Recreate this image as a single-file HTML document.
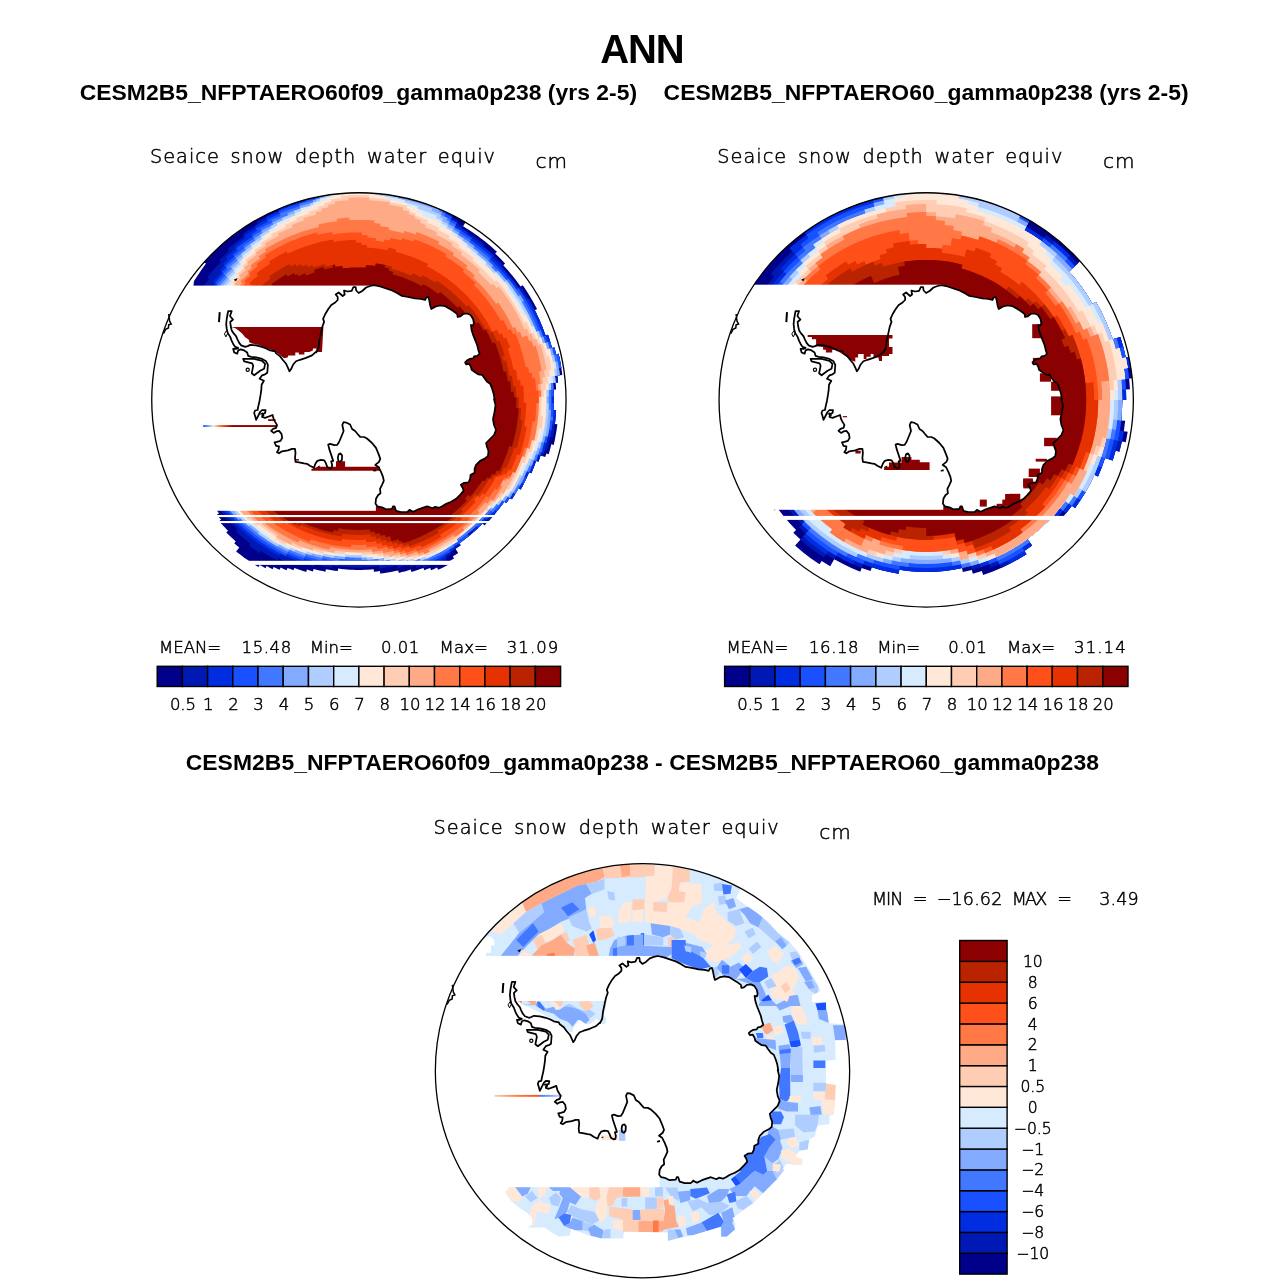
<!DOCTYPE html><html><head><meta charset="utf-8"><title>ANN</title><style>html,body{margin:0;padding:0;background:#fff}svg{display:block}</style></head><body><svg width="1285" height="1284" viewBox="0 0 1285 1284">
<rect width="1285" height="1284" fill="#fff"/>
<defs>
<clipPath id="cc1"><circle cx="358.9" cy="399.9" r="207.15"/></clipPath>
<clipPath id="cc2"><circle cx="926.2" cy="399.9" r="207.15"/></clipPath>
<clipPath id="cc3"><circle cx="642.5" cy="1070.8" r="207.15"/></clipPath>
</defs>
<text x="600.2" y="63" font-size="40" style="font-family:'Liberation Sans',Arial,Helvetica,sans-serif;font-weight:bold" text-anchor="start" textLength="84.5" lengthAdjust="spacing" >ANN</text>
<text x="79.7" y="99.9" font-size="22.9" style="font-family:'Liberation Sans',Arial,Helvetica,sans-serif;font-weight:bold" text-anchor="start" textLength="557.3" lengthAdjust="spacing" >CESM2B5_NFPTAERO60f09_gamma0p238 (yrs 2-5)</text>
<text x="663.6" y="99.9" font-size="22.9" style="font-family:'Liberation Sans',Arial,Helvetica,sans-serif;font-weight:bold" text-anchor="start" textLength="525" lengthAdjust="spacing" >CESM2B5_NFPTAERO60_gamma0p238 (yrs 2-5)</text>
<text x="185.7" y="770.4" font-size="22.9" style="font-family:'Liberation Sans',Arial,Helvetica,sans-serif;font-weight:bold" text-anchor="start" textLength="913.2" lengthAdjust="spacing" >CESM2B5_NFPTAERO60f09_gamma0p238 - CESM2B5_NFPTAERO60_gamma0p238</text>
<text x="149.9" y="163.4" font-size="19.3" style="font-family:'DejaVu Sans Light','DejaVu Sans','Liberation Sans',sans-serif;font-weight:200;stroke:#000;stroke-width:0.5;word-spacing:3.5px" text-anchor="start" textLength="345.1" lengthAdjust="spacing" >Seaice snow depth water equiv</text>
<text x="535.6" y="167.6" font-size="20" style="font-family:'DejaVu Sans Light','DejaVu Sans','Liberation Sans',sans-serif;font-weight:200;stroke:#000;stroke-width:0.5" text-anchor="start" textLength="31.5" lengthAdjust="spacing" >cm</text>
<text x="717.3" y="163.4" font-size="19.3" style="font-family:'DejaVu Sans Light','DejaVu Sans','Liberation Sans',sans-serif;font-weight:200;stroke:#000;stroke-width:0.5;word-spacing:3.5px" text-anchor="start" textLength="345.1" lengthAdjust="spacing" >Seaice snow depth water equiv</text>
<text x="1103" y="167.6" font-size="20" style="font-family:'DejaVu Sans Light','DejaVu Sans','Liberation Sans',sans-serif;font-weight:200;stroke:#000;stroke-width:0.5" text-anchor="start" textLength="31.5" lengthAdjust="spacing" >cm</text>
<text x="433.6" y="834.3" font-size="19.3" style="font-family:'DejaVu Sans Light','DejaVu Sans','Liberation Sans',sans-serif;font-weight:200;stroke:#000;stroke-width:0.5;word-spacing:3.5px" text-anchor="start" textLength="345.1" lengthAdjust="spacing" >Seaice snow depth water equiv</text>
<text x="819.3" y="838.5" font-size="20" style="font-family:'DejaVu Sans Light','DejaVu Sans','Liberation Sans',sans-serif;font-weight:200;stroke:#000;stroke-width:0.5" text-anchor="start" textLength="31.5" lengthAdjust="spacing" >cm</text>
<rect x="157.2" y="666.3" width="25.2" height="20.2" fill="#00008b" stroke="#000" stroke-width="1.4"/>
<rect x="182.4" y="666.3" width="25.2" height="20.2" fill="#0019b4" stroke="#000" stroke-width="1.4"/>
<rect x="207.6" y="666.3" width="25.2" height="20.2" fill="#002de1" stroke="#000" stroke-width="1.4"/>
<rect x="232.8" y="666.3" width="25.2" height="20.2" fill="#1950ff" stroke="#000" stroke-width="1.4"/>
<rect x="258" y="666.3" width="25.2" height="20.2" fill="#4178ff" stroke="#000" stroke-width="1.4"/>
<rect x="283.2" y="666.3" width="25.2" height="20.2" fill="#82aaff" stroke="#000" stroke-width="1.4"/>
<rect x="308.5" y="666.3" width="25.2" height="20.2" fill="#afcdff" stroke="#000" stroke-width="1.4"/>
<rect x="333.7" y="666.3" width="25.2" height="20.2" fill="#d7ebff" stroke="#000" stroke-width="1.4"/>
<rect x="358.9" y="666.3" width="25.2" height="20.2" fill="#ffe8d7" stroke="#000" stroke-width="1.4"/>
<rect x="384.1" y="666.3" width="25.2" height="20.2" fill="#ffcdb4" stroke="#000" stroke-width="1.4"/>
<rect x="409.3" y="666.3" width="25.2" height="20.2" fill="#ffaa87" stroke="#000" stroke-width="1.4"/>
<rect x="434.5" y="666.3" width="25.2" height="20.2" fill="#ff7846" stroke="#000" stroke-width="1.4"/>
<rect x="459.7" y="666.3" width="25.2" height="20.2" fill="#ff5019" stroke="#000" stroke-width="1.4"/>
<rect x="484.9" y="666.3" width="25.2" height="20.2" fill="#e63200" stroke="#000" stroke-width="1.4"/>
<rect x="510.1" y="666.3" width="25.2" height="20.2" fill="#b92300" stroke="#000" stroke-width="1.4"/>
<rect x="535.4" y="666.3" width="25.2" height="20.2" fill="#8b0000" stroke="#000" stroke-width="1.4"/>
<text x="183" y="709.6" font-size="16.5" style="font-family:'DejaVu Sans Light','DejaVu Sans','Liberation Sans',sans-serif;font-weight:200;stroke:#000;stroke-width:0.5" text-anchor="middle" >0.5</text>
<text x="208.2" y="709.6" font-size="16.5" style="font-family:'DejaVu Sans Light','DejaVu Sans','Liberation Sans',sans-serif;font-weight:200;stroke:#000;stroke-width:0.5" text-anchor="middle" >1</text>
<text x="233.4" y="709.6" font-size="16.5" style="font-family:'DejaVu Sans Light','DejaVu Sans','Liberation Sans',sans-serif;font-weight:200;stroke:#000;stroke-width:0.5" text-anchor="middle" >2</text>
<text x="258.6" y="709.6" font-size="16.5" style="font-family:'DejaVu Sans Light','DejaVu Sans','Liberation Sans',sans-serif;font-weight:200;stroke:#000;stroke-width:0.5" text-anchor="middle" >3</text>
<text x="283.9" y="709.6" font-size="16.5" style="font-family:'DejaVu Sans Light','DejaVu Sans','Liberation Sans',sans-serif;font-weight:200;stroke:#000;stroke-width:0.5" text-anchor="middle" >4</text>
<text x="309.1" y="709.6" font-size="16.5" style="font-family:'DejaVu Sans Light','DejaVu Sans','Liberation Sans',sans-serif;font-weight:200;stroke:#000;stroke-width:0.5" text-anchor="middle" >5</text>
<text x="334.3" y="709.6" font-size="16.5" style="font-family:'DejaVu Sans Light','DejaVu Sans','Liberation Sans',sans-serif;font-weight:200;stroke:#000;stroke-width:0.5" text-anchor="middle" >6</text>
<text x="359.5" y="709.6" font-size="16.5" style="font-family:'DejaVu Sans Light','DejaVu Sans','Liberation Sans',sans-serif;font-weight:200;stroke:#000;stroke-width:0.5" text-anchor="middle" >7</text>
<text x="384.7" y="709.6" font-size="16.5" style="font-family:'DejaVu Sans Light','DejaVu Sans','Liberation Sans',sans-serif;font-weight:200;stroke:#000;stroke-width:0.5" text-anchor="middle" >8</text>
<text x="409.9" y="709.6" font-size="16.5" style="font-family:'DejaVu Sans Light','DejaVu Sans','Liberation Sans',sans-serif;font-weight:200;stroke:#000;stroke-width:0.5" text-anchor="middle" >10</text>
<text x="435.1" y="709.6" font-size="16.5" style="font-family:'DejaVu Sans Light','DejaVu Sans','Liberation Sans',sans-serif;font-weight:200;stroke:#000;stroke-width:0.5" text-anchor="middle" >12</text>
<text x="460.3" y="709.6" font-size="16.5" style="font-family:'DejaVu Sans Light','DejaVu Sans','Liberation Sans',sans-serif;font-weight:200;stroke:#000;stroke-width:0.5" text-anchor="middle" >14</text>
<text x="485.5" y="709.6" font-size="16.5" style="font-family:'DejaVu Sans Light','DejaVu Sans','Liberation Sans',sans-serif;font-weight:200;stroke:#000;stroke-width:0.5" text-anchor="middle" >16</text>
<text x="510.7" y="709.6" font-size="16.5" style="font-family:'DejaVu Sans Light','DejaVu Sans','Liberation Sans',sans-serif;font-weight:200;stroke:#000;stroke-width:0.5" text-anchor="middle" >18</text>
<text x="536" y="709.6" font-size="16.5" style="font-family:'DejaVu Sans Light','DejaVu Sans','Liberation Sans',sans-serif;font-weight:200;stroke:#000;stroke-width:0.5" text-anchor="middle" >20</text>
<text x="159.1" y="652.6" font-size="16.5" style="font-family:'DejaVu Sans Light','DejaVu Sans','Liberation Sans',sans-serif;font-weight:200;stroke:#000;stroke-width:0.5" text-anchor="start" textLength="61.9" lengthAdjust="spacing" >MEAN=</text>
<text x="241.6" y="652.6" font-size="16.5" style="font-family:'DejaVu Sans Light','DejaVu Sans','Liberation Sans',sans-serif;font-weight:200;stroke:#000;stroke-width:0.5" text-anchor="start" textLength="49.6" lengthAdjust="spacing" >15.48</text>
<text x="309.8" y="652.6" font-size="16.5" style="font-family:'DejaVu Sans Light','DejaVu Sans','Liberation Sans',sans-serif;font-weight:200;stroke:#000;stroke-width:0.5" text-anchor="start" textLength="43" lengthAdjust="spacing" >Min=</text>
<text x="380.9" y="652.6" font-size="16.5" style="font-family:'DejaVu Sans Light','DejaVu Sans','Liberation Sans',sans-serif;font-weight:200;stroke:#000;stroke-width:0.5" text-anchor="start" textLength="38.4" lengthAdjust="spacing" >0.01</text>
<text x="439.6" y="652.6" font-size="16.5" style="font-family:'DejaVu Sans Light','DejaVu Sans','Liberation Sans',sans-serif;font-weight:200;stroke:#000;stroke-width:0.5" text-anchor="start" textLength="48.2" lengthAdjust="spacing" >Max=</text>
<text x="506.7" y="652.6" font-size="16.5" style="font-family:'DejaVu Sans Light','DejaVu Sans','Liberation Sans',sans-serif;font-weight:200;stroke:#000;stroke-width:0.5" text-anchor="start" textLength="51.6" lengthAdjust="spacing" >31.09</text>
<rect x="724.6" y="666.3" width="25.2" height="20.2" fill="#00008b" stroke="#000" stroke-width="1.4"/>
<rect x="749.8" y="666.3" width="25.2" height="20.2" fill="#0019b4" stroke="#000" stroke-width="1.4"/>
<rect x="775" y="666.3" width="25.2" height="20.2" fill="#002de1" stroke="#000" stroke-width="1.4"/>
<rect x="800.2" y="666.3" width="25.2" height="20.2" fill="#1950ff" stroke="#000" stroke-width="1.4"/>
<rect x="825.4" y="666.3" width="25.2" height="20.2" fill="#4178ff" stroke="#000" stroke-width="1.4"/>
<rect x="850.6" y="666.3" width="25.2" height="20.2" fill="#82aaff" stroke="#000" stroke-width="1.4"/>
<rect x="875.9" y="666.3" width="25.2" height="20.2" fill="#afcdff" stroke="#000" stroke-width="1.4"/>
<rect x="901.1" y="666.3" width="25.2" height="20.2" fill="#d7ebff" stroke="#000" stroke-width="1.4"/>
<rect x="926.3" y="666.3" width="25.2" height="20.2" fill="#ffe8d7" stroke="#000" stroke-width="1.4"/>
<rect x="951.5" y="666.3" width="25.2" height="20.2" fill="#ffcdb4" stroke="#000" stroke-width="1.4"/>
<rect x="976.7" y="666.3" width="25.2" height="20.2" fill="#ffaa87" stroke="#000" stroke-width="1.4"/>
<rect x="1001.9" y="666.3" width="25.2" height="20.2" fill="#ff7846" stroke="#000" stroke-width="1.4"/>
<rect x="1027.1" y="666.3" width="25.2" height="20.2" fill="#ff5019" stroke="#000" stroke-width="1.4"/>
<rect x="1052.3" y="666.3" width="25.2" height="20.2" fill="#e63200" stroke="#000" stroke-width="1.4"/>
<rect x="1077.5" y="666.3" width="25.2" height="20.2" fill="#b92300" stroke="#000" stroke-width="1.4"/>
<rect x="1102.8" y="666.3" width="25.2" height="20.2" fill="#8b0000" stroke="#000" stroke-width="1.4"/>
<text x="750.4" y="709.6" font-size="16.5" style="font-family:'DejaVu Sans Light','DejaVu Sans','Liberation Sans',sans-serif;font-weight:200;stroke:#000;stroke-width:0.5" text-anchor="middle" >0.5</text>
<text x="775.6" y="709.6" font-size="16.5" style="font-family:'DejaVu Sans Light','DejaVu Sans','Liberation Sans',sans-serif;font-weight:200;stroke:#000;stroke-width:0.5" text-anchor="middle" >1</text>
<text x="800.8" y="709.6" font-size="16.5" style="font-family:'DejaVu Sans Light','DejaVu Sans','Liberation Sans',sans-serif;font-weight:200;stroke:#000;stroke-width:0.5" text-anchor="middle" >2</text>
<text x="826" y="709.6" font-size="16.5" style="font-family:'DejaVu Sans Light','DejaVu Sans','Liberation Sans',sans-serif;font-weight:200;stroke:#000;stroke-width:0.5" text-anchor="middle" >3</text>
<text x="851.2" y="709.6" font-size="16.5" style="font-family:'DejaVu Sans Light','DejaVu Sans','Liberation Sans',sans-serif;font-weight:200;stroke:#000;stroke-width:0.5" text-anchor="middle" >4</text>
<text x="876.5" y="709.6" font-size="16.5" style="font-family:'DejaVu Sans Light','DejaVu Sans','Liberation Sans',sans-serif;font-weight:200;stroke:#000;stroke-width:0.5" text-anchor="middle" >5</text>
<text x="901.7" y="709.6" font-size="16.5" style="font-family:'DejaVu Sans Light','DejaVu Sans','Liberation Sans',sans-serif;font-weight:200;stroke:#000;stroke-width:0.5" text-anchor="middle" >6</text>
<text x="926.9" y="709.6" font-size="16.5" style="font-family:'DejaVu Sans Light','DejaVu Sans','Liberation Sans',sans-serif;font-weight:200;stroke:#000;stroke-width:0.5" text-anchor="middle" >7</text>
<text x="952.1" y="709.6" font-size="16.5" style="font-family:'DejaVu Sans Light','DejaVu Sans','Liberation Sans',sans-serif;font-weight:200;stroke:#000;stroke-width:0.5" text-anchor="middle" >8</text>
<text x="977.3" y="709.6" font-size="16.5" style="font-family:'DejaVu Sans Light','DejaVu Sans','Liberation Sans',sans-serif;font-weight:200;stroke:#000;stroke-width:0.5" text-anchor="middle" >10</text>
<text x="1002.5" y="709.6" font-size="16.5" style="font-family:'DejaVu Sans Light','DejaVu Sans','Liberation Sans',sans-serif;font-weight:200;stroke:#000;stroke-width:0.5" text-anchor="middle" >12</text>
<text x="1027.7" y="709.6" font-size="16.5" style="font-family:'DejaVu Sans Light','DejaVu Sans','Liberation Sans',sans-serif;font-weight:200;stroke:#000;stroke-width:0.5" text-anchor="middle" >14</text>
<text x="1052.9" y="709.6" font-size="16.5" style="font-family:'DejaVu Sans Light','DejaVu Sans','Liberation Sans',sans-serif;font-weight:200;stroke:#000;stroke-width:0.5" text-anchor="middle" >16</text>
<text x="1078.1" y="709.6" font-size="16.5" style="font-family:'DejaVu Sans Light','DejaVu Sans','Liberation Sans',sans-serif;font-weight:200;stroke:#000;stroke-width:0.5" text-anchor="middle" >18</text>
<text x="1103.3" y="709.6" font-size="16.5" style="font-family:'DejaVu Sans Light','DejaVu Sans','Liberation Sans',sans-serif;font-weight:200;stroke:#000;stroke-width:0.5" text-anchor="middle" >20</text>
<text x="726.5" y="652.6" font-size="16.5" style="font-family:'DejaVu Sans Light','DejaVu Sans','Liberation Sans',sans-serif;font-weight:200;stroke:#000;stroke-width:0.5" text-anchor="start" textLength="61.9" lengthAdjust="spacing" >MEAN=</text>
<text x="809" y="652.6" font-size="16.5" style="font-family:'DejaVu Sans Light','DejaVu Sans','Liberation Sans',sans-serif;font-weight:200;stroke:#000;stroke-width:0.5" text-anchor="start" textLength="49.6" lengthAdjust="spacing" >16.18</text>
<text x="877.2" y="652.6" font-size="16.5" style="font-family:'DejaVu Sans Light','DejaVu Sans','Liberation Sans',sans-serif;font-weight:200;stroke:#000;stroke-width:0.5" text-anchor="start" textLength="43" lengthAdjust="spacing" >Min=</text>
<text x="948.3" y="652.6" font-size="16.5" style="font-family:'DejaVu Sans Light','DejaVu Sans','Liberation Sans',sans-serif;font-weight:200;stroke:#000;stroke-width:0.5" text-anchor="start" textLength="38.4" lengthAdjust="spacing" >0.01</text>
<text x="1007" y="652.6" font-size="16.5" style="font-family:'DejaVu Sans Light','DejaVu Sans','Liberation Sans',sans-serif;font-weight:200;stroke:#000;stroke-width:0.5" text-anchor="start" textLength="48.2" lengthAdjust="spacing" >Max=</text>
<text x="1074.1" y="652.6" font-size="16.5" style="font-family:'DejaVu Sans Light','DejaVu Sans','Liberation Sans',sans-serif;font-weight:200;stroke:#000;stroke-width:0.5" text-anchor="start" textLength="51.6" lengthAdjust="spacing" >31.14</text>
<rect x="959.7" y="1253.2" width="47.4" height="20.9" fill="#00008b" stroke="#000" stroke-width="1.4"/>
<rect x="959.7" y="1232.4" width="47.4" height="20.9" fill="#0019b4" stroke="#000" stroke-width="1.4"/>
<rect x="959.7" y="1211.5" width="47.4" height="20.9" fill="#002de1" stroke="#000" stroke-width="1.4"/>
<rect x="959.7" y="1190.7" width="47.4" height="20.9" fill="#1950ff" stroke="#000" stroke-width="1.4"/>
<rect x="959.7" y="1169.8" width="47.4" height="20.9" fill="#4178ff" stroke="#000" stroke-width="1.4"/>
<rect x="959.7" y="1149" width="47.4" height="20.9" fill="#82aaff" stroke="#000" stroke-width="1.4"/>
<rect x="959.7" y="1128.1" width="47.4" height="20.9" fill="#afcdff" stroke="#000" stroke-width="1.4"/>
<rect x="959.7" y="1107.3" width="47.4" height="20.9" fill="#d7ebff" stroke="#000" stroke-width="1.4"/>
<rect x="959.7" y="1086.4" width="47.4" height="20.9" fill="#ffe8d7" stroke="#000" stroke-width="1.4"/>
<rect x="959.7" y="1065.6" width="47.4" height="20.9" fill="#ffcdb4" stroke="#000" stroke-width="1.4"/>
<rect x="959.7" y="1044.8" width="47.4" height="20.9" fill="#ffaa87" stroke="#000" stroke-width="1.4"/>
<rect x="959.7" y="1023.9" width="47.4" height="20.9" fill="#ff7846" stroke="#000" stroke-width="1.4"/>
<rect x="959.7" y="1003" width="47.4" height="20.9" fill="#ff5019" stroke="#000" stroke-width="1.4"/>
<rect x="959.7" y="982.2" width="47.4" height="20.9" fill="#e63200" stroke="#000" stroke-width="1.4"/>
<rect x="959.7" y="961.3" width="47.4" height="20.9" fill="#b92300" stroke="#000" stroke-width="1.4"/>
<rect x="959.7" y="940.5" width="47.4" height="20.9" fill="#8b0000" stroke="#000" stroke-width="1.4"/>
<text x="1032.8" y="1258.8" font-size="15.6" style="font-family:'DejaVu Sans Light','DejaVu Sans','Liberation Sans',sans-serif;font-weight:200;stroke:#000;stroke-width:0.5" text-anchor="middle" >−10</text>
<text x="1032.8" y="1238" font-size="15.6" style="font-family:'DejaVu Sans Light','DejaVu Sans','Liberation Sans',sans-serif;font-weight:200;stroke:#000;stroke-width:0.5" text-anchor="middle" >−8</text>
<text x="1032.8" y="1217.1" font-size="15.6" style="font-family:'DejaVu Sans Light','DejaVu Sans','Liberation Sans',sans-serif;font-weight:200;stroke:#000;stroke-width:0.5" text-anchor="middle" >−6</text>
<text x="1032.8" y="1196.3" font-size="15.6" style="font-family:'DejaVu Sans Light','DejaVu Sans','Liberation Sans',sans-serif;font-weight:200;stroke:#000;stroke-width:0.5" text-anchor="middle" >−4</text>
<text x="1032.8" y="1175.4" font-size="15.6" style="font-family:'DejaVu Sans Light','DejaVu Sans','Liberation Sans',sans-serif;font-weight:200;stroke:#000;stroke-width:0.5" text-anchor="middle" >−2</text>
<text x="1032.8" y="1154.6" font-size="15.6" style="font-family:'DejaVu Sans Light','DejaVu Sans','Liberation Sans',sans-serif;font-weight:200;stroke:#000;stroke-width:0.5" text-anchor="middle" >−1</text>
<text x="1032.8" y="1133.7" font-size="15.6" style="font-family:'DejaVu Sans Light','DejaVu Sans','Liberation Sans',sans-serif;font-weight:200;stroke:#000;stroke-width:0.5" text-anchor="middle" >−0.5</text>
<text x="1032.8" y="1112.9" font-size="15.6" style="font-family:'DejaVu Sans Light','DejaVu Sans','Liberation Sans',sans-serif;font-weight:200;stroke:#000;stroke-width:0.5" text-anchor="middle" >0</text>
<text x="1032.8" y="1092" font-size="15.6" style="font-family:'DejaVu Sans Light','DejaVu Sans','Liberation Sans',sans-serif;font-weight:200;stroke:#000;stroke-width:0.5" text-anchor="middle" >0.5</text>
<text x="1032.8" y="1071.2" font-size="15.6" style="font-family:'DejaVu Sans Light','DejaVu Sans','Liberation Sans',sans-serif;font-weight:200;stroke:#000;stroke-width:0.5" text-anchor="middle" >1</text>
<text x="1032.8" y="1050.3" font-size="15.6" style="font-family:'DejaVu Sans Light','DejaVu Sans','Liberation Sans',sans-serif;font-weight:200;stroke:#000;stroke-width:0.5" text-anchor="middle" >2</text>
<text x="1032.8" y="1029.5" font-size="15.6" style="font-family:'DejaVu Sans Light','DejaVu Sans','Liberation Sans',sans-serif;font-weight:200;stroke:#000;stroke-width:0.5" text-anchor="middle" >4</text>
<text x="1032.8" y="1008.6" font-size="15.6" style="font-family:'DejaVu Sans Light','DejaVu Sans','Liberation Sans',sans-serif;font-weight:200;stroke:#000;stroke-width:0.5" text-anchor="middle" >6</text>
<text x="1032.8" y="987.8" font-size="15.6" style="font-family:'DejaVu Sans Light','DejaVu Sans','Liberation Sans',sans-serif;font-weight:200;stroke:#000;stroke-width:0.5" text-anchor="middle" >8</text>
<text x="1032.8" y="966.9" font-size="15.6" style="font-family:'DejaVu Sans Light','DejaVu Sans','Liberation Sans',sans-serif;font-weight:200;stroke:#000;stroke-width:0.5" text-anchor="middle" >10</text>
<text x="872" y="905" font-size="17.5" style="font-family:'DejaVu Sans Light','DejaVu Sans','Liberation Sans',sans-serif;font-weight:200;stroke:#000;stroke-width:0.5" text-anchor="start" textLength="31.3" lengthAdjust="spacing" >MIN</text>
<text x="912.7" y="905" font-size="17.5" style="font-family:'DejaVu Sans Light','DejaVu Sans','Liberation Sans',sans-serif;font-weight:200;stroke:#000;stroke-width:0.5" text-anchor="start" textLength="14.1" lengthAdjust="spacing" >=</text>
<text x="936.7" y="905" font-size="17.5" style="font-family:'DejaVu Sans Light','DejaVu Sans','Liberation Sans',sans-serif;font-weight:200;stroke:#000;stroke-width:0.5" text-anchor="start" textLength="65.6" lengthAdjust="spacing" >−16.62</text>
<text x="1011.7" y="905" font-size="17.5" style="font-family:'DejaVu Sans Light','DejaVu Sans','Liberation Sans',sans-serif;font-weight:200;stroke:#000;stroke-width:0.5" text-anchor="start" textLength="35.6" lengthAdjust="spacing" >MAX</text>
<text x="1057.2" y="905" font-size="17.5" style="font-family:'DejaVu Sans Light','DejaVu Sans','Liberation Sans',sans-serif;font-weight:200;stroke:#000;stroke-width:0.5" text-anchor="start" textLength="14.1" lengthAdjust="spacing" >=</text>
<text x="1099.2" y="905" font-size="17.5" style="font-family:'DejaVu Sans Light','DejaVu Sans','Liberation Sans',sans-serif;font-weight:200;stroke:#000;stroke-width:0.5" text-anchor="start" textLength="39.4" lengthAdjust="spacing" >3.49</text>
<g clip-path="url(#cc1)">
<path d="M150.7 399.9 L150.7 396.3 L150.7 396.3 L150.8 392.6 L150.8 392.6 L151 389 L151 389 L151.2 385.4 L151.2 385.4 L151.5 381.8 L151.5 381.8 L151.8 378.1 L151.8 378.1 L152.3 374.5 L152.3 374.5 L152.7 370.9 L152.7 370.9 L153.3 367.3 L153.3 367.3 L153.9 363.8 L153.9 363.8 L154.5 360.2 L154.5 360.2 L155.2 356.6 L155.2 356.6 L156 353.1 L156 353.1 L156.9 349.5 L156.9 349.5 L157.8 346 L157.8 346 L158.8 342.5 L158.8 342.5 L159.8 339 L159.8 339 L160.9 335.6 L160.9 335.6 L162 332.1 L162 332.1 L163.3 328.7 L163.3 328.7 L164.5 325.3 L164.5 325.3 L165.9 321.9 L165.9 321.9 L167.2 318.6 L167.2 318.6 L168.7 315.2 L168.7 315.2 L170.2 311.9 L170.2 311.9 L171.8 308.7 L171.8 308.7 L173.4 305.4 L173.4 305.4 L175.1 302.2 L175.1 302.2 L176.8 299 L176.8 299 L178.6 295.8 L178.6 295.8 L180.4 292.7 L180.4 292.7 L182.3 289.6 L182.3 289.6 L184.3 286.5 L184.3 286.5 L186.3 283.5 L186.3 283.5 L188.3 280.5 L188.3 280.5 L190.5 277.6 L190.5 277.6 L192.6 274.6 L192.6 274.6 L194.8 271.8 L194.8 271.8 L197.1 268.9 L197.1 268.9 L199.4 266.1 L199.4 266.1 L201.8 263.3 L201.8 263.3 L204.2 260.6 L204.2 260.6 L206.6 257.9 L206.6 257.9 L209.1 255.3 L209.1 255.3 L211.7 252.7 L211.7 252.7 L214.3 250.2 L214.3 250.2 L216.9 247.7 L216.9 247.7 L219.6 245.2 L219.6 245.2 L222.3 242.8 L222.3 242.8 L225.1 240.4 L225.1 240.4 L227.9 238.1 L227.9 238.1 L230.7 235.9 L230.7 235.9 L233.6 233.7 L233.6 233.7 L236.5 231.5 L236.5 231.5 L239.5 229.4 L239.5 229.4 L242.5 227.3 L242.5 227.3 L245.5 225.3 L245.5 225.3 L248.5 223.4 L248.5 223.4 L251.6 221.5 L251.6 221.5 L254.8 219.6 L254.8 219.6 L257.9 217.8 L257.9 217.8 L261.1 216.1 L261.1 216.1 L264.4 214.4 L264.4 214.4 L267.6 212.8 L267.6 212.8 L270.9 211.3 L270.9 211.3 L274.2 209.7 L274.2 209.7 L277.5 208.3 L277.5 208.3 L280.9 206.9 L280.9 206.9 L284.3 205.6 L284.3 205.6 L287.7 204.3 L287.7 204.3 L291.1 203.1 L291.1 203.1 L294.5 201.9 L294.5 201.9 L298 200.8 L298 200.8 L301.5 199.8 L301.5 199.8 L305 198.8 L305 198.8 L308.5 197.9 L308.5 197.9 L312 197.1 L312 197.1 L315.6 196.3 L315.6 196.3 L319.1 195.6 L319.1 195.6 L322.7 194.9 L322.7 194.9 L326.3 194.3 L326.3 194.3 L329.9 193.8 L329.9 193.8 L333.5 193.3 L333.5 193.3 L337.1 192.9 L337.1 192.9 L340.7 192.5 L340.7 192.5 L344.3 192.3 L344.3 192.3 L348 192 L348 192 L351.6 191.9 L351.6 191.9 L355.2 191.8 L355.2 191.8 L358.9 191.7 L358.9 191.7 L362.5 191.8 L362.5 191.8 L366.1 191.9 L366.1 191.9 L369.7 192 L369.7 192 L373.4 192.3 L373.4 192.3 L377 192.5 L377 192.5 L380.6 192.9 L380.6 192.9 L384.2 193.3 L384.2 193.3 L387.8 193.8 L387.8 193.8 L391.4 194.3 L391.4 194.3 L395 194.9 L395 194.9 L398.6 195.6 L398.6 195.6 L402.1 196.3 L402.1 196.3 L405.7 197.1 L405.7 197.1 L409.2 197.9 L409.2 197.9 L412.7 198.8 L412.7 198.8 L416.2 199.8 L416.2 199.8 L419.7 200.8 L419.7 200.8 L423.2 201.9 L423.2 201.9 L426.6 203.1 L426.6 203.1 L430 204.3 L430 204.3 L433.4 205.6 L433.4 205.6 L436.8 206.9 L436.8 206.9 L440.2 208.3 L440.2 208.3 L443.5 209.7 L443.5 209.7 L446.8 211.3 L446.8 211.3 L450.1 212.8 L450.1 212.8 L453.3 214.4 L453.3 214.4 L456.6 216.1 L456.6 216.1 L459.8 217.8 L459.4 218.4 L462.6 220.2 L462.6 220.2 L465.7 222 L463.1 226.3 L466.2 228.2 L466.2 228.2 L469.1 230.1 L469.1 230.1 L472.1 232 L472.1 232 L475 234 L475 234 L477.9 236.1 L477.9 236.1 L480.7 238.2 L480.7 238.2 L483.5 240.3 L483.5 240.3 L486.3 242.5 L486.3 242.5 L489 244.8 L489 244.8 L491.7 247.1 L491.7 247.1 L494.3 249.4 L494.3 249.4 L497 251.8 L495.2 253.6 L497.8 256 L497.8 256 L500.3 258.5 L500.3 258.5 L502.7 261 L502.7 261 L505.1 263.5 L503.3 265.2 L505.6 267.7 L505.6 267.7 L507.9 270.3 L507.9 270.3 L510.1 272.9 L510.1 272.9 L512.3 275.6 L512.3 275.6 L514.5 278.3 L514.5 278.3 L516.6 281 L516.6 281 L518.6 283.8 L518.6 283.8 L520.6 286.6 L522.7 285.2 L524.7 288.1 L524.7 288.1 L526.6 291 L526.6 291 L528.5 293.9 L528.5 293.9 L530.3 296.9 L530.3 296.9 L532.1 299.9 L532.1 299.9 L533.8 302.9 L533.8 302.9 L535.4 306 L535.4 306 L537.1 309.1 L534.8 310.2 L536.4 313.3 L536.4 313.3 L537.8 316.4 L537.8 316.4 L539.3 319.6 L539.3 319.6 L540.6 322.7 L540.6 322.7 L542 325.9 L542 325.9 L543.2 329.1 L543.2 329.1 L544.4 332.4 L544.4 332.4 L545.6 335.6 L548 334.8 L549.1 338.1 L549.1 338.1 L550.1 341.4 L550.1 341.4 L551.1 344.8 L551.1 344.8 L552 348.1 L554.4 347.5 L555.3 350.9 L555.3 350.9 L556.2 354.3 L558.6 353.8 L559.4 357.3 L559.4 357.3 L560.1 360.8 L560.1 360.8 L560.7 364.3 L560.7 364.3 L561.3 367.8 L561.3 367.8 L561.9 371.4 L561.9 371.4 L562.3 374.9 L557.4 375.5 L557.8 379 L557.8 379 L558.1 382.5 L555.6 382.7 L555.9 386.1 L555.9 386.1 L556.1 389.6 L553.6 389.7 L553.7 393.1 L553.7 393.1 L553.8 396.5 L553.8 396.5 L553.9 399.9 L553.9 399.9 L553.8 403.3 L553.8 403.3 L553.7 406.7 L553.7 406.7 L553.6 410.1 L556.1 410.2 L555.9 413.7 L555.9 413.7 L555.6 417.1 L555.6 417.1 L555.3 420.5 L555.3 420.5 L554.9 424 L557.4 424.3 L556.9 427.7 L556.9 427.7 L556.4 431.2 L556.4 431.2 L555.8 434.6 L555.8 434.6 L555.2 438.1 L555.2 438.1 L554.5 441.5 L554.5 441.5 L553.7 444.9 L551.3 444.3 L550.5 447.7 L550.5 447.7 L549.6 451 L549.6 451 L548.7 454.3 L546.3 453.6 L545.3 456.9 L540.5 455.5 L539.6 458.6 L539.6 458.6 L538.5 461.8 L536.1 460.9 L535 464 L535 464 L533.9 467.1 L533.9 467.1 L532.7 470.1 L532.7 470.1 L531.4 473.2 L529.1 472.2 L527.9 475.1 L527.9 475.1 L526.5 478.1 L526.5 478.1 L525.1 481 L525.1 481 L523.7 483.9 L523.7 483.9 L522.2 486.8 L522.2 486.8 L520.7 489.6 L518.5 488.4 L516.9 491.1 L516.9 491.1 L515.3 493.9 L515.3 493.9 L513.6 496.6 L513.6 496.6 L511.9 499.3 L509.8 497.9 L508.1 500.6 L508.1 500.6 L506.3 503.1 L504.2 501.7 L502.5 504.2 L502.5 504.2 L500.6 506.7 L500.6 506.7 L498.7 509.2 L498.7 509.2 L496.8 511.6 L496.8 511.6 L494.8 514 L494.8 514 L492.8 516.4 L492.8 516.4 L490.8 518.7 L490.8 518.7 L488.7 521 L488.7 521 L486.5 523.2 L486.5 523.2 L484.4 525.4 L482.6 523.6 L480.4 525.8 L480.4 525.8 L478.2 527.9 L478.2 527.9 L475.9 530 L475.9 530 L473.7 532 L473.7 532 L471.3 534 L471.3 534 L469 535.9 L469 535.9 L466.6 537.8 L466.6 537.8 L464.2 539.7 L464.2 539.7 L461.7 541.5 L461.7 541.5 L459.2 543.3 L460.7 545.3 L458.1 547.1 L458.1 547.1 L455.5 548.8 L458.2 553 L455.6 554.7 L455.6 554.7 L452.8 556.3 L454.1 558.5 L451.4 560.1 L451.4 560.1 L448.5 561.7 L449.8 563.9 L446.9 565.5 L446.9 565.5 L444 567 L444 567 L441 568.4 L441 568.4 L438.1 569.8 L437 567.6 L434.1 568.9 L434.1 568.9 L431.1 570.2 L430.2 567.9 L427.2 569.1 L427.2 569.1 L424.3 570.3 L423.4 567.9 L420.4 569 L420.4 569 L417.5 570.1 L417.5 570.1 L414.5 571.1 L414.5 571.1 L411.5 572 L410.7 569.6 L407.8 570.5 L407.8 570.5 L404.8 571.4 L404.8 571.4 L401.8 572.1 L401.8 572.1 L398.8 572.9 L398.2 570.4 L395.2 571.1 L395.2 571.1 L392.2 571.7 L392.2 571.7 L389.2 572.2 L389.2 572.2 L386.2 572.7 L386.2 572.7 L383.2 573.2 L383.2 573.2 L380.2 573.6 L379.9 571.1 L376.9 571.5 L376.9 571.5 L373.9 571.7 L373.7 569.3 L370.7 569.5 L370.7 569.5 L367.7 569.7 L367.7 569.7 L364.8 569.8 L364.8 569.8 L361.8 569.9 L361.8 569.9 L358.9 569.9 L358.9 569.9 L355.9 569.9 L355.9 569.9 L352.9 569.8 L352.9 569.8 L350 569.7 L350 569.7 L347 569.5 L347 569.5 L344 569.3 L344 569.3 L341.1 569 L341.1 569 L338.1 568.6 L337.8 571.1 L334.8 570.7 L334.8 570.7 L331.9 570.3 L331.9 570.3 L328.9 569.8 L328.9 569.8 L325.9 569.2 L325.5 571.7 L322.5 571.1 L322.5 571.1 L319.5 570.4 L319.5 570.4 L316.5 569.7 L316.5 569.7 L313.6 568.9 L312.9 571.4 L309.9 570.5 L309.9 570.5 L307 569.6 L306.2 572 L303.2 571.1 L303.2 571.1 L300.2 570.1 L300.2 570.1 L297.3 569 L297.3 569 L294.3 567.9 L293.4 570.3 L290.5 569.1 L290.5 569.1 L287.5 567.9 L286.6 570.2 L283.6 568.9 L283.6 568.9 L280.7 567.6 L279.6 569.8 L276.7 568.4 L276.7 568.4 L273.7 567 L272.6 569.2 L269.7 567.7 L269.7 567.7 L266.7 566.1 L265.5 568.3 L262.6 566.6 L262.6 566.6 L259.7 564.9 L258.4 567 L255.5 565.3 L255.5 565.3 L252.6 563.4 L252.6 563.4 L249.8 561.6 L249.8 561.6 L247 559.6 L247 559.6 L244.2 557.7 L244.2 557.7 L241.5 555.6 L241.5 555.6 L238.8 553.6 L238.8 553.6 L236.1 551.4 L239.3 547.6 L236.7 545.4 L236.7 545.4 L234.2 543.3 L235.8 541.4 L233.4 539.2 L233.4 539.2 L231 537 L231 537 L228.6 534.8 L228.6 534.8 L226.3 532.5 L228 530.7 L225.8 528.4 L225.8 528.4 L223.5 526.1 L223.5 526.1 L221.4 523.7 L221.4 523.7 L219.2 521.3 L221.1 519.6 L219 517.2 L219 517.2 L217 514.8 L219 513.2 L217 510.7 L217 510.7 L215.1 508.2 L213.1 509.7 L211.2 507.2 L211.2 507.2 L209.4 504.6 L209.4 504.6 L207.6 502 L207.6 502 L205.8 499.3 L203.7 500.7 L202 497.9 L202 497.9 L200.3 495.2 L198.1 496.5 L196.5 493.6 L196.5 493.6 L194.9 490.8 L192.7 492 L191.1 489.1 L191.1 489.1 L189.6 486.2 L189.6 486.2 L188.1 483.2 L188.1 483.2 L186.7 480.2 L184.4 481.3 L183 478.2 L183 478.2 L181.7 475.1 L179.4 476.1 L178 472.9 L178 472.9 L176.8 469.8 L176.8 469.8 L175.6 466.6 L175.6 466.6 L174.5 463.4 L172.1 464.2 L171 460.9 L171 460.9 L170 457.6 L167.6 458.4 L166.6 455 L166.6 455 L165.7 451.7 L163.3 452.3 L162.4 448.9 L162.4 448.9 L161.5 445.5 L161.5 445.5 L160.8 442 L160.8 442 L160.1 438.5 L157.6 439 L157 435.5 L157 435.5 L156.4 432 L153.9 432.4 L153.4 428.8 L153.4 428.8 L152.9 425.2 L152.3 425.3 L151.8 421.7 L151.8 421.7 L151.5 418 L151.5 418 L151.2 414.4 L151.2 414.4 L151 410.8 L151 410.8 L150.8 407.2 L150.8 407.2 L150.7 403.5 L150.7 403.5 L150.7 399.9Z" fill="#00008b"/>
<path d="M168.9 399.9 L168.9 396.6 L168.9 396.6 L169 393.3 L169 393.3 L169.1 390 L169.1 390 L169.3 386.6 L169.3 386.6 L169.6 383.3 L169.6 383.3 L169.9 380 L169.9 380 L170.3 376.7 L170.3 376.7 L170.7 373.5 L170.7 373.5 L171.2 370.2 L171.2 370.2 L171.7 366.9 L171.7 366.9 L172.3 363.6 L172.3 363.6 L173 360.4 L173 360.4 L173.7 357.2 L173.7 357.2 L174.5 353.9 L174.5 353.9 L175.3 350.7 L175.3 350.7 L176.2 347.5 L176.2 347.5 L177.2 344.3 L177.2 344.3 L178.1 341.2 L178.1 341.2 L179.2 338 L179.2 338 L180.3 334.9 L180.3 334.9 L181.5 331.8 L181.5 331.8 L182.7 328.7 L182.7 328.7 L184 325.7 L184 325.7 L185.3 322.6 L185.3 322.6 L186.7 319.6 L184.4 318.5 L185.8 315.5 L185.8 315.5 L187.3 312.5 L187.3 312.5 L188.9 309.5 L188.9 309.5 L190.5 306.6 L190.5 306.6 L192.1 303.6 L192.1 303.6 L193.8 300.8 L193.8 300.8 L195.6 297.9 L195.6 297.9 L197.4 295.1 L197.4 295.1 L199.3 292.3 L199.3 292.3 L201.2 289.5 L201.2 289.5 L203.1 286.8 L203.1 286.8 L205.1 284.1 L205.1 284.1 L207.2 281.4 L207.2 281.4 L209.2 278.8 L207.3 277.2 L209.5 274.6 L209.5 274.6 L211.7 272 L211.7 272 L213.9 269.4 L213.9 269.4 L216.2 266.9 L216.2 266.9 L218.6 264.4 L218.6 264.4 L221 262 L219.2 260.2 L221.7 257.8 L221.7 257.8 L224.2 255.5 L224.2 255.5 L226.7 253.1 L226.7 253.1 L229.3 250.8 L227.6 249 L230.3 246.7 L230.3 246.7 L233 244.5 L233 244.5 L235.7 242.3 L235.7 242.3 L238.5 240.2 L238.5 240.2 L241.3 238.1 L241.3 238.1 L244.1 236.1 L242.7 234 L245.6 232 L245.6 232 L248.6 230.1 L248.6 230.1 L251.5 228.2 L251.5 228.2 L254.6 226.3 L254.6 226.3 L257.6 224.5 L256.4 222.4 L259.5 220.6 L259.5 220.6 L262.6 218.9 L262.6 218.9 L265.8 217.2 L265.8 217.2 L269 215.6 L269 215.6 L272.2 214.1 L272.2 214.1 L275.5 212.6 L275.5 212.6 L278.8 211.2 L277.5 208.3 L280.9 206.9 L280.9 206.9 L284.3 205.6 L284.3 205.6 L287.7 204.3 L287.7 204.3 L291.1 203.1 L291.1 203.1 L294.5 201.9 L294.5 201.9 L298 200.8 L298 200.8 L301.5 199.8 L301.5 199.8 L305 198.8 L305 198.8 L308.5 197.9 L308.5 197.9 L312 197.1 L312 197.1 L315.6 196.3 L315.6 196.3 L319.1 195.6 L319.1 195.6 L322.7 194.9 L322.7 194.9 L326.3 194.3 L326.3 194.3 L329.9 193.8 L329.9 193.8 L333.5 193.3 L333.5 193.3 L337.1 192.9 L337.1 192.9 L340.7 192.5 L340.7 192.5 L344.3 192.3 L344.3 192.3 L348 192 L348 192 L351.6 191.9 L351.6 191.9 L355.2 191.8 L355.2 191.8 L358.9 191.7 L358.9 191.7 L362.5 191.8 L362.5 191.8 L366.1 191.9 L366.1 191.9 L369.7 192 L369.7 192 L373.4 192.3 L373.4 192.3 L377 192.5 L377 192.5 L380.6 192.9 L380.6 192.9 L384.2 193.3 L384.2 193.3 L387.8 193.8 L387.8 193.8 L391.4 194.3 L391.4 194.3 L395 194.9 L395 194.9 L398.6 195.6 L398.6 195.6 L402.1 196.3 L402.1 196.3 L405.7 197.1 L405.7 197.1 L409.2 197.9 L409.2 197.9 L412.7 198.8 L412.7 198.8 L416.2 199.8 L416.2 199.8 L419.7 200.8 L419.7 200.8 L423.2 201.9 L423.2 201.9 L426.6 203.1 L426.6 203.1 L430 204.3 L430 204.3 L433.4 205.6 L433.4 205.6 L436.8 206.9 L436.8 206.9 L440.2 208.3 L440.2 208.3 L443.5 209.7 L443.5 209.7 L446.8 211.3 L446.8 211.3 L450.1 212.8 L450.1 212.8 L453.3 214.4 L451.9 217.2 L455.1 218.9 L455.1 218.9 L458.2 220.6 L457 222.8 L460.1 224.5 L460.1 224.5 L463.1 226.3 L461.9 228.5 L464.8 230.3 L464.8 230.3 L467.8 232.2 L467.8 232.2 L470.7 234.1 L470.7 234.1 L473.6 236.1 L473.6 236.1 L476.4 238.1 L476.4 238.1 L479.2 240.2 L479.2 240.2 L482 242.3 L482 242.3 L484.7 244.5 L483.1 246.4 L485.8 248.6 L485.8 248.6 L488.4 250.8 L488.4 250.8 L491 253.1 L491 253.1 L493.5 255.5 L493.5 255.5 L496 257.8 L496 257.8 L498.5 260.2 L498.5 260.2 L500.9 262.7 L500.9 262.7 L503.3 265.2 L501.5 266.9 L503.8 269.4 L503.8 269.4 L506 272 L506 272 L508.2 274.6 L508.2 274.6 L510.4 277.2 L510.4 277.2 L512.5 279.8 L512.5 279.8 L514.6 282.5 L514.6 282.5 L516.6 285.3 L516.6 285.3 L518.6 288.1 L520.6 286.6 L522.6 289.5 L522.6 289.5 L524.5 292.3 L524.5 292.3 L526.3 295.2 L526.3 295.2 L528.1 298.2 L528.1 298.2 L529.9 301.1 L529.9 301.1 L531.6 304.2 L531.6 304.2 L533.2 307.2 L533.2 307.2 L534.8 310.2 L534.8 310.2 L536.4 313.3 L536.4 313.3 L537.8 316.4 L537.8 316.4 L539.3 319.6 L539.3 319.6 L540.6 322.7 L540.6 322.7 L542 325.9 L542 325.9 L543.2 329.1 L543.2 329.1 L544.4 332.4 L544.4 332.4 L545.6 335.6 L548 334.8 L549.1 338.1 L549.1 338.1 L550.1 341.4 L550.1 341.4 L551.1 344.8 L551.1 344.8 L552 348.1 L554.4 347.5 L555.3 350.9 L555.3 350.9 L556.2 354.3 L558.6 353.8 L559.4 357.3 L559.4 357.3 L560.1 360.8 L560.1 360.8 L560.7 364.3 L560.7 364.3 L561.3 367.8 L558.9 368.2 L559.4 371.7 L559.4 371.7 L559.8 375.2 L557.4 375.5 L557.8 379 L557.8 379 L558.1 382.5 L553.1 382.9 L553.4 386.3 L553.4 386.3 L553.6 389.7 L553.6 389.7 L553.7 393.1 L553.7 393.1 L553.8 396.5 L553.8 396.5 L553.9 399.9 L553.9 399.9 L553.8 403.3 L553.8 403.3 L553.7 406.7 L553.7 406.7 L553.6 410.1 L556.1 410.2 L555.9 413.7 L555.9 413.7 L555.6 417.1 L555.6 417.1 L555.3 420.5 L555.3 420.5 L554.9 424 L554.9 424 L554.4 427.4 L554.4 427.4 L553.9 430.8 L553.9 430.8 L553.3 434.2 L553.3 434.2 L552.7 437.6 L550.3 437.1 L549.6 440.4 L549.6 440.4 L548.9 443.8 L548.9 443.8 L548.1 447.1 L548.1 447.1 L547.2 450.4 L544.8 449.7 L543.9 453 L543.9 453 L542.9 456.2 L540.5 455.5 L539.6 458.6 L539.6 458.6 L538.5 461.8 L536.1 460.9 L535 464 L535 464 L533.9 467.1 L533.9 467.1 L532.7 470.1 L532.7 470.1 L531.4 473.2 L529.1 472.2 L527.9 475.1 L527.9 475.1 L526.5 478.1 L526.5 478.1 L525.1 481 L525.1 481 L523.7 483.9 L523.7 483.9 L522.2 486.8 L522.2 486.8 L520.7 489.6 L518.5 488.4 L516.9 491.1 L516.9 491.1 L515.3 493.9 L515.3 493.9 L513.6 496.6 L513.6 496.6 L511.9 499.3 L509.8 497.9 L508.1 500.6 L508.1 500.6 L506.3 503.1 L504.2 501.7 L502.5 504.2 L502.5 504.2 L500.6 506.7 L500.6 506.7 L498.7 509.2 L498.7 509.2 L496.8 511.6 L496.8 511.6 L494.8 514 L494.8 514 L492.8 516.4 L492.8 516.4 L490.8 518.7 L490.8 518.7 L488.7 521 L486.8 519.2 L484.7 521.5 L484.7 521.5 L482.6 523.6 L482.6 523.6 L480.4 525.8 L480.4 525.8 L478.2 527.9 L478.2 527.9 L475.9 530 L475.9 530 L473.7 532 L473.7 532 L471.3 534 L471.3 534 L469 535.9 L469 535.9 L466.6 537.8 L466.6 537.8 L464.2 539.7 L464.2 539.7 L461.7 541.5 L461.7 541.5 L459.2 543.3 L460.7 545.3 L458.1 547.1 L458.1 547.1 L455.5 548.8 L455.5 548.8 L452.9 550.4 L452.9 550.4 L450.3 552 L451.6 554.2 L448.9 555.8 L448.9 555.8 L446.1 557.3 L447.3 559.5 L444.5 561 L444.5 561 L441.7 562.5 L441.7 562.5 L438.9 563.9 L438.9 563.9 L436 565.3 L434.9 563 L432.1 564.3 L432.1 564.3 L429.2 565.6 L429.2 565.6 L426.3 566.8 L426.3 566.8 L423.4 567.9 L422.5 565.6 L419.6 566.7 L419.6 566.7 L416.6 567.7 L415.8 565.4 L412.9 566.3 L412.9 566.3 L410 567.3 L409.3 564.9 L406.4 565.7 L406.4 565.7 L403.5 566.5 L403.5 566.5 L400.6 567.3 L400.6 567.3 L397.7 568 L397.1 565.5 L394.2 566.2 L394.2 566.2 L391.3 566.8 L391.3 566.8 L388.4 567.3 L388.4 567.3 L385.4 567.8 L385.4 567.8 L382.5 568.2 L382.5 568.2 L379.6 568.6 L379.3 566.2 L376.4 566.5 L376.4 566.5 L373.4 566.8 L373.4 566.8 L370.5 567 L370.5 567 L367.6 567.2 L367.6 567.2 L364.7 567.3 L364.7 567.3 L361.8 567.4 L361.8 567.4 L358.9 567.4 L358.9 567.4 L355.9 567.4 L355.9 567.4 L353 567.3 L353 567.3 L350.1 567.2 L350.1 567.2 L347.2 567 L347.2 567 L344.3 566.8 L344.3 566.8 L341.3 566.5 L341.3 566.5 L338.4 566.2 L338.4 566.2 L335.5 565.8 L335.5 565.8 L332.6 565.3 L332.3 567.8 L329.3 567.3 L329.3 567.3 L326.4 566.8 L326.4 566.8 L323.5 566.2 L323.5 566.2 L320.6 565.5 L320.6 565.5 L317.7 564.9 L317.7 564.9 L314.9 564.1 L314.2 566.5 L311.3 565.7 L311.3 565.7 L308.4 564.9 L308.4 564.9 L305.5 564 L305.5 564 L302.7 563 L301.9 565.4 L299 564.3 L299 564.3 L296.1 563.3 L296.1 563.3 L293.3 562.2 L293.3 562.2 L290.5 561 L289.5 563.3 L286.7 562.1 L286.7 562.1 L283.8 560.8 L283.8 560.8 L281 559.4 L281 559.4 L278.3 558.1 L277.1 560.3 L274.3 558.8 L274.3 558.8 L271.6 557.3 L271.6 557.3 L268.9 555.8 L268.9 555.8 L266.1 554.2 L266.1 554.2 L263.5 552.5 L263.5 552.5 L260.8 550.9 L259.5 553 L256.8 551.2 L256.8 551.2 L254.2 549.4 L254.2 549.4 L251.6 547.5 L251.6 547.5 L249 545.7 L250.5 543.7 L248 541.7 L248 541.7 L245.6 539.8 L245.6 539.8 L243.1 537.8 L243.1 537.8 L240.8 535.7 L240.8 535.7 L238.4 533.7 L238.4 533.7 L236.1 531.5 L237.8 529.7 L235.5 527.6 L235.5 527.6 L233.3 525.4 L233.3 525.4 L231.2 523.2 L231.2 523.2 L229 521 L229 521 L226.9 518.7 L226.9 518.7 L224.9 516.4 L224.9 516.4 L222.9 514 L222.9 514 L220.9 511.6 L220.9 511.6 L219 509.2 L219 509.2 L217.1 506.7 L217.1 506.7 L215.2 504.2 L215.2 504.2 L213.5 501.7 L213.5 501.7 L211.7 499.2 L211.7 499.2 L210 496.6 L210 496.6 L208.3 494 L208.3 494 L206.7 491.3 L204.6 492.6 L203 489.9 L203 489.9 L201.4 487.2 L201.4 487.2 L199.9 484.4 L199.9 484.4 L198.5 481.6 L198.5 481.6 L197.1 478.8 L197.1 478.8 L195.7 476 L193.4 477 L192.1 474.1 L192.1 474.1 L190.9 471.2 L190.9 471.2 L189.6 468.3 L189.6 468.3 L188.5 465.3 L188.5 465.3 L187.4 462.3 L187.4 462.3 L186.3 459.3 L183.9 460.1 L182.9 457.1 L182.9 457.1 L181.9 454 L181.9 454 L181 450.9 L181 450.9 L180.2 447.8 L180.2 447.8 L179.3 444.7 L179.3 444.7 L178.6 441.5 L176.2 442.1 L175.4 438.9 L175.4 438.9 L174.8 435.7 L174.8 435.7 L174.2 432.5 L174.2 432.5 L173.7 429.2 L173.7 429.2 L173.2 426 L173.2 426 L172.7 422.8 L172.7 422.8 L172.4 419.5 L172.4 419.5 L172.1 416.2 L172.1 416.2 L171.8 413 L171.8 413 L171.6 409.7 L169.1 409.8 L169 406.5 L169 406.5 L168.9 403.2 L168.9 403.2 L168.9 399.9Z" fill="#0019b4"/>
<path d="M178.9 399.9 L178.9 396.8 L178.9 396.8 L179 393.6 L179 393.6 L179.1 390.5 L179.1 390.5 L179.3 387.3 L179.3 387.3 L179.5 384.2 L179.5 384.2 L179.8 381.1 L179.8 381.1 L180.2 378 L180.2 378 L180.6 374.8 L180.6 374.8 L181.1 371.7 L178.6 371.4 L179.1 368.2 L179.1 368.2 L179.7 365.1 L179.7 365.1 L180.3 362 L180.3 362 L181 358.8 L181 358.8 L181.8 355.7 L181.8 355.7 L182.6 352.7 L182.6 352.7 L183.4 349.6 L183.4 349.6 L184.3 346.5 L184.3 346.5 L185.3 343.5 L185.3 343.5 L186.3 340.5 L186.3 340.5 L187.4 337.5 L187.4 337.5 L188.5 334.5 L188.5 334.5 L189.6 331.5 L189.6 331.5 L190.9 328.6 L190.9 328.6 L192.1 325.7 L192.1 325.7 L193.4 322.8 L193.4 322.8 L194.8 319.9 L194.8 319.9 L196.2 317 L194 315.9 L195.5 313 L195.5 313 L197 310.2 L197 310.2 L198.6 307.4 L198.6 307.4 L200.3 304.6 L200.3 304.6 L202 301.9 L202 301.9 L203.7 299.1 L203.7 299.1 L205.5 296.4 L205.5 296.4 L207.3 293.8 L207.3 293.8 L209.2 291.2 L209.2 291.2 L211.1 288.6 L211.1 288.6 L213.1 286 L213.1 286 L215.1 283.5 L213.1 281.9 L215.2 279.4 L215.2 279.4 L217.3 276.9 L217.3 276.9 L219.5 274.4 L219.5 274.4 L221.7 272 L219.9 270.3 L222.2 267.9 L222.2 267.9 L224.5 265.5 L222.7 263.8 L225.1 261.4 L225.1 261.4 L227.6 259.1 L225.9 257.3 L228.4 255 L228.4 255 L230.9 252.7 L230.9 252.7 L233.5 250.5 L233.5 250.5 L236.1 248.4 L234.6 246.4 L237.3 244.3 L237.3 244.3 L240 242.2 L240 242.2 L242.8 240.1 L242.8 240.1 L245.6 238.1 L244.1 236.1 L247 234.1 L247 234.1 L249.9 232.2 L249.9 232.2 L252.9 230.3 L252.9 230.3 L255.8 228.5 L254.6 226.3 L257.6 224.5 L257.6 224.5 L260.7 222.8 L260.7 222.8 L263.8 221.1 L263.8 221.1 L266.9 219.5 L265.8 217.2 L269 215.6 L269 215.6 L272.2 214.1 L272.2 214.1 L275.5 212.6 L275.5 212.6 L278.8 211.2 L277.5 208.3 L280.9 206.9 L280.9 206.9 L284.3 205.6 L284.3 205.6 L287.7 204.3 L287.7 204.3 L291.1 203.1 L291.1 203.1 L294.5 201.9 L294.5 201.9 L298 200.8 L298 200.8 L301.5 199.8 L301.5 199.8 L305 198.8 L305 198.8 L308.5 197.9 L308.5 197.9 L312 197.1 L312 197.1 L315.6 196.3 L315.6 196.3 L319.1 195.6 L319.1 195.6 L322.7 194.9 L322.7 194.9 L326.3 194.3 L326.3 194.3 L329.9 193.8 L329.9 193.8 L333.5 193.3 L333.5 193.3 L337.1 192.9 L337.1 192.9 L340.7 192.5 L340.7 192.5 L344.3 192.3 L344.3 192.3 L348 192 L348 192 L351.6 191.9 L351.6 191.9 L355.2 191.8 L355.2 191.8 L358.9 191.7 L358.9 191.7 L362.5 191.8 L362.5 191.8 L366.1 191.9 L366.1 191.9 L369.7 192 L369.7 192 L373.4 192.3 L373.4 192.3 L377 192.5 L377 192.5 L380.6 192.9 L380.6 192.9 L384.2 193.3 L384.2 193.3 L387.8 193.8 L387.8 193.8 L391.4 194.3 L391.4 194.3 L395 194.9 L395 194.9 L398.6 195.6 L398.6 195.6 L402.1 196.3 L402.1 196.3 L405.7 197.1 L405.7 197.1 L409.2 197.9 L409.2 197.9 L412.7 198.8 L412.7 198.8 L416.2 199.8 L416.2 199.8 L419.7 200.8 L419.7 200.8 L423.2 201.9 L423.2 201.9 L426.6 203.1 L426.6 203.1 L430 204.3 L430 204.3 L433.4 205.6 L433.4 205.6 L436.8 206.9 L436.8 206.9 L440.2 208.3 L440.2 208.3 L443.5 209.7 L443.5 209.7 L446.8 211.3 L446.8 211.3 L450.1 212.8 L450.1 212.8 L453.3 214.4 L450.8 219.5 L453.9 221.1 L453.9 221.1 L457 222.8 L455.8 225 L458.9 226.7 L458.9 226.7 L461.9 228.5 L461.9 228.5 L464.8 230.3 L464.8 230.3 L467.8 232.2 L466.4 234.3 L469.3 236.2 L469.3 236.2 L472.1 238.1 L472.1 238.1 L474.9 240.1 L474.9 240.1 L477.7 242.2 L477.7 242.2 L480.4 244.3 L480.4 244.3 L483.1 246.4 L483.1 246.4 L485.8 248.6 L485.8 248.6 L488.4 250.8 L488.4 250.8 L491 253.1 L491 253.1 L493.5 255.5 L491.8 257.3 L494.3 259.6 L494.3 259.6 L496.7 262 L496.7 262 L499.1 264.4 L499.1 264.4 L501.5 266.9 L501.5 266.9 L503.8 269.4 L503.8 269.4 L506 272 L506 272 L508.2 274.6 L508.2 274.6 L510.4 277.2 L510.4 277.2 L512.5 279.8 L512.5 279.8 L514.6 282.5 L514.6 282.5 L516.6 285.3 L516.6 285.3 L518.6 288.1 L518.6 288.1 L520.5 290.9 L520.5 290.9 L522.4 293.7 L522.4 293.7 L524.2 296.6 L524.2 296.6 L526 299.5 L528.1 298.2 L529.9 301.1 L529.9 301.1 L531.6 304.2 L531.6 304.2 L533.2 307.2 L533.2 307.2 L534.8 310.2 L534.8 310.2 L536.4 313.3 L536.4 313.3 L537.8 316.4 L537.8 316.4 L539.3 319.6 L539.3 319.6 L540.6 322.7 L540.6 322.7 L542 325.9 L542 325.9 L543.2 329.1 L543.2 329.1 L544.4 332.4 L544.4 332.4 L545.6 335.6 L548 334.8 L549.1 338.1 L549.1 338.1 L550.1 341.4 L550.1 341.4 L551.1 344.8 L551.1 344.8 L552 348.1 L554.4 347.5 L555.3 350.9 L555.3 350.9 L556.2 354.3 L558.6 353.8 L559.4 357.3 L559.4 357.3 L560.1 360.8 L560.1 360.8 L560.7 364.3 L560.7 364.3 L561.3 367.8 L558.9 368.2 L559.4 371.7 L559.4 371.7 L559.8 375.2 L554.9 375.8 L555.3 379.3 L555.3 379.3 L555.6 382.7 L553.1 382.9 L553.4 386.3 L553.4 386.3 L553.6 389.7 L553.6 389.7 L553.7 393.1 L553.7 393.1 L553.8 396.5 L553.8 396.5 L553.9 399.9 L553.9 399.9 L553.8 403.3 L553.8 403.3 L553.7 406.7 L553.7 406.7 L553.6 410.1 L556.1 410.2 L555.9 413.7 L555.9 413.7 L555.6 417.1 L555.6 417.1 L555.3 420.5 L555.3 420.5 L554.9 424 L552.4 423.7 L552 427 L552 427 L551.4 430.4 L551.4 430.4 L550.9 433.8 L550.9 433.8 L550.3 437.1 L547.8 436.6 L547.1 439.9 L547.1 439.9 L546.4 443.2 L546.4 443.2 L545.6 446.5 L545.6 446.5 L544.8 449.7 L544.8 449.7 L543.9 453 L541.5 452.3 L540.5 455.5 L538.2 454.7 L537.2 457.8 L537.2 457.8 L536.1 460.9 L536.1 460.9 L535 464 L535 464 L533.9 467.1 L533.9 467.1 L532.7 470.1 L532.7 470.1 L531.4 473.2 L529.1 472.2 L527.9 475.1 L527.9 475.1 L526.5 478.1 L526.5 478.1 L525.1 481 L525.1 481 L523.7 483.9 L523.7 483.9 L522.2 486.8 L522.2 486.8 L520.7 489.6 L518.5 488.4 L516.9 491.1 L516.9 491.1 L515.3 493.9 L515.3 493.9 L513.6 496.6 L513.6 496.6 L511.9 499.3 L509.8 497.9 L508.1 500.6 L508.1 500.6 L506.3 503.1 L504.2 501.7 L502.5 504.2 L502.5 504.2 L500.6 506.7 L500.6 506.7 L498.7 509.2 L498.7 509.2 L496.8 511.6 L496.8 511.6 L494.8 514 L494.8 514 L492.8 516.4 L490.9 514.7 L488.9 517 L488.9 517 L486.8 519.2 L486.8 519.2 L484.7 521.5 L484.7 521.5 L482.6 523.6 L482.6 523.6 L480.4 525.8 L480.4 525.8 L478.2 527.9 L478.2 527.9 L475.9 530 L475.9 530 L473.7 532 L472 530.1 L469.7 532 L469.7 532 L467.4 534 L469 535.9 L466.6 537.8 L466.6 537.8 L464.2 539.7 L464.2 539.7 L461.7 541.5 L461.7 541.5 L459.2 543.3 L459.2 543.3 L456.7 545 L456.7 545 L454.2 546.7 L455.5 548.8 L452.9 550.4 L452.9 550.4 L450.3 552 L450.3 552 L447.6 553.6 L447.6 553.6 L444.9 555.1 L446.1 557.3 L443.4 558.8 L443.4 558.8 L440.6 560.3 L440.6 560.3 L437.8 561.7 L437.8 561.7 L434.9 563 L433.9 560.8 L431 562.1 L431 562.1 L428.2 563.3 L428.2 563.3 L425.3 564.5 L425.3 564.5 L422.5 565.6 L421.6 563.3 L418.7 564.3 L418.7 564.3 L415.8 565.4 L415 563 L412.2 564 L412.2 564 L409.3 564.9 L409.3 564.9 L406.4 565.7 L405.7 563.3 L402.8 564.1 L402.8 564.1 L400 564.9 L400 564.9 L397.1 565.5 L396.5 563.1 L393.7 563.7 L393.7 563.7 L390.8 564.3 L390.8 564.3 L387.9 564.9 L387.9 564.9 L385.1 565.3 L385.1 565.3 L382.2 565.8 L382.2 565.8 L379.3 566.2 L379 563.7 L376.1 564 L376.1 564 L373.2 564.3 L373.2 564.3 L370.4 564.5 L370.4 564.5 L367.5 564.7 L367.5 564.7 L364.6 564.8 L364.6 564.8 L361.7 564.9 L361.7 564.9 L358.9 564.9 L358.9 564.9 L356 564.9 L356 564.9 L353.1 564.8 L353.1 564.8 L350.2 564.7 L350.2 564.7 L347.3 564.5 L347.3 564.5 L344.5 564.3 L344.5 564.3 L341.6 564 L341.6 564 L338.7 563.7 L338.4 566.2 L335.5 565.8 L335.5 565.8 L332.6 565.3 L332.6 565.3 L329.8 564.9 L329.8 564.9 L326.9 564.3 L326.9 564.3 L324 563.7 L324 563.7 L321.2 563.1 L321.2 563.1 L318.3 562.4 L318.3 562.4 L315.5 561.7 L314.9 564.1 L312 563.3 L312 563.3 L309.1 562.5 L309.1 562.5 L306.3 561.6 L306.3 561.6 L303.5 560.6 L302.7 563 L299.9 562 L299.9 562 L297 560.9 L297 560.9 L294.2 559.8 L294.2 559.8 L291.4 558.7 L291.4 558.7 L288.7 557.5 L288.7 557.5 L285.9 556.2 L285.9 556.2 L283.2 554.9 L283.2 554.9 L280.5 553.6 L279.4 555.8 L276.7 554.4 L276.7 554.4 L274 553 L274 553 L271.4 551.5 L271.4 551.5 L268.7 549.9 L268.7 549.9 L266.1 548.3 L266.1 548.3 L263.5 546.7 L263.5 546.7 L261 545 L261 545 L258.5 543.3 L258.5 543.3 L256 541.5 L256 541.5 L253.5 539.7 L253.5 539.7 L251.1 537.8 L251.1 537.8 L248.7 535.9 L248.7 535.9 L246.4 534 L246.4 534 L244 532 L244 532 L241.8 530 L241.8 530 L239.5 527.9 L239.5 527.9 L237.3 525.8 L237.3 525.8 L235.1 523.6 L235.1 523.6 L233 521.5 L233 521.5 L230.9 519.2 L230.9 519.2 L228.8 517 L228.8 517 L226.8 514.7 L226.8 514.7 L224.8 512.4 L224.8 512.4 L222.8 510 L222.8 510 L220.9 507.6 L220.9 507.6 L219.1 505.2 L219.1 505.2 L217.3 502.8 L217.3 502.8 L215.5 500.3 L215.5 500.3 L213.8 497.8 L213.8 497.8 L212.1 495.2 L212.1 495.2 L210.4 492.6 L210.4 492.6 L208.8 490 L208.8 490 L207.3 487.4 L207.3 487.4 L205.8 484.7 L205.8 484.7 L204.3 482.1 L204.3 482.1 L202.9 479.3 L200.7 480.5 L199.3 477.7 L199.3 477.7 L198 474.9 L198 474.9 L196.7 472.1 L196.7 472.1 L195.5 469.3 L195.5 469.3 L194.3 466.4 L194.3 466.4 L193.1 463.5 L193.1 463.5 L192.1 460.6 L192.1 460.6 L191 457.7 L191 457.7 L190 454.8 L190 454.8 L189.1 451.8 L189.1 451.8 L188.2 448.8 L188.2 448.8 L187.4 445.8 L187.4 445.8 L186.6 442.8 L186.6 442.8 L185.9 439.8 L185.9 439.8 L185.2 436.8 L185.2 436.8 L184.6 433.8 L184.6 433.8 L184 430.7 L184 430.7 L183.5 427.7 L181.1 428.1 L180.6 425 L180.6 425 L180.2 421.8 L180.2 421.8 L179.8 418.7 L179.8 418.7 L179.5 415.6 L179.5 415.6 L179.3 412.5 L179.3 412.5 L179.1 409.3 L179.1 409.3 L179 406.2 L179 406.2 L178.9 403 L178.9 403 L178.9 399.9Z" fill="#002de1"/>
<path d="M181.4 399.9 L181.4 396.8 L181.4 396.8 L181.5 393.7 L181.5 393.7 L181.6 390.6 L181.6 390.6 L181.8 387.5 L181.8 387.5 L182 384.4 L182 384.4 L182.3 381.3 L182.3 381.3 L182.7 378.3 L180.2 378 L180.6 374.8 L180.6 374.8 L181.1 371.7 L181.1 371.7 L181.6 368.6 L181.6 368.6 L182.2 365.6 L182.2 365.6 L182.8 362.5 L182.8 362.5 L183.5 359.4 L183.5 359.4 L184.2 356.4 L184.2 356.4 L185 353.3 L185 353.3 L185.8 350.3 L185.8 350.3 L186.7 347.3 L186.7 347.3 L187.7 344.3 L187.7 344.3 L188.7 341.3 L188.7 341.3 L189.7 338.3 L189.7 338.3 L190.8 335.4 L190.8 335.4 L192 332.5 L192 332.5 L193.2 329.6 L193.2 329.6 L194.4 326.7 L194.4 326.7 L195.7 323.8 L195.7 323.8 L197.1 321 L197.1 321 L198.5 318.2 L196.2 317 L197.7 314.2 L197.7 314.2 L199.2 311.4 L199.2 311.4 L200.8 308.6 L200.8 308.6 L202.4 305.9 L202.4 305.9 L204.1 303.2 L204.1 303.2 L205.8 300.5 L205.8 300.5 L207.6 297.8 L207.6 297.8 L209.4 295.2 L209.4 295.2 L211.2 292.6 L211.2 292.6 L213.1 290.1 L213.1 290.1 L215 287.5 L215 287.5 L217 285 L215.1 283.5 L217.1 281 L217.1 281 L219.2 278.5 L219.2 278.5 L221.4 276.1 L221.4 276.1 L223.5 273.7 L221.7 272 L224 269.7 L224 269.7 L226.3 267.3 L224.5 265.5 L226.9 263.2 L226.9 263.2 L229.3 260.9 L229.3 260.9 L231.7 258.7 L231.7 258.7 L234.2 256.5 L232.6 254.6 L235.1 252.4 L235.1 252.4 L237.7 250.3 L236.1 248.4 L238.8 246.2 L238.8 246.2 L241.5 244.2 L241.5 244.2 L244.2 242.1 L244.2 242.1 L247 240.2 L247 240.2 L249.8 238.2 L249.8 238.2 L252.6 236.4 L251.3 234.3 L254.2 232.4 L254.2 232.4 L257.1 230.6 L255.8 228.5 L258.9 226.7 L258.9 226.7 L261.9 225 L261.9 225 L265 223.3 L265 223.3 L268.1 221.7 L266.9 219.5 L270.1 217.9 L270.1 217.9 L273.3 216.4 L273.3 216.4 L276.5 214.9 L276.5 214.9 L279.7 213.5 L278.8 211.2 L282.1 209.8 L282.1 209.8 L285.4 208.5 L285.4 208.5 L288.7 207.3 L288.7 207.3 L292.1 206.1 L292.1 206.1 L295.5 204.9 L295.5 204.9 L298.9 203.9 L298.9 203.9 L302.3 202.8 L302.3 202.8 L305.8 201.9 L305.1 199.5 L308.7 198.6 L308.7 198.6 L312.2 197.7 L312.2 197.7 L315.7 196.9 L315.7 196.9 L319.3 196.2 L319.1 195.6 L322.7 194.9 L322.7 194.9 L326.3 194.3 L326.3 194.3 L329.9 193.8 L329.9 193.8 L333.5 193.3 L333.5 193.3 L337.1 192.9 L337.1 192.9 L340.7 192.5 L340.7 192.5 L344.3 192.3 L344.3 192.3 L348 192 L348 192 L351.6 191.9 L351.6 191.9 L355.2 191.8 L355.2 191.8 L358.9 191.7 L358.9 191.7 L362.5 191.8 L362.5 191.8 L366.1 191.9 L366.1 191.9 L369.7 192 L369.7 192 L373.4 192.3 L373.4 192.3 L377 192.5 L377 192.5 L380.6 192.9 L380.6 192.9 L384.2 193.3 L384.2 193.3 L387.8 193.8 L387.8 193.8 L391.4 194.3 L391.4 194.3 L395 194.9 L395 194.9 L398.6 195.6 L398.6 195.6 L402.1 196.3 L402.1 196.3 L405.7 197.1 L405.7 197.1 L409.2 197.9 L409.2 197.9 L412.7 198.8 L412.7 198.8 L416.2 199.8 L416.2 199.8 L419.7 200.8 L419.7 200.8 L423.2 201.9 L423.2 201.9 L426.6 203.1 L426.6 203.1 L430 204.3 L430 204.3 L433.4 205.6 L433.4 205.6 L436.8 206.9 L436.8 206.9 L440.2 208.3 L439.9 208.9 L443.2 210.3 L443.2 210.3 L446.5 211.8 L445.5 214.1 L448.7 215.6 L448.7 215.6 L451.9 217.2 L450.8 219.5 L453.9 221.1 L453.9 221.1 L457 222.8 L454.6 227.2 L457.6 228.9 L457.6 228.9 L460.6 230.6 L460.6 230.6 L463.5 232.4 L463.5 232.4 L466.4 234.3 L466.4 234.3 L469.3 236.2 L469.3 236.2 L472.1 238.1 L470.7 240.2 L473.5 242.1 L473.5 242.1 L476.2 244.2 L476.2 244.2 L478.9 246.2 L478.9 246.2 L481.6 248.4 L481.6 248.4 L484.2 250.5 L484.2 250.5 L486.8 252.7 L486.8 252.7 L489.3 255 L489.3 255 L491.8 257.3 L490.1 259.1 L492.6 261.4 L492.6 261.4 L495 263.8 L495 263.8 L497.3 266.2 L497.3 266.2 L499.6 268.6 L499.6 268.6 L501.9 271.1 L501.9 271.1 L504.1 273.6 L504.1 273.6 L506.3 276.2 L506.3 276.2 L508.5 278.8 L508.5 278.8 L510.5 281.4 L510.5 281.4 L512.6 284.1 L512.6 284.1 L514.6 286.8 L514.6 286.8 L516.5 289.5 L518.6 288.1 L520.5 290.9 L520.5 290.9 L522.4 293.7 L522.4 293.7 L524.2 296.6 L524.2 296.6 L526 299.5 L526 299.5 L527.7 302.4 L527.7 302.4 L529.4 305.4 L529.4 305.4 L531 308.4 L531 308.4 L532.6 311.4 L532.6 311.4 L534.1 314.4 L534.1 314.4 L535.6 317.5 L535.6 317.5 L537 320.6 L537 320.6 L538.3 323.7 L538.3 323.7 L539.7 326.9 L539.7 326.9 L540.9 330 L540.9 330 L542.1 333.2 L542.1 333.2 L543.2 336.4 L545.6 335.6 L546.7 338.9 L546.7 338.9 L547.7 342.2 L550.1 341.4 L551.1 344.8 L551.1 344.8 L552 348.1 L554.4 347.5 L555.3 350.9 L555.3 350.9 L556.2 354.3 L558.6 353.8 L559.4 357.3 L559.4 357.3 L560.1 360.8 L560.1 360.8 L560.7 364.3 L560.7 364.3 L561.3 367.8 L558.9 368.2 L559.4 371.7 L559.4 371.7 L559.8 375.2 L554.9 375.8 L555.3 379.3 L555.3 379.3 L555.6 382.7 L553.1 382.9 L553.4 386.3 L553.4 386.3 L553.6 389.7 L553.6 389.7 L553.7 393.1 L553.7 393.1 L553.8 396.5 L551.3 396.5 L551.4 399.9 L551.4 399.9 L551.3 403.3 L553.8 403.3 L553.7 406.7 L553.7 406.7 L553.6 410.1 L553.6 410.1 L553.4 413.5 L553.4 413.5 L553.1 416.9 L553.1 416.9 L552.8 420.3 L552.8 420.3 L552.4 423.7 L552.4 423.7 L552 427 L552 427 L551.4 430.4 L549 430 L548.4 433.3 L548.4 433.3 L547.8 436.6 L547.8 436.6 L547.1 439.9 L547.1 439.9 L546.4 443.2 L544 442.6 L543.2 445.9 L543.2 445.9 L542.4 449.1 L542.4 449.1 L541.5 452.3 L541.5 452.3 L540.5 455.5 L538.2 454.7 L537.2 457.8 L537.2 457.8 L536.1 460.9 L533.8 460.1 L532.7 463.2 L532.7 463.2 L531.6 466.2 L531.6 466.2 L530.4 469.2 L530.4 469.2 L529.1 472.2 L526.8 471.2 L525.6 474.1 L525.6 474.1 L524.3 477 L526.5 478.1 L525.1 481 L525.1 481 L523.7 483.9 L521.5 482.8 L520 485.6 L520 485.6 L518.5 488.4 L518.5 488.4 L516.9 491.1 L516.9 491.1 L515.3 493.9 L513.1 492.6 L511.5 495.3 L511.5 495.3 L509.8 497.9 L509.8 497.9 L508.1 500.6 L508.1 500.6 L506.3 503.1 L504.2 501.7 L502.5 504.2 L502.5 504.2 L500.6 506.7 L500.6 506.7 L498.7 509.2 L498.7 509.2 L496.8 511.6 L494.9 510 L492.9 512.4 L492.9 512.4 L490.9 514.7 L490.9 514.7 L488.9 517 L488.9 517 L486.8 519.2 L485 517.5 L482.9 519.7 L482.9 519.7 L480.8 521.9 L482.6 523.6 L480.4 525.8 L480.4 525.8 L478.2 527.9 L476.5 526.1 L474.3 528.1 L474.3 528.1 L472 530.1 L472 530.1 L469.7 532 L469.7 532 L467.4 534 L469 535.9 L466.6 537.8 L466.6 537.8 L464.2 539.7 L464.2 539.7 L461.7 541.5 L461.7 541.5 L459.2 543.3 L459.2 543.3 L456.7 545 L456.7 545 L454.2 546.7 L454.2 546.7 L451.6 548.3 L451.6 548.3 L449 549.9 L450.3 552 L447.6 553.6 L447.6 553.6 L444.9 555.1 L444.9 555.1 L442.2 556.6 L442.2 556.6 L439.4 558.1 L439.4 558.1 L436.7 559.4 L436.7 559.4 L433.9 560.8 L433.9 560.8 L431 562.1 L431 562.1 L428.2 563.3 L427.2 561 L424.4 562.2 L424.4 562.2 L421.6 563.3 L420.7 560.9 L417.8 562 L417.8 562 L415 563 L415 563 L412.2 564 L412.2 564 L409.3 564.9 L408.6 562.5 L405.7 563.3 L405.7 563.3 L402.8 564.1 L402.2 561.7 L399.4 562.4 L399.4 562.4 L396.5 563.1 L396.5 563.1 L393.7 563.7 L393.7 563.7 L390.8 564.3 L390.3 561.9 L387.5 562.4 L387.5 562.4 L384.7 562.9 L384.7 562.9 L381.8 563.3 L381.8 563.3 L379 563.7 L379 563.7 L376.1 564 L376.1 564 L373.2 564.3 L373 561.8 L370.2 562 L370.2 562 L367.4 562.2 L367.4 562.2 L364.5 562.3 L364.5 562.3 L361.7 562.4 L361.7 562.4 L358.9 562.4 L358.9 562.4 L356 562.4 L356 562.4 L353.2 562.3 L353.2 562.3 L350.3 562.2 L350.3 562.2 L347.5 562 L347.5 562 L344.7 561.8 L344.7 561.8 L341.9 561.5 L341.9 561.5 L339 561.2 L338.7 563.7 L335.9 563.3 L335.9 563.3 L333 562.9 L333 562.9 L330.2 562.4 L330.2 562.4 L327.4 561.9 L327.4 561.9 L324.5 561.3 L324.5 561.3 L321.7 560.7 L321.2 563.1 L318.3 562.4 L318.3 562.4 L315.5 561.7 L315.5 561.7 L312.7 560.9 L312.7 560.9 L309.9 560.1 L309.9 560.1 L307.1 559.2 L307.1 559.2 L304.3 558.3 L303.5 560.6 L300.7 559.6 L300.7 559.6 L297.9 558.6 L297.9 558.6 L295.2 557.5 L295.2 557.5 L292.4 556.4 L292.4 556.4 L289.7 555.2 L289.7 555.2 L287 554 L285.9 556.2 L283.2 554.9 L283.2 554.9 L280.5 553.6 L280.5 553.6 L277.9 552.2 L277.9 552.2 L275.2 550.8 L275.2 550.8 L272.6 549.3 L272.6 549.3 L270 547.8 L270 547.8 L267.4 546.2 L267.4 546.2 L264.9 544.6 L264.9 544.6 L262.4 542.9 L262.4 542.9 L259.9 541.2 L259.9 541.2 L257.5 539.5 L257.5 539.5 L255 537.7 L255 537.7 L252.6 535.8 L252.6 535.8 L250.3 534 L250.3 534 L248 532 L248 532 L245.7 530.1 L245.7 530.1 L243.4 528.1 L243.4 528.1 L241.2 526.1 L241.2 526.1 L239 524 L239 524 L236.9 521.9 L236.9 521.9 L234.8 519.7 L234.8 519.7 L232.7 517.5 L232.7 517.5 L230.7 515.3 L230.7 515.3 L228.7 513.1 L228.7 513.1 L226.7 510.8 L226.7 510.8 L224.8 508.5 L224.8 508.5 L222.9 506.1 L222.9 506.1 L221.1 503.7 L221.1 503.7 L219.3 501.3 L219.3 501.3 L217.5 498.8 L217.5 498.8 L215.8 496.4 L215.8 496.4 L214.2 493.9 L214.2 493.9 L212.6 491.3 L212.6 491.3 L211 488.7 L208.8 490 L207.3 487.4 L207.3 487.4 L205.8 484.7 L205.8 484.7 L204.3 482.1 L204.3 482.1 L202.9 479.3 L202.9 479.3 L201.6 476.6 L201.6 476.6 L200.2 473.9 L200.2 473.9 L199 471.1 L199 471.1 L197.8 468.3 L197.8 468.3 L196.6 465.5 L196.6 465.5 L195.5 462.6 L195.5 462.6 L194.4 459.8 L194.4 459.8 L193.4 456.9 L193.4 456.9 L192.4 454 L192.4 454 L191.5 451.1 L191.5 451.1 L190.6 448.1 L190.6 448.1 L189.8 445.2 L189.8 445.2 L189 442.2 L189 442.2 L188.3 439.3 L185.9 439.8 L185.2 436.8 L185.2 436.8 L184.6 433.8 L184.6 433.8 L184 430.7 L184 430.7 L183.5 427.7 L183.5 427.7 L183.1 424.6 L183.1 424.6 L182.7 421.5 L182.7 421.5 L182.3 418.5 L182.3 418.5 L182 415.4 L182 415.4 L181.8 412.3 L181.8 412.3 L181.6 409.2 L181.6 409.2 L181.5 406.1 L181.5 406.1 L181.4 403 L181.4 403 L181.4 399.9Z" fill="#1950ff"/>
<path d="M183.9 399.9 L183.9 396.8 L183.9 396.8 L184 393.8 L184 393.8 L184.1 390.7 L181.6 390.6 L181.8 387.5 L181.8 387.5 L182 384.4 L182 384.4 L182.3 381.3 L182.3 381.3 L182.7 378.3 L182.7 378.3 L183.1 375.2 L183.1 375.2 L183.5 372.1 L183.5 372.1 L184 369.1 L184 369.1 L184.6 366 L184.6 366 L185.2 363 L185.2 363 L185.9 360 L185.9 360 L186.6 357 L186.6 357 L187.4 354 L187.4 354 L188.2 351 L188.2 351 L189.1 348 L189.1 348 L190 345 L190 345 L191 342.1 L191 342.1 L192.1 339.2 L192.1 339.2 L193.1 336.3 L193.1 336.3 L194.3 333.4 L194.3 333.4 L195.5 330.5 L195.5 330.5 L196.7 327.7 L196.7 327.7 L198 324.9 L195.7 323.8 L197.1 321 L197.1 321 L198.5 318.2 L198.5 318.2 L199.9 315.4 L199.9 315.4 L201.4 312.6 L201.4 312.6 L203 309.9 L203 309.9 L204.6 307.2 L204.6 307.2 L206.2 304.5 L206.2 304.5 L207.9 301.9 L207.9 301.9 L209.6 299.2 L209.6 299.2 L211.4 296.7 L211.4 296.7 L213.2 294.1 L213.2 294.1 L215.1 291.6 L215.1 291.6 L217 289.1 L217 289.1 L219 286.6 L217 285 L219 282.6 L219 282.6 L221.1 280.2 L221.1 280.2 L223.2 277.8 L223.2 277.8 L225.4 275.4 L223.5 273.7 L225.8 271.4 L225.8 271.4 L228 269.1 L226.3 267.3 L228.6 265 L228.6 265 L231 262.8 L231 262.8 L233.4 260.6 L233.4 260.6 L235.8 258.4 L234.2 256.5 L236.7 254.4 L236.7 254.4 L239.3 252.2 L239.3 252.2 L241.9 250.2 L241.9 250.2 L244.5 248.2 L243 246.2 L245.7 244.2 L245.7 244.2 L248.4 242.2 L248.4 242.2 L251.2 240.3 L251.2 240.3 L254 238.5 L252.6 236.4 L255.5 234.5 L255.5 234.5 L258.4 232.8 L258.4 232.8 L261.4 231 L260.1 228.9 L263.1 227.2 L263.1 227.2 L266.1 225.5 L266.1 225.5 L269.2 223.9 L269.2 223.9 L272.3 222.4 L271.2 220.1 L274.3 218.6 L274.3 218.6 L277.5 217.2 L277.5 217.2 L280.7 215.8 L279.7 213.5 L283 212.1 L283 212.1 L286.3 210.8 L286.3 210.8 L289.6 209.6 L289.6 209.6 L292.9 208.4 L292.9 208.4 L296.3 207.3 L296.3 207.3 L299.6 206.2 L298.9 203.9 L302.3 202.8 L302.3 202.8 L305.8 201.9 L305.8 201.9 L309.3 201 L309.3 201 L312.7 200.2 L312.7 200.2 L316.2 199.4 L315.7 196.9 L319.3 196.2 L319.1 195.6 L322.7 194.9 L322.7 194.9 L326.3 194.3 L326.3 194.3 L329.9 193.8 L329.9 193.8 L333.5 193.3 L333.5 193.3 L337.1 192.9 L337.1 192.9 L340.7 192.5 L340.7 192.5 L344.3 192.3 L344.3 192.3 L348 192 L348 192 L351.6 191.9 L351.6 191.9 L355.2 191.8 L355.2 191.8 L358.9 191.7 L358.9 191.7 L362.5 191.8 L362.5 191.8 L366.1 191.9 L366.1 191.9 L369.7 192 L369.7 192 L373.4 192.3 L373.4 192.3 L377 192.5 L377 192.5 L380.6 192.9 L380.6 192.9 L384.2 193.3 L384.2 193.3 L387.8 193.8 L387.8 193.8 L391.4 194.3 L391.4 194.3 L395 194.9 L395 194.9 L398.6 195.6 L398.6 195.6 L402.1 196.3 L402.1 196.3 L405.7 197.1 L405.7 197.1 L409.2 197.9 L409.2 197.9 L412.7 198.8 L412.7 198.8 L416.2 199.8 L416.2 199.8 L419.7 200.8 L419.7 200.8 L423.2 201.9 L423.2 201.9 L426.6 203.1 L426.6 203.1 L430 204.3 L430 204.3 L433.4 205.6 L433.4 205.6 L436.8 206.9 L436.8 206.9 L440.2 208.3 L439.9 208.9 L443.2 210.3 L442.2 212.6 L445.5 214.1 L444.4 216.4 L447.6 217.9 L447.6 217.9 L450.8 219.5 L449.6 221.7 L452.7 223.3 L452.7 223.3 L455.8 225 L454.6 227.2 L457.6 228.9 L457.6 228.9 L460.6 230.6 L459.3 232.8 L462.2 234.5 L462.2 234.5 L465.1 236.4 L465.1 236.4 L467.9 238.2 L467.9 238.2 L470.7 240.2 L469.3 242.2 L472 244.2 L472 244.2 L474.7 246.2 L474.7 246.2 L477.4 248.2 L477.4 248.2 L480 250.3 L480 250.3 L482.6 252.4 L482.6 252.4 L485.1 254.6 L485.1 254.6 L487.7 256.8 L487.7 256.8 L490.1 259.1 L488.4 260.9 L490.8 263.2 L490.8 263.2 L493.2 265.5 L493.2 265.5 L495.5 267.9 L495.5 267.9 L497.8 270.3 L497.8 270.3 L500 272.8 L500 272.8 L502.2 275.2 L502.2 275.2 L504.4 277.8 L504.4 277.8 L506.5 280.3 L508.5 278.8 L510.5 281.4 L510.5 281.4 L512.6 284.1 L512.6 284.1 L514.6 286.8 L514.6 286.8 L516.5 289.5 L516.5 289.5 L518.4 292.3 L518.4 292.3 L520.3 295.1 L520.3 295.1 L522.1 297.9 L522.1 297.9 L523.9 300.8 L523.9 300.8 L525.6 303.6 L525.6 303.6 L527.2 306.6 L527.2 306.6 L528.8 309.5 L528.8 309.5 L530.4 312.5 L530.4 312.5 L531.9 315.5 L531.9 315.5 L533.3 318.5 L533.3 318.5 L534.7 321.6 L534.7 321.6 L536 324.7 L536 324.7 L537.3 327.8 L537.3 327.8 L538.6 330.9 L540.9 330 L542.1 333.2 L542.1 333.2 L543.2 336.4 L543.2 336.4 L544.3 339.6 L544.3 339.6 L545.3 342.9 L547.7 342.2 L548.7 345.5 L548.7 345.5 L549.6 348.8 L552 348.1 L552.9 351.5 L552.9 351.5 L553.7 354.9 L556.2 354.3 L556.9 357.8 L556.9 357.8 L557.6 361.3 L557.6 361.3 L558.3 364.7 L558.3 364.7 L558.9 368.2 L558.9 368.2 L559.4 371.7 L559.4 371.7 L559.8 375.2 L554.9 375.8 L555.3 379.3 L555.3 379.3 L555.6 382.7 L553.1 382.9 L553.4 386.3 L553.4 386.3 L553.6 389.7 L551.1 389.8 L551.2 393.2 L551.2 393.2 L551.3 396.5 L551.3 396.5 L551.4 399.9 L551.4 399.9 L551.3 403.3 L551.3 403.3 L551.2 406.6 L551.2 406.6 L551.1 410 L551.1 410 L550.9 413.3 L550.9 413.3 L550.6 416.7 L553.1 416.9 L552.8 420.3 L550.3 420 L549.9 423.4 L549.9 423.4 L549.5 426.7 L549.5 426.7 L549 430 L549 430 L548.4 433.3 L548.4 433.3 L547.8 436.6 L545.4 436.2 L544.7 439.4 L544.7 439.4 L544 442.6 L544 442.6 L543.2 445.9 L543.2 445.9 L542.4 449.1 L542.4 449.1 L541.5 452.3 L539.1 451.6 L538.2 454.7 L538.2 454.7 L537.2 457.8 L537.2 457.8 L536.1 460.9 L533.8 460.1 L532.7 463.2 L532.7 463.2 L531.6 466.2 L531.6 466.2 L530.4 469.2 L530.4 469.2 L529.1 472.2 L526.8 471.2 L525.6 474.1 L525.6 474.1 L524.3 477 L524.3 477 L522.9 479.9 L522.9 479.9 L521.5 482.8 L521.5 482.8 L520 485.6 L520 485.6 L518.5 488.4 L518.5 488.4 L516.9 491.1 L516.9 491.1 L515.3 493.9 L513.1 492.6 L511.5 495.3 L511.5 495.3 L509.8 497.9 L507.7 496.6 L506 499.2 L506 499.2 L504.2 501.7 L502.2 500.3 L500.4 502.8 L500.4 502.8 L498.6 505.2 L498.6 505.2 L496.8 507.6 L496.8 507.6 L494.9 510 L494.9 510 L492.9 512.4 L491 510.8 L489 513.1 L489 513.1 L487 515.3 L487 515.3 L485 517.5 L485 517.5 L482.9 519.7 L482.9 519.7 L480.8 521.9 L480.8 521.9 L478.7 524 L478.7 524 L476.5 526.1 L476.5 526.1 L474.3 528.1 L474.3 528.1 L472 530.1 L472 530.1 L469.7 532 L469.7 532 L467.4 534 L467.4 534 L465.1 535.8 L465.1 535.8 L462.7 537.7 L462.7 537.7 L460.2 539.5 L460.2 539.5 L457.8 541.2 L457.8 541.2 L455.3 542.9 L455.3 542.9 L452.8 544.6 L454.2 546.7 L451.6 548.3 L451.6 548.3 L449 549.9 L449 549.9 L446.4 551.5 L446.4 551.5 L443.7 553 L443.7 553 L441 554.4 L441 554.4 L438.3 555.8 L438.3 555.8 L435.6 557.2 L435.6 557.2 L432.8 558.5 L432.8 558.5 L430 559.8 L430 559.8 L427.2 561 L427.2 561 L424.4 562.2 L424.4 562.2 L421.6 563.3 L420.7 560.9 L417.8 562 L417.8 562 L415 563 L414.2 560.6 L411.4 561.6 L411.4 561.6 L408.6 562.5 L408.6 562.5 L405.7 563.3 L405 560.9 L402.2 561.7 L402.2 561.7 L399.4 562.4 L399.4 562.4 L396.5 563.1 L396 560.7 L393.2 561.3 L393.2 561.3 L390.3 561.9 L390.3 561.9 L387.5 562.4 L387.5 562.4 L384.7 562.9 L384.3 560.4 L381.5 560.8 L381.5 560.8 L378.7 561.2 L378.7 561.2 L375.8 561.5 L375.8 561.5 L373 561.8 L373 561.8 L370.2 562 L370.2 562 L367.4 562.2 L367.2 559.7 L364.4 559.8 L364.4 559.8 L361.6 559.9 L361.6 559.9 L358.9 559.9 L358.9 559.9 L356.1 559.9 L356.1 559.9 L353.3 559.8 L353.3 559.8 L350.5 559.7 L350.5 559.7 L347.7 559.5 L347.7 559.5 L344.9 559.3 L344.9 559.3 L342.1 559 L342.1 559 L339.4 558.7 L339 561.2 L336.2 560.8 L336.2 560.8 L333.4 560.4 L333.4 560.4 L330.6 559.9 L330.6 559.9 L327.8 559.4 L327.8 559.4 L325.1 558.8 L325.1 558.8 L322.3 558.2 L321.7 560.7 L318.9 560 L318.9 560 L316.1 559.3 L316.1 559.3 L313.4 558.5 L313.4 558.5 L310.6 557.7 L310.6 557.7 L307.9 556.8 L307.9 556.8 L305.1 555.9 L304.3 558.3 L301.6 557.3 L301.6 557.3 L298.8 556.3 L298.8 556.3 L296.1 555.2 L296.1 555.2 L293.4 554.1 L293.4 554.1 L290.7 552.9 L290.7 552.9 L288.1 551.7 L287 554 L284.3 552.7 L284.3 552.7 L281.7 551.4 L281.7 551.4 L279 550 L279 550 L276.4 548.6 L276.4 548.6 L273.9 547.1 L273.9 547.1 L271.3 545.6 L271.3 545.6 L268.8 544.1 L268.8 544.1 L266.3 542.5 L266.3 542.5 L263.8 540.8 L263.8 540.8 L261.3 539.2 L261.3 539.2 L258.9 537.4 L258.9 537.4 L256.5 535.7 L256.5 535.7 L254.2 533.9 L254.2 533.9 L251.9 532 L251.9 532 L249.6 530.1 L249.6 530.1 L247.3 528.2 L247.3 528.2 L245.1 526.2 L245.1 526.2 L242.9 524.2 L242.9 524.2 L240.8 522.2 L240.8 522.2 L238.6 520.1 L238.6 520.1 L236.6 518 L236.6 518 L234.5 515.8 L234.5 515.8 L232.5 513.7 L232.5 513.7 L230.5 511.4 L230.5 511.4 L228.6 509.2 L228.6 509.2 L226.7 506.9 L224.8 508.5 L222.9 506.1 L222.9 506.1 L221.1 503.7 L221.1 503.7 L219.3 501.3 L219.3 501.3 L217.5 498.8 L217.5 498.8 L215.8 496.4 L215.8 496.4 L214.2 493.9 L214.2 493.9 L212.6 491.3 L212.6 491.3 L211 488.7 L211 488.7 L209.5 486.1 L209.5 486.1 L208 483.5 L208 483.5 L206.5 480.9 L206.5 480.9 L205.2 478.2 L205.2 478.2 L203.8 475.5 L203.8 475.5 L202.5 472.8 L202.5 472.8 L201.3 470.1 L201.3 470.1 L200.1 467.3 L200.1 467.3 L198.9 464.5 L198.9 464.5 L197.8 461.7 L197.8 461.7 L196.8 458.9 L196.8 458.9 L195.7 456.1 L195.7 456.1 L194.8 453.2 L194.8 453.2 L193.9 450.3 L191.5 451.1 L190.6 448.1 L190.6 448.1 L189.8 445.2 L189.8 445.2 L189 442.2 L189 442.2 L188.3 439.3 L188.3 439.3 L187.7 436.3 L187.7 436.3 L187.1 433.3 L187.1 433.3 L186.5 430.3 L186.5 430.3 L186 427.3 L186 427.3 L185.6 424.3 L185.6 424.3 L185.2 421.2 L185.2 421.2 L184.8 418.2 L184.8 418.2 L184.5 415.2 L184.5 415.2 L184.3 412.1 L184.3 412.1 L184.1 409.1 L184.1 409.1 L184 406 L184 406 L183.9 403 L183.9 403 L183.9 399.9Z" fill="#4178ff"/>
<path d="M183.9 399.9 L183.9 396.8 L183.9 396.8 L184 393.8 L184 393.8 L184.1 390.7 L184.1 390.7 L184.3 387.7 L184.3 387.7 L184.5 384.6 L184.5 384.6 L184.8 381.6 L184.8 381.6 L185.2 378.6 L185.2 378.6 L185.6 375.5 L185.6 375.5 L186 372.5 L186 372.5 L186.5 369.5 L186.5 369.5 L187.1 366.5 L187.1 366.5 L187.7 363.5 L187.7 363.5 L188.3 360.5 L188.3 360.5 L189 357.6 L189 357.6 L189.8 354.6 L189.8 354.6 L190.6 351.7 L190.6 351.7 L191.5 348.7 L191.5 348.7 L192.4 345.8 L192.4 345.8 L193.4 342.9 L193.4 342.9 L194.4 340 L194.4 340 L195.5 337.2 L195.5 337.2 L196.6 334.3 L196.6 334.3 L197.8 331.5 L195.5 330.5 L196.7 327.7 L196.7 327.7 L198 324.9 L198 324.9 L199.3 322.1 L199.3 322.1 L200.7 319.3 L200.7 319.3 L202.1 316.6 L202.1 316.6 L203.6 313.8 L203.6 313.8 L205.1 311.1 L205.1 311.1 L206.7 308.5 L206.7 308.5 L208.3 305.8 L208.3 305.8 L210 303.2 L210 303.2 L211.7 300.6 L211.7 300.6 L213.5 298.1 L213.5 298.1 L215.2 295.6 L215.2 295.6 L217.1 293.1 L217.1 293.1 L219 290.6 L219 290.6 L220.9 288.2 L219 286.6 L221 284.2 L221 284.2 L223 281.8 L223 281.8 L225.1 279.5 L225.1 279.5 L227.2 277.1 L225.4 275.4 L227.6 273.1 L227.6 273.1 L229.8 270.9 L229.8 270.9 L232.1 268.6 L230.3 266.8 L232.7 264.6 L232.7 264.6 L235.1 262.4 L235.1 262.4 L237.5 260.3 L235.8 258.4 L238.3 256.3 L238.3 256.3 L240.9 254.2 L240.9 254.2 L243.4 252.1 L243.4 252.1 L246 250.2 L244.5 248.2 L247.2 246.2 L247.2 246.2 L249.9 244.3 L249.9 244.3 L252.6 242.4 L252.6 242.4 L255.4 240.6 L254 238.5 L256.8 236.7 L256.8 236.7 L259.7 234.9 L259.7 234.9 L262.6 233.2 L261.4 231 L264.3 229.3 L264.3 229.3 L267.3 227.7 L267.3 227.7 L270.3 226.2 L270.3 226.2 L273.4 224.6 L272.3 222.4 L275.4 220.9 L275.4 220.9 L278.5 219.5 L278.5 219.5 L281.7 218.1 L281.7 218.1 L284.9 216.8 L284.9 216.8 L288.1 215.5 L287.2 213.2 L290.4 212 L290.4 212 L293.7 210.8 L293.7 210.8 L297 209.7 L297 209.7 L300.4 208.6 L299.6 206.2 L303 205.2 L303 205.2 L306.4 204.3 L306.4 204.3 L309.9 203.4 L309.9 203.4 L313.3 202.6 L312.7 200.2 L316.2 199.4 L316.2 199.4 L319.7 198.7 L319.1 195.6 L322.7 194.9 L322.7 194.9 L326.3 194.3 L326.3 194.3 L329.9 193.8 L329.9 193.8 L333.5 193.3 L333.5 193.3 L337.1 192.9 L337.1 192.9 L340.7 192.5 L340.7 192.5 L344.3 192.3 L344.3 192.3 L348 192 L348 192 L351.6 191.9 L351.6 191.9 L355.2 191.8 L355.2 191.8 L358.9 191.7 L358.9 191.7 L362.5 191.8 L362.5 191.8 L366.1 191.9 L366.1 191.9 L369.7 192 L369.7 192 L373.4 192.3 L373.4 192.3 L377 192.5 L377 192.5 L380.6 192.9 L380.6 192.9 L384.2 193.3 L384.2 193.3 L387.8 193.8 L387.8 193.8 L391.4 194.3 L391.4 194.3 L395 194.9 L395 194.9 L398.6 195.6 L398.6 195.6 L402.1 196.3 L402.1 196.3 L405.7 197.1 L405.7 197.1 L409.2 197.9 L409.2 197.9 L412.7 198.8 L412.7 198.8 L416.2 199.8 L416.2 199.8 L419.7 200.8 L419.7 200.8 L423.2 201.9 L423.2 201.9 L426.6 203.1 L426.6 203.1 L430 204.3 L430 204.3 L433.4 205.6 L433.4 205.6 L436.8 206.9 L436.8 206.9 L440.2 208.3 L438.9 211.2 L442.2 212.6 L441.2 214.9 L444.4 216.4 L444.4 216.4 L447.6 217.9 L446.5 220.1 L449.6 221.7 L448.5 223.9 L451.6 225.5 L451.6 225.5 L454.6 227.2 L453.4 229.3 L456.4 231 L456.4 231 L459.3 232.8 L458 234.9 L460.9 236.7 L460.9 236.7 L463.7 238.5 L463.7 238.5 L466.5 240.3 L466.5 240.3 L469.3 242.2 L469.3 242.2 L472 244.2 L472 244.2 L474.7 246.2 L473.2 248.2 L475.8 250.2 L475.8 250.2 L478.4 252.2 L478.4 252.2 L481 254.4 L481 254.4 L483.5 256.5 L483.5 256.5 L486 258.7 L486 258.7 L488.4 260.9 L488.4 260.9 L490.8 263.2 L490.8 263.2 L493.2 265.5 L491.4 267.3 L493.7 269.7 L493.7 269.7 L496 272 L497.8 270.3 L500 272.8 L500 272.8 L502.2 275.2 L502.2 275.2 L504.4 277.8 L504.4 277.8 L506.5 280.3 L506.5 280.3 L508.6 282.9 L508.6 282.9 L510.6 285.6 L510.6 285.6 L512.6 288.2 L512.6 288.2 L514.5 290.9 L514.5 290.9 L516.4 293.7 L516.4 293.7 L518.2 296.4 L520.3 295.1 L522.1 297.9 L522.1 297.9 L523.9 300.8 L521.7 302 L523.4 304.9 L523.4 304.9 L525 307.8 L525 307.8 L526.6 310.7 L526.6 310.7 L528.1 313.6 L528.1 313.6 L529.6 316.6 L529.6 316.6 L531 319.6 L531 319.6 L532.4 322.6 L532.4 322.6 L533.7 325.7 L533.7 325.7 L535 328.7 L535 328.7 L536.2 331.8 L538.6 330.9 L539.7 334.1 L539.7 334.1 L540.9 337.2 L543.2 336.4 L544.3 339.6 L544.3 339.6 L545.3 342.9 L547.7 342.2 L548.7 345.5 L548.7 345.5 L549.6 348.8 L552 348.1 L552.9 351.5 L552.9 351.5 L553.7 354.9 L553.7 354.9 L554.5 358.3 L554.5 358.3 L555.2 361.7 L557.6 361.3 L558.3 364.7 L558.3 364.7 L558.9 368.2 L558.9 368.2 L559.4 371.7 L559.4 371.7 L559.8 375.2 L554.9 375.8 L555.3 379.3 L555.3 379.3 L555.6 382.7 L550.6 383.1 L550.9 386.5 L550.9 386.5 L551.1 389.8 L548.6 390 L548.7 393.3 L548.7 393.3 L548.8 396.6 L548.8 396.6 L548.9 399.9 L548.9 399.9 L548.8 403.2 L548.8 403.2 L548.7 406.5 L548.7 406.5 L548.6 409.8 L551.1 410 L550.9 413.3 L550.9 413.3 L550.6 416.7 L550.6 416.7 L550.3 420 L550.3 420 L549.9 423.4 L549.9 423.4 L549.5 426.7 L549.5 426.7 L549 430 L549 430 L548.4 433.3 L548.4 433.3 L547.8 436.6 L545.4 436.2 L544.7 439.4 L544.7 439.4 L544 442.6 L541.5 442.1 L540.8 445.3 L540.8 445.3 L540 448.4 L540 448.4 L539.1 451.6 L539.1 451.6 L538.2 454.7 L535.8 454 L534.8 457.1 L534.8 457.1 L533.8 460.1 L533.8 460.1 L532.7 463.2 L532.7 463.2 L531.6 466.2 L529.2 465.3 L528.1 468.3 L528.1 468.3 L526.8 471.2 L526.8 471.2 L525.6 474.1 L525.6 474.1 L524.3 477 L524.3 477 L522.9 479.9 L522.9 479.9 L521.5 482.8 L521.5 482.8 L520 485.6 L517.8 484.4 L516.3 487.2 L516.3 487.2 L514.7 489.9 L514.7 489.9 L513.1 492.6 L513.1 492.6 L511.5 495.3 L511.5 495.3 L509.8 497.9 L507.7 496.6 L506 499.2 L506 499.2 L504.2 501.7 L502.2 500.3 L500.4 502.8 L500.4 502.8 L498.6 505.2 L496.6 503.7 L494.8 506.1 L494.8 506.1 L492.9 508.5 L492.9 508.5 L491 510.8 L489.1 509.2 L487.2 511.4 L487.2 511.4 L485.2 513.7 L485.2 513.7 L483.2 515.8 L483.2 515.8 L481.1 518 L481.1 518 L479.1 520.1 L479.1 520.1 L476.9 522.2 L476.9 522.2 L474.8 524.2 L474.8 524.2 L472.6 526.2 L472.6 526.2 L470.4 528.2 L470.4 528.2 L468.1 530.1 L468.1 530.1 L465.8 532 L465.8 532 L463.5 533.9 L463.5 533.9 L461.2 535.7 L461.2 535.7 L458.8 537.4 L458.8 537.4 L456.4 539.2 L457.8 541.2 L455.3 542.9 L455.3 542.9 L452.8 544.6 L452.8 544.6 L450.3 546.2 L450.3 546.2 L447.7 547.8 L447.7 547.8 L445.1 549.3 L445.1 549.3 L442.5 550.8 L442.5 550.8 L439.8 552.2 L439.8 552.2 L437.2 553.6 L437.2 553.6 L434.5 554.9 L434.5 554.9 L431.8 556.2 L431.8 556.2 L429 557.5 L429 557.5 L426.3 558.7 L426.3 558.7 L423.5 559.8 L423.5 559.8 L420.7 560.9 L419.8 558.6 L417 559.6 L417 559.6 L414.2 560.6 L414.2 560.6 L411.4 561.6 L411.4 561.6 L408.6 562.5 L407.8 560.1 L405 560.9 L405 560.9 L402.2 561.7 L402.2 561.7 L399.4 562.4 L399.4 562.4 L396.5 563.1 L396 560.7 L393.2 561.3 L393.2 561.3 L390.3 561.9 L389.9 559.4 L387.1 559.9 L387.1 559.9 L384.3 560.4 L384.3 560.4 L381.5 560.8 L381.5 560.8 L378.7 561.2 L378.3 558.7 L375.6 559 L375.6 559 L372.8 559.3 L372.8 559.3 L370 559.5 L370 559.5 L367.2 559.7 L367.2 559.7 L364.4 559.8 L364.4 559.8 L361.6 559.9 L361.6 557.4 L358.9 557.4 L358.9 557.4 L356.1 557.4 L356.1 557.4 L353.4 557.3 L353.4 557.3 L350.6 557.2 L350.6 557.2 L347.9 557 L347.9 557 L345.1 556.8 L344.9 559.3 L342.1 559 L342.1 559 L339.4 558.7 L339.4 558.7 L336.6 558.3 L336.6 558.3 L333.8 557.9 L333.8 557.9 L331.1 557.5 L331.1 557.5 L328.3 557 L328.3 557 L325.6 556.4 L325.6 556.4 L322.9 555.8 L322.3 558.2 L319.5 557.6 L319.5 557.6 L316.8 556.9 L316.8 556.9 L314.1 556.1 L314.1 556.1 L311.3 555.3 L311.3 555.3 L308.6 554.4 L308.6 554.4 L305.9 553.5 L305.1 555.9 L302.4 554.9 L302.4 554.9 L299.7 553.9 L299.7 553.9 L297 552.9 L297 552.9 L294.4 551.8 L294.4 551.8 L291.7 550.6 L291.7 550.6 L289.1 549.4 L288.1 551.7 L285.4 550.4 L285.4 550.4 L282.8 549.1 L282.8 549.1 L280.2 547.8 L280.2 547.8 L277.6 546.4 L277.6 546.4 L275.1 545 L275.1 545 L272.6 543.5 L272.6 543.5 L270.1 541.9 L270.1 541.9 L267.6 540.4 L267.6 540.4 L265.2 538.8 L265.2 538.8 L262.8 537.1 L262.8 537.1 L260.4 535.4 L260.4 535.4 L258 533.7 L258 533.7 L255.7 531.9 L255.7 531.9 L253.4 530.1 L253.4 530.1 L251.2 528.2 L251.2 528.2 L249 526.3 L249 526.3 L246.8 524.4 L246.8 524.4 L244.6 522.4 L244.6 522.4 L242.5 520.4 L242.5 520.4 L240.4 518.3 L238.6 520.1 L236.6 518 L236.6 518 L234.5 515.8 L234.5 515.8 L232.5 513.7 L232.5 513.7 L230.5 511.4 L230.5 511.4 L228.6 509.2 L228.6 509.2 L226.7 506.9 L226.7 506.9 L224.9 504.6 L224.9 504.6 L223.1 502.2 L223.1 502.2 L221.3 499.8 L221.3 499.8 L219.6 497.4 L219.6 497.4 L217.9 495 L217.9 495 L216.3 492.5 L216.3 492.5 L214.7 490 L214.7 490 L213.1 487.5 L213.1 487.5 L211.6 484.9 L211.6 484.9 L210.2 482.3 L210.2 482.3 L208.7 479.7 L208.7 479.7 L207.4 477.1 L207.4 477.1 L206.1 474.4 L206.1 474.4 L204.8 471.7 L204.8 471.7 L203.5 469 L203.5 469 L202.4 466.3 L200.1 467.3 L198.9 464.5 L198.9 464.5 L197.8 461.7 L197.8 461.7 L196.8 458.9 L196.8 458.9 L195.7 456.1 L195.7 456.1 L194.8 453.2 L194.8 453.2 L193.9 450.3 L193.9 450.3 L193 447.4 L193 447.4 L192.2 444.5 L192.2 444.5 L191.5 441.6 L191.5 441.6 L190.8 438.7 L190.8 438.7 L190.1 435.8 L190.1 435.8 L189.5 432.8 L189.5 432.8 L189 429.9 L189 429.9 L188.5 426.9 L188.5 426.9 L188 423.9 L188 423.9 L187.6 420.9 L187.6 420.9 L187.3 417.9 L187.3 417.9 L187 414.9 L187 414.9 L186.8 411.9 L186.8 411.9 L186.6 408.9 L186.6 408.9 L186.5 405.9 L186.5 405.9 L186.4 402.9 L183.9 403 L183.9 399.9Z" fill="#82aaff"/>
<path d="M186.4 399.9 L186.4 396.9 L186.4 396.9 L186.5 393.9 L186.5 393.9 L186.6 390.9 L186.6 390.9 L186.8 387.9 L186.8 387.9 L187 384.9 L187 384.9 L187.3 381.9 L187.3 381.9 L187.6 378.9 L187.6 378.9 L188 375.9 L188 375.9 L188.5 372.9 L188.5 372.9 L189 369.9 L189 369.9 L189.5 367 L189.5 367 L190.1 364 L190.1 364 L190.8 361.1 L190.8 361.1 L191.5 358.2 L191.5 358.2 L192.2 355.3 L192.2 355.3 L193 352.4 L193 352.4 L193.9 349.5 L193.9 349.5 L194.8 346.6 L194.8 346.6 L195.7 343.7 L193.4 342.9 L194.4 340 L194.4 340 L195.5 337.2 L195.5 337.2 L196.6 334.3 L196.6 334.3 L197.8 331.5 L197.8 331.5 L199 328.7 L199 328.7 L200.2 325.9 L200.2 325.9 L201.6 323.2 L201.6 323.2 L202.9 320.5 L202.9 320.5 L204.3 317.7 L204.3 317.7 L205.8 315.1 L205.8 315.1 L207.3 312.4 L207.3 312.4 L208.8 309.8 L208.8 309.8 L210.4 307.2 L210.4 307.2 L212.1 304.6 L212.1 304.6 L213.8 302 L213.8 302 L215.5 299.5 L215.5 299.5 L217.3 297 L217.3 297 L219.1 294.6 L219.1 294.6 L220.9 292.2 L220.9 292.2 L222.8 289.8 L220.9 288.2 L222.9 285.8 L222.9 285.8 L224.9 283.4 L224.9 283.4 L226.9 281.1 L226.9 281.1 L229 278.8 L227.2 277.1 L229.4 274.9 L229.4 274.9 L231.6 272.6 L231.6 272.6 L233.8 270.4 L232.1 268.6 L234.4 266.4 L234.4 266.4 L236.7 264.3 L236.7 264.3 L239.1 262.2 L237.5 260.3 L239.9 258.2 L239.9 258.2 L242.4 256.1 L240.9 254.2 L243.4 252.1 L243.4 252.1 L246 250.2 L246 250.2 L248.6 248.2 L248.6 248.2 L251.3 246.3 L249.9 244.3 L252.6 242.4 L252.6 242.4 L255.4 240.6 L255.4 240.6 L258.2 238.8 L258.2 238.8 L261 237 L259.7 234.9 L262.6 233.2 L262.6 233.2 L265.5 231.5 L265.5 231.5 L268.5 229.9 L268.5 229.9 L271.5 228.4 L270.3 226.2 L273.4 224.6 L273.4 224.6 L276.4 223.2 L276.4 223.2 L279.5 221.8 L279.5 221.8 L282.7 220.4 L281.7 218.1 L284.9 216.8 L284.9 216.8 L288.1 215.5 L288.1 215.5 L291.3 214.3 L291.3 214.3 L294.6 213.2 L293.7 210.8 L297 209.7 L297 209.7 L300.4 208.6 L300.4 208.6 L303.7 207.6 L303.7 207.6 L307.1 206.7 L307.1 206.7 L310.5 205.8 L309.9 203.4 L313.3 202.6 L313.3 202.6 L316.7 201.8 L316.2 199.4 L319.7 198.7 L319.7 198.7 L323.3 198 L322.8 195.6 L326.4 195 L326.4 195 L330 194.4 L330 194.4 L333.6 193.9 L333.5 193.3 L337.1 192.9 L337.1 192.9 L340.7 192.5 L340.7 192.5 L344.3 192.3 L344.3 192.3 L348 192 L348 192 L351.6 191.9 L351.6 191.9 L355.2 191.8 L355.2 191.8 L358.9 191.7 L358.9 191.7 L362.5 191.8 L362.5 191.8 L366.1 191.9 L366.1 191.9 L369.7 192 L369.7 192.7 L373.3 192.9 L373.3 192.9 L376.9 193.2 L376.9 193.2 L380.5 193.5 L380.5 193.5 L384.1 193.9 L384.1 193.9 L387.7 194.4 L387.7 194.4 L391.3 195 L391.3 195 L394.9 195.6 L394.9 195.6 L398.4 196.2 L398 198.7 L401.5 199.4 L401.5 199.4 L405 200.2 L405 200.2 L408.4 201 L408.4 201 L411.9 201.9 L411.9 201.9 L415.4 202.8 L415.4 202.8 L418.8 203.9 L418.8 203.9 L422.2 204.9 L422.2 204.9 L425.6 206.1 L425.6 206.1 L429 207.3 L429 207.3 L432.3 208.5 L431.4 210.8 L434.7 212.1 L434.7 212.1 L438 213.5 L438 213.5 L441.2 214.9 L440.2 217.2 L443.4 218.6 L442.3 220.9 L445.4 222.4 L445.4 222.4 L448.5 223.9 L447.4 226.2 L450.4 227.7 L450.4 227.7 L453.4 229.3 L452.2 231.5 L455.1 233.2 L455.1 233.2 L458 234.9 L458 234.9 L460.9 236.7 L460.9 236.7 L463.7 238.5 L462.3 240.6 L465.1 242.4 L465.1 242.4 L467.8 244.3 L467.8 244.3 L470.5 246.2 L470.5 246.2 L473.2 248.2 L473.2 248.2 L475.8 250.2 L475.8 250.2 L478.4 252.2 L476.8 254.2 L479.4 256.3 L479.4 256.3 L481.9 258.4 L481.9 258.4 L484.3 260.6 L484.3 260.6 L486.7 262.8 L486.7 262.8 L489.1 265 L489.1 265 L491.4 267.3 L491.4 267.3 L493.7 269.7 L493.7 269.7 L496 272 L496 272 L498.2 274.4 L498.2 274.4 L500.4 276.9 L500.4 276.9 L502.5 279.4 L502.5 279.4 L504.6 281.9 L506.5 280.3 L508.6 282.9 L508.6 282.9 L510.6 285.6 L510.6 285.6 L512.6 288.2 L512.6 288.2 L514.5 290.9 L514.5 290.9 L516.4 293.7 L516.4 293.7 L518.2 296.4 L518.2 296.4 L520 299.2 L520 299.2 L521.7 302 L521.7 302 L523.4 304.9 L523.4 304.9 L525 307.8 L525 307.8 L526.6 310.7 L526.6 310.7 L528.1 313.6 L528.1 313.6 L529.6 316.6 L529.6 316.6 L531 319.6 L531 319.6 L532.4 322.6 L532.4 322.6 L533.7 325.7 L533.7 325.7 L535 328.7 L535 328.7 L536.2 331.8 L538.6 330.9 L539.7 334.1 L539.7 334.1 L540.9 337.2 L540.9 337.2 L541.9 340.4 L541.9 340.4 L542.9 343.6 L545.3 342.9 L546.3 346.2 L546.3 346.2 L547.2 349.4 L549.6 348.8 L550.5 352.1 L550.5 352.1 L551.3 355.5 L553.7 354.9 L554.5 358.3 L554.5 358.3 L555.2 361.7 L555.2 361.7 L555.8 365.2 L555.8 365.2 L556.4 368.6 L556.4 368.6 L556.9 372.1 L556.9 372.1 L557.4 375.5 L554.9 375.8 L555.3 379.3 L555.3 379.3 L555.6 382.7 L550.6 383.1 L550.9 386.5 L550.9 386.5 L551.1 389.8 L548.6 390 L548.7 393.3 L548.7 393.3 L548.8 396.6 L546.3 396.6 L546.4 399.9 L546.4 399.9 L546.3 403.2 L548.8 403.2 L548.7 406.5 L548.7 406.5 L548.6 409.8 L548.6 409.8 L548.4 413.2 L548.4 413.2 L548.1 416.5 L548.1 416.5 L547.8 419.8 L547.8 419.8 L547.4 423.1 L547.4 423.1 L547 426.3 L547 426.3 L546.5 429.6 L546.5 429.6 L546 432.9 L546 432.9 L545.4 436.2 L542.9 435.7 L542.3 438.9 L542.3 438.9 L541.5 442.1 L541.5 442.1 L540.8 445.3 L540.8 445.3 L540 448.4 L537.5 447.8 L536.7 450.9 L536.7 450.9 L535.8 454 L535.8 454 L534.8 457.1 L534.8 457.1 L533.8 460.1 L531.4 459.3 L530.3 462.3 L530.3 462.3 L529.2 465.3 L529.2 465.3 L528.1 468.3 L528.1 468.3 L526.8 471.2 L524.5 470.2 L523.3 473.1 L523.3 473.1 L522 476 L522 476 L520.6 478.8 L520.6 478.8 L519.2 481.6 L519.2 481.6 L517.8 484.4 L517.8 484.4 L516.3 487.2 L516.3 487.2 L514.7 489.9 L514.7 489.9 L513.1 492.6 L511 491.3 L509.4 494 L509.4 494 L507.7 496.6 L505.6 495.2 L503.9 497.8 L503.9 497.8 L502.2 500.3 L502.2 500.3 L500.4 502.8 L500.4 502.8 L498.6 505.2 L496.6 503.7 L494.8 506.1 L494.8 506.1 L492.9 508.5 L491 506.9 L489.1 509.2 L489.1 509.2 L487.2 511.4 L487.2 511.4 L485.2 513.7 L485.2 513.7 L483.2 515.8 L483.2 515.8 L481.1 518 L481.1 518 L479.1 520.1 L479.1 520.1 L476.9 522.2 L476.9 522.2 L474.8 524.2 L474.8 524.2 L472.6 526.2 L472.6 526.2 L470.4 528.2 L470.4 528.2 L468.1 530.1 L468.1 530.1 L465.8 532 L465.8 532 L463.5 533.9 L463.5 533.9 L461.2 535.7 L461.2 535.7 L458.8 537.4 L458.8 537.4 L456.4 539.2 L457.8 541.2 L455.3 542.9 L455.3 542.9 L452.8 544.6 L452.8 544.6 L450.3 546.2 L450.3 546.2 L447.7 547.8 L447.7 547.8 L445.1 549.3 L445.1 549.3 L442.5 550.8 L442.5 550.8 L439.8 552.2 L439.8 552.2 L437.2 553.6 L437.2 553.6 L434.5 554.9 L434.5 554.9 L431.8 556.2 L431.8 556.2 L429 557.5 L429 557.5 L426.3 558.7 L426.3 558.7 L423.5 559.8 L423.5 559.8 L420.7 560.9 L419.8 558.6 L417 559.6 L417 559.6 L414.2 560.6 L414.2 560.6 L411.4 561.6 L411.4 561.6 L408.6 562.5 L407.8 560.1 L405 560.9 L405 560.9 L402.2 561.7 L401.6 559.3 L398.8 560 L398.8 560 L396 560.7 L396 560.7 L393.2 561.3 L393.2 561.3 L390.3 561.9 L389.9 559.4 L387.1 559.9 L387.1 559.9 L384.3 560.4 L383.9 557.9 L381.1 558.3 L381.1 558.3 L378.3 558.7 L378.3 558.7 L375.6 559 L375.6 559 L372.8 559.3 L372.8 559.3 L370 559.5 L370 559.5 L367.2 559.7 L367.1 557.2 L364.3 557.3 L364.3 557.3 L361.6 557.4 L361.6 557.4 L358.9 557.4 L358.9 557.4 L356.1 557.4 L356.1 557.4 L353.4 557.3 L353.4 557.3 L350.6 557.2 L350.6 557.2 L347.9 557 L347.9 557 L345.1 556.8 L345.1 556.8 L342.4 556.5 L342.4 556.5 L339.7 556.2 L339.7 556.2 L336.9 555.9 L336.9 555.9 L334.2 555.5 L333.8 557.9 L331.1 557.5 L331.1 557.5 L328.3 557 L328.3 557 L325.6 556.4 L325.6 556.4 L322.9 555.8 L322.9 555.8 L320.1 555.1 L320.1 555.1 L317.4 554.4 L317.4 554.4 L314.7 553.7 L314.7 553.7 L312.1 552.9 L311.3 555.3 L308.6 554.4 L308.6 554.4 L305.9 553.5 L305.9 553.5 L303.3 552.6 L303.3 552.6 L300.6 551.6 L300.6 551.6 L298 550.6 L298 550.6 L295.4 549.5 L294.4 551.8 L291.7 550.6 L291.7 550.6 L289.1 549.4 L289.1 549.4 L286.5 548.2 L286.5 548.2 L283.9 546.9 L283.9 546.9 L281.4 545.6 L281.4 545.6 L278.9 544.2 L277.6 546.4 L275.1 545 L275.1 545 L272.6 543.5 L272.6 543.5 L270.1 541.9 L270.1 541.9 L267.6 540.4 L267.6 540.4 L265.2 538.8 L265.2 538.8 L262.8 537.1 L262.8 537.1 L260.4 535.4 L260.4 535.4 L258 533.7 L259.6 531.7 L257.3 529.9 L257.3 529.9 L255 528.1 L255 528.1 L252.8 526.3 L252.8 526.3 L250.6 524.4 L249 526.3 L246.8 524.4 L246.8 524.4 L244.6 522.4 L244.6 522.4 L242.5 520.4 L242.5 520.4 L240.4 518.3 L240.4 518.3 L238.4 516.3 L238.4 516.3 L236.3 514.1 L236.3 514.1 L234.4 512 L234.4 512 L232.4 509.8 L232.4 509.8 L230.5 507.6 L230.5 507.6 L228.7 505.3 L228.7 505.3 L226.9 503 L226.9 503 L225.1 500.7 L225.1 500.7 L223.3 498.4 L223.3 498.4 L221.6 496 L221.6 496 L220 493.6 L220 493.6 L218.4 491.1 L218.4 491.1 L216.8 488.7 L216.8 488.7 L215.3 486.2 L215.3 486.2 L213.8 483.6 L213.8 483.6 L212.4 481.1 L210.2 482.3 L208.7 479.7 L208.7 479.7 L207.4 477.1 L207.4 477.1 L206.1 474.4 L206.1 474.4 L204.8 471.7 L204.8 471.7 L203.5 469 L203.5 469 L202.4 466.3 L202.4 466.3 L201.2 463.6 L201.2 463.6 L200.1 460.8 L200.1 460.8 L199.1 458 L199.1 458 L198.1 455.2 L198.1 455.2 L197.2 452.4 L197.2 452.4 L196.3 449.6 L196.3 449.6 L195.4 446.8 L195.4 446.8 L194.6 443.9 L194.6 443.9 L193.9 441 L193.9 441 L193.2 438.1 L193.2 438.1 L192.6 435.2 L192.6 435.2 L192 432.3 L192 432.3 L191.4 429.4 L191.4 429.4 L190.9 426.5 L190.9 426.5 L190.5 423.6 L190.5 423.6 L190.1 420.6 L190.1 420.6 L189.8 417.7 L189.8 417.7 L189.5 414.7 L187 414.9 L186.8 411.9 L186.8 411.9 L186.6 408.9 L186.6 408.9 L186.5 405.9 L186.5 405.9 L186.4 402.9 L186.4 402.9 L186.4 399.9Z" fill="#afcdff"/>
<path d="M188.9 399.9 L188.9 396.9 L188.9 396.9 L189 394 L189 394 L189.1 391 L189.1 391 L189.3 388 L189.3 388 L189.5 385.1 L189.5 385.1 L189.8 382.1 L189.8 382.1 L190.1 379.2 L190.1 379.2 L190.5 376.2 L190.5 376.2 L190.9 373.3 L190.9 373.3 L191.4 370.4 L191.4 370.4 L192 367.5 L192 367.5 L192.6 364.6 L192.6 364.6 L193.2 361.7 L190.8 361.1 L191.5 358.2 L191.5 358.2 L192.2 355.3 L192.2 355.3 L193 352.4 L193 352.4 L193.9 349.5 L193.9 349.5 L194.8 346.6 L194.8 346.6 L195.7 343.7 L195.7 343.7 L196.8 340.9 L196.8 340.9 L197.8 338.1 L197.8 338.1 L198.9 335.3 L198.9 335.3 L200.1 332.5 L200.1 332.5 L201.3 329.7 L201.3 329.7 L202.5 327 L202.5 327 L203.8 324.3 L203.8 324.3 L205.2 321.6 L205.2 321.6 L206.5 318.9 L206.5 318.9 L208 316.3 L208 316.3 L209.5 313.6 L209.5 313.6 L211 311.1 L211 311.1 L212.6 308.5 L212.6 308.5 L214.2 305.9 L214.2 305.9 L215.8 303.4 L215.8 303.4 L217.5 301 L217.5 301 L219.3 298.5 L219.3 298.5 L221.1 296.1 L221.1 296.1 L222.9 293.7 L222.9 293.7 L224.8 291.3 L222.8 289.8 L224.8 287.4 L224.8 287.4 L226.8 285.1 L226.8 285.1 L228.8 282.8 L228.8 282.8 L230.9 280.6 L229 278.8 L231.2 276.6 L231.2 276.6 L233.3 274.4 L233.3 274.4 L235.5 272.2 L233.8 270.4 L236.1 268.3 L236.1 268.3 L238.4 266.1 L238.4 266.1 L240.8 264.1 L239.1 262.2 L241.5 260.1 L241.5 260.1 L244 258.1 L242.4 256.1 L245 254.1 L245 254.1 L247.5 252.2 L247.5 252.2 L250.1 250.2 L250.1 250.2 L252.7 248.4 L251.3 246.3 L254 244.5 L254 244.5 L256.7 242.6 L256.7 242.6 L259.5 240.9 L259.5 240.9 L262.3 239.2 L261 237 L263.9 235.4 L263.9 235.4 L266.7 233.7 L266.7 233.7 L269.7 232.1 L268.5 229.9 L271.5 228.4 L271.5 228.4 L274.5 226.9 L274.5 226.9 L277.5 225.4 L276.4 223.2 L279.5 221.8 L279.5 221.8 L282.7 220.4 L282.7 220.4 L285.8 219.1 L285.8 219.1 L289 217.9 L289 217.9 L292.2 216.7 L292.2 216.7 L295.4 215.5 L294.6 213.2 L297.8 212.1 L297.8 212.1 L301.1 211 L300.4 208.6 L303.7 207.6 L303.7 207.6 L307.1 206.7 L307.1 206.7 L310.5 205.8 L310.5 205.8 L313.9 205 L313.3 202.6 L316.7 201.8 L316.7 201.8 L320.2 201.1 L319.7 198.7 L323.3 198 L323.3 198 L326.8 197.4 L326.8 197.4 L330.3 196.9 L330 194.4 L333.6 193.9 L333.5 193.3 L337.1 192.9 L337.1 192.9 L340.7 192.5 L340.7 192.5 L344.3 192.3 L344.3 192.3 L348 192 L348 192 L351.6 191.9 L351.6 191.9 L355.2 191.8 L355.2 191.8 L358.9 191.7 L358.9 191.7 L362.5 191.8 L362.5 191.8 L366.1 191.9 L366.1 191.9 L369.7 192 L369.7 192.7 L373.3 192.9 L373.3 192.9 L376.9 193.2 L376.9 193.2 L380.5 193.5 L380.3 196 L383.8 196.4 L383.8 196.4 L387.4 196.9 L387.4 196.9 L390.9 197.4 L390.9 197.4 L394.4 198 L394.4 198 L398 198.7 L398 198.7 L401.5 199.4 L401.5 199.4 L405 200.2 L404.4 202.6 L407.8 203.4 L407.8 203.4 L411.3 204.3 L411.3 204.3 L414.7 205.2 L414.7 205.2 L418.1 206.2 L417.3 208.6 L420.7 209.7 L420.7 209.7 L424 210.8 L424 210.8 L427.3 212 L427.3 212 L430.5 213.2 L430.5 213.2 L433.8 214.5 L433.8 214.5 L437 215.8 L436 218.1 L439.2 219.5 L439.2 219.5 L442.3 220.9 L441.3 223.2 L444.3 224.6 L444.3 224.6 L447.4 226.2 L446.2 228.4 L449.2 229.9 L449.2 229.9 L452.2 231.5 L452.2 231.5 L455.1 233.2 L455.1 233.2 L458 234.9 L456.7 237 L459.5 238.8 L459.5 238.8 L462.3 240.6 L462.3 240.6 L465.1 242.4 L465.1 242.4 L467.8 244.3 L466.4 246.3 L469.1 248.2 L469.1 248.2 L471.7 250.2 L471.7 250.2 L474.3 252.1 L474.3 252.1 L476.8 254.2 L476.8 254.2 L479.4 256.3 L479.4 256.3 L481.9 258.4 L481.9 258.4 L484.3 260.6 L484.3 260.6 L486.7 262.8 L485 264.6 L487.4 266.8 L487.4 266.8 L489.7 269.1 L489.7 269.1 L491.9 271.4 L491.9 271.4 L494.2 273.7 L496 272 L498.2 274.4 L498.2 274.4 L500.4 276.9 L500.4 276.9 L502.5 279.4 L502.5 279.4 L504.6 281.9 L504.6 281.9 L506.6 284.5 L506.6 284.5 L508.6 287.1 L508.6 287.1 L510.5 289.7 L510.5 289.7 L512.4 292.4 L512.4 292.4 L514.3 295.1 L514.3 295.1 L516.1 297.8 L516.1 297.8 L517.9 300.5 L517.9 300.5 L519.6 303.3 L519.6 303.3 L521.2 306.1 L521.2 306.1 L522.8 309 L522.8 309 L524.4 311.9 L524.4 311.9 L525.9 314.8 L525.9 314.8 L527.4 317.7 L527.4 317.7 L528.8 320.7 L528.8 320.7 L530.1 323.6 L530.1 323.6 L531.4 326.6 L533.7 325.7 L535 328.7 L535 328.7 L536.2 331.8 L536.2 331.8 L537.4 334.9 L537.4 334.9 L538.5 338 L540.9 337.2 L541.9 340.4 L541.9 340.4 L542.9 343.6 L545.3 342.9 L546.3 346.2 L546.3 346.2 L547.2 349.4 L549.6 348.8 L550.5 352.1 L550.5 352.1 L551.3 355.5 L551.3 355.5 L552 358.8 L552 358.8 L552.7 362.2 L555.2 361.7 L555.8 365.2 L555.8 365.2 L556.4 368.6 L553.9 369 L554.4 372.4 L554.4 372.4 L554.9 375.8 L552.4 376.1 L552.8 379.5 L552.8 379.5 L553.1 382.9 L548.1 383.3 L548.4 386.6 L548.4 386.6 L548.6 390 L546.1 390.1 L546.2 393.4 L546.2 393.4 L546.3 396.6 L546.3 396.6 L546.4 399.9 L546.4 399.9 L546.3 403.2 L546.3 403.2 L546.2 406.4 L546.2 406.4 L546.1 409.7 L546.1 409.7 L545.9 413 L545.9 413 L545.6 416.2 L545.6 416.2 L545.3 419.5 L545.3 419.5 L545 422.8 L545 422.8 L544.5 426 L544.5 426 L544 429.2 L544 429.2 L543.5 432.5 L543.5 432.5 L542.9 435.7 L542.9 435.7 L542.3 438.9 L542.3 438.9 L541.5 442.1 L539.1 441.5 L538.4 444.7 L538.4 444.7 L537.5 447.8 L537.5 447.8 L536.7 450.9 L534.3 450.2 L533.4 453.3 L533.4 453.3 L532.4 456.3 L532.4 456.3 L531.4 459.3 L529 458.5 L528 461.5 L528 461.5 L526.9 464.4 L526.9 464.4 L525.7 467.3 L525.7 467.3 L524.5 470.2 L524.5 470.2 L523.3 473.1 L523.3 473.1 L522 476 L519.7 474.9 L518.4 477.7 L518.4 477.7 L517 480.5 L517 480.5 L515.6 483.2 L515.6 483.2 L514.1 486 L514.1 486 L512.6 488.6 L512.6 488.6 L511 491.3 L511 491.3 L509.4 494 L509.4 494 L507.7 496.6 L505.6 495.2 L503.9 497.8 L503.9 497.8 L502.2 500.3 L500.2 498.8 L498.4 501.3 L498.4 501.3 L496.6 503.7 L496.6 503.7 L494.8 506.1 L494.8 506.1 L492.9 508.5 L491 506.9 L489.1 509.2 L489.1 509.2 L487.2 511.4 L487.2 511.4 L485.2 513.7 L485.2 513.7 L483.2 515.8 L483.2 515.8 L481.1 518 L481.1 518 L479.1 520.1 L479.1 520.1 L476.9 522.2 L476.9 522.2 L474.8 524.2 L474.8 524.2 L472.6 526.2 L472.6 526.2 L470.4 528.2 L470.4 528.2 L468.1 530.1 L468.1 530.1 L465.8 532 L465.8 532 L463.5 533.9 L463.5 533.9 L461.2 535.7 L461.2 535.7 L458.8 537.4 L458.8 537.4 L456.4 539.2 L457.8 541.2 L455.3 542.9 L455.3 542.9 L452.8 544.6 L452.8 544.6 L450.3 546.2 L450.3 546.2 L447.7 547.8 L447.7 547.8 L445.1 549.3 L445.1 549.3 L442.5 550.8 L442.5 550.8 L439.8 552.2 L439.8 552.2 L437.2 553.6 L437.2 553.6 L434.5 554.9 L434.5 554.9 L431.8 556.2 L431.8 556.2 L429 557.5 L429 557.5 L426.3 558.7 L425.3 556.4 L422.5 557.5 L422.5 557.5 L419.8 558.6 L419.8 558.6 L417 559.6 L417 559.6 L414.2 560.6 L413.4 558.3 L410.6 559.2 L410.6 559.2 L407.8 560.1 L407.8 560.1 L405 560.9 L404.3 558.5 L401.6 559.3 L401.6 559.3 L398.8 560 L398.8 560 L396 560.7 L395.4 558.2 L392.6 558.8 L392.6 558.8 L389.9 559.4 L389.9 559.4 L387.1 559.9 L387.1 559.9 L384.3 560.4 L383.9 557.9 L381.1 558.3 L381.1 558.3 L378.3 558.7 L378.3 558.7 L375.6 559 L375.6 559 L372.8 559.3 L372.6 556.8 L369.8 557 L369.8 557 L367.1 557.2 L367.1 557.2 L364.3 557.3 L364.3 557.3 L361.6 557.4 L361.6 554.9 L358.9 554.9 L358.9 554.9 L356.1 554.9 L356.1 554.9 L353.4 554.8 L353.4 554.8 L350.7 554.7 L350.7 554.7 L348 554.5 L348 554.5 L345.3 554.3 L345.1 556.8 L342.4 556.5 L342.4 556.5 L339.7 556.2 L339.7 556.2 L336.9 555.9 L336.9 555.9 L334.2 555.5 L334.2 555.5 L331.5 555 L331.5 555 L328.8 554.5 L328.8 554.5 L326.1 554 L326.1 554 L323.4 553.4 L322.9 555.8 L320.1 555.1 L320.1 555.1 L317.4 554.4 L317.4 554.4 L314.7 553.7 L314.7 553.7 L312.1 552.9 L312.1 552.9 L309.4 552.1 L309.4 552.1 L306.8 551.2 L305.9 553.5 L303.3 552.6 L303.3 552.6 L300.6 551.6 L300.6 551.6 L298 550.6 L298 550.6 L295.4 549.5 L295.4 549.5 L292.8 548.4 L292.8 548.4 L290.2 547.2 L289.1 549.4 L286.5 548.2 L286.5 548.2 L283.9 546.9 L283.9 546.9 L281.4 545.6 L281.4 545.6 L278.9 544.2 L278.9 544.2 L276.4 542.8 L276.4 542.8 L273.9 541.3 L273.9 541.3 L271.4 539.8 L271.4 539.8 L269 538.3 L269 538.3 L266.6 536.7 L266.6 536.7 L264.2 535.1 L264.2 535.1 L261.9 533.4 L261.9 533.4 L259.6 531.7 L259.6 531.7 L257.3 529.9 L257.3 529.9 L255 528.1 L255 528.1 L252.8 526.3 L252.8 526.3 L250.6 524.4 L250.6 524.4 L248.4 522.5 L248.4 522.5 L246.3 520.6 L246.3 520.6 L244.2 518.6 L244.2 518.6 L242.2 516.6 L242.2 516.6 L240.2 514.5 L240.2 514.5 L238.2 512.4 L238.2 512.4 L236.2 510.3 L236.2 510.3 L234.3 508.1 L234.3 508.1 L232.5 506 L232.5 506 L230.6 503.7 L228.7 505.3 L226.9 503 L226.9 503 L225.1 500.7 L225.1 500.7 L223.3 498.4 L223.3 498.4 L221.6 496 L221.6 496 L220 493.6 L220 493.6 L218.4 491.1 L218.4 491.1 L216.8 488.7 L216.8 488.7 L215.3 486.2 L215.3 486.2 L213.8 483.6 L213.8 483.6 L212.4 481.1 L212.4 481.1 L211 478.5 L211 478.5 L209.6 475.9 L209.6 475.9 L208.3 473.3 L208.3 473.3 L207 470.7 L207 470.7 L205.8 468 L205.8 468 L204.7 465.3 L204.7 465.3 L203.5 462.6 L203.5 462.6 L202.5 459.9 L202.5 459.9 L201.5 457.2 L201.5 457.2 L200.5 454.4 L200.5 454.4 L199.5 451.7 L199.5 451.7 L198.7 448.9 L198.7 448.9 L197.8 446.1 L197.8 446.1 L197.1 443.3 L197.1 443.3 L196.3 440.4 L196.3 440.4 L195.6 437.6 L193.2 438.1 L192.6 435.2 L192.6 435.2 L192 432.3 L192 432.3 L191.4 429.4 L191.4 429.4 L190.9 426.5 L190.9 426.5 L190.5 423.6 L190.5 423.6 L190.1 420.6 L190.1 420.6 L189.8 417.7 L189.8 417.7 L189.5 414.7 L189.5 414.7 L189.3 411.8 L189.3 411.8 L189.1 408.8 L189.1 408.8 L189 405.8 L189 405.8 L188.9 402.9 L188.9 402.9 L188.9 399.9Z" fill="#d7ebff"/>
<path d="M191.4 399.9 L191.4 397 L191.4 397 L191.5 394.1 L191.5 394.1 L191.6 391.1 L191.6 391.1 L191.8 388.2 L191.8 388.2 L192 385.3 L192 385.3 L192.3 382.4 L192.3 382.4 L192.6 379.5 L192.6 379.5 L193 376.6 L193 376.6 L193.4 373.7 L190.9 373.3 L191.4 370.4 L191.4 370.4 L192 367.5 L192 367.5 L192.6 364.6 L192.6 364.6 L193.2 361.7 L193.2 361.7 L193.9 358.8 L193.9 358.8 L194.6 355.9 L194.6 355.9 L195.4 353 L195.4 353 L196.3 350.2 L196.3 350.2 L197.2 347.4 L197.2 347.4 L198.1 344.6 L198.1 344.6 L199.1 341.8 L199.1 341.8 L200.1 339 L200.1 339 L201.2 336.2 L201.2 336.2 L202.4 333.5 L202.4 333.5 L203.5 330.8 L203.5 330.8 L204.8 328.1 L204.8 328.1 L206.1 325.4 L206.1 325.4 L207.4 322.7 L207.4 322.7 L208.7 320.1 L208.7 320.1 L210.2 317.5 L210.2 317.5 L211.6 314.9 L211.6 314.9 L213.1 312.3 L213.1 312.3 L214.7 309.8 L214.7 309.8 L216.3 307.3 L216.3 307.3 L217.9 304.8 L217.9 304.8 L219.6 302.4 L219.6 302.4 L221.3 300 L221.3 300 L223.1 297.6 L221.1 296.1 L222.9 293.7 L222.9 293.7 L224.8 291.3 L224.8 291.3 L226.7 289 L226.7 289 L228.7 286.7 L228.7 286.7 L230.7 284.5 L230.7 284.5 L232.7 282.3 L230.9 280.6 L233 278.3 L233 278.3 L235.1 276.2 L235.1 276.2 L237.3 274 L235.5 272.2 L237.8 270.1 L237.8 270.1 L240.1 268 L240.1 268 L242.4 265.9 L240.8 264.1 L243.1 262 L241.5 260.1 L244 258.1 L244 258.1 L246.5 256.1 L246.5 256.1 L249 254.1 L249 254.1 L251.6 252.3 L250.1 250.2 L252.7 248.4 L252.7 248.4 L255.4 246.5 L255.4 246.5 L258.1 244.7 L258.1 244.7 L260.8 243 L259.5 240.9 L262.3 239.2 L262.3 239.2 L265.1 237.5 L263.9 235.4 L266.7 233.7 L266.7 233.7 L269.7 232.1 L269.7 232.1 L272.6 230.6 L272.6 230.6 L275.6 229.1 L274.5 226.9 L277.5 225.4 L277.5 225.4 L280.6 224 L280.6 224 L283.6 222.7 L283.6 222.7 L286.7 221.4 L286.7 221.4 L289.9 220.2 L289 217.9 L292.2 216.7 L292.2 216.7 L295.4 215.5 L295.4 215.5 L298.6 214.4 L298.6 214.4 L301.8 213.4 L301.1 211 L304.4 210.1 L304.4 210.1 L307.7 209.1 L307.7 209.1 L311.1 208.3 L310.5 205.8 L313.9 205 L313.9 205 L317.3 204.3 L317.3 204.3 L320.7 203.6 L320.2 201.1 L323.7 200.5 L323.7 200.5 L327.2 199.9 L326.8 197.4 L330.3 196.9 L330.3 196.9 L333.9 196.4 L333.5 193.3 L337.1 192.9 L337.1 192.9 L340.7 192.5 L340.7 192.5 L344.3 192.3 L344.3 192.3 L348 192 L348 192 L351.6 191.9 L351.6 191.9 L355.2 191.8 L355.2 191.8 L358.9 191.7 L358.9 191.7 L362.5 191.8 L362.5 191.8 L366.1 191.9 L366.1 191.9 L369.7 192 L369.7 192.7 L373.3 192.9 L373.3 192.9 L376.9 193.2 L376.7 195.7 L380.3 196 L380.3 196 L383.8 196.4 L383.8 196.4 L387.4 196.9 L387 199.4 L390.5 199.9 L390.5 199.9 L394 200.5 L394 200.5 L397.5 201.1 L397.5 201.1 L401 201.8 L401 201.8 L404.4 202.6 L404.4 202.6 L407.8 203.4 L407.2 205.8 L410.6 206.7 L410.6 206.7 L414 207.6 L414 207.6 L417.3 208.6 L416.6 211 L419.9 212.1 L419.9 212.1 L423.1 213.2 L422.3 215.5 L425.5 216.7 L425.5 216.7 L428.7 217.9 L428.7 217.9 L431.9 219.1 L431.9 219.1 L435 220.4 L435 220.4 L438.2 221.8 L438.2 221.8 L441.3 223.2 L440.2 225.4 L443.2 226.9 L443.2 226.9 L446.2 228.4 L446.2 228.4 L449.2 229.9 L449.2 229.9 L452.2 231.5 L451 233.7 L453.9 235.4 L453.9 235.4 L456.7 237 L456.7 237 L459.5 238.8 L459.5 238.8 L462.3 240.6 L461 242.6 L463.7 244.5 L463.7 244.5 L466.4 246.3 L466.4 246.3 L469.1 248.2 L469.1 248.2 L471.7 250.2 L470.2 252.2 L472.7 254.1 L472.7 254.1 L475.3 256.1 L475.3 256.1 L477.8 258.2 L477.8 258.2 L480.2 260.3 L480.2 260.3 L482.6 262.4 L482.6 262.4 L485 264.6 L485 264.6 L487.4 266.8 L487.4 266.8 L489.7 269.1 L489.7 269.1 L491.9 271.4 L491.9 271.4 L494.2 273.7 L494.2 273.7 L496.3 276.1 L496.3 276.1 L498.5 278.5 L498.5 278.5 L500.6 281 L500.6 281 L502.6 283.5 L504.6 281.9 L506.6 284.5 L506.6 284.5 L508.6 287.1 L506.6 288.6 L508.5 291.2 L508.5 291.2 L510.4 293.8 L510.4 293.8 L512.2 296.4 L512.2 296.4 L514 299.1 L514 299.1 L515.7 301.9 L515.7 301.9 L517.4 304.6 L517.4 304.6 L519.1 307.4 L519.1 307.4 L520.7 310.2 L520.7 310.2 L522.2 313 L522.2 313 L523.7 315.9 L525.9 314.8 L527.4 317.7 L527.4 317.7 L528.8 320.7 L528.8 320.7 L530.1 323.6 L530.1 323.6 L531.4 326.6 L531.4 326.6 L532.7 329.7 L532.7 329.7 L533.9 332.7 L536.2 331.8 L537.4 334.9 L537.4 334.9 L538.5 338 L540.9 337.2 L541.9 340.4 L541.9 340.4 L542.9 343.6 L545.3 342.9 L546.3 346.2 L546.3 346.2 L547.2 349.4 L549.6 348.8 L550.5 352.1 L550.5 352.1 L551.3 355.5 L551.3 355.5 L552 358.8 L552 358.8 L552.7 362.2 L552.7 362.2 L553.3 365.6 L553.3 365.6 L553.9 369 L553.9 369 L554.4 372.4 L554.4 372.4 L554.9 375.8 L549.9 376.4 L550.3 379.8 L550.3 379.8 L550.6 383.1 L548.1 383.3 L548.4 386.6 L548.4 386.6 L548.6 390 L546.1 390.1 L546.2 393.4 L546.2 393.4 L546.3 396.6 L546.3 396.6 L546.4 399.9 L546.4 399.9 L546.3 403.2 L546.3 403.2 L546.2 406.4 L546.2 406.4 L546.1 409.7 L546.1 409.7 L545.9 413 L545.9 413 L545.6 416.2 L545.6 416.2 L545.3 419.5 L545.3 419.5 L545 422.8 L545 422.8 L544.5 426 L544.5 426 L544 429.2 L541.6 428.8 L541 432 L541 432 L540.5 435.2 L540.5 435.2 L539.8 438.4 L539.8 438.4 L539.1 441.5 L536.7 441 L535.9 444.1 L535.9 444.1 L535.1 447.1 L535.1 447.1 L534.3 450.2 L534.3 450.2 L533.4 453.3 L531 452.5 L530 455.5 L530 455.5 L529 458.5 L529 458.5 L528 461.5 L528 461.5 L526.9 464.4 L524.6 463.5 L523.4 466.4 L523.4 466.4 L522.2 469.3 L522.2 469.3 L521 472.1 L521 472.1 L519.7 474.9 L519.7 474.9 L518.4 477.7 L518.4 477.7 L517 480.5 L517 480.5 L515.6 483.2 L515.6 483.2 L514.1 486 L514.1 486 L512.6 488.6 L512.6 488.6 L511 491.3 L508.9 490 L507.3 492.6 L507.3 492.6 L505.6 495.2 L505.6 495.2 L503.9 497.8 L503.9 497.8 L502.2 500.3 L500.2 498.8 L498.4 501.3 L498.4 501.3 L496.6 503.7 L494.6 502.2 L492.8 504.6 L492.8 504.6 L491 506.9 L491 506.9 L489.1 509.2 L489.1 509.2 L487.2 511.4 L487.2 511.4 L485.2 513.7 L485.2 513.7 L483.2 515.8 L483.2 515.8 L481.1 518 L481.1 518 L479.1 520.1 L479.1 520.1 L476.9 522.2 L476.9 522.2 L474.8 524.2 L474.8 524.2 L472.6 526.2 L472.6 526.2 L470.4 528.2 L470.4 528.2 L468.1 530.1 L468.1 530.1 L465.8 532 L465.8 532 L463.5 533.9 L463.5 533.9 L461.2 535.7 L461.2 535.7 L458.8 537.4 L458.8 537.4 L456.4 539.2 L457.8 541.2 L455.3 542.9 L455.3 542.9 L452.8 544.6 L451.4 542.5 L448.9 544.1 L448.9 544.1 L446.4 545.6 L447.7 547.8 L445.1 549.3 L445.1 549.3 L442.5 550.8 L442.5 550.8 L439.8 552.2 L439.8 552.2 L437.2 553.6 L436 551.4 L433.4 552.7 L433.4 552.7 L430.7 554 L430.7 554 L428 555.2 L428 555.2 L425.3 556.4 L425.3 556.4 L422.5 557.5 L422.5 557.5 L419.8 558.6 L419.8 558.6 L417 559.6 L417 559.6 L414.2 560.6 L413.4 558.3 L410.6 559.2 L410.6 559.2 L407.8 560.1 L407.1 557.7 L404.3 558.5 L404.3 558.5 L401.6 559.3 L401.6 559.3 L398.8 560 L398.8 560 L396 560.7 L395.4 558.2 L392.6 558.8 L392.6 558.8 L389.9 559.4 L389.4 557 L386.6 557.5 L386.6 557.5 L383.9 557.9 L383.9 557.9 L381.1 558.3 L381.1 558.3 L378.3 558.7 L378 556.2 L375.3 556.5 L375.3 556.5 L372.6 556.8 L372.6 556.8 L369.8 557 L369.8 557 L367.1 557.2 L367 554.7 L364.3 554.8 L364.3 554.8 L361.6 554.9 L361.6 554.9 L358.9 554.9 L358.9 554.9 L356.1 554.9 L356.1 554.9 L353.4 554.8 L353.4 554.8 L350.7 554.7 L350.7 554.7 L348 554.5 L348 554.5 L345.3 554.3 L345.3 554.3 L342.6 554.1 L342.6 554.1 L340 553.7 L340 553.7 L337.3 553.4 L337.3 553.4 L334.6 553 L334.2 555.5 L331.5 555 L331.5 555 L328.8 554.5 L328.8 554.5 L326.1 554 L326.1 554 L323.4 553.4 L323.4 553.4 L320.7 552.7 L320.7 552.7 L318.1 552 L317.4 554.4 L314.7 553.7 L314.7 553.7 L312.1 552.9 L312.1 552.9 L309.4 552.1 L309.4 552.1 L306.8 551.2 L306.8 551.2 L304.1 550.3 L304.1 550.3 L301.5 549.3 L300.6 551.6 L298 550.6 L298 550.6 L295.4 549.5 L295.4 549.5 L292.8 548.4 L292.8 548.4 L290.2 547.2 L290.2 547.2 L287.6 546 L287.6 546 L285.1 544.7 L285.1 544.7 L282.6 543.4 L282.6 543.4 L280.1 542 L278.9 544.2 L276.4 542.8 L276.4 542.8 L273.9 541.3 L273.9 541.3 L271.4 539.8 L271.4 539.8 L269 538.3 L270.3 536.2 L268 534.6 L268 534.6 L265.6 533 L265.6 533 L263.3 531.4 L263.3 531.4 L261.1 529.7 L261.1 529.7 L258.8 528 L258.8 528 L256.6 526.2 L256.6 526.2 L254.4 524.4 L254.4 524.4 L252.2 522.5 L252.2 522.5 L250.1 520.7 L250.1 520.7 L248 518.7 L246.3 520.6 L244.2 518.6 L244.2 518.6 L242.2 516.6 L242.2 516.6 L240.2 514.5 L240.2 514.5 L238.2 512.4 L238.2 512.4 L236.2 510.3 L236.2 510.3 L234.3 508.1 L234.3 508.1 L232.5 506 L232.5 506 L230.6 503.7 L230.6 503.7 L228.8 501.5 L228.8 501.5 L227.1 499.2 L227.1 499.2 L225.4 496.9 L225.4 496.9 L223.7 494.5 L223.7 494.5 L222.1 492.2 L222.1 492.2 L220.5 489.8 L220.5 489.8 L218.9 487.3 L218.9 487.3 L217.4 484.9 L217.4 484.9 L216 482.4 L216 482.4 L214.5 479.9 L214.5 479.9 L213.2 477.4 L213.2 477.4 L211.8 474.8 L211.8 474.8 L210.5 472.2 L210.5 472.2 L209.3 469.6 L209.3 469.6 L208.1 467 L208.1 467 L207 464.4 L207 464.4 L205.9 461.7 L205.9 461.7 L204.8 459 L204.8 459 L203.8 456.3 L203.8 456.3 L202.8 453.6 L200.5 454.4 L199.5 451.7 L199.5 451.7 L198.7 448.9 L198.7 448.9 L197.8 446.1 L197.8 446.1 L197.1 443.3 L197.1 443.3 L196.3 440.4 L196.3 440.4 L195.6 437.6 L195.6 437.6 L195 434.7 L195 434.7 L194.4 431.9 L194.4 431.9 L193.9 429 L193.9 429 L193.4 426.1 L193.4 426.1 L193 423.2 L193 423.2 L192.6 420.3 L192.6 420.3 L192.3 417.4 L192.3 417.4 L192 414.5 L192 414.5 L191.8 411.6 L191.8 411.6 L191.6 408.7 L191.6 408.7 L191.5 405.7 L191.5 405.7 L191.4 402.8 L191.4 402.8 L191.4 399.9Z" fill="#ffe8d7"/>
<path d="M191.4 399.9 L191.4 397 L191.4 397 L191.5 394.1 L191.5 394.1 L191.6 391.1 L191.6 391.1 L191.8 388.2 L191.8 388.2 L192 385.3 L192 385.3 L192.3 382.4 L192.3 382.4 L192.6 379.5 L192.6 379.5 L193 376.6 L193 376.6 L193.4 373.7 L193.4 373.7 L193.9 370.8 L193.9 370.8 L194.4 367.9 L194.4 367.9 L195 365.1 L195 365.1 L195.6 362.2 L195.6 362.2 L196.3 359.4 L196.3 359.4 L197.1 356.5 L197.1 356.5 L197.8 353.7 L197.8 353.7 L198.7 350.9 L198.7 350.9 L199.5 348.1 L199.5 348.1 L200.5 345.4 L200.5 345.4 L201.5 342.6 L201.5 342.6 L202.5 339.9 L202.5 339.9 L203.5 337.2 L203.5 337.2 L204.7 334.5 L204.7 334.5 L205.8 331.8 L205.8 331.8 L207 329.1 L207 329.1 L208.3 326.5 L208.3 326.5 L209.6 323.9 L209.6 323.9 L211 321.3 L211 321.3 L212.4 318.7 L212.4 318.7 L213.8 316.1 L213.8 316.1 L215.3 313.6 L213.1 312.3 L214.7 309.8 L214.7 309.8 L216.3 307.3 L216.3 307.3 L217.9 304.8 L217.9 304.8 L219.6 302.4 L219.6 302.4 L221.3 300 L221.3 300 L223.1 297.6 L223.1 297.6 L224.9 295.2 L224.9 295.2 L226.7 292.9 L226.7 292.9 L228.6 290.6 L228.6 290.6 L230.5 288.4 L230.5 288.4 L232.5 286.1 L232.5 286.1 L234.5 284 L232.7 282.3 L234.8 280.1 L234.8 280.1 L236.9 277.9 L236.9 277.9 L239 275.8 L237.3 274 L239.5 271.9 L239.5 271.9 L241.8 269.8 L241.8 269.8 L244 267.8 L242.4 265.9 L244.8 263.9 L244.8 263.9 L247.1 262 L245.6 260 L248 258.1 L248 258.1 L250.5 256.1 L250.5 256.1 L253 254.3 L253 254.3 L255.6 252.5 L254.2 250.4 L256.8 248.6 L256.8 248.6 L259.5 246.8 L259.5 246.8 L262.1 245.1 L260.8 243 L263.6 241.3 L263.6 241.3 L266.4 239.7 L266.4 239.7 L269.2 238.1 L269.2 238.1 L272 236.6 L270.8 234.3 L273.7 232.8 L273.7 232.8 L276.7 231.4 L276.7 231.4 L279.6 230 L279.6 230 L282.6 228.6 L282.6 228.6 L285.6 227.3 L284.6 225 L287.7 223.7 L287.7 223.7 L290.8 222.5 L290.8 222.5 L293.9 221.4 L293.9 221.4 L297 220.3 L296.2 217.9 L299.4 216.8 L299.4 216.8 L302.6 215.8 L302.6 215.8 L305.8 214.9 L305.8 214.9 L309 214 L308.4 211.5 L311.7 210.7 L311.7 210.7 L315 209.9 L315 209.9 L318.3 209.2 L317.8 206.7 L321.2 206 L321.2 206 L324.6 205.4 L324.1 202.9 L327.6 202.4 L327.6 202.4 L331 201.8 L330.7 199.4 L334.2 198.9 L334.2 198.9 L337.7 198.5 L337.7 198.5 L341.2 198.2 L341 195.7 L344.5 195.4 L344.5 195.4 L348.1 195.2 L348.1 195.2 L351.7 195 L351.7 195 L355.3 194.9 L355.3 194.9 L358.9 194.9 L358.9 194.9 L362.4 194.9 L362.4 194.9 L366 195 L366 195 L369.6 195.2 L369.4 197.7 L373 197.9 L373 197.9 L376.5 198.2 L376.5 198.2 L380 198.5 L380 198.5 L383.5 198.9 L383.5 198.9 L387 199.4 L387 199.4 L390.5 199.9 L390.1 202.4 L393.6 202.9 L393.6 202.9 L397 203.6 L397 203.6 L400.4 204.3 L400.4 204.3 L403.8 205 L403.8 205 L407.2 205.8 L406.6 208.3 L410 209.1 L409.3 211.5 L412.6 212.5 L412.6 212.5 L415.9 213.4 L415.1 215.8 L418.3 216.8 L418.3 216.8 L421.5 217.9 L421.5 217.9 L424.7 219 L424.7 219 L427.8 220.2 L426.9 222.5 L430 223.7 L430 223.7 L433.1 225 L433.1 225 L436.1 226.3 L436.1 226.3 L439.1 227.7 L438.1 230 L441 231.4 L441 231.4 L444 232.8 L444 232.8 L446.9 234.3 L446.9 234.3 L449.8 235.9 L448.5 238.1 L451.4 239.7 L451.4 239.7 L454.1 241.3 L454.1 241.3 L456.9 243 L456.9 243 L459.6 244.7 L458.2 246.8 L460.9 248.6 L460.9 248.6 L463.5 250.4 L463.5 250.4 L466.1 252.3 L466.1 252.3 L468.7 254.1 L468.7 254.1 L471.2 256.1 L471.2 256.1 L473.7 258.1 L472.1 260 L474.6 262 L474.6 262 L476.9 264.1 L476.9 264.1 L479.3 266.1 L479.3 266.1 L481.6 268.3 L481.6 268.3 L483.9 270.4 L483.9 270.4 L486.1 272.6 L486.1 272.6 L488.3 274.9 L488.3 274.9 L490.5 277.1 L490.5 277.1 L492.6 279.5 L492.6 279.5 L494.7 281.8 L496.6 280.2 L498.7 282.6 L498.7 282.6 L500.7 285 L500.7 285 L502.7 287.5 L502.7 287.5 L504.6 290.1 L504.6 290.1 L506.5 292.6 L506.5 292.6 L508.3 295.2 L508.3 295.2 L510.1 297.8 L510.1 297.8 L511.9 300.5 L511.9 300.5 L513.6 303.2 L513.6 303.2 L515.3 305.9 L515.3 305.9 L516.9 308.6 L516.9 308.6 L518.5 311.4 L518.5 311.4 L520 314.2 L520 314.2 L521.5 317 L521.5 317 L522.9 319.9 L522.9 319.9 L524.3 322.8 L526.5 321.7 L527.9 324.7 L527.9 324.7 L529.1 327.6 L529.1 327.6 L530.4 330.6 L530.4 330.6 L531.6 333.6 L533.9 332.7 L535 335.8 L535 335.8 L536.1 338.9 L538.5 338 L539.6 341.2 L539.6 341.2 L540.5 344.3 L542.9 343.6 L543.9 346.8 L543.9 346.8 L544.8 350.1 L544.8 350.1 L545.6 353.3 L545.6 353.3 L546.4 356.6 L548.9 356 L549.6 359.4 L549.6 359.4 L550.3 362.7 L550.3 362.7 L550.9 366 L550.9 366 L551.4 369.4 L549 369.8 L549.5 373.1 L549.5 373.1 L549.9 376.4 L547.4 376.7 L547.8 380 L547.8 380 L548.1 383.3 L545.6 383.6 L545.9 386.8 L545.9 386.8 L546.1 390.1 L543.6 390.2 L543.7 393.4 L543.7 393.4 L543.8 396.7 L541.3 396.7 L541.4 399.9 L541.4 399.9 L541.3 403.1 L541.3 403.1 L541.2 406.3 L541.2 406.3 L541.1 409.5 L541.1 409.5 L540.9 412.6 L540.9 412.6 L540.7 415.8 L543.1 416 L542.8 419.2 L542.8 419.2 L542.5 422.4 L542.5 422.4 L542 425.6 L542 425.6 L541.6 428.8 L539.1 428.4 L538.6 431.6 L538.6 431.6 L538 434.7 L538 434.7 L537.4 437.8 L537.4 437.8 L536.7 441 L534.2 440.4 L533.5 443.4 L533.5 443.4 L532.7 446.5 L532.7 446.5 L531.9 449.5 L531.9 449.5 L531 452.5 L528.6 451.8 L527.7 454.8 L527.7 454.8 L526.7 457.7 L526.7 457.7 L525.6 460.6 L525.6 460.6 L524.6 463.5 L522.2 462.6 L521.1 465.5 L521.1 465.5 L519.9 468.3 L519.9 468.3 L518.7 471.1 L518.7 471.1 L517.5 473.9 L517.5 473.9 L516.1 476.6 L516.1 476.6 L514.8 479.3 L514.8 479.3 L513.4 482.1 L513.4 482.1 L511.9 484.7 L511.9 484.7 L510.4 487.4 L510.4 487.4 L508.9 490 L506.7 488.7 L505.1 491.3 L505.1 491.3 L503.5 493.9 L503.5 493.9 L501.9 496.4 L501.9 496.4 L500.2 498.8 L498.1 497.4 L496.4 499.8 L496.4 499.8 L494.6 502.2 L494.6 502.2 L492.8 504.6 L492.8 504.6 L491 506.9 L489 505.3 L487.2 507.6 L489.1 509.2 L487.2 511.4 L485.3 509.8 L483.3 512 L483.3 512 L481.4 514.1 L481.4 514.1 L479.3 516.3 L479.3 516.3 L477.3 518.3 L477.3 518.3 L475.2 520.4 L475.2 520.4 L473.1 522.4 L473.1 522.4 L470.9 524.4 L470.9 524.4 L468.7 526.3 L468.7 526.3 L466.5 528.2 L466.5 528.2 L464.3 530.1 L464.3 530.1 L462 531.9 L462 531.9 L459.7 533.7 L461.2 535.7 L458.8 537.4 L458.8 537.4 L456.4 539.2 L456.4 539.2 L453.9 540.8 L453.9 540.8 L451.4 542.5 L451.4 542.5 L448.9 544.1 L448.9 544.1 L446.4 545.6 L446.4 545.6 L443.9 547.1 L443.9 547.1 L441.3 548.6 L441.3 548.6 L438.7 550 L438.7 550 L436 551.4 L436 551.4 L433.4 552.7 L433.4 552.7 L430.7 554 L430.7 554 L428 555.2 L428 555.2 L425.3 556.4 L424.3 554.1 L421.6 555.2 L421.6 555.2 L418.9 556.3 L418.9 556.3 L416.1 557.3 L416.1 557.3 L413.4 558.3 L412.6 555.9 L409.8 556.8 L409.8 556.8 L407.1 557.7 L407.1 557.7 L404.3 558.5 L403.6 556.1 L400.9 556.9 L400.9 556.9 L398.2 557.6 L398.2 557.6 L395.4 558.2 L394.8 555.8 L392.1 556.4 L392.1 556.4 L389.4 557 L389.4 557 L386.6 557.5 L386.6 557.5 L383.9 557.9 L383.5 555.5 L380.8 555.9 L380.8 555.9 L378 556.2 L377.7 553.7 L375.1 554.1 L375.1 554.1 L372.4 554.3 L372.4 554.3 L369.7 554.5 L369.7 554.5 L367 554.7 L367 554.7 L364.3 554.8 L364.3 554.8 L361.6 554.9 L361.5 552.4 L358.9 552.4 L358.9 552.4 L356.2 552.4 L356.2 552.4 L353.5 552.3 L353.5 552.3 L350.9 552.2 L350.9 552.2 L348.2 552 L348.2 552 L345.6 551.8 L345.3 554.3 L342.6 554.1 L342.6 554.1 L340 553.7 L340 553.7 L337.3 553.4 L337.3 553.4 L334.6 553 L334.6 553 L331.9 552.5 L331.9 552.5 L329.3 552.1 L329.3 552.1 L326.6 551.5 L326.6 551.5 L324 550.9 L323.4 553.4 L320.7 552.7 L320.7 552.7 L318.1 552 L318.1 552 L315.4 551.3 L315.4 551.3 L312.8 550.5 L312.8 550.5 L310.2 549.7 L310.2 549.7 L307.6 548.8 L307.6 548.8 L305 547.9 L305 547.9 L302.4 546.9 L301.5 549.3 L298.9 548.2 L298.9 548.2 L296.3 547.2 L296.3 547.2 L293.8 546.1 L293.8 546.1 L291.2 544.9 L291.2 544.9 L288.7 543.7 L288.7 543.7 L286.2 542.5 L285.1 544.7 L282.6 543.4 L282.6 543.4 L280.1 542 L280.1 542 L277.6 540.6 L277.6 540.6 L275.2 539.2 L276.4 537 L274.1 535.6 L274.1 535.6 L271.7 534.1 L271.7 534.1 L269.4 532.5 L269.4 532.5 L267.1 531 L267.1 531 L264.8 529.3 L264.8 529.3 L262.6 527.7 L262.6 527.7 L260.3 526 L260.3 526 L258.2 524.2 L256.6 526.2 L254.4 524.4 L254.4 524.4 L252.2 522.5 L252.2 522.5 L250.1 520.7 L250.1 520.7 L248 518.7 L248 518.7 L246 516.8 L246 516.8 L243.9 514.8 L243.9 514.8 L242 512.8 L242 512.8 L240 510.7 L240 510.7 L238.1 508.6 L238.1 508.6 L236.2 506.5 L236.2 506.5 L234.4 504.4 L234.4 504.4 L232.6 502.2 L232.6 502.2 L230.8 499.9 L230.8 499.9 L229.1 497.7 L229.1 497.7 L227.4 495.4 L227.4 495.4 L225.7 493.1 L223.7 494.5 L222.1 492.2 L222.1 492.2 L220.5 489.8 L220.5 489.8 L218.9 487.3 L218.9 487.3 L217.4 484.9 L217.4 484.9 L216 482.4 L216 482.4 L214.5 479.9 L214.5 479.9 L213.2 477.4 L213.2 477.4 L211.8 474.8 L211.8 474.8 L210.5 472.2 L210.5 472.2 L209.3 469.6 L209.3 469.6 L208.1 467 L208.1 467 L207 464.4 L207 464.4 L205.9 461.7 L205.9 461.7 L204.8 459 L204.8 459 L203.8 456.3 L203.8 456.3 L202.8 453.6 L202.8 453.6 L201.9 450.9 L201.9 450.9 L201.1 448.1 L201.1 448.1 L200.2 445.4 L200.2 445.4 L199.5 442.6 L199.5 442.6 L198.8 439.8 L198.8 439.8 L198.1 437 L198.1 437 L197.5 434.2 L197.5 434.2 L196.9 431.4 L196.9 431.4 L196.4 428.6 L196.4 428.6 L195.9 425.7 L195.9 425.7 L195.5 422.9 L195.5 422.9 L195.1 420 L195.1 420 L194.8 417.1 L194.8 417.1 L194.5 414.3 L194.5 414.3 L194.3 411.4 L194.3 411.4 L194.1 408.5 L194.1 408.5 L194 405.7 L194 405.7 L193.9 402.8 L191.4 402.8 L191.4 399.9Z" fill="#ffcdb4"/>
<path d="M193.9 399.9 L193.9 397 L193.9 397 L194 394.1 L194 394.1 L194.1 391.3 L194.1 391.3 L194.3 388.4 L194.3 388.4 L194.5 385.5 L194.5 385.5 L194.8 382.7 L194.8 382.7 L195.1 379.8 L195.1 379.8 L195.5 376.9 L195.5 376.9 L195.9 374.1 L195.9 374.1 L196.4 371.2 L196.4 371.2 L196.9 368.4 L196.9 368.4 L197.5 365.6 L197.5 365.6 L198.1 362.8 L198.1 362.8 L198.8 360 L198.8 360 L199.5 357.2 L199.5 357.2 L200.2 354.4 L200.2 354.4 L201.1 351.7 L201.1 351.7 L201.9 348.9 L201.9 348.9 L202.8 346.2 L202.8 346.2 L203.8 343.5 L203.8 343.5 L204.8 340.8 L204.8 340.8 L205.9 338.1 L205.9 338.1 L207 335.4 L204.7 334.5 L205.8 331.8 L205.8 331.8 L207 329.1 L207 329.1 L208.3 326.5 L208.3 326.5 L209.6 323.9 L209.6 323.9 L211 321.3 L211 321.3 L212.4 318.7 L212.4 318.7 L213.8 316.1 L213.8 316.1 L215.3 313.6 L215.3 313.6 L216.8 311.1 L216.8 311.1 L218.4 308.7 L218.4 308.7 L220 306.2 L220 306.2 L221.6 303.8 L221.6 303.8 L223.3 301.4 L223.3 301.4 L225.1 299.1 L225.1 299.1 L226.9 296.8 L226.9 296.8 L228.7 294.5 L228.7 294.5 L230.5 292.2 L230.5 292.2 L232.4 290 L232.4 290 L234.4 287.8 L234.4 287.8 L236.3 285.7 L234.5 284 L236.6 281.8 L236.6 281.8 L238.6 279.7 L238.6 279.7 L240.8 277.6 L239 275.8 L241.2 273.7 L241.2 273.7 L243.4 271.7 L243.4 271.7 L245.7 269.7 L244 267.8 L246.4 265.8 L246.4 265.8 L248.7 263.9 L247.1 262 L249.6 260 L249.6 260 L252 258.1 L252 258.1 L254.5 256.3 L254.5 256.3 L257 254.5 L255.6 252.5 L258.2 250.7 L258.2 250.7 L260.8 248.9 L260.8 248.9 L263.5 247.3 L263.5 247.3 L266.1 245.6 L264.9 243.5 L267.6 241.9 L267.6 241.9 L270.4 240.3 L270.4 240.3 L273.2 238.8 L273.2 238.8 L276 237.3 L276 237.3 L278.8 235.9 L277.8 233.6 L280.7 232.2 L280.7 232.2 L283.6 230.9 L283.6 230.9 L286.6 229.6 L286.6 229.6 L289.5 228.4 L289.5 228.4 L292.6 227.2 L291.7 224.9 L294.7 223.7 L294.7 223.7 L297.8 222.6 L297.8 222.6 L300.9 221.6 L300.9 221.6 L304 220.6 L303.3 218.2 L306.5 217.3 L306.5 217.3 L309.7 216.4 L309.7 216.4 L312.9 215.5 L312.9 215.5 L316.1 214.8 L315.5 212.3 L318.8 211.6 L318.8 211.6 L322.1 210.9 L321.6 208.5 L325 207.9 L325 207.9 L328.3 207.3 L328 204.8 L331.4 204.3 L331.4 204.3 L334.8 203.9 L334.5 201.4 L337.9 201 L337.9 201 L341.4 200.7 L341.4 200.7 L344.9 200.4 L344.9 200.4 L348.4 200.2 L348.3 197.7 L351.8 197.5 L351.8 197.5 L355.3 197.4 L355.3 197.4 L358.9 197.4 L358.9 197.4 L362.4 197.4 L362.4 197.4 L365.9 197.5 L365.9 197.5 L369.4 197.7 L369.3 200.2 L372.8 200.4 L372.8 200.4 L376.3 200.7 L376.3 200.7 L379.8 201 L379.8 201 L383.2 201.4 L383.2 201.4 L386.7 201.8 L386.7 201.8 L390.1 202.4 L389.7 204.8 L393.1 205.4 L393.1 205.4 L396.5 206 L396.5 206 L399.9 206.7 L399.9 206.7 L403.3 207.5 L402.7 209.9 L406 210.7 L406 210.7 L409.3 211.5 L408.7 214 L411.9 214.9 L411.9 214.9 L415.1 215.8 L414.4 218.2 L417.6 219.2 L417.6 219.2 L420.7 220.3 L419.9 222.6 L423 223.7 L423 223.7 L426 224.9 L425.1 227.2 L428.2 228.4 L428.2 228.4 L431.1 229.6 L431.1 229.6 L434.1 230.9 L434.1 230.9 L437 232.2 L436 234.5 L438.9 235.9 L438.9 235.9 L441.7 237.3 L441.7 237.3 L444.5 238.8 L444.5 238.8 L447.3 240.3 L447.3 240.3 L450.1 241.9 L450.1 241.9 L452.8 243.5 L451.6 245.6 L454.2 247.3 L454.2 247.3 L456.9 248.9 L456.9 248.9 L459.5 250.7 L459.5 250.7 L462.1 252.5 L460.7 254.5 L463.2 256.3 L463.2 256.3 L465.7 258.1 L465.7 258.1 L468.1 260 L468.1 260 L470.6 262 L470.6 262 L472.9 263.9 L472.9 263.9 L475.3 265.9 L475.3 265.9 L477.6 268 L477.6 268 L479.9 270.1 L478.2 271.9 L480.4 274 L480.4 274 L482.6 276.2 L482.6 276.2 L484.7 278.3 L484.7 278.3 L486.8 280.6 L486.8 280.6 L488.9 282.8 L488.9 282.8 L490.9 285.1 L492.8 283.4 L494.8 285.8 L494.8 285.8 L496.8 288.2 L498.7 286.6 L500.7 289.1 L500.7 289.1 L502.6 291.6 L502.6 291.6 L504.5 294.1 L504.5 294.1 L506.3 296.7 L506.3 296.7 L508.1 299.2 L508.1 299.2 L509.8 301.9 L509.8 301.9 L511.5 304.5 L511.5 304.5 L513.1 307.2 L513.1 307.2 L514.7 309.9 L514.7 309.9 L516.3 312.6 L516.3 312.6 L517.8 315.4 L517.8 315.4 L519.2 318.2 L519.2 318.2 L520.6 321 L520.6 321 L522 323.8 L522 323.8 L523.3 326.7 L523.3 326.7 L524.5 329.6 L526.8 328.6 L528.1 331.5 L528.1 331.5 L529.2 334.5 L531.6 333.6 L532.7 336.6 L532.7 336.6 L533.8 339.7 L536.1 338.9 L537.2 342 L537.2 342 L538.2 345.1 L540.5 344.3 L541.5 347.5 L541.5 347.5 L542.4 350.7 L542.4 350.7 L543.2 353.9 L543.2 353.9 L544 357.2 L544 357.2 L544.7 360.4 L544.7 360.4 L545.4 363.6 L545.4 363.6 L546 366.9 L546 366.9 L546.5 370.2 L544 370.6 L544.5 373.8 L544.5 373.8 L545 377 L542.5 377.4 L542.8 380.6 L542.8 380.6 L543.1 383.8 L540.7 384 L540.9 387.2 L540.9 387.2 L541.1 390.3 L541.1 390.3 L541.2 393.5 L541.2 393.5 L541.3 396.7 L538.8 396.8 L538.9 399.9 L538.9 399.9 L538.8 403 L538.8 403 L538.7 406.2 L538.7 406.2 L538.6 409.3 L538.6 409.3 L538.4 412.5 L538.4 412.5 L538.2 415.6 L538.2 415.6 L537.9 418.7 L537.9 418.7 L537.5 421.8 L537.5 421.8 L537.1 425 L537.1 425 L536.6 428.1 L536.6 428.1 L536.1 431.2 L536.1 431.2 L535.5 434.2 L535.5 434.2 L534.9 437.3 L534.9 437.3 L534.2 440.4 L531.8 439.8 L531.1 442.8 L531.1 442.8 L530.3 445.8 L530.3 445.8 L529.5 448.8 L527.1 448.1 L526.2 451.1 L526.2 451.1 L525.3 454 L525.3 454 L524.3 456.9 L522 456.1 L520.9 458.9 L520.9 458.9 L519.9 461.7 L519.9 461.7 L518.8 464.5 L518.8 464.5 L517.6 467.3 L517.6 467.3 L516.4 470.1 L516.4 470.1 L515.2 472.8 L515.2 472.8 L513.9 475.5 L513.9 475.5 L512.5 478.2 L512.5 478.2 L511.2 480.9 L511.2 480.9 L509.7 483.5 L509.7 483.5 L508.2 486.1 L508.2 486.1 L506.7 488.7 L506.7 488.7 L505.1 491.3 L505.1 491.3 L503.5 493.9 L501.4 492.5 L499.8 495 L499.8 495 L498.1 497.4 L498.1 497.4 L496.4 499.8 L496.4 499.8 L494.6 502.2 L492.6 500.7 L490.8 503 L490.8 503 L489 505.3 L489 505.3 L487.2 507.6 L487.2 507.6 L485.3 509.8 L485.3 509.8 L483.3 512 L483.3 512 L481.4 514.1 L481.4 514.1 L479.3 516.3 L479.3 516.3 L477.3 518.3 L477.3 518.3 L475.2 520.4 L475.2 520.4 L473.1 522.4 L473.1 522.4 L470.9 524.4 L470.9 524.4 L468.7 526.3 L468.7 526.3 L466.5 528.2 L466.5 528.2 L464.3 530.1 L464.3 530.1 L462 531.9 L462 531.9 L459.7 533.7 L459.7 533.7 L457.3 535.4 L457.3 535.4 L454.9 537.1 L454.9 537.1 L452.5 538.8 L452.5 538.8 L450.1 540.4 L450.1 540.4 L447.6 541.9 L447.6 541.9 L445.1 543.5 L445.1 543.5 L442.6 545 L442.6 545 L440.1 546.4 L440.1 546.4 L437.5 547.8 L437.5 547.8 L434.9 549.1 L434.9 549.1 L432.3 550.4 L432.3 550.4 L429.6 551.7 L429.6 551.7 L427 552.9 L427 552.9 L424.3 554.1 L424.3 554.1 L421.6 555.2 L421.6 555.2 L418.9 556.3 L418 553.9 L415.3 554.9 L415.3 554.9 L412.6 555.9 L412.6 555.9 L409.8 556.8 L409.8 556.8 L407.1 557.7 L406.4 555.3 L403.6 556.1 L403.6 556.1 L400.9 556.9 L400.3 554.4 L397.6 555.1 L397.6 555.1 L394.8 555.8 L394.8 555.8 L392.1 556.4 L392.1 556.4 L389.4 557 L388.9 554.5 L386.2 555 L386.2 555 L383.5 555.5 L383.1 553 L380.4 553.4 L380.4 553.4 L377.7 553.7 L377.7 553.7 L375.1 554.1 L375.1 554.1 L372.4 554.3 L372.1 551.8 L369.5 552 L369.5 552 L366.8 552.2 L366.8 552.2 L364.2 552.3 L364.2 552.3 L361.5 552.4 L361.5 552.4 L358.9 552.4 L358.9 552.4 L356.2 552.4 L356.2 552.4 L353.5 552.3 L353.5 552.3 L350.9 552.2 L350.9 552.2 L348.2 552 L348.2 552 L345.6 551.8 L345.6 551.8 L342.9 551.6 L342.9 551.6 L340.3 551.3 L340.3 551.3 L337.6 550.9 L337.6 550.9 L335 550.5 L334.6 553 L331.9 552.5 L331.9 552.5 L329.3 552.1 L329.3 552.1 L326.6 551.5 L326.6 551.5 L324 550.9 L324 550.9 L321.4 550.3 L321.4 550.3 L318.7 549.6 L318.7 549.6 L316.1 548.9 L316.1 548.9 L313.5 548.1 L312.8 550.5 L310.2 549.7 L310.2 549.7 L307.6 548.8 L307.6 548.8 L305 547.9 L305 547.9 L302.4 546.9 L302.4 546.9 L299.8 545.9 L299.8 545.9 L297.3 544.9 L297.3 544.9 L294.8 543.8 L294.8 543.8 L292.3 542.6 L291.2 544.9 L288.7 543.7 L288.7 543.7 L286.2 542.5 L286.2 542.5 L283.7 541.2 L283.7 541.2 L281.3 539.8 L281.3 539.8 L278.9 538.5 L278.9 538.5 L276.4 537 L277.7 534.9 L275.4 533.5 L275.4 533.5 L273.1 532 L273.1 532 L270.8 530.5 L270.8 530.5 L268.5 528.9 L268.5 528.9 L266.3 527.3 L266.3 527.3 L264.1 525.7 L264.1 525.7 L261.9 524 L261.9 524 L259.7 522.3 L258.2 524.2 L256 522.5 L256 522.5 L253.9 520.7 L253.9 520.7 L251.8 518.8 L251.8 518.8 L249.7 516.9 L248 518.7 L246 516.8 L246 516.8 L243.9 514.8 L243.9 514.8 L242 512.8 L242 512.8 L240 510.7 L240 510.7 L238.1 508.6 L238.1 508.6 L236.2 506.5 L236.2 506.5 L234.4 504.4 L234.4 504.4 L232.6 502.2 L232.6 502.2 L230.8 499.9 L230.8 499.9 L229.1 497.7 L229.1 497.7 L227.4 495.4 L227.4 495.4 L225.7 493.1 L225.7 493.1 L224.1 490.8 L224.1 490.8 L222.6 488.4 L222.6 488.4 L221 486 L221 486 L219.6 483.6 L219.6 483.6 L218.1 481.1 L218.1 481.1 L216.7 478.7 L216.7 478.7 L215.4 476.2 L215.4 476.2 L214.1 473.7 L214.1 473.7 L212.8 471.1 L212.8 471.1 L211.6 468.6 L211.6 468.6 L210.4 466 L210.4 466 L209.3 463.4 L209.3 463.4 L208.2 460.8 L208.2 460.8 L207.1 458.1 L207.1 458.1 L206.1 455.5 L206.1 455.5 L205.2 452.8 L205.2 452.8 L204.3 450.1 L204.3 450.1 L203.5 447.4 L203.5 447.4 L202.6 444.7 L202.6 444.7 L201.9 442 L199.5 442.6 L198.8 439.8 L198.8 439.8 L198.1 437 L198.1 437 L197.5 434.2 L197.5 434.2 L196.9 431.4 L196.9 431.4 L196.4 428.6 L196.4 428.6 L195.9 425.7 L195.9 425.7 L195.5 422.9 L195.5 422.9 L195.1 420 L195.1 420 L194.8 417.1 L194.8 417.1 L194.5 414.3 L194.5 414.3 L194.3 411.4 L194.3 411.4 L194.1 408.5 L194.1 408.5 L194 405.7 L194 405.7 L193.9 402.8 L193.9 402.8 L193.9 399.9Z" fill="#ffaa87"/>
<path d="M196.4 399.9 L196.4 397.1 L196.4 397.1 L196.4 394.2 L196.4 394.2 L196.6 391.4 L196.6 391.4 L196.7 388.6 L196.7 388.6 L197 385.7 L197 385.7 L197.2 382.9 L197.2 382.9 L197.6 380.1 L197.6 380.1 L197.9 377.3 L197.9 377.3 L198.4 374.5 L198.4 374.5 L198.8 371.7 L198.8 371.7 L199.3 368.9 L199.3 368.9 L199.9 366.1 L199.9 366.1 L200.5 363.3 L200.5 363.3 L201.2 360.6 L201.2 360.6 L201.9 357.8 L201.9 357.8 L202.6 355.1 L202.6 355.1 L203.5 352.4 L203.5 352.4 L204.3 349.7 L204.3 349.7 L205.2 347 L205.2 347 L206.1 344.3 L206.1 344.3 L207.1 341.7 L207.1 341.7 L208.2 339 L208.2 339 L209.3 336.4 L209.3 336.4 L210.4 333.8 L210.4 333.8 L211.6 331.2 L211.6 331.2 L212.8 328.7 L212.8 328.7 L214.1 326.1 L214.1 326.1 L215.4 323.6 L215.4 323.6 L216.7 321.1 L216.7 321.1 L218.1 318.6 L218.1 318.6 L219.6 316.2 L219.6 316.2 L221 313.8 L221 313.8 L222.6 311.4 L220.5 310 L222.1 307.6 L222.1 307.6 L223.7 305.3 L223.7 305.3 L225.4 302.9 L225.4 302.9 L227.1 300.6 L227.1 300.6 L228.8 298.3 L228.8 298.3 L230.6 296.1 L230.6 296.1 L232.5 293.8 L232.5 293.8 L234.3 291.7 L234.3 291.7 L236.2 289.5 L236.2 289.5 L238.2 287.4 L238.2 287.4 L240.2 285.3 L240.2 285.3 L242.2 283.2 L240.4 281.5 L242.5 279.4 L242.5 279.4 L244.6 277.4 L244.6 277.4 L246.8 275.4 L246.8 275.4 L249 273.5 L247.3 271.6 L249.6 269.7 L249.6 269.7 L251.9 267.8 L250.3 265.8 L252.6 264 L252.6 264 L255 262.1 L255 262.1 L257.5 260.3 L257.5 260.3 L259.9 258.6 L258.5 256.5 L261 254.8 L261 254.8 L263.5 253.1 L263.5 253.1 L266.1 251.5 L264.8 249.4 L267.4 247.8 L267.4 247.8 L270.1 246.2 L270.1 246.2 L272.8 244.7 L272.8 244.7 L275.5 243.2 L275.5 243.2 L278.3 241.7 L278.3 241.7 L281 240.4 L281 240.4 L283.8 239 L283.8 239 L286.7 237.7 L286.7 237.7 L289.5 236.5 L289.5 236.5 L292.4 235.3 L292.4 235.3 L295.2 234.2 L295.2 234.2 L298.1 233.1 L298.1 233.1 L301.1 232.1 L301.1 232.1 L304 231.1 L304 231.1 L307 230.2 L307 230.2 L309.9 229.3 L309.9 229.3 L312.9 228.4 L312.9 228.4 L315.9 227.7 L315.9 227.7 L318.9 226.9 L318.4 224.5 L321.4 223.8 L321.4 223.8 L324.5 223.2 L324.5 223.2 L327.6 222.6 L327.6 222.6 L330.7 222.1 L330.7 222.1 L333.8 221.7 L333.8 221.7 L336.9 221.2 L336.6 218.8 L339.8 218.4 L339.8 218.4 L342.9 218.1 L342.9 218.1 L346.1 217.8 L346.1 217.8 L349.3 217.7 L349.4 220.1 L352.6 220 L352.6 220 L355.7 219.9 L355.7 219.9 L358.9 219.9 L358.9 219.9 L362 219.9 L362 219.9 L365.1 220 L365.1 220 L368.3 220.1 L368.3 220.1 L371.4 220.3 L371.4 220.3 L374.5 220.6 L374.3 223.1 L377.4 223.4 L377.4 223.4 L380.5 223.7 L380.2 226.2 L383.2 226.6 L383.2 226.6 L386.2 227.1 L386.2 227.1 L389.2 227.6 L388.8 230 L391.8 230.6 L391.8 230.6 L394.7 231.2 L394.7 231.2 L397.7 231.8 L397.7 231.8 L400.6 232.5 L400.6 232.5 L403.5 233.3 L404.1 230.9 L407.1 231.7 L407.1 231.7 L410 232.5 L410 232.5 L412.9 233.5 L412.9 233.5 L415.8 234.4 L416.6 232.1 L419.6 233.1 L419.6 233.1 L422.5 234.2 L422.5 234.2 L425.3 235.3 L425.3 235.3 L428.2 236.5 L428.2 236.5 L431 237.7 L431 237.7 L433.9 239 L433.9 239 L436.7 240.4 L436.7 240.4 L439.4 241.7 L438.3 244 L441 245.4 L441 245.4 L443.7 246.8 L443.7 246.8 L446.4 248.3 L446.4 248.3 L449 249.9 L449 249.9 L451.6 251.5 L451.6 251.5 L454.2 253.1 L452.8 255.2 L455.3 256.9 L455.3 256.9 L457.8 258.6 L457.8 258.6 L460.2 260.3 L460.2 260.3 L462.7 262.1 L462.7 262.1 L465.1 264 L465.1 264 L467.4 265.8 L465.8 267.8 L468.1 269.7 L468.1 269.7 L470.4 271.6 L470.4 271.6 L472.6 273.6 L472.6 273.6 L474.8 275.6 L473.1 277.4 L475.2 279.4 L475.2 279.4 L477.3 281.5 L477.3 281.5 L479.3 283.5 L479.3 283.5 L481.4 285.7 L481.4 285.7 L483.3 287.8 L483.3 287.8 L485.3 290 L485.3 290 L487.2 292.2 L487.2 292.2 L489 294.5 L489 294.5 L490.8 296.8 L490.8 296.8 L492.6 299.1 L492.6 299.1 L494.4 301.4 L494.4 301.4 L496.1 303.8 L498.1 302.4 L499.8 304.8 L499.8 304.8 L501.4 307.3 L501.4 307.3 L503 309.8 L503 309.8 L504.6 312.3 L504.6 312.3 L506.1 314.9 L506.1 314.9 L507.5 317.5 L507.5 317.5 L509 320.1 L509 320.1 L510.3 322.7 L510.3 322.7 L511.6 325.4 L511.6 325.4 L512.9 328.1 L515.2 327 L516.4 329.7 L516.4 329.7 L517.6 332.5 L519.9 331.5 L521.1 334.3 L521.1 334.3 L522.2 337.2 L526.9 335.4 L528 338.3 L528 338.3 L529 341.3 L531.4 340.5 L532.4 343.5 L532.4 343.5 L533.4 346.5 L535.8 345.8 L536.7 348.9 L536.7 348.9 L537.5 352 L537.5 352 L538.4 355.1 L538.4 355.1 L539.1 358.3 L539.1 358.3 L539.8 361.4 L539.8 361.4 L540.5 364.6 L540.5 364.6 L541 367.8 L541 367.8 L541.6 371 L539.1 371.4 L539.6 374.5 L539.6 374.5 L540 377.7 L540 377.7 L540.4 380.8 L540.4 380.8 L540.7 384 L538.2 384.2 L538.4 387.3 L538.4 387.3 L538.6 390.5 L541.1 390.3 L541.2 393.5 L541.2 393.5 L541.3 396.7 L538.8 396.8 L538.9 399.9 L538.9 399.9 L538.8 403 L538.8 403 L538.7 406.2 L538.7 406.2 L538.6 409.3 L538.6 409.3 L538.4 412.5 L538.4 412.5 L538.2 415.6 L538.2 415.6 L537.9 418.7 L537.9 418.7 L537.5 421.8 L537.5 421.8 L537.1 425 L537.1 425 L536.6 428.1 L536.6 428.1 L536.1 431.2 L536.1 431.2 L535.5 434.2 L535.5 434.2 L534.9 437.3 L534.9 437.3 L534.2 440.4 L531.8 439.8 L531.1 442.8 L531.1 442.8 L530.3 445.8 L530.3 445.8 L529.5 448.8 L527.1 448.1 L526.2 451.1 L526.2 451.1 L525.3 454 L525.3 454 L524.3 456.9 L522 456.1 L520.9 458.9 L520.9 458.9 L519.9 461.7 L519.9 461.7 L518.8 464.5 L518.8 464.5 L517.6 467.3 L517.6 467.3 L516.4 470.1 L516.4 470.1 L515.2 472.8 L512.9 471.7 L511.6 474.4 L511.6 474.4 L510.3 477.1 L510.3 477.1 L509 479.7 L506.7 478.5 L505.3 481.1 L503.2 479.9 L501.7 482.4 L501.7 482.4 L500.3 484.9 L502.4 486.2 L500.9 488.7 L500.9 488.7 L499.3 491.1 L499.3 491.1 L497.7 493.6 L497.7 493.6 L496.1 496 L496.1 496 L494.4 498.4 L494.4 498.4 L492.6 500.7 L490.6 499.2 L488.9 501.5 L488.9 501.5 L487.1 503.7 L485.1 502.2 L483.3 504.4 L483.3 504.4 L481.5 506.5 L481.5 506.5 L479.6 508.6 L479.6 508.6 L477.7 510.7 L479.5 512.4 L477.5 514.5 L477.5 514.5 L475.5 516.6 L475.5 516.6 L473.5 518.6 L473.5 518.6 L471.4 520.6 L471.4 520.6 L469.3 522.5 L469.3 522.5 L467.1 524.4 L467.1 524.4 L464.9 526.3 L464.9 526.3 L462.7 528.1 L464.3 530.1 L462 531.9 L462 531.9 L459.7 533.7 L459.7 533.7 L457.3 535.4 L457.3 535.4 L454.9 537.1 L453.5 535.1 L451.1 536.7 L451.1 536.7 L448.7 538.3 L448.7 538.3 L446.3 539.8 L446.3 539.8 L443.8 541.3 L443.8 541.3 L441.4 542.8 L441.4 542.8 L438.8 544.2 L438.8 544.2 L436.3 545.6 L436.3 545.6 L433.8 546.9 L433.8 546.9 L431.2 548.2 L431.2 548.2 L428.6 549.4 L429.6 551.7 L427 552.9 L427 552.9 L424.3 554.1 L423.3 551.8 L420.7 552.9 L420.7 552.9 L418 553.9 L417.1 551.6 L414.4 552.6 L414.4 552.6 L411.8 553.5 L411.8 553.5 L409.1 554.4 L409.1 554.4 L406.4 555.3 L405.6 552.9 L403 553.7 L403 553.7 L400.3 554.4 L399.6 552 L397 552.7 L397 552.7 L394.3 553.4 L393.7 550.9 L391.1 551.5 L391.1 551.5 L388.4 552.1 L388.4 552.1 L385.8 552.5 L385.8 552.5 L383.1 553 L382.7 550.5 L380.1 550.9 L380.1 550.9 L377.4 551.3 L377.4 551.3 L374.8 551.6 L374.8 551.6 L372.1 551.8 L371.9 549.3 L369.3 549.5 L369.3 549.5 L366.7 549.7 L366.7 549.7 L364.1 549.8 L364.1 549.8 L361.5 549.9 L361.5 549.9 L358.9 549.9 L358.9 549.9 L356.2 549.9 L356.2 549.9 L353.6 549.8 L353.6 549.8 L351 549.7 L351 549.7 L348.4 549.5 L348.4 549.5 L345.8 549.3 L345.8 549.3 L343.2 549.1 L343.2 549.1 L340.6 548.8 L340.6 548.8 L338 548.4 L338 548.4 L335.4 548.1 L335.4 548.1 L332.8 547.6 L332.8 547.6 L330.2 547.1 L329.8 549.6 L327.1 549.1 L327.1 549.1 L324.5 548.5 L324.5 548.5 L322 547.9 L322 547.9 L319.4 547.2 L319.4 547.2 L316.8 546.5 L316.8 546.5 L314.3 545.7 L314.3 545.7 L311.7 544.9 L311.7 544.9 L309.2 544.1 L309.2 544.1 L306.7 543.2 L306.7 543.2 L304.2 542.3 L304.2 542.3 L301.7 541.3 L301.7 541.3 L299.3 540.3 L298.3 542.6 L295.8 541.5 L295.8 541.5 L293.3 540.4 L293.3 540.4 L290.9 539.2 L290.9 539.2 L288.5 538 L288.5 538 L286.1 536.8 L286.1 536.8 L283.7 535.5 L283.7 535.5 L281.4 534.1 L281.4 534.1 L279 532.8 L279 532.8 L276.7 531.3 L276.7 531.3 L274.4 529.9 L274.4 529.9 L272.2 528.4 L272.2 528.4 L269.9 526.9 L269.9 526.9 L267.7 525.3 L267.7 525.3 L265.6 523.7 L265.6 523.7 L263.4 522 L263.4 522 L261.3 520.4 L259.7 522.3 L257.6 520.6 L257.6 520.6 L255.5 518.8 L255.5 518.8 L253.5 516.9 L253.5 516.9 L251.4 515.1 L251.4 515.1 L249.4 513.2 L249.4 513.2 L247.5 511.3 L247.5 511.3 L245.6 509.3 L245.6 509.3 L243.7 507.3 L243.7 507.3 L241.8 505.3 L241.8 505.3 L240 503.2 L240 503.2 L238.2 501.1 L238.2 501.1 L236.4 499 L236.4 499 L234.7 496.9 L234.7 496.9 L233.1 494.7 L233.1 494.7 L231.4 492.5 L231.4 492.5 L229.8 490.2 L227.8 491.7 L226.2 489.4 L226.2 489.4 L224.7 487 L224.7 487 L223.2 484.7 L223.2 484.7 L221.7 482.3 L221.7 482.3 L220.3 479.9 L220.3 479.9 L218.9 477.5 L218.9 477.5 L217.6 475 L217.6 475 L216.3 472.5 L216.3 472.5 L215 470 L215 470 L213.8 467.5 L213.8 467.5 L212.7 465 L212.7 465 L211.6 462.4 L211.6 462.4 L210.5 459.8 L210.5 459.8 L209.5 457.2 L209.5 457.2 L208.5 454.6 L208.5 454.6 L207.6 452 L207.6 452 L206.7 449.3 L206.7 449.3 L205.8 446.7 L205.8 446.7 L205 444 L205 444 L204.3 441.3 L204.3 441.3 L203.6 438.6 L203.6 438.6 L203 435.9 L203 435.9 L202.3 433.2 L202.3 433.2 L201.8 430.4 L201.8 430.4 L201.3 427.7 L201.3 427.7 L200.8 424.9 L200.8 424.9 L200.4 422.2 L200.4 422.2 L200 419.4 L200 419.4 L199.7 416.6 L199.7 416.6 L199.5 413.8 L199.5 413.8 L199.2 411.1 L199.2 411.1 L199.1 408.3 L199.1 408.3 L198.9 405.5 L198.9 405.5 L198.9 402.7 L196.4 402.7 L196.4 399.9Z" fill="#ff7846"/>
<path d="M201.4 399.9 L201.4 397.2 L201.4 397.2 L201.4 394.4 L201.4 394.4 L201.6 391.7 L201.6 391.7 L201.7 388.9 L201.7 388.9 L201.9 386.2 L201.9 386.2 L202.2 383.4 L202.2 383.4 L202.5 380.7 L202.5 380.7 L202.9 378 L202.9 378 L203.3 375.3 L200.8 374.9 L201.3 372.1 L201.3 372.1 L201.8 369.4 L201.8 369.4 L202.3 366.6 L202.3 366.6 L203 363.9 L203 363.9 L203.6 361.2 L203.6 361.2 L204.3 358.5 L204.3 358.5 L205 355.8 L205 355.8 L205.8 353.1 L205.8 353.1 L206.7 350.5 L206.7 350.5 L207.6 347.8 L207.6 347.8 L208.5 345.2 L208.5 345.2 L209.5 342.6 L209.5 342.6 L210.5 340 L210.5 340 L211.6 337.4 L211.6 337.4 L212.7 334.8 L212.7 334.8 L213.8 332.3 L213.8 332.3 L215 329.8 L215 329.8 L216.3 327.3 L216.3 327.3 L217.6 324.8 L217.6 324.8 L218.9 322.3 L218.9 322.3 L220.3 319.9 L220.3 319.9 L221.7 317.5 L221.7 317.5 L223.2 315.1 L223.2 315.1 L224.7 312.8 L224.7 312.8 L226.2 310.4 L226.2 310.4 L227.8 308.1 L227.8 308.1 L229.4 305.9 L229.4 305.9 L231.1 303.6 L229.1 302.1 L230.8 299.9 L230.8 299.9 L232.6 297.6 L232.6 297.6 L234.4 295.4 L234.4 295.4 L236.2 293.3 L236.2 293.3 L238.1 291.2 L238.1 291.2 L240 289.1 L240 289.1 L242 287 L242 287 L243.9 285 L243.9 285 L246 283 L244.2 281.2 L246.3 279.2 L246.3 279.2 L248.4 277.3 L248.4 277.3 L250.6 275.4 L249 273.5 L251.2 271.6 L251.2 271.6 L253.4 269.7 L253.4 269.7 L255.7 267.9 L255.7 267.9 L258 266.1 L256.5 264.1 L258.9 262.4 L258.9 262.4 L261.3 260.6 L261.3 260.6 L263.8 259 L263.8 259 L266.3 257.3 L264.9 255.2 L267.4 253.6 L267.4 253.6 L270 252 L270 252 L272.6 250.5 L272.6 250.5 L275.2 249 L275.2 249 L277.9 247.6 L277.9 247.6 L280.5 246.2 L280.5 246.2 L283.2 244.9 L283.2 244.9 L285.9 243.6 L285.9 243.6 L288.7 242.3 L288.7 242.3 L291.4 241.1 L291.4 241.1 L294.2 240 L294.2 240 L297 238.9 L297 238.9 L299.9 237.8 L299.9 237.8 L302.7 236.8 L302.7 236.8 L305.5 235.8 L305.5 235.8 L308.4 234.9 L308.4 234.9 L311.3 234.1 L311.3 234.1 L314.2 233.3 L314.2 233.3 L317.1 232.5 L317.7 234.9 L320.6 234.3 L320.6 234.3 L323.5 233.6 L323.5 233.6 L326.4 233 L326.4 233 L329.3 232.5 L329.3 232.5 L332.3 232 L332.6 234.5 L335.5 234 L335.5 234 L338.4 233.6 L338.4 233.6 L341.3 233.3 L341.3 233.3 L344.3 233 L344.3 233 L347.2 232.8 L347.2 232.8 L350.1 232.6 L350.1 232.6 L353 232.5 L353 232.5 L355.9 232.4 L355.9 232.4 L358.9 232.4 L358.9 232.4 L361.8 232.4 L361.7 234.9 L364.6 235 L364.6 235 L367.5 235.1 L367.4 237.6 L370.2 237.8 L370.2 237.8 L373 238 L373 238 L375.8 238.3 L375.6 240.8 L378.3 241.1 L378.3 241.1 L381.1 241.5 L381.1 241.5 L383.9 241.9 L384.3 239.4 L387.1 239.9 L387.1 239.9 L389.9 240.4 L390.3 237.9 L393.2 238.5 L393.2 238.5 L396 239.1 L396 239.1 L398.8 239.8 L398.8 239.8 L401.6 240.5 L402.2 238.1 L405 238.9 L405 238.9 L407.8 239.7 L407.8 239.7 L410.6 240.6 L410.6 240.6 L413.4 241.5 L414.2 239.2 L417 240.2 L417 240.2 L419.8 241.2 L419.8 241.2 L422.5 242.3 L422.5 242.3 L425.3 243.4 L425.3 243.4 L428 244.6 L428 244.6 L430.7 245.8 L430.7 245.8 L433.4 247.1 L433.4 247.1 L436 248.4 L436 248.4 L438.7 249.8 L438.7 249.8 L441.3 251.2 L441.3 251.2 L443.9 252.7 L443.9 252.7 L446.4 254.2 L445.1 256.3 L447.6 257.9 L447.6 257.9 L450.1 259.4 L450.1 259.4 L452.5 261 L452.5 261 L454.9 262.7 L454.9 262.7 L457.3 264.4 L457.3 264.4 L459.7 266.1 L459.7 266.1 L462 267.9 L462 267.9 L464.3 269.7 L462.7 271.7 L464.9 273.5 L464.9 273.5 L467.1 275.4 L467.1 275.4 L469.3 277.3 L469.3 277.3 L471.4 279.2 L471.4 279.2 L473.5 281.2 L473.5 281.2 L475.5 283.2 L473.8 285 L475.7 287 L475.7 287 L477.7 289.1 L477.7 289.1 L479.6 291.2 L479.6 291.2 L481.5 293.3 L481.5 293.3 L483.3 295.4 L483.3 295.4 L485.1 297.6 L485.1 297.6 L486.9 299.9 L486.9 299.9 L488.6 302.1 L488.6 302.1 L490.3 304.4 L490.3 304.4 L492 306.7 L492 306.7 L493.6 309 L493.6 309 L495.1 311.4 L495.1 311.4 L496.7 313.8 L496.7 313.8 L498.1 316.2 L498.1 316.2 L499.6 318.6 L499.6 318.6 L501 321.1 L503.2 319.9 L504.5 322.4 L504.5 322.4 L505.9 325 L505.9 325 L507.2 327.6 L507.2 327.6 L508.4 330.2 L510.7 329.1 L511.9 331.8 L511.9 331.8 L513 334.5 L515.3 333.5 L516.5 336.2 L516.5 336.2 L517.6 339 L517.6 339 L518.6 341.8 L518.6 341.8 L519.6 344.6 L519.6 344.6 L520.5 347.4 L520.5 347.4 L521.4 350.2 L521.4 350.2 L522.3 353 L522.3 353 L523.1 355.9 L523.1 355.9 L523.8 358.8 L523.8 358.8 L524.5 361.7 L524.5 361.7 L525.1 364.6 L525.1 364.6 L525.7 367.5 L528.2 367 L528.7 369.9 L528.7 369.9 L529.2 372.9 L531.7 372.5 L532.1 375.5 L532.1 375.5 L532.5 378.6 L535 378.3 L535.4 381.3 L535.4 381.3 L535.7 384.4 L535.7 384.4 L535.9 387.5 L535.9 387.5 L536.1 390.6 L538.6 390.5 L538.7 393.6 L538.7 393.6 L538.8 396.8 L538.8 396.8 L538.9 399.9 L538.9 399.9 L538.8 403 L536.3 403 L536.2 406.1 L536.2 406.1 L536.1 409.2 L536.1 409.2 L535.9 412.3 L535.9 412.3 L535.7 415.4 L535.7 415.4 L535.4 418.5 L535.4 418.5 L535 421.5 L532.5 421.2 L532.1 424.3 L532.1 424.3 L531.7 427.3 L531.7 427.3 L531.2 430.3 L531.2 430.3 L530.6 433.3 L530.6 433.3 L530 436.3 L530 436.3 L529.4 439.3 L529.4 439.3 L528.7 442.2 L528.7 442.2 L527.9 445.2 L527.9 445.2 L527.1 448.1 L524.7 447.4 L523.8 450.3 L523.8 450.3 L522.9 453.2 L522.9 453.2 L522 456.1 L522 456.1 L520.9 458.9 L520.9 458.9 L519.9 461.7 L519.9 461.7 L518.8 464.5 L518.8 464.5 L517.6 467.3 L517.6 467.3 L516.4 470.1 L516.4 470.1 L515.2 472.8 L512.9 471.7 L511.6 474.4 L511.6 474.4 L510.3 477.1 L508.1 475.9 L506.7 478.5 L504.5 477.4 L503.2 479.9 L503.2 479.9 L501.7 482.4 L501.7 482.4 L500.3 484.9 L500.3 484.9 L498.8 487.3 L498.8 487.3 L497.2 489.8 L495.1 488.4 L493.6 490.8 L493.6 490.8 L492 493.1 L492 493.1 L490.3 495.4 L490.3 495.4 L488.6 497.7 L486.6 496.2 L484.9 498.4 L484.9 498.4 L483.2 500.6 L483.2 500.6 L481.4 502.7 L481.4 502.7 L479.6 504.9 L479.6 504.9 L477.8 507 L477.8 507 L475.9 509 L475.9 509 L473.9 511 L473.9 511 L472 513 L472 513 L470 515 L470 515 L468 516.9 L469.7 518.7 L467.6 520.7 L467.6 520.7 L465.5 522.5 L465.5 522.5 L463.3 524.4 L463.3 524.4 L461.1 526.2 L461.1 526.2 L458.9 528 L458.9 528 L456.6 529.7 L456.6 529.7 L454.4 531.4 L454.4 531.4 L452.1 533 L452.1 533 L449.7 534.6 L449.7 534.6 L447.4 536.2 L447.4 536.2 L445 537.7 L445 537.7 L442.5 539.2 L442.5 539.2 L440.1 540.6 L440.1 540.6 L437.6 542 L437.6 542 L435.1 543.4 L435.1 543.4 L432.6 544.7 L432.6 544.7 L430.1 546 L430.1 546 L427.5 547.2 L427.5 547.2 L424.9 548.4 L424.9 548.4 L422.3 549.5 L422.3 549.5 L419.7 550.6 L419.7 550.6 L417.1 551.6 L416.2 549.3 L413.6 550.3 L413.6 550.3 L410.9 551.2 L410.9 551.2 L408.3 552.1 L408.3 552.1 L405.6 552.9 L404.9 550.5 L402.3 551.3 L402.3 551.3 L399.6 552 L399 549.6 L396.3 550.3 L396.3 550.3 L393.7 550.9 L393.2 548.5 L390.6 549.1 L390.6 549.1 L387.9 549.6 L387.5 547.1 L384.9 547.6 L384.9 547.6 L382.3 548.1 L382.3 548.1 L379.7 548.4 L379.7 548.4 L377.1 548.8 L376.8 546.3 L374.3 546.6 L374.3 546.6 L371.7 546.8 L371.7 546.8 L369.1 547 L369.1 547 L366.6 547.2 L366.4 544.7 L363.9 544.8 L363.9 544.8 L361.4 544.9 L361.4 544.9 L358.9 544.9 L358.9 544.9 L356.3 544.9 L356.3 544.9 L353.8 544.8 L353.8 544.8 L351.3 544.7 L351.1 547.2 L348.6 547 L348.6 547 L346 546.8 L346 546.8 L343.4 546.6 L343.4 546.6 L340.9 546.3 L340.9 546.3 L338.3 546 L338.3 546 L335.8 545.6 L335.8 545.6 L333.2 545.2 L333.2 545.2 L330.7 544.7 L330.7 544.7 L328.2 544.2 L328.2 544.2 L325.7 543.6 L325.7 543.6 L323.2 543 L323.2 543 L320.7 542.4 L320.7 542.4 L318.2 541.7 L318.2 541.7 L315.7 541 L315.7 541 L313.3 540.2 L313.3 540.2 L310.8 539.4 L310 541.7 L307.5 540.9 L307.5 540.9 L305.1 539.9 L305.1 539.9 L302.7 539 L302.7 539 L300.2 538 L300.2 538 L297.8 536.9 L297.8 536.9 L295.5 535.8 L295.5 535.8 L293.1 534.7 L293.1 534.7 L290.8 533.6 L290.8 533.6 L288.4 532.3 L288.4 532.3 L286.1 531.1 L286.1 531.1 L283.9 529.8 L283.9 529.8 L281.6 528.5 L281.6 528.5 L279.4 527.1 L279.4 527.1 L277.2 525.7 L277.2 525.7 L275 524.3 L275 524.3 L272.8 522.8 L272.8 522.8 L270.7 521.3 L270.7 521.3 L268.6 519.7 L267.1 521.7 L265 520.1 L265 520.1 L262.9 518.4 L262.9 518.4 L260.8 516.7 L260.8 516.7 L258.8 515 L257.2 516.9 L255.1 515.1 L255.1 515.1 L253.1 513.3 L253.1 513.3 L251.2 511.4 L251.2 511.4 L249.2 509.5 L249.2 509.5 L247.4 507.6 L247.4 507.6 L245.5 505.6 L245.5 505.6 L243.7 503.6 L243.7 503.6 L241.9 501.6 L241.9 501.6 L240.1 499.5 L240.1 499.5 L238.4 497.4 L238.4 497.4 L236.7 495.3 L236.7 495.3 L235.1 493.2 L235.1 493.2 L233.5 491 L233.5 491 L231.9 488.8 L231.9 488.8 L230.3 486.6 L230.3 486.6 L228.9 484.3 L228.9 484.3 L227.4 482 L227.4 482 L226 479.7 L226 479.7 L224.6 477.4 L224.6 477.4 L223.3 475 L223.3 475 L222 472.7 L222 472.7 L220.7 470.3 L220.7 470.3 L219.5 467.8 L219.5 467.8 L218.4 465.4 L218.4 465.4 L217.3 462.9 L217.3 462.9 L216.2 460.5 L216.2 460.5 L215.1 458 L215.1 458 L214.1 455.4 L214.1 455.4 L213.2 452.9 L213.2 452.9 L212.3 450.4 L209.9 451.2 L209.1 448.6 L209.1 448.6 L208.2 445.9 L208.2 445.9 L207.5 443.3 L207.5 443.3 L206.7 440.7 L206.7 440.7 L206 438 L206 438 L205.4 435.3 L205.4 435.3 L204.8 432.6 L204.8 432.6 L204.2 430 L204.2 430 L203.7 427.2 L203.7 427.2 L203.3 424.5 L203.3 424.5 L202.9 421.8 L202.9 421.8 L202.5 419.1 L202.5 419.1 L202.2 416.4 L202.2 416.4 L201.9 413.6 L201.9 413.6 L201.7 410.9 L201.7 410.9 L201.6 408.1 L201.6 408.1 L201.4 405.4 L201.4 405.4 L201.4 402.6 L201.4 402.6 L201.4 399.9Z" fill="#ff5019"/>
<path d="M206.4 399.9 L206.4 397.2 L206.4 397.2 L206.4 394.6 L206.4 394.6 L206.6 391.9 L206.6 391.9 L206.7 389.3 L206.7 389.3 L206.9 386.6 L204.4 386.4 L204.7 383.7 L204.7 383.7 L205 381 L205 381 L205.4 378.3 L205.4 378.3 L205.8 375.7 L205.8 375.7 L206.2 373 L206.2 373 L206.7 370.3 L206.7 370.3 L207.2 367.7 L207.2 367.7 L207.8 365 L207.8 365 L208.5 362.4 L208.5 362.4 L209.1 359.8 L209.1 359.8 L209.9 357.2 L209.9 357.2 L210.6 354.6 L210.6 354.6 L211.4 352 L211.4 352 L212.3 349.4 L212.3 349.4 L213.2 346.9 L213.2 346.9 L214.1 344.4 L214.1 344.4 L215.1 341.8 L215.1 341.8 L216.2 339.3 L216.2 339.3 L217.3 336.9 L217.3 336.9 L218.4 334.4 L218.4 334.4 L219.5 332 L219.5 332 L220.7 329.5 L220.7 329.5 L222 327.1 L222 327.1 L223.3 324.8 L223.3 324.8 L224.6 322.4 L224.6 322.4 L226 320.1 L226 320.1 L227.4 317.8 L225.3 316.4 L226.8 314.1 L226.8 314.1 L228.3 311.8 L228.3 311.8 L229.8 309.6 L229.8 309.6 L231.4 307.3 L231.4 307.3 L233.1 305.1 L233.1 305.1 L234.7 302.9 L234.7 302.9 L236.4 300.8 L236.4 300.8 L238.2 298.7 L238.2 298.7 L240 296.6 L240 296.6 L241.8 294.5 L241.8 294.5 L243.7 292.5 L243.7 292.5 L245.6 290.5 L245.6 290.5 L247.5 288.5 L247.5 288.5 L249.4 286.6 L249.4 286.6 L251.4 284.7 L249.7 282.9 L251.8 281 L251.8 281 L253.9 279.1 L253.9 279.1 L256 277.3 L256 277.3 L258.2 275.6 L256.6 273.6 L258.8 271.8 L258.8 271.8 L261.1 270.1 L261.1 270.1 L263.3 268.4 L263.3 268.4 L265.6 266.8 L265.6 266.8 L268 265.2 L268 265.2 L270.3 263.6 L269 261.5 L271.4 260 L271.4 260 L273.9 258.5 L273.9 258.5 L276.4 257 L276.4 257 L278.9 255.6 L278.9 255.6 L281.4 254.2 L281.4 254.2 L283.9 252.9 L283.9 252.9 L286.5 251.6 L287.6 253.8 L290.2 252.6 L290.2 252.6 L292.8 251.4 L292.8 251.4 L295.4 250.3 L295.4 250.3 L298 249.2 L298 249.2 L300.6 248.2 L300.6 248.2 L303.3 247.2 L303.3 247.2 L305.9 246.3 L305.9 246.3 L308.6 245.4 L308.6 245.4 L311.3 244.5 L311.3 244.5 L314.1 243.7 L314.1 243.7 L316.8 242.9 L316.8 242.9 L319.5 242.2 L319.5 242.2 L322.3 241.6 L322.3 241.6 L325.1 241 L325.1 241 L327.8 240.4 L327.8 240.4 L330.6 239.9 L330.6 239.9 L333.4 239.4 L333.8 241.9 L336.6 241.5 L336.6 241.5 L339.4 241.1 L339.4 241.1 L342.1 240.8 L342.1 240.8 L344.9 240.5 L344.9 240.5 L347.7 240.3 L347.7 240.3 L350.5 240.1 L350.5 240.1 L353.3 240 L353.3 240 L356.1 239.9 L356.1 242.4 L358.9 242.4 L358.9 242.4 L361.6 242.4 L361.6 244.9 L364.3 245 L364.3 245 L367 245.1 L366.8 247.6 L369.5 247.8 L369.5 247.8 L372.1 248 L372.1 248 L374.8 248.2 L374.8 248.2 L377.4 248.5 L377.4 248.5 L380.1 248.9 L380.1 248.9 L382.7 249.3 L382.7 249.3 L385.3 249.7 L385.3 249.7 L387.9 250.2 L388.4 247.7 L391.1 248.3 L391.1 248.3 L393.7 248.9 L393.7 248.9 L396.3 249.5 L395.7 251.9 L398.3 252.6 L398.3 252.6 L400.9 253.3 L400.9 253.3 L403.4 254.1 L403.4 254.1 L406 254.9 L406 254.9 L408.5 255.7 L408.5 255.7 L411 256.6 L411 256.6 L413.5 257.5 L413.5 257.5 L416 258.5 L416 258.5 L418.4 259.5 L418.4 259.5 L420.9 260.6 L420.9 260.6 L423.3 261.7 L423.3 261.7 L425.7 262.8 L425.7 262.8 L428.1 264 L426.9 266.2 L429.3 267.5 L429.3 267.5 L431.6 268.7 L431.6 268.7 L433.9 270 L433.9 270 L436.1 271.3 L436.1 271.3 L438.3 272.7 L438.3 272.7 L440.5 274.1 L440.5 274.1 L442.7 275.5 L442.7 275.5 L444.9 277 L444.9 277 L447 278.5 L447 278.5 L449.1 280.1 L449.1 280.1 L451.2 281.7 L451.2 281.7 L453.2 283.3 L453.2 283.3 L455.3 285 L455.3 285 L457.3 286.7 L457.3 286.7 L459.2 288.4 L459.2 288.4 L461.1 290.2 L461.1 290.2 L463 292 L463 292 L464.9 293.8 L464.9 293.8 L466.8 295.7 L466.8 295.7 L468.6 297.6 L468.6 297.6 L470.3 299.5 L470.3 299.5 L472.1 301.5 L472.1 301.5 L473.8 303.5 L473.8 303.5 L475.4 305.5 L475.4 305.5 L477.1 307.6 L477.1 307.6 L478.6 309.6 L478.6 309.6 L480.2 311.7 L480.2 311.7 L481.7 313.9 L481.7 313.9 L483.2 316 L483.2 316 L484.7 318.2 L484.7 318.2 L486.1 320.4 L486.1 320.4 L487.4 322.6 L487.4 322.6 L488.8 324.9 L488.8 324.9 L490 327.2 L490 327.2 L491.3 329.5 L491.3 329.5 L492.5 331.8 L497 329.5 L498.2 332 L498.2 332 L499.3 334.4 L501.6 333.3 L502.7 335.8 L502.7 335.8 L503.8 338.4 L506.1 337.4 L507.2 340 L507.2 340 L508.2 342.6 L508.2 342.6 L509.2 345.2 L509.2 345.2 L510.1 347.8 L507.8 348.6 L508.6 351.2 L508.6 351.2 L509.5 353.9 L509.5 353.9 L510.2 356.5 L510.2 356.5 L511 359.1 L511 359.1 L511.7 361.8 L511.7 361.8 L512.3 364.5 L512.3 364.5 L512.9 367.2 L512.9 367.2 L513.5 369.8 L515.9 369.4 L516.4 372.1 L516.4 372.1 L516.9 374.9 L516.9 374.9 L517.3 377.6 L517.3 377.6 L517.7 380.4 L520.1 380.1 L520.5 382.9 L520.5 382.9 L520.7 385.7 L523.2 385.5 L523.4 388.4 L523.4 388.4 L523.6 391.3 L523.6 391.3 L523.7 394.1 L523.7 394.1 L523.8 397 L523.8 397 L523.9 399.9 L523.9 399.9 L523.8 402.8 L526.3 402.8 L526.2 405.7 L526.2 405.7 L526.1 408.7 L526.1 408.7 L525.9 411.6 L525.9 411.6 L525.7 414.5 L525.7 414.5 L525.4 417.4 L525.4 417.4 L525.1 420.3 L525.1 420.3 L524.7 423.2 L524.7 423.2 L524.3 426.1 L526.8 426.5 L526.3 429.4 L526.3 429.4 L525.7 432.3 L525.7 432.3 L525.1 435.2 L525.1 435.2 L524.5 438.1 L524.5 438.1 L523.8 441 L523.8 441 L523.1 443.9 L523.1 443.9 L522.3 446.8 L522.3 446.8 L521.4 449.6 L521.4 449.6 L520.5 452.4 L520.5 452.4 L519.6 455.2 L517.2 454.4 L516.2 457.2 L516.2 457.2 L515.2 459.9 L515.2 459.9 L514.2 462.6 L514.2 462.6 L513 465.3 L513 465.3 L511.9 468 L511.9 468 L510.7 470.7 L508.4 469.6 L507.2 472.2 L507.2 472.2 L505.9 474.8 L503.6 473.7 L502.3 476.2 L500.1 475 L498.8 477.5 L496.6 476.3 L495.2 478.6 L495.2 478.6 L493.9 481 L493.9 481 L492.4 483.4 L492.4 483.4 L490.9 485.7 L490.9 485.7 L489.4 488 L489.4 488 L487.9 490.2 L487.9 490.2 L486.3 492.5 L486.3 492.5 L484.6 494.7 L482.6 493.2 L481 495.3 L481 495.3 L479.3 497.4 L477.4 495.9 L475.7 497.9 L475.7 497.9 L473.9 499.9 L475.8 501.6 L474 503.6 L474 503.6 L472.2 505.6 L472.2 505.6 L470.3 507.6 L470.3 507.6 L468.5 509.5 L468.5 509.5 L466.5 511.4 L466.5 511.4 L464.6 513.3 L464.6 513.3 L462.6 515.1 L462.6 515.1 L460.5 516.9 L462.2 518.8 L460.1 520.6 L460.1 520.6 L458 522.3 L458 522.3 L455.8 524 L455.8 524 L453.6 525.7 L453.6 525.7 L451.4 527.3 L451.4 527.3 L449.2 528.9 L449.2 528.9 L446.9 530.5 L446.9 530.5 L444.6 532 L444.6 532 L442.3 533.5 L442.3 533.5 L440 534.9 L441.3 537 L438.9 538.5 L438.9 538.5 L436.4 539.8 L436.4 539.8 L434 541.2 L434 541.2 L431.5 542.5 L431.5 542.5 L429 543.7 L429 543.7 L426.5 544.9 L426.5 544.9 L423.9 546.1 L423.9 546.1 L421.4 547.2 L420.4 544.9 L417.9 545.9 L417.9 545.9 L415.3 546.9 L415.3 546.9 L412.7 547.9 L412.7 547.9 L410.1 548.8 L409.3 546.5 L406.7 547.3 L406.7 547.3 L404.2 548.1 L404.2 548.1 L401.6 548.9 L400.9 546.5 L398.3 547.2 L398.3 547.2 L395.7 547.9 L395.7 547.9 L393.2 548.5 L392.6 546.1 L390 546.6 L390 546.6 L387.5 547.1 L387 544.7 L384.5 545.2 L384.5 545.2 L381.9 545.6 L381.5 543.1 L379 543.5 L379 543.5 L376.5 543.8 L376.2 541.3 L373.7 541.6 L373.7 541.6 L371.3 541.9 L371.3 541.9 L368.8 542.1 L368.8 542.1 L366.3 542.2 L366.2 539.7 L363.7 539.8 L363.7 539.8 L361.3 539.9 L361.3 539.9 L358.9 539.9 L358.9 539.9 L356.4 539.9 L356.4 539.9 L354 539.8 L354 539.8 L351.5 539.7 L351.5 539.7 L349.1 539.6 L349.1 539.6 L346.6 539.4 L346.6 539.4 L344.2 539.1 L344.2 539.1 L341.8 538.9 L341.5 541.3 L339 541 L339 541 L336.6 540.6 L336.6 540.6 L334.1 540.2 L334.1 540.2 L331.7 539.8 L331.7 539.8 L329.2 539.3 L329.2 539.3 L326.8 538.7 L326.8 538.7 L324.4 538.2 L324.4 538.2 L322 537.5 L322 537.5 L319.6 536.9 L319.6 536.9 L317.2 536.2 L317.2 536.2 L314.8 535.4 L314.8 535.4 L312.5 534.6 L312.5 534.6 L310.1 533.8 L310.1 533.8 L307.8 532.9 L307.8 532.9 L305.5 532 L305.5 532 L303.2 531.1 L303.2 531.1 L300.9 530.1 L300.9 530.1 L298.6 529 L298.6 529 L296.4 528 L296.4 528 L294.2 526.9 L294.2 526.9 L292 525.7 L292 525.7 L289.8 524.5 L289.8 524.5 L287.6 523.3 L287.6 523.3 L285.5 522 L284.2 524.2 L282 522.9 L282 522.9 L279.9 521.5 L278.5 523.6 L276.4 522.2 L276.4 522.2 L274.2 520.7 L274.2 520.7 L272.2 519.2 L272.2 519.2 L270.1 517.7 L270.1 517.7 L268 516.1 L268 516.1 L266 514.5 L264.5 516.5 L262.4 514.8 L262.4 514.8 L260.4 513.1 L260.4 513.1 L258.5 511.4 L258.5 511.4 L256.6 509.6 L256.6 509.6 L254.7 507.8 L254.7 507.8 L252.8 506 L252.8 506 L250.9 504.1 L250.9 504.1 L249.1 502.2 L249.1 502.2 L247.4 500.3 L247.4 500.3 L245.6 498.3 L245.6 498.3 L243.9 496.3 L243.9 496.3 L242.3 494.3 L242.3 494.3 L240.6 492.2 L240.6 492.2 L239.1 490.2 L239.1 490.2 L237.5 488.1 L237.5 488.1 L236 485.9 L236 485.9 L234.5 483.8 L234.5 483.8 L233 481.6 L233 481.6 L231.6 479.4 L231.6 479.4 L230.3 477.2 L230.3 477.2 L228.9 474.9 L228.9 474.9 L227.7 472.6 L227.7 472.6 L226.4 470.3 L226.4 470.3 L225.2 468 L225.2 468 L224 465.7 L224 465.7 L222.9 463.3 L222.9 463.3 L221.8 460.9 L221.8 460.9 L220.8 458.5 L220.8 458.5 L219.8 456.1 L219.8 456.1 L218.8 453.7 L216.5 454.6 L215.5 452.1 L215.5 452.1 L214.7 449.5 L214.7 449.5 L213.8 447 L213.8 447 L213 444.5 L213 444.5 L212.3 441.9 L212.3 441.9 L211.5 439.4 L211.5 439.4 L210.9 436.8 L210.9 436.8 L210.3 434.2 L210.3 434.2 L209.7 431.6 L209.7 431.6 L209.2 429 L209.2 429 L208.7 426.4 L208.7 426.4 L208.2 423.8 L208.2 423.8 L207.8 421.1 L207.8 421.1 L207.5 418.5 L207.5 418.5 L207.2 415.8 L207.2 415.8 L206.9 413.2 L206.9 413.2 L206.7 410.5 L206.7 410.5 L206.6 407.9 L206.6 407.9 L206.4 405.2 L206.4 405.2 L206.4 402.6 L206.4 402.6 L206.4 399.9Z" fill="#e63200"/>
<path d="M213.9 399.9 L213.9 397.4 L213.9 397.4 L213.9 394.8 L213.9 394.8 L214 392.3 L211.6 392.2 L211.7 389.6 L211.7 389.6 L211.9 387 L211.9 387 L212.2 384.5 L212.2 384.5 L212.4 381.9 L212.4 381.9 L212.8 379.4 L212.8 379.4 L213.2 376.8 L213.2 376.8 L213.6 374.3 L213.6 374.3 L214.1 371.8 L214.1 371.8 L214.6 369.2 L214.6 369.2 L215.1 366.7 L215.1 366.7 L215.7 364.2 L215.7 364.2 L216.4 361.7 L216.4 361.7 L217.1 359.2 L217.1 359.2 L217.8 356.8 L217.8 356.8 L218.6 354.3 L218.6 354.3 L219.4 351.9 L219.4 351.9 L220.2 349.5 L220.2 349.5 L221.1 347 L221.1 347 L222.1 344.6 L222.1 344.6 L223.1 342.3 L223.1 342.3 L224.1 339.9 L224.1 339.9 L225.2 337.6 L225.2 337.6 L226.3 335.2 L226.3 335.2 L227.4 332.9 L227.4 332.9 L228.6 330.7 L228.6 330.7 L229.8 328.4 L229.8 328.4 L231.1 326.1 L231.1 326.1 L232.4 323.9 L232.4 323.9 L233.8 321.7 L233.8 321.7 L235.1 319.6 L235.1 319.6 L236.6 317.4 L236.6 317.4 L238 315.3 L238 315.3 L239.5 313.2 L239.5 313.2 L241.1 311.1 L241.1 311.1 L242.6 309.1 L242.6 309.1 L244.2 307.1 L244.2 307.1 L245.9 305.1 L245.9 305.1 L247.5 303.1 L247.5 303.1 L249.2 301.2 L249.2 301.2 L251 299.3 L251 299.3 L252.7 297.4 L252.7 297.4 L254.6 295.6 L254.6 295.6 L256.4 293.8 L256.4 293.8 L258.3 292 L258.3 292 L260.2 290.3 L260.2 290.3 L262.1 288.6 L260.4 286.7 L262.4 285 L262.4 285 L264.5 283.3 L264.5 283.3 L266.5 281.7 L266.5 281.7 L268.6 280.1 L268.6 280.1 L270.7 278.5 L269.2 276.5 L271.4 275 L271.4 275 L273.6 273.5 L273.6 273.5 L275.8 272 L275.8 272 L278 270.6 L278 270.6 L280.3 269.2 L280.3 269.2 L282.6 267.8 L282.6 267.8 L284.9 266.5 L284.9 266.5 L287.3 265.3 L287.3 265.3 L289.6 264 L290.8 266.2 L293.1 265.1 L293.1 265.1 L295.5 264 L296.5 266.2 L298.9 265.2 L298.9 265.2 L301.2 264.1 L302.2 266.4 L304.5 265.5 L304.5 265.5 L306.9 264.5 L307.8 266.9 L310.1 266 L310.1 266 L312.5 265.2 L313.3 267.5 L315.6 266.8 L315.6 266.8 L317.9 266 L317.9 266 L320.3 265.3 L320.3 265.3 L322.6 264.7 L322.6 264.7 L325 264.1 L325.6 266.5 L327.9 265.9 L327.9 265.9 L330.3 265.4 L330.3 265.4 L332.6 264.9 L332.6 264.9 L335 264.5 L335.4 267 L337.7 266.6 L337.7 266.6 L340.1 266.2 L340.1 266.2 L342.4 265.9 L342.7 268.4 L345 268.1 L345 268.1 L347.3 267.9 L347.3 267.9 L349.6 267.7 L349.6 267.7 L351.9 267.6 L351.9 267.6 L354.2 267.5 L354.2 267.5 L356.5 267.4 L356.5 267.4 L358.9 267.4 L358.9 267.4 L361.2 267.4 L361.2 267.4 L363.5 267.5 L363.5 267.5 L365.8 267.6 L365.9 265.1 L368.3 265.2 L368.3 265.2 L370.6 265.4 L370.6 265.4 L373 265.6 L373 265.6 L375.3 265.9 L375.6 263.4 L378 263.7 L378 263.7 L380.4 264.1 L380.4 264.1 L382.7 264.5 L382.7 264.5 L385.1 264.9 L385.1 264.9 L387.4 265.4 L387.4 265.4 L389.8 265.9 L389.8 265.9 L392.1 266.5 L391.5 268.9 L393.8 269.5 L393.8 269.5 L396.1 270.1 L396.1 270.1 L398.3 270.8 L398.3 270.8 L400.6 271.5 L400.6 271.5 L402.8 272.3 L402.8 272.3 L405 273 L405 273 L407.2 273.9 L407.2 273.9 L409.4 274.7 L409.4 274.7 L411.6 275.6 L412.6 273.3 L414.8 274.3 L414.8 274.3 L417 275.3 L417 275.3 L419.1 276.3 L419.1 276.3 L421.3 277.4 L422.4 275.2 L424.6 276.3 L424.6 276.3 L426.7 277.5 L426.7 277.5 L428.9 278.7 L428.9 278.7 L431 279.9 L431 279.9 L433 281.2 L433 281.2 L435.1 282.5 L436.5 280.4 L438.5 281.8 L438.5 281.8 L440.6 283.2 L440.6 283.2 L442.6 284.6 L442.6 284.6 L444.6 286.1 L444.6 286.1 L446.6 287.6 L446.6 287.6 L448.5 289.2 L448.5 289.2 L450.4 290.7 L450.4 290.7 L452.3 292.4 L452.3 292.4 L454.2 294 L454.2 294 L456 295.7 L456 295.7 L457.8 297.4 L457.8 297.4 L459.6 299.1 L459.6 299.1 L461.4 300.9 L461.4 300.9 L463.1 302.7 L463.1 302.7 L464.7 304.5 L464.7 304.5 L466.4 306.4 L468.3 304.8 L469.9 306.7 L469.9 306.7 L471.5 308.6 L471.5 308.6 L473.1 310.6 L473.1 310.6 L474.7 312.6 L474.7 312.6 L476.2 314.7 L476.2 314.7 L477.6 316.7 L477.6 316.7 L479.1 318.8 L479.1 318.8 L480.5 320.9 L480.5 320.9 L481.8 323.1 L481.8 323.1 L483.1 325.2 L483.1 325.2 L484.4 327.4 L484.4 327.4 L485.7 329.6 L487.9 328.4 L489.1 330.7 L489.1 330.7 L490.3 332.9 L492.5 331.8 L493.7 334.1 L493.7 334.1 L494.8 336.5 L494.8 336.5 L495.9 338.9 L495.9 338.9 L496.9 341.3 L499.2 340.3 L500.2 342.8 L500.2 342.8 L501.2 345.2 L501.2 345.2 L502.2 347.7 L502.2 347.7 L503 350.3 L503 350.3 L503.9 352.8 L503.9 352.8 L504.7 355.3 L502.3 356 L503 358.6 L503 358.6 L503.7 361.1 L506.2 360.4 L506.8 363 L506.8 363 L507.4 365.6 L507.4 365.6 L508 368.2 L508 368.2 L508.5 370.8 L508.5 370.8 L509 373.4 L509 373.4 L509.5 376 L511.9 375.7 L512.3 378.3 L512.3 378.3 L512.7 381 L512.7 381 L513 383.7 L513 383.7 L513.3 386.4 L515.8 386.2 L516 388.9 L516 388.9 L516.1 391.7 L516.1 391.7 L516.3 394.4 L516.3 394.4 L516.3 397.2 L518.8 397.1 L518.9 399.9 L518.9 399.9 L518.8 402.7 L518.8 402.7 L518.8 405.5 L518.8 405.5 L518.6 408.3 L521.1 408.4 L521 411.2 L521 411.2 L520.7 414.1 L520.7 414.1 L520.5 416.9 L520.5 416.9 L520.1 419.7 L522.6 420 L522.2 422.9 L522.2 422.9 L521.8 425.7 L521.8 425.7 L521.3 428.6 L521.3 428.6 L520.8 431.4 L520.8 431.4 L520.2 434.2 L520.2 434.2 L519.6 437 L519.6 437 L518.9 439.8 L518.9 439.8 L518.2 442.6 L518.2 442.6 L517.5 445.4 L517.5 445.4 L516.6 448.1 L514.2 447.4 L513.4 450.1 L513.4 450.1 L512.5 452.8 L512.5 452.8 L511.6 455.5 L511.6 455.5 L510.6 458.1 L510.6 458.1 L509.5 460.8 L509.5 460.8 L508.4 463.4 L508.4 463.4 L507.3 466 L507.3 466 L506.1 468.6 L503.9 467.5 L502.7 470 L502.7 470 L501.4 472.5 L501.4 472.5 L500.1 475 L497.9 473.8 L496.6 476.3 L494.4 475 L493.1 477.4 L493.1 477.4 L491.7 479.7 L489.6 478.4 L488.2 480.7 L488.2 480.7 L486.7 483 L486.7 483 L485.3 485.2 L485.3 485.2 L483.8 487.4 L483.8 487.4 L482.2 489.5 L482.2 489.5 L480.6 491.7 L480.6 491.7 L479 493.8 L479 493.8 L477.4 495.9 L475.4 494.3 L473.8 496.3 L473.8 496.3 L472.1 498.3 L472.1 498.3 L470.3 500.3 L470.3 500.3 L468.6 502.2 L468.6 502.2 L466.8 504.1 L466.8 504.1 L464.9 506 L464.9 506 L463 507.8 L463 507.8 L461.1 509.6 L462.9 511.4 L460.9 513.2 L460.9 513.2 L458.9 515 L458.9 515 L456.9 516.7 L456.9 516.7 L454.8 518.4 L454.8 518.4 L452.7 520.1 L452.7 520.1 L450.6 521.7 L450.6 521.7 L448.5 523.3 L448.5 523.3 L446.3 524.8 L446.3 524.8 L444.1 526.3 L444.1 526.3 L441.9 527.8 L441.9 527.8 L439.7 529.2 L439.7 529.2 L437.4 530.6 L438.7 532.8 L436.4 534.1 L436.4 534.1 L434 535.5 L434 535.5 L431.6 536.8 L431.6 536.8 L429.2 538 L429.2 538 L426.8 539.2 L426.8 539.2 L424.4 540.4 L424.4 540.4 L421.9 541.5 L421.9 541.5 L419.4 542.6 L419.4 542.6 L416.9 543.6 L416.9 543.6 L414.4 544.6 L414.4 544.6 L411.9 545.6 L411.9 545.6 L409.3 546.5 L408.5 544.1 L406 544.9 L406 544.9 L403.4 545.7 L402.7 543.3 L400.2 544.1 L400.2 544.1 L397.7 544.8 L397 542.4 L394.5 543 L394.5 543 L392 543.6 L391.5 541.2 L389 541.7 L389 541.7 L386.5 542.2 L386 539.8 L383.6 540.2 L383.6 540.2 L381.1 540.6 L380.8 538.2 L378.3 538.5 L378.3 538.5 L375.9 538.9 L375.6 536.4 L373.2 536.6 L373.2 536.6 L370.8 536.9 L370.6 534.4 L368.3 534.6 L368.3 534.6 L365.9 534.7 L365.9 534.7 L363.6 534.8 L363.6 534.8 L361.2 534.9 L361.2 534.9 L358.9 534.9 L358.9 534.9 L356.5 534.9 L356.5 534.9 L354.1 534.8 L354.1 534.8 L351.8 534.7 L351.8 534.7 L349.4 534.6 L349.4 534.6 L347.1 534.4 L347.1 534.4 L344.7 534.2 L344.7 534.2 L342.4 533.9 L342.1 536.4 L339.7 536.1 L339.7 536.1 L337.3 535.7 L337.3 535.7 L335 535.3 L335 535.3 L332.6 534.9 L332.6 534.9 L330.3 534.4 L330.3 534.4 L327.9 533.9 L327.9 533.9 L325.6 533.3 L325.6 533.3 L323.3 532.7 L323.3 532.7 L320.9 532.1 L320.9 532.1 L318.6 531.4 L318.6 531.4 L316.4 530.7 L316.4 530.7 L314.1 529.9 L314.1 529.9 L311.8 529.1 L311.8 529.1 L309.6 528.3 L309.6 528.3 L307.3 527.4 L307.3 527.4 L305.1 526.5 L305.1 526.5 L302.9 525.5 L302.9 525.5 L300.7 524.5 L299.7 526.8 L297.5 525.7 L297.5 525.7 L295.3 524.6 L295.3 524.6 L293.1 523.5 L293.1 523.5 L291 522.3 L291 522.3 L288.9 521.1 L288.9 521.1 L286.7 519.9 L285.5 522 L283.3 520.7 L283.3 520.7 L281.2 519.4 L281.2 519.4 L279.2 518 L279.2 518 L277.1 516.6 L275.7 518.7 L273.6 517.2 L273.6 517.2 L271.6 515.7 L271.6 515.7 L269.6 514.2 L269.6 514.2 L267.6 512.6 L267.6 512.6 L265.6 511 L265.6 511 L263.7 509.3 L263.7 509.3 L261.8 507.7 L261.8 507.7 L260 505.9 L260 505.9 L258.1 504.2 L258.1 504.2 L256.3 502.4 L256.3 502.4 L254.5 500.6 L254.5 500.6 L252.8 498.8 L252.8 498.8 L251.1 496.9 L251.1 496.9 L249.4 495 L249.4 495 L247.8 493.1 L247.8 493.1 L246.2 491.2 L246.2 491.2 L244.6 489.2 L244.6 489.2 L243 487.2 L243 487.2 L241.5 485.1 L241.5 485.1 L240.1 483.1 L240.1 483.1 L238.6 481 L238.6 481 L237.2 478.9 L237.2 478.9 L235.9 476.7 L235.9 476.7 L234.6 474.6 L234.6 474.6 L233.3 472.4 L233.3 472.4 L232 470.2 L232 470.2 L230.8 468 L230.8 468 L229.7 465.7 L229.7 465.7 L228.5 463.5 L228.5 463.5 L227.4 461.2 L227.4 461.2 L226.4 458.9 L226.4 458.9 L225.4 456.6 L225.4 456.6 L224.4 454.2 L224.4 454.2 L223.5 451.9 L223.5 451.9 L222.6 449.5 L222.6 449.5 L221.7 447.1 L221.7 447.1 L220.9 444.7 L220.9 444.7 L220.2 442.3 L220.2 442.3 L219.5 439.9 L219.5 439.9 L218.8 437.4 L218.8 437.4 L218.2 435 L218.2 435 L217.6 432.5 L217.6 432.5 L217 430 L217 430 L216.5 427.6 L216.5 427.6 L216.1 425.1 L216.1 425.1 L215.6 422.6 L215.6 422.6 L215.3 420.1 L215.3 420.1 L214.9 417.6 L214.9 417.6 L214.6 415.1 L214.6 415.1 L214.4 412.5 L214.4 412.5 L214.2 410 L214.2 410 L214 407.5 L214 407.5 L213.9 405 L213.9 405 L213.9 402.4 L213.9 402.4 L213.9 399.9Z" fill="#b92300"/>
<path d="M216.4 399.9 L216.4 397.4 L216.4 397.4 L216.4 394.9 L216.4 394.9 L216.5 392.4 L216.5 392.4 L216.7 390 L216.7 390 L216.9 387.5 L216.9 387.5 L217.1 385 L217.1 385 L217.4 382.5 L217.4 382.5 L217.7 380.1 L217.7 380.1 L218.1 377.6 L218.1 377.6 L218.5 375.2 L218.5 375.2 L219 372.7 L219 372.7 L219.5 370.3 L219.5 370.3 L220 367.8 L220 367.8 L220.6 365.4 L220.6 365.4 L221.2 363 L221.2 363 L221.9 360.6 L221.9 360.6 L222.6 358.2 L222.6 358.2 L223.3 355.9 L223.3 355.9 L224.1 353.5 L224.1 353.5 L224.9 351.2 L224.9 351.2 L225.8 348.8 L225.8 348.8 L226.7 346.5 L226.7 346.5 L227.7 344.2 L227.7 344.2 L228.7 341.9 L228.7 341.9 L229.7 339.7 L229.7 339.7 L230.8 337.4 L230.8 337.4 L231.9 335.2 L231.9 335.2 L233 333 L233 333 L234.2 330.8 L234.2 330.8 L235.4 328.6 L235.4 328.6 L236.7 326.5 L236.7 326.5 L238 324.4 L238 324.4 L239.3 322.3 L239.3 322.3 L240.7 320.2 L240.7 320.2 L242.1 318.2 L242.1 318.2 L243.6 316.1 L243.6 316.1 L245 314.1 L245 314.1 L246.6 312.2 L246.6 312.2 L248.1 310.2 L248.1 310.2 L249.7 308.3 L249.7 308.3 L251.3 306.4 L251.3 306.4 L253 304.5 L253 304.5 L254.6 302.7 L254.6 302.7 L256.3 300.9 L256.3 300.9 L258.1 299.1 L258.1 299.1 L259.9 297.4 L259.9 297.4 L261.7 295.7 L261.7 295.7 L263.5 294 L263.5 294 L265.4 292.4 L265.4 292.4 L267.3 290.7 L267.3 290.7 L269.2 289.2 L269.2 289.2 L271.1 287.6 L271.1 287.6 L273.1 286.1 L271.6 284.1 L273.6 282.6 L273.6 282.6 L275.7 281.1 L275.7 281.1 L277.8 279.7 L277.8 279.7 L279.9 278.3 L279.9 278.3 L282 276.9 L282 276.9 L284.2 275.6 L284.2 275.6 L286.4 274.3 L287.6 276.5 L289.8 275.3 L289.8 275.3 L292 274.1 L292 274.1 L294.2 272.9 L295.3 275.2 L297.5 274.1 L298.6 276.3 L300.7 275.3 L300.7 275.3 L302.9 274.3 L302.9 274.3 L305.1 273.3 L306.1 275.6 L308.3 274.7 L308.3 274.7 L310.5 273.9 L310.5 273.9 L312.7 273 L312.7 273 L314.9 272.3 L314.1 269.9 L316.4 269.1 L316.4 269.1 L318.6 268.4 L318.6 268.4 L320.9 267.7 L320.9 267.7 L323.3 267.1 L323.9 269.5 L326.2 268.9 L326.2 268.9 L328.5 268.4 L328.5 268.4 L330.8 267.9 L330.8 267.9 L333.1 267.4 L332.6 264.9 L335 264.5 L335.4 267 L337.7 266.6 L337.7 266.6 L340.1 266.2 L340.1 266.2 L342.4 265.9 L342.7 268.4 L345 268.1 L345 268.1 L347.3 267.9 L347.3 267.9 L349.6 267.7 L349.6 267.7 L351.9 267.6 L351.9 267.6 L354.2 267.5 L354.2 267.5 L356.5 267.4 L356.5 267.4 L358.9 267.4 L358.9 267.4 L361.2 267.4 L361.2 267.4 L363.5 267.5 L363.5 267.5 L365.8 267.6 L365.9 265.1 L368.3 265.2 L368.3 265.2 L370.6 265.4 L370.6 265.4 L373 265.6 L373 265.6 L375.3 265.9 L375.6 263.4 L378 263.7 L378 263.7 L380.4 264.1 L380.4 264.1 L382.7 264.5 L382.7 264.5 L385.1 264.9 L384.6 267.4 L386.9 267.9 L386.9 267.9 L389.2 268.4 L388.7 270.8 L390.9 271.3 L390.9 271.3 L393.1 271.9 L392.5 274.3 L394.7 274.9 L394.7 274.9 L396.9 275.6 L396.9 275.6 L399 276.3 L399 276.3 L401.2 277 L401.2 277 L403.3 277.7 L403.3 277.7 L405.4 278.5 L405.4 278.5 L407.5 279.4 L407.5 279.4 L409.6 280.2 L409.6 280.2 L411.7 281.1 L411.7 281.1 L413.8 282.1 L413.8 282.1 L415.8 283.1 L415.8 283.1 L417.9 284.1 L417.9 284.1 L419.9 285.1 L419.9 285.1 L421.9 286.2 L423.1 284 L425.1 285.2 L425.1 285.2 L427.1 286.3 L427.1 286.3 L429.1 287.5 L429.1 287.5 L431 288.8 L431 288.8 L432.9 290.1 L432.9 290.1 L434.8 291.4 L434.8 291.4 L436.7 292.7 L436.7 292.7 L438.6 294.1 L440.1 292.1 L442 293.5 L442 293.5 L443.8 295 L443.8 295 L445.6 296.5 L445.6 296.5 L447.4 298 L447.4 298 L449.2 299.6 L449.2 299.6 L450.9 301.2 L450.9 301.2 L452.6 302.8 L452.6 302.8 L454.3 304.4 L454.3 304.4 L456 306.1 L456 306.1 L457.6 307.8 L459.4 306.1 L461 307.9 L461 307.9 L462.6 309.7 L462.6 309.7 L464.2 311.5 L464.2 311.5 L465.7 313.4 L465.7 313.4 L467.2 315.2 L467.2 315.2 L468.7 317.2 L470.7 315.6 L472.1 317.6 L472.1 317.6 L473.5 319.6 L473.5 319.6 L474.9 321.6 L474.9 321.6 L476.3 323.7 L478.4 322.3 L479.7 324.4 L479.7 324.4 L481 326.5 L481 326.5 L482.3 328.6 L482.3 328.6 L483.5 330.8 L485.7 329.6 L486.9 331.8 L486.9 331.8 L488 334.1 L488 334.1 L489.2 336.3 L489.2 336.3 L490.3 338.6 L490.3 338.6 L491.3 340.9 L491.3 340.9 L492.3 343.2 L494.6 342.3 L495.6 344.6 L495.6 344.6 L496.6 347 L496.6 347 L497.5 349.5 L497.5 349.5 L498.3 351.9 L498.3 351.9 L499.1 354.3 L499.1 354.3 L499.9 356.8 L499.9 356.8 L500.6 359.2 L500.6 359.2 L501.3 361.7 L501.3 361.7 L502 364.2 L502 364.2 L502.6 366.7 L502.6 366.7 L503.1 369.2 L503.1 369.2 L503.6 371.8 L506.1 371.3 L506.6 373.9 L506.6 373.9 L507 376.4 L507 376.4 L507.4 379 L507.4 379 L507.7 381.6 L510.2 381.3 L510.5 384 L510.5 384 L510.8 386.6 L510.8 386.6 L511 389.3 L511 389.3 L511.1 391.9 L513.6 391.8 L513.8 394.5 L513.8 394.5 L513.8 397.2 L516.3 397.2 L516.4 399.9 L516.4 399.9 L516.3 402.6 L516.3 402.6 L516.3 405.4 L516.3 405.4 L516.1 408.1 L518.6 408.3 L518.5 411.1 L518.5 411.1 L518.2 413.8 L518.2 413.8 L518 416.6 L518 416.6 L517.7 419.4 L517.7 419.4 L517.3 422.2 L517.3 422.2 L516.9 424.9 L516.9 424.9 L516.4 427.7 L516.4 427.7 L515.9 430.4 L515.9 430.4 L515.4 433.2 L515.4 433.2 L514.7 435.9 L514.7 435.9 L514.1 438.6 L514.1 438.6 L513.4 441.3 L513.4 441.3 L512.7 444 L512.7 444 L511.9 446.7 L509.5 445.9 L508.6 448.6 L508.6 448.6 L507.8 451.2 L507.8 451.2 L506.9 453.8 L506.9 453.8 L505.9 456.3 L505.9 456.3 L504.9 458.9 L504.9 458.9 L503.8 461.4 L503.8 461.4 L502.7 464 L502.7 464 L501.6 466.5 L501.6 466.5 L500.4 468.9 L500.4 468.9 L499.2 471.4 L497 470.3 L495.7 472.7 L495.7 472.7 L494.4 475 L492.2 473.8 L490.9 476.1 L490.9 476.1 L489.6 478.4 L487.4 477.2 L486.1 479.4 L486.1 479.4 L484.7 481.6 L482.6 480.2 L481.1 482.4 L481.1 482.4 L479.7 484.5 L479.7 484.5 L478.2 486.6 L478.2 486.6 L476.6 488.7 L476.6 488.7 L475.1 490.7 L475.1 490.7 L473.5 492.7 L473.5 492.7 L471.8 494.7 L471.8 494.7 L470.2 496.7 L468.3 495 L466.6 496.9 L466.6 496.9 L464.9 498.8 L466.7 500.5 L465 502.4 L465 502.4 L463.1 504.2 L463.1 504.2 L461.3 506 L461.3 506 L459.4 507.8 L459.4 507.8 L457.5 509.5 L457.5 509.5 L455.6 511.2 L455.6 511.2 L453.7 512.9 L453.7 512.9 L451.7 514.5 L453.2 516.5 L451.2 518.1 L451.2 518.1 L449.1 519.7 L449.1 519.7 L447 521.3 L447 521.3 L444.9 522.8 L444.9 522.8 L442.7 524.3 L442.7 524.3 L440.5 525.7 L440.5 525.7 L438.3 527.1 L438.3 527.1 L436.1 528.5 L436.1 528.5 L433.9 529.8 L433.9 529.8 L431.6 531.1 L431.6 531.1 L429.3 532.3 L429.3 532.3 L426.9 533.6 L426.9 533.6 L424.6 534.7 L424.6 534.7 L422.2 535.8 L422.2 535.8 L419.9 536.9 L419.9 536.9 L417.5 538 L417.5 538 L415 539 L415 539 L412.6 539.9 L412.6 539.9 L410.2 540.9 L410.2 540.9 L407.7 541.7 L407.7 541.7 L405.2 542.6 L405.2 542.6 L402.7 543.3 L402 541 L399.5 541.7 L398.8 539.3 L396.4 540 L396.4 540 L393.9 540.6 L393.9 540.6 L391.5 541.2 L390.3 536.3 L388 536.8 L388 536.8 L385.6 537.3 L385.1 534.9 L382.7 535.3 L382.7 535.3 L380.4 535.7 L380 533.2 L377.6 533.6 L377.6 533.6 L375.3 533.9 L375 531.4 L372.7 531.7 L372.7 531.7 L370.4 531.9 L370.2 529.4 L367.9 529.6 L367.9 529.6 L365.7 529.7 L365.7 529.7 L363.4 529.8 L363.4 529.8 L361.1 529.9 L361.1 529.9 L358.9 529.9 L358.9 529.9 L356.6 529.9 L356.6 529.9 L354.3 529.8 L354.3 529.8 L352 529.7 L352 529.7 L349.8 529.6 L349.8 529.6 L347.5 529.4 L347.5 529.4 L345.3 529.2 L345.3 529.2 L343 528.9 L343 528.9 L340.8 528.6 L340.8 528.6 L338.5 528.3 L338.1 530.8 L335.8 530.4 L335.8 530.4 L333.6 530 L333.1 532.4 L330.8 531.9 L330.8 531.9 L328.5 531.4 L328.5 531.4 L326.2 530.9 L326.2 530.9 L323.9 530.3 L323.9 530.3 L321.6 529.7 L321.6 529.7 L319.4 529 L319.4 529 L317.1 528.3 L317.1 528.3 L314.9 527.5 L314.9 527.5 L312.7 526.8 L312.7 526.8 L310.5 525.9 L310.5 525.9 L308.3 525.1 L308.3 525.1 L306.1 524.2 L306.1 524.2 L303.9 523.2 L303.9 523.2 L301.8 522.3 L300.7 524.5 L298.6 523.5 L298.6 523.5 L296.4 522.4 L295.3 524.6 L293.1 523.5 L293.1 523.5 L291 522.3 L291 522.3 L288.9 521.1 L288.9 521.1 L286.7 519.9 L286.7 519.9 L284.7 518.6 L284.7 518.6 L282.6 517.3 L282.6 517.3 L280.6 516 L280.6 516 L278.5 514.6 L278.5 514.6 L276.6 513.2 L276.6 513.2 L274.6 511.7 L274.6 511.7 L272.7 510.2 L272.7 510.2 L270.7 508.7 L270.7 508.7 L268.9 507.1 L268.9 507.1 L267 505.6 L267 505.6 L265.2 503.9 L265.2 503.9 L263.4 502.3 L263.4 502.3 L261.6 500.6 L261.6 500.6 L259.9 498.9 L259.9 498.9 L258.1 497.2 L258.1 497.2 L256.5 495.4 L256.5 495.4 L254.8 493.6 L254.8 493.6 L253.2 491.7 L253.2 491.7 L251.6 489.9 L251.6 489.9 L250 488 L248.1 489.6 L246.6 487.6 L246.6 487.6 L245 485.7 L245 485.7 L243.6 483.7 L243.6 483.7 L242.1 481.6 L242.1 481.6 L240.7 479.6 L240.7 479.6 L239.3 477.5 L239.3 477.5 L238 475.4 L238 475.4 L236.7 473.3 L236.7 473.3 L235.4 471.1 L235.4 471.1 L234.2 469 L234.2 469 L233 466.8 L233 466.8 L231.9 464.6 L231.9 464.6 L230.8 462.4 L230.8 462.4 L229.7 460.1 L229.7 460.1 L228.7 457.9 L228.7 457.9 L227.7 455.6 L227.7 455.6 L226.7 453.3 L226.7 453.3 L225.8 451 L225.8 451 L224.9 448.6 L224.9 448.6 L224.1 446.3 L224.1 446.3 L223.3 443.9 L223.3 443.9 L222.6 441.6 L222.6 441.6 L221.9 439.2 L221.9 439.2 L221.2 436.8 L221.2 436.8 L220.6 434.4 L220.6 434.4 L220 432 L220 432 L219.5 429.5 L219.5 429.5 L219 427.1 L219 427.1 L218.5 424.6 L218.5 424.6 L218.1 422.2 L218.1 422.2 L217.7 419.7 L217.7 419.7 L217.4 417.3 L217.4 417.3 L217.1 414.8 L217.1 414.8 L216.9 412.3 L216.9 412.3 L216.7 409.8 L216.7 409.8 L216.5 407.4 L216.5 407.4 L216.4 404.9 L216.4 404.9 L216.4 402.4 L216.4 402.4 L216.4 399.9Z" fill="#8b0000"/>
<rect x="149.7" y="285.6" width="226.2" height="225.2" fill="#fff"/>
<rect x="149.7" y="515" width="418.3" height="2.1" fill="#fff"/>
<rect x="149.7" y="521" width="418.3" height="2.1" fill="#fff"/>
<rect x="149.7" y="560.8" width="418.3" height="4.1" fill="#fff"/>
<path d="M316.3 352.3 L318.5 347.9 L319.3 340.9 L320.8 333.9 L322.3 326.9 L324.1 321.9 L323.1 318.9 L325.3 314 L328.3 309 L331.3 305 L335.2 302.5 L337.7 300 L337.7 297 L335.7 294.5 L338.7 292.5 L342.7 296 L344.7 294.5 L344 290.5 L347.7 291.5 L351.7 290.8 L353.4 287 L355.7 287 L356.2 290.5 L358.7 293 L362.2 291 L366.1 287.5 L370.1 286 L374.1 285.1 L380.1 286.5 L386.1 288.5 L392.1 290.5 L397 293 L402 296 L408 297 L415 298.5 L421 299 L425 300 L426.3 297.5 L428.3 297 L429.3 300.5 L430.3 306 L431.3 309 L435.7 306.5 L440.2 305.5 L445.2 306.2 L449.2 308.5 L453.2 311 L457.2 314 L457.7 317 L460.2 316.5 L463.2 314 L467.1 313.5 L470.6 315 L473.1 319 L473.9 323 L473.1 325.5 L470.9 325 L471.6 329.9 L473.1 334.9 L475.1 339.9 L477.1 344.9 L478.3 349.9 L479.6 353.9 L477.1 355.9 L474.1 356.4 L473.1 358.4 L469.6 358.9 L467.1 360.3 L465.1 362.3 L466.1 364.3 L469.1 363.8 L470.9 366.8 L471.6 369.8 L475.1 372.3 L478.1 374.3 L482.1 374.8 L484.1 377.8 L487.1 381.8 L490.1 383.8 L492.1 388.8 L493.6 393.7 L494.6 399.7 L494 399.1 L495.5 405.1 L494.5 412.1 L493 419 L494 425 L496 430 L494 435 L490 439 L486.1 443 L487 447 L488.5 450.9 L488 455.9 L485.1 458.4 L480.1 460.9 L476.1 464.9 L474.6 468.9 L474.6 472.9 L470.6 474.9 L470.1 478.9 L468.6 482.3 L464.1 482.8 L460.9 484.8 L462.6 487.8 L463.6 490.8 L460.1 494.8 L456.1 498.8 L451.2 501.8 L446.2 503.8 L442.2 506.3 L439.2 507.8 L435.2 506.8 L432.7 508.3 L427.2 506.3 L424.2 507.3 L418.3 509.3 L413.3 511.7 L409.3 509.8 L409.9 509.8 L406.9 512.2 L400.9 512.2 L396 510.8 L394.5 506.3 L393 506.3 L392 508.8 L386 509.3 L382 507.3 L377.5 506.3 L375.5 503.8 L376 498.8 L378 495.3 L380.5 493.3 L380 488.8 L382 484.8 L383.8 480.8 L383 476.9 L381 471.9 L378.5 466.9 L375.3 464.9 L379 461.9 L380.3 458.9 L378.5 453.9 L376 447.9 L372 443 L367 438.5 L364.1 437 L360.1 436.8 L357.6 434 L355.1 431 L352.1 429 L350.1 424.5 L346.1 422.5 L343.6 422.2 L342.3 425 L343.6 431 L341.6 436 L339.1 442 L337.1 445 L334.2 445.2 L330.2 443.8 L328.2 444.5 L329.2 448.9 L331.2 454.9 L333.2 460.9 L331.2 461.4 L332.2 464.9 L331.7 467.9 L329.7 468.4 L327.2 466.9 L325.7 462.9 L324.3 460.3 L320.9 459.8 L317.4 460.8 L315.4 463.8 L313.9 467.8 L309.9 465.8 L307 463.8 L304 463.3 L299 462.3 L295.5 461.8 L295 457.8 L295.5 452.8 L295 448.9 L292 448.9 L288 450.3 L282 451.3 L279 453.3 L277 452.3 L278.5 449.8 L279 446.4 L276.1 445.9 L274.6 442.4 L277 441.9 L280.5 440.9 L282.2 437.9 L281.5 433.9 L279 430.9 L276.1 431.4 L273.6 432.9 L271.1 430.9 L273.1 428.9 L276.1 427.9 L277 424.9 L275.1 421.9 L273.6 418.9 L272.6 415 L270.1 416 L265.1 417.9 L262.1 417 L262.6 414 L265.1 413 L265.6 410.2 L262.1 410 L260.1 412 L258.1 416 L256.1 419.9 L255.1 416 L254.1 413 L255.1 410.5 L257.6 410 L258.1 407.1 L259.6 400.7 L260.6 394.7 L261.3 389.8 L261.6 384.8 L263.9 380.8 L259.6 378.8 L262.1 375.3 L265.1 374.3 L267.3 372.8 L267.9 364.8 L266.1 361.3 L262.1 358.9 L256.1 357.4 L251.2 356.9 L248.2 355.9 L247.2 352.4 L244.2 350.4 L240.7 349.4 L238.2 350.4 L237.2 353.7 L234.2 352.4 L233.2 348.9 L236.2 348.9 L238.2 347.9 L235.2 346.9 L233.2 343.9 L231.7 340.9 L230.2 336.9 L227.7 332.9 L226.7 328.9 L226.2 324 L226.7 319 L227.4 315 L228.2 311 L231.7 311 L230 316 L231.2 317.5 L233 319.5 L230.2 322 L230.7 326 L231.7 330.4 L233.7 333.4 L236.2 336.4 L237.2 338.9 L239.2 342.9 L241.2 345.4 L245.2 346.9 L247.7 346.1 L250.2 344.9 L256.1 345.4 L262.1 346.9 L266.1 348.4 L270.1 350.4 L275.1 351.4 L276.1 353.4 L280.1 356.4 L283.1 360.3 L286.1 363.8 L288 367.8 L289.5 371.3 L291 369.3 L293 364.8 L296 361.3 L300 359.8 L306 357.9 L312 355.4 L317 350.9 L318.4 347.9Z" fill="#fff"/>
<path d="M326.2 444.5 L342.1 419 L366.1 429 L382 448.9 L386 480.8 L382 493.3 L375.5 503.8 L356.1 498.8 L331.7 467.9Z" fill="#fff"/>
<path d="M184 287L193.3 287L194 281L198 275L202 269L206 263.5L203.5 262.5L190 275Z" fill="#fff"/>
<path d="M230.8 326.9 L323.4 326.9 L322 351.9 L316.4 351.9 L316.4 348.4 L312.9 348.4 L312.9 350.5 L309.3 352.1 L304.4 352.1 L304.4 354.4 L298.8 354.4 L298.8 352.6 L295.3 352.6 L295.3 355.4 L291.1 355.4 L288.3 355.4 L287.6 357.5 L284.1 358.2 L278.5 354 L272.9 350.5 L265.9 347.7 L258.9 344.9 L251.9 343.5 L249.1 342.1 L249.1 340 L244.9 337.1 L242.1 333.6 L237.9 330.1 L235 328Z" fill="#8b0000"/>
<linearGradient id="gl1" x1="0" x2="1" y1="0" y2="0"><stop offset="0" stop-color="#1950ff"/><stop offset="0.08" stop-color="#82aaff"/><stop offset="0.14" stop-color="#ffe8d7"/><stop offset="0.22" stop-color="#ff7846"/><stop offset="0.3" stop-color="#e63200"/><stop offset="0.4" stop-color="#8b0000"/><stop offset="1" stop-color="#8b0000"/></linearGradient>
<rect x="203.2" y="425.1" width="74" height="1.9" fill="url(#gl1)"/>
<path d="M311.4 470.7 L311.4 468.9 L317.8 466.8 L336 466.8 L336 461.2 L345.1 461.2 L345.1 466.8 L380 466.8 L380 470.7Z" fill="#8b0000"/>
<rect x="268.1" y="419.2" width="7.5" height="1.8" fill="#8b0000"/>
<rect x="295.4" y="459.1" width="3.5" height="1.5" fill="#8b0000"/>
</g>
<path d="M316.3 352.3 L318.5 347.9 L319.3 340.9 L320.8 333.9 L322.3 326.9 L324.1 321.9 L323.1 318.9 L325.3 314 L328.3 309 L331.3 305 L335.2 302.5 L337.7 300 L337.7 297 L335.7 294.5 L338.7 292.5 L342.7 296 L344.7 294.5 L344 290.5 L347.7 291.5 L351.7 290.8 L353.4 287 L355.7 287 L356.2 290.5 L358.7 293 L362.2 291 L366.1 287.5 L370.1 286 L374.1 285.1 L380.1 286.5 L386.1 288.5 L392.1 290.5 L397 293 L402 296 L408 297 L415 298.5 L421 299 L425 300 L426.3 297.5 L428.3 297 L429.3 300.5 L430.3 306 L431.3 309 L435.7 306.5 L440.2 305.5 L445.2 306.2 L449.2 308.5 L453.2 311 L457.2 314 L457.7 317 L460.2 316.5 L463.2 314 L467.1 313.5 L470.6 315 L473.1 319 L473.9 323 L473.1 325.5 L470.9 325 L471.6 329.9 L473.1 334.9 L475.1 339.9 L477.1 344.9 L478.3 349.9 L479.6 353.9 L477.1 355.9 L474.1 356.4 L473.1 358.4 L469.6 358.9 L467.1 360.3 L465.1 362.3 L466.1 364.3 L469.1 363.8 L470.9 366.8 L471.6 369.8 L475.1 372.3 L478.1 374.3 L482.1 374.8 L484.1 377.8 L487.1 381.8 L490.1 383.8 L492.1 388.8 L493.6 393.7 L494.6 399.7 L494 399.1 L495.5 405.1 L494.5 412.1 L493 419 L494 425 L496 430 L494 435 L490 439 L486.1 443 L487 447 L488.5 450.9 L488 455.9 L485.1 458.4 L480.1 460.9 L476.1 464.9 L474.6 468.9 L474.6 472.9 L470.6 474.9 L470.1 478.9 L468.6 482.3 L464.1 482.8 L460.9 484.8 L462.6 487.8 L463.6 490.8 L460.1 494.8 L456.1 498.8 L451.2 501.8 L446.2 503.8 L442.2 506.3 L439.2 507.8 L435.2 506.8 L432.7 508.3 L427.2 506.3 L424.2 507.3 L418.3 509.3 L413.3 511.7 L409.3 509.8 L409.9 509.8 L406.9 512.2 L400.9 512.2 L396 510.8 L394.5 506.3 L393 506.3 L392 508.8 L386 509.3 L382 507.3 L377.5 506.3 L375.5 503.8 L376 498.8 L378 495.3 L380.5 493.3 L380 488.8 L382 484.8 L383.8 480.8 L383 476.9 L381 471.9 L378.5 466.9 L375.3 464.9 L379 461.9 L380.3 458.9 L378.5 453.9 L376 447.9 L372 443 L367 438.5 L364.1 437 L360.1 436.8 L357.6 434 L355.1 431 L352.1 429 L350.1 424.5 L346.1 422.5 L343.6 422.2 L342.3 425 L343.6 431 L341.6 436 L339.1 442 L337.1 445 L334.2 445.2 L330.2 443.8 L328.2 444.5 L329.2 448.9 L331.2 454.9 L333.2 460.9 L331.2 461.4 L332.2 464.9 L331.7 467.9 L329.7 468.4 L327.2 466.9 L325.7 462.9 L324.3 460.3 L320.9 459.8 L317.4 460.8 L315.4 463.8 L313.9 467.8 L309.9 465.8 L307 463.8 L304 463.3 L299 462.3 L295.5 461.8 L295 457.8 L295.5 452.8 L295 448.9 L292 448.9 L288 450.3 L282 451.3 L279 453.3 L277 452.3 L278.5 449.8 L279 446.4 L276.1 445.9 L274.6 442.4 L277 441.9 L280.5 440.9 L282.2 437.9 L281.5 433.9 L279 430.9 L276.1 431.4 L273.6 432.9 L271.1 430.9 L273.1 428.9 L276.1 427.9 L277 424.9 L275.1 421.9 L273.6 418.9 L272.6 415 L270.1 416 L265.1 417.9 L262.1 417 L262.6 414 L265.1 413 L265.6 410.2 L262.1 410 L260.1 412 L258.1 416 L256.1 419.9 L255.1 416 L254.1 413 L255.1 410.5 L257.6 410 L258.1 407.1 L259.6 400.7 L260.6 394.7 L261.3 389.8 L261.6 384.8 L263.9 380.8 L259.6 378.8 L262.1 375.3 L265.1 374.3 L267.3 372.8 L267.9 364.8 L266.1 361.3 L262.1 358.9 L256.1 357.4 L251.2 356.9 L248.2 355.9 L247.2 352.4 L244.2 350.4 L240.7 349.4 L238.2 350.4 L237.2 353.7 L234.2 352.4 L233.2 348.9 L236.2 348.9 L238.2 347.9 L235.2 346.9 L233.2 343.9 L231.7 340.9 L230.2 336.9 L227.7 332.9 L226.7 328.9 L226.2 324 L226.7 319 L227.4 315 L228.2 311 L231.7 311 L230 316 L231.2 317.5 L233 319.5 L230.2 322 L230.7 326 L231.7 330.4 L233.7 333.4 L236.2 336.4 L237.2 338.9 L239.2 342.9 L241.2 345.4 L245.2 346.9 L247.7 346.1 L250.2 344.9 L256.1 345.4 L262.1 346.9 L266.1 348.4 L270.1 350.4 L275.1 351.4 L276.1 353.4 L280.1 356.4 L283.1 360.3 L286.1 363.8 L288 367.8 L289.5 371.3 L291 369.3 L293 364.8 L296 361.3 L300 359.8 L306 357.9 L312 355.4 L317 350.9 L318.4 347.9Z" fill="none" stroke="#000" stroke-width="1.75" stroke-linejoin="round"/>
<path d="M243.2 358.9 L254.2 358.9 L262.1 360.8 L265.1 363.8 L264.1 368.8 L260.1 370.8 L254.2 375.3 L251.7 373.3 L253.2 365.8 L252.2 363.3 L244.2 361.3 L243.2 358.9Z" fill="none" stroke="#000" stroke-width="1.75" stroke-linejoin="round"/>
<path d="M337.9 457.4 L338.6 454.4 L340.6 453.4 L342.1 455.4 L341.9 459.9 L340.1 461.9 L338.3 460.9 L337.9 457.4Z" fill="none" stroke="#000" stroke-width="1.75" stroke-linejoin="round"/>
<circle cx="247.7" cy="369.8" r="1.6" fill="none" stroke="#000" stroke-width="1.2"/>
<path d="M219.7 312.1 l-0.7 10" stroke="#000" stroke-width="2" fill="none"/>
<path d="M224.4 333.9 l2 -3 l1.5 2 l-2 4z" stroke="#000" stroke-width="1" fill="none"/>
<path d="M168.7 314 L169.3 318.7 L169.6 321.2 L171.2 324 L168.7 324.9 L168.4 328 L165.6 329.3 L163.4 333.6" fill="none" stroke="#000" stroke-width="1.5"/>
<path d="M233.6 279.7 l4 -1.6 l-1.6 3.2z" fill="#000"/>
<path d="M373.1 470.2 l3 -1 l0.3 2 l-3 0.3z" fill="#000"/>
<path d="M317.4 466.4 l2.5 -0.8 l-0.5 1.8z" fill="#000"/>
<path d="M260.4 414.4 q1.5 -2 3 -0.5 q1 1.5 -0.5 2.5" fill="none" stroke="#000" stroke-width="1.3"/>
<circle cx="358.9" cy="399.9" r="207.15" fill="none" stroke="#000" stroke-width="1.3"/>
<g clip-path="url(#cc2)">
<path d="M718.1 399.9 L718.4 389 L718.4 389 L719.2 378.1 L719.2 378.1 L720.7 367.3 L720.7 367.3 L722.6 356.6 L722.6 356.6 L725.2 346 L725.2 346 L728.3 335.6 L728.3 335.6 L731.9 325.3 L731.9 325.3 L736.1 315.2 L736.1 315.2 L740.8 305.4 L740.8 305.4 L746 295.8 L746 295.8 L751.7 286.5 L751.7 286.5 L757.9 277.6 L757.9 277.6 L764.5 268.9 L764.5 268.9 L771.6 260.6 L771.6 260.6 L779.1 252.7 L779.1 252.7 L787 245.2 L787 245.2 L795.3 238.1 L795.3 238.1 L803.9 231.5 L803.9 231.5 L812.9 225.3 L812.9 225.3 L822.2 219.6 L822.2 219.6 L831.8 214.4 L831.8 214.4 L841.6 209.7 L841.6 209.7 L851.7 205.6 L851.7 205.6 L861.9 201.9 L861.9 201.9 L872.4 198.8 L872.4 198.8 L883 196.3 L883 196.3 L893.7 194.3 L893.7 194.3 L904.5 192.9 L904.5 192.9 L915.4 192 L915.4 192 L926.2 191.7 L926.2 191.7 L937.1 192 L937.1 192 L948 192.9 L948 192.9 L958.8 194.3 L958.8 194.3 L969.5 196.3 L969.5 196.3 L980.1 198.8 L980.1 198.8 L990.6 201.9 L990.6 201.9 L1000.8 205.6 L1000.8 205.6 L1010.9 209.7 L1010.9 209.7 L1020.7 214.4 L1020.7 214.4 L1030.3 219.6 L1030.3 219.6 L1039.6 225.3 L1039.6 225.3 L1048.6 231.5 L1048.6 231.5 L1057.2 238.1 L1057.2 238.1 L1065.5 245.2 L1065.5 245.2 L1073.4 252.7 L1073.4 252.7 L1080.9 260.6 L1068.9 271.4 L1075.5 279.1 L1075.5 279.1 L1081.6 287 L1081.6 287 L1087.3 295.3 L1087.3 295.3 L1092.5 303.9 L1096 301.9 L1100.9 310.9 L1100.9 310.9 L1105.3 320.2 L1105.3 320.2 L1109.2 329.7 L1109.2 329.7 L1112.7 339.3 L1120.3 336.9 L1123.3 347.1 L1123.3 347.1 L1125.8 357.5 L1129.7 356.7 L1131.7 367.4 L1131.7 367.4 L1133.1 378.2 L1129.1 378.6 L1130 389.2 L1126 389.4 L1126.2 399.9 L1122.2 399.9 L1122 410.2 L1122 410.2 L1121.2 420.4 L1125.2 420.8 L1123.8 431.2 L1127.7 431.8 L1125.8 442.3 L1121.9 441.5 L1119.4 451.7 L1115.6 450.6 L1112.7 460.5 L1105 458 L1101.8 467.3 L1101.8 467.3 L1098 476.4 L1094.3 474.7 L1090.2 483.4 L1090.2 483.4 L1085.6 491.9 L1085.6 491.9 L1080.6 500.1 L1080.6 500.1 L1075.1 508.1 L1071.9 505.7 L1066.1 513.2 L1066.1 513.2 L1060 520.3 L1054.1 515 L1047.9 521.5 L1047.9 521.5 L1041.3 527.7 L1041.3 527.7 L1034.5 533.6 L1034.5 533.6 L1027.3 539.1 L1032.1 545.5 L1024.3 550.9 L1026.5 554.2 L1018.2 559.2 L1018.2 559.2 L1009.8 563.8 L1009.8 563.8 L1001.1 568 L1001.1 568 L992.2 571.7 L992.2 571.7 L983.1 574.9 L981.9 571.1 L972.8 573.8 L971.8 569.9 L962.8 572.1 L962 568.1 L953.2 569.8 L953.2 569.8 L944.2 571 L944.2 571 L935.3 571.7 L935.3 571.7 L926.2 571.9 L926.2 571.9 L917.2 571.7 L917.2 571.7 L908.3 571 L908.3 571 L899.3 569.8 L898.7 573.7 L889.7 572.1 L889.7 572.1 L880.7 569.9 L880.7 569.9 L871.9 567.3 L870.6 571.1 L861.7 567.9 L860.3 571.7 L851.4 568 L851.4 568 L842.7 563.8 L842.7 563.8 L834.2 559.2 L830.2 566.2 L821.7 560.9 L819.5 564.3 L811 558.5 L811 558.5 L802.9 552.2 L802.9 552.2 L795.1 545.6 L800.5 539.6 L793.3 532.8 L796.1 530 L789.5 523 L789.5 523 L783.3 515.7 L783.3 515.7 L777.4 508.1 L774.2 510.4 L768.6 502.3 L768.6 502.3 L763.4 493.9 L760 495.9 L755.2 487.1 L755.2 487.1 L750.8 478 L747.2 479.6 L743.3 470.1 L739.5 471.6 L736 461.7 L732.2 462.9 L729.2 452.7 L729.2 452.7 L726.7 442.3 L722.8 443.1 L720.8 432.4 L720.7 432.5 L719.2 421.7 L719.2 421.7 L718.4 410.8 L718.4 410.8 L718.1 399.9Z" fill="#00008b"/>
<path d="M738.2 399.9 L738.5 390.1 L734.5 389.9 L735.3 379.8 L735.3 379.8 L736.6 369.9 L736.6 369.9 L738.4 360 L738.4 360 L740.8 350.2 L740.8 350.2 L743.6 340.6 L743.6 340.6 L747 331.1 L747 331.1 L750.8 321.8 L747.2 320.2 L751.6 310.9 L751.6 310.9 L756.5 301.9 L756.5 301.9 L761.9 293.2 L761.9 293.2 L767.7 284.7 L767.7 284.7 L773.9 276.6 L770.8 274 L777.6 266.1 L777.6 266.1 L784.8 258.5 L784.8 258.5 L792.4 251.3 L789.7 248.3 L797.9 241.4 L797.9 241.4 L806.3 234.9 L803.9 231.5 L812.9 225.3 L812.9 225.3 L822.2 219.6 L822.2 219.6 L831.8 214.4 L831.8 214.4 L841.6 209.7 L841.6 209.7 L851.7 205.6 L851.7 205.6 L861.9 201.9 L861.9 201.9 L872.4 198.8 L872.4 198.8 L883 196.3 L883 196.3 L893.7 194.3 L893.7 194.3 L904.5 192.9 L904.5 192.9 L915.4 192 L915.4 192 L926.2 191.7 L926.2 191.7 L937.1 192 L937.1 192 L948 192.9 L948 192.9 L958.8 194.3 L958.8 194.3 L969.5 196.3 L969.5 196.3 L980.1 198.8 L980.1 198.8 L990.6 201.9 L990.6 201.9 L1000.8 205.6 L1000.8 205.6 L1010.9 209.7 L1010.9 209.7 L1020.7 214.4 L1020.7 214.4 L1030.3 219.6 L1026.2 226.7 L1035.2 232.2 L1035.2 232.2 L1043.8 238.1 L1046.2 234.9 L1054.6 241.4 L1054.6 241.4 L1062.8 248.3 L1062.8 248.3 L1070.5 255.7 L1070.5 255.7 L1077.9 263.4 L1068.9 271.4 L1075.5 279.1 L1075.5 279.1 L1081.6 287 L1081.6 287 L1087.3 295.3 L1087.3 295.3 L1092.5 303.9 L1096 301.9 L1100.9 310.9 L1100.9 310.9 L1105.3 320.2 L1105.3 320.2 L1109.2 329.7 L1109.2 329.7 L1112.7 339.3 L1120.3 336.9 L1123.3 347.1 L1123.3 347.1 L1125.8 357.5 L1129.7 356.7 L1131.7 367.4 L1127.7 368 L1129.1 378.6 L1125.2 379 L1126 389.4 L1126 389.4 L1126.2 399.9 L1122.2 399.9 L1122 410.2 L1122 410.2 L1121.2 420.4 L1121.2 420.4 L1119.8 430.6 L1123.8 431.2 L1121.9 441.5 L1121.9 441.5 L1119.4 451.7 L1115.6 450.6 L1112.7 460.5 L1105 458 L1101.8 467.3 L1101.8 467.3 L1098 476.4 L1094.3 474.7 L1090.2 483.4 L1090.2 483.4 L1085.6 491.9 L1085.6 491.9 L1080.6 500.1 L1080.6 500.1 L1075.1 508.1 L1071.9 505.7 L1066.1 513.2 L1063 510.7 L1057 517.7 L1054.1 515 L1047.9 521.5 L1047.9 521.5 L1041.3 527.7 L1041.3 527.7 L1034.5 533.6 L1034.5 533.6 L1027.3 539.1 L1032.1 545.5 L1024.3 550.9 L1026.5 554.2 L1018.2 559.2 L1018.2 559.2 L1009.8 563.8 L1009.8 563.8 L1001.1 568 L999.5 564.3 L990.8 567.9 L989.3 564.2 L980.6 567.3 L980.6 567.3 L971.8 569.9 L970.8 566 L962 568.1 L962 568.1 L953.2 569.8 L953.2 569.8 L944.2 571 L944.2 571 L935.3 571.7 L935.3 571.7 L926.2 571.9 L926.2 571.9 L917.2 571.7 L917.2 571.7 L908.3 571 L908.3 571 L899.3 569.8 L898.7 573.7 L889.7 572.1 L889.7 572.1 L880.7 569.9 L880.7 569.9 L871.9 567.3 L871.9 567.3 L863.2 564.2 L861.7 567.9 L853 564.3 L853 564.3 L844.5 560.3 L844.5 560.3 L836.2 555.8 L834.2 559.2 L826 554.2 L823.9 557.6 L815.7 552 L815.7 552 L807.9 546 L807.9 546 L800.5 539.6 L805.8 533.7 L799 527.2 L801.8 524.4 L795.5 517.7 L795.5 517.7 L789.5 510.7 L789.5 510.7 L783.9 503.4 L783.9 503.4 L778.6 495.8 L778.6 495.8 L773.8 487.9 L770.4 489.9 L765.9 481.6 L765.9 481.6 L761.8 473.1 L761.8 473.1 L758.2 464.4 L754.5 465.8 L751.3 456.8 L751.3 456.8 L748.5 447.5 L748.5 447.5 L746.3 438.2 L742.4 439 L740.6 429.3 L740.6 429.3 L739.3 419.6 L739.3 419.6 L738.5 409.7 L738.5 409.7 L738.2 399.9Z" fill="#0019b4"/>
<path d="M746.2 399.9 L746.5 390.5 L746.5 390.5 L747.2 381.1 L743.3 380.7 L744.5 371.1 L744.5 371.1 L746.3 361.6 L746.3 361.6 L748.5 352.3 L748.5 352.3 L751.3 343 L747.5 341.8 L750.7 332.5 L750.7 332.5 L754.5 323.4 L754.5 323.4 L758.7 314.5 L758.7 314.5 L763.4 305.9 L763.4 305.9 L768.6 297.5 L768.6 297.5 L774.2 289.4 L770.9 287 L777 279.1 L777 279.1 L783.6 271.4 L780.6 268.8 L787.7 261.3 L787.7 261.3 L795.1 254.2 L789.7 248.3 L797.9 241.4 L797.9 241.4 L806.3 234.9 L803.9 231.5 L812.9 225.3 L812.9 225.3 L822.2 219.6 L822.2 219.6 L831.8 214.4 L831.8 214.4 L841.6 209.7 L841.6 209.7 L851.7 205.6 L851.7 205.6 L861.9 201.9 L861.9 201.9 L872.4 198.8 L872.4 198.8 L883 196.3 L883 196.3 L893.7 194.3 L893.7 194.3 L904.5 192.9 L904.5 192.9 L915.4 192 L915.4 192 L926.2 191.7 L926.2 191.7 L937.1 192 L937.1 192 L948 192.9 L948 192.9 L958.8 194.3 L958.8 194.3 L969.5 196.3 L969.5 196.3 L980.1 198.8 L980.1 198.8 L990.6 201.9 L990.6 201.9 L1000.8 205.6 L1000.8 205.6 L1010.9 209.7 L1010.9 209.7 L1020.7 214.4 L1020.7 214.4 L1030.3 219.6 L1026.2 226.7 L1035.2 232.2 L1035.2 232.2 L1043.8 238.1 L1043.8 238.1 L1052.1 244.5 L1054.6 241.4 L1062.8 248.3 L1062.8 248.3 L1070.5 255.7 L1067.7 258.5 L1074.9 266.1 L1068.9 271.4 L1075.5 279.1 L1075.5 279.1 L1081.6 287 L1081.6 287 L1087.3 295.3 L1087.3 295.3 L1092.5 303.9 L1096 301.9 L1100.9 310.9 L1100.9 310.9 L1105.3 320.2 L1105.3 320.2 L1109.2 329.7 L1109.2 329.7 L1112.7 339.3 L1120.3 336.9 L1123.3 347.1 L1123.3 347.1 L1125.8 357.5 L1129.7 356.7 L1131.7 367.4 L1127.7 368 L1129.1 378.6 L1125.2 379 L1126 389.4 L1126 389.4 L1126.2 399.9 L1122.2 399.9 L1122 410.2 L1122 410.2 L1121.2 420.4 L1121.2 420.4 L1119.8 430.6 L1123.8 431.2 L1121.9 441.5 L1118 440.7 L1115.6 450.6 L1115.6 450.6 L1112.7 460.5 L1105 458 L1101.8 467.3 L1101.8 467.3 L1098 476.4 L1094.3 474.7 L1090.2 483.4 L1090.2 483.4 L1085.6 491.9 L1085.6 491.9 L1080.6 500.1 L1080.6 500.1 L1075.1 508.1 L1071.9 505.7 L1066.1 513.2 L1063 510.7 L1057 517.7 L1054.1 515 L1047.9 521.5 L1047.9 521.5 L1041.3 527.7 L1041.3 527.7 L1034.5 533.6 L1034.5 533.6 L1027.3 539.1 L1032.1 545.5 L1024.3 550.9 L1026.5 554.2 L1018.2 559.2 L1018.2 559.2 L1009.8 563.8 L1008 560.3 L999.5 564.3 L997.8 560.7 L989.3 564.2 L989.3 564.2 L980.6 567.3 L979.4 563.5 L970.8 566 L970.8 566 L962 568.1 L962 568.1 L953.2 569.8 L953.2 569.8 L944.2 571 L944.2 571 L935.3 571.7 L935.3 571.7 L926.2 571.9 L926.2 571.9 L917.2 571.7 L917.2 571.7 L908.3 571 L908.3 571 L899.3 569.8 L898.7 573.7 L889.7 572.1 L889.7 572.1 L880.7 569.9 L880.7 569.9 L871.9 567.3 L871.9 567.3 L863.2 564.2 L863.2 564.2 L854.7 560.7 L853 564.3 L844.5 560.3 L844.5 560.3 L836.2 555.8 L836.2 555.8 L828.2 550.9 L826 554.2 L818.1 548.8 L818.1 548.8 L810.5 542.9 L810.5 542.9 L803.1 536.6 L808.5 530.7 L801.8 524.4 L804.6 521.5 L798.4 515 L798.4 515 L792.6 508.1 L792.6 508.1 L787.1 501 L787.1 501 L782 493.6 L782 493.6 L777.3 485.9 L777.3 485.9 L773 478 L773 478 L769.1 469.9 L765.5 471.5 L761.9 463 L761.9 463 L758.9 454.3 L758.9 454.3 L756.2 445.5 L756.2 445.5 L754.1 436.5 L754.1 436.5 L752.4 427.4 L748.5 428.1 L747.2 418.7 L747.2 418.7 L746.5 409.3 L746.5 409.3 L746.2 399.9Z" fill="#002de1"/>
<path d="M746.2 399.9 L746.5 390.5 L746.5 390.5 L747.2 381.1 L747.2 381.1 L748.5 371.7 L748.5 371.7 L750.2 362.5 L746.3 361.6 L748.5 352.3 L748.5 352.3 L751.3 343 L751.3 343 L754.5 334 L754.5 334 L758.2 325.1 L758.2 325.1 L762.3 316.4 L762.3 316.4 L766.9 307.9 L763.4 305.9 L768.6 297.5 L768.6 297.5 L774.2 289.4 L774.2 289.4 L780.1 281.6 L780.1 281.6 L786.5 274.1 L783.6 271.4 L790.5 264.1 L790.5 264.1 L797.8 257.2 L795.1 254.2 L802.9 247.6 L800.4 244.5 L808.7 238.1 L806.3 234.9 L815.1 228.8 L815.1 228.8 L824.2 223.2 L824.2 223.2 L833.6 218.1 L833.6 218.1 L843.3 213.5 L843.3 213.5 L853.1 209.4 L853.1 209.4 L863.2 205.9 L863.2 205.9 L873.5 202.9 L872.4 199 L883 196.4 L883 196.3 L893.7 194.3 L893.7 194.3 L904.5 192.9 L904.5 192.9 L915.4 192 L915.4 192 L926.2 191.7 L926.2 191.7 L937.1 192 L937.1 192 L948 192.9 L948 192.9 L958.8 194.3 L958.8 194.3 L969.5 196.3 L969.5 196.3 L980.1 198.8 L980.1 198.8 L990.6 201.9 L990.6 201.9 L1000.8 205.6 L1000.8 205.6 L1010.9 209.7 L1010.9 209.7 L1020.7 214.4 L1020.7 214.6 L1030.2 219.8 L1024.2 230.2 L1033 235.5 L1033 235.5 L1041.5 241.3 L1043.8 238.1 L1052.1 244.5 L1052.1 244.5 L1060.1 251.3 L1060.1 251.3 L1067.7 258.5 L1067.7 258.5 L1074.9 266.1 L1068.9 271.4 L1075.5 279.1 L1075.5 279.1 L1081.6 287 L1081.6 287 L1087.3 295.3 L1087.3 295.3 L1092.5 303.9 L1096 301.9 L1100.9 310.9 L1100.9 310.9 L1105.3 320.2 L1105.3 320.2 L1109.2 329.7 L1109.2 329.7 L1112.7 339.3 L1116.5 338.1 L1119.4 348.1 L1123.3 347.1 L1125.8 357.5 L1125.8 357.5 L1127.7 368 L1127.7 368 L1129.1 378.6 L1125.2 379 L1126 389.4 L1122 389.6 L1122.2 399.9 L1122.2 399.9 L1122 410.2 L1122 410.2 L1121.2 420.4 L1121.2 420.4 L1119.8 430.6 L1119.8 430.6 L1118 440.7 L1114.1 439.8 L1111.7 449.6 L1111.7 449.6 L1108.9 459.2 L1105 458 L1101.8 467.3 L1098 465.8 L1094.3 474.7 L1094.3 474.7 L1090.2 483.4 L1090.2 483.4 L1085.6 491.9 L1085.6 491.9 L1080.6 500.1 L1077.2 497.9 L1071.9 505.7 L1068.6 503.4 L1063 510.7 L1059.9 508.1 L1054.1 515 L1054.1 515 L1047.9 521.5 L1047.9 521.5 L1041.3 527.7 L1041.3 527.7 L1034.5 533.6 L1034.5 533.6 L1027.3 539.1 L1029.7 542.3 L1022.1 547.5 L1024.3 550.9 L1016.2 555.8 L1016.2 555.8 L1008 560.3 L1008 560.3 L999.5 564.3 L997.8 560.7 L989.3 564.2 L987.9 560.5 L979.4 563.5 L979.4 563.5 L970.8 566 L970.8 566 L962 568.1 L961.2 564.2 L952.5 565.8 L952.5 565.8 L943.8 567 L943.8 567 L935 567.7 L935 567.7 L926.2 567.9 L926.2 567.9 L917.5 567.7 L917.5 567.7 L908.7 567 L908.7 567 L900 565.8 L899.3 569.8 L890.5 568.1 L890.5 568.1 L881.7 566 L881.7 566 L873.1 563.5 L873.1 563.5 L864.6 560.5 L863.2 564.2 L854.7 560.7 L854.7 560.7 L846.3 556.7 L846.3 556.7 L838.2 552.3 L836.2 555.8 L828.2 550.9 L828.2 550.9 L820.4 545.5 L820.4 545.5 L813 539.8 L813 539.8 L805.8 533.7 L808.5 530.7 L801.8 524.4 L804.6 521.5 L798.4 515 L798.4 515 L792.6 508.1 L792.6 508.1 L787.1 501 L787.1 501 L782 493.6 L782 493.6 L777.3 485.9 L777.3 485.9 L773 478 L773 478 L769.1 469.9 L769.1 469.9 L765.7 461.5 L761.9 463 L758.9 454.3 L758.9 454.3 L756.2 445.5 L756.2 445.5 L754.1 436.5 L754.1 436.5 L752.4 427.4 L752.4 427.4 L751.2 418.3 L747.2 418.7 L746.5 409.3 L746.5 409.3 L746.2 399.9Z" fill="#1950ff"/>
<path d="M750.2 399.9 L750.5 390.7 L746.5 390.5 L747.2 381.1 L747.2 381.1 L748.5 371.7 L748.5 371.7 L750.2 362.5 L750.2 362.5 L752.4 353.3 L752.4 353.3 L755.1 344.3 L755.1 344.3 L758.2 335.4 L758.2 335.4 L761.8 326.7 L758.2 325.1 L762.3 316.4 L762.3 316.4 L766.9 307.9 L766.9 307.9 L771.9 299.7 L771.9 299.7 L777.4 291.7 L777.4 291.7 L783.3 284.1 L780.1 281.6 L786.5 274.1 L786.5 274.1 L793.3 267 L793.3 267 L800.5 260.2 L797.8 257.2 L805.4 250.7 L802.9 247.6 L811 241.3 L811 241.3 L819.5 235.5 L817.3 232.2 L826.2 226.7 L826.2 226.7 L835.5 221.7 L835.5 221.7 L844.9 217.2 L844.9 217.2 L854.6 213.2 L854.6 213.2 L864.4 209.7 L864.4 209.7 L874.5 206.7 L873.5 202.9 L883.8 200.4 L883 196.3 L893.7 194.3 L893.7 194.3 L904.5 192.9 L904.5 192.9 L915.4 192 L915.4 192 L926.2 191.7 L926.2 191.7 L937.1 192 L937.1 192 L948 192.9 L948 192.9 L958.8 194.3 L958.8 194.3 L969.5 196.3 L969.5 196.3 L980.1 198.8 L980.1 198.8 L990.6 201.9 L990.6 201.9 L1000.8 205.6 L1000.8 205.6 L1010.9 209.7 L1010.9 209.7 L1020.7 214.4 L1018.9 218.1 L1028.2 223.2 L1024.2 230.2 L1033 235.5 L1033 235.5 L1041.5 241.3 L1041.5 241.3 L1049.6 247.6 L1052.1 244.5 L1060.1 251.3 L1060.1 251.3 L1067.7 258.5 L1064.8 261.3 L1071.9 268.8 L1068.9 271.4 L1075.5 279.1 L1075.5 279.1 L1081.6 287 L1081.6 287 L1087.3 295.3 L1087.3 295.3 L1092.5 303.9 L1096 301.9 L1100.9 310.9 L1100.9 310.9 L1105.3 320.2 L1105.3 320.2 L1109.2 329.7 L1109.2 329.7 L1112.7 339.3 L1116.5 338.1 L1119.4 348.1 L1119.4 348.1 L1121.9 358.3 L1125.8 357.5 L1127.7 368 L1123.8 368.6 L1125.2 379 L1121.2 379.4 L1122 389.6 L1122 389.6 L1122.2 399.9 L1122.2 399.9 L1122 410.2 L1122 410.2 L1121.2 420.4 L1117.2 420 L1115.9 429.9 L1115.9 429.9 L1114.1 439.8 L1110.1 439 L1107.8 448.6 L1107.8 448.6 L1105 458 L1101.2 456.8 L1098 465.8 L1098 465.8 L1094.3 474.7 L1094.3 474.7 L1090.2 483.4 L1090.2 483.4 L1085.6 491.9 L1082.1 489.9 L1077.2 497.9 L1077.2 497.9 L1071.9 505.7 L1068.6 503.4 L1063 510.7 L1059.9 508.1 L1054.1 515 L1054.1 515 L1047.9 521.5 L1047.9 521.5 L1041.3 527.7 L1041.3 527.7 L1034.5 533.6 L1034.5 533.6 L1027.3 539.1 L1029.7 542.3 L1022.1 547.5 L1022.1 547.5 L1014.2 552.3 L1014.2 552.3 L1006.2 556.7 L1006.2 556.7 L997.8 560.7 L996.2 557 L987.9 560.5 L987.9 560.5 L979.4 563.5 L979.4 563.5 L970.8 566 L970.8 566 L962 568.1 L961.2 564.2 L952.5 565.8 L951.9 561.9 L943.4 563 L943.4 563 L934.8 563.7 L934.8 563.7 L926.2 563.9 L926.2 563.9 L917.7 563.7 L917.7 563.7 L909.1 563 L908.7 567 L900 565.8 L900 565.8 L891.3 564.2 L891.3 564.2 L882.8 562.2 L882.8 562.2 L874.3 559.7 L873.1 563.5 L864.6 560.5 L864.6 560.5 L856.3 557 L856.3 557 L848.2 553.2 L846.3 556.7 L838.2 552.3 L838.2 552.3 L830.4 547.5 L830.4 547.5 L822.8 542.3 L822.8 542.3 L815.5 536.7 L815.5 536.7 L808.5 530.7 L811.2 527.7 L804.6 521.5 L804.6 521.5 L798.4 515 L798.4 515 L792.6 508.1 L792.6 508.1 L787.1 501 L787.1 501 L782 493.6 L782 493.6 L777.3 485.9 L777.3 485.9 L773 478 L773 478 L769.1 469.9 L769.1 469.9 L765.7 461.5 L765.7 461.5 L762.7 453.1 L758.9 454.3 L756.2 445.5 L756.2 445.5 L754.1 436.5 L754.1 436.5 L752.4 427.4 L752.4 427.4 L751.2 418.3 L751.2 418.3 L750.5 409.1 L750.5 409.1 L750.2 399.9Z" fill="#4178ff"/>
<path d="M750.2 399.9 L750.5 390.7 L750.5 390.7 L751.2 381.5 L751.2 381.5 L752.4 372.4 L752.4 372.4 L754.1 363.3 L750.2 362.5 L752.4 353.3 L752.4 353.3 L755.1 344.3 L755.1 344.3 L758.2 335.4 L758.2 335.4 L761.8 326.7 L761.8 326.7 L765.9 318.2 L765.9 318.2 L770.4 309.9 L770.4 309.9 L775.3 301.9 L775.3 301.9 L780.6 294.1 L777.4 291.7 L783.3 284.1 L783.3 284.1 L789.5 276.8 L789.5 276.8 L796.1 269.8 L796.1 269.8 L803.1 263.2 L800.5 260.2 L807.9 253.8 L807.9 253.8 L815.7 247.8 L813.4 244.6 L821.7 238.9 L819.5 235.5 L828.2 230.2 L828.2 230.2 L837.3 225.3 L837.3 225.3 L846.5 220.8 L846.5 220.8 L856 216.9 L856 216.9 L865.7 213.5 L864.4 209.7 L874.5 206.7 L873.5 202.9 L883.8 200.4 L883 196.3 L893.7 194.3 L893.7 194.3 L904.5 192.9 L904.5 192.9 L915.4 192 L915.4 192 L926.2 191.7 L926.2 191.7 L937.1 192 L937.1 192 L948 192.9 L948 192.9 L958.8 194.3 L958.8 194.3 L969.5 196.3 L969.5 196.3 L980.1 198.8 L980.1 198.8 L990.6 201.9 L990.6 201.9 L1000.8 205.6 L1000.8 205.6 L1010.9 209.7 L1010.9 209.7 L1020.7 214.4 L1018.9 218.1 L1028.2 223.2 L1024.2 230.2 L1033 235.5 L1033 235.5 L1041.5 241.3 L1041.5 241.3 L1049.6 247.6 L1049.6 247.6 L1057.4 254.2 L1057.4 254.2 L1064.8 261.3 L1064.8 261.3 L1071.9 268.8 L1068.9 271.4 L1075.5 279.1 L1075.5 279.1 L1081.6 287 L1081.6 287 L1087.3 295.3 L1087.3 295.3 L1092.5 303.9 L1096 301.9 L1100.9 310.9 L1100.9 310.9 L1105.3 320.2 L1105.3 320.2 L1109.2 329.7 L1109.2 329.7 L1112.7 339.3 L1112.7 339.3 L1115.6 349.2 L1119.4 348.1 L1121.9 358.3 L1125.8 357.5 L1127.7 368 L1123.8 368.6 L1125.2 379 L1121.2 379.4 L1122 389.6 L1122 389.6 L1122.2 399.9 L1122.2 399.9 L1122 410.2 L1122 410.2 L1121.2 420.4 L1117.2 420 L1115.9 429.9 L1111.9 429.3 L1110.1 439 L1106.2 438.2 L1104 447.5 L1104 447.5 L1101.2 456.8 L1101.2 456.8 L1098 465.8 L1098 465.8 L1094.3 474.7 L1094.3 474.7 L1090.2 483.4 L1090.2 483.4 L1085.6 491.9 L1082.1 489.9 L1077.2 497.9 L1073.9 495.8 L1068.6 503.4 L1065.4 501 L1059.9 508.1 L1059.9 508.1 L1054.1 515 L1054.1 515 L1047.9 521.5 L1047.9 521.5 L1041.3 527.7 L1041.3 527.7 L1034.5 533.6 L1034.5 533.6 L1027.3 539.1 L1027.3 539.1 L1019.9 544.2 L1019.9 544.2 L1012.2 548.9 L1012.2 548.9 L1004.3 553.2 L1004.3 553.2 L996.2 557 L996.2 557 L987.9 560.5 L987.9 560.5 L979.4 563.5 L979.4 563.5 L970.8 566 L969.7 562.2 L961.2 564.2 L960.3 560.3 L951.9 561.9 L951.9 561.9 L943.4 563 L943.4 563 L934.8 563.7 L934.8 563.7 L926.2 563.9 L926.2 563.9 L917.7 563.7 L917.7 563.7 L909.1 563 L909.1 563 L900.6 561.9 L900.6 561.9 L892.2 560.3 L891.3 564.2 L882.8 562.2 L882.8 562.2 L874.3 559.7 L874.3 559.7 L866 556.7 L866 556.7 L857.9 553.4 L856.3 557 L848.2 553.2 L848.2 553.2 L840.2 548.9 L840.2 548.9 L832.6 544.2 L832.6 544.2 L825.2 539.1 L825.2 539.1 L818 533.6 L818 533.6 L811.2 527.7 L811.2 527.7 L804.6 521.5 L804.6 521.5 L798.4 515 L798.4 515 L792.6 508.1 L792.6 508.1 L787.1 501 L787.1 501 L782 493.6 L782 493.6 L777.3 485.9 L777.3 485.9 L773 478 L773 478 L769.1 469.9 L769.1 469.9 L765.7 461.5 L765.7 461.5 L762.7 453.1 L762.7 453.1 L760.1 444.4 L760.1 444.4 L758 435.7 L754.1 436.5 L752.4 427.4 L752.4 427.4 L751.2 418.3 L751.2 418.3 L750.5 409.1 L750.5 409.1 L750.2 399.9Z" fill="#82aaff"/>
<path d="M750.2 399.9 L750.5 390.7 L750.5 390.7 L751.2 381.5 L751.2 381.5 L752.4 372.4 L752.4 372.4 L754.1 363.3 L754.1 363.3 L756.2 354.3 L756.2 354.3 L758.9 345.5 L755.1 344.3 L758.2 335.4 L758.2 335.4 L761.8 326.7 L761.8 326.7 L765.9 318.2 L765.9 318.2 L770.4 309.9 L770.4 309.9 L775.3 301.9 L775.3 301.9 L780.6 294.1 L780.6 294.1 L786.4 286.6 L786.4 286.6 L792.5 279.5 L789.5 276.8 L796.1 269.8 L796.1 269.8 L803.1 263.2 L800.5 260.2 L807.9 253.8 L807.9 253.8 L815.7 247.8 L813.4 244.6 L821.7 238.9 L821.7 238.9 L830.2 233.6 L828.2 230.2 L837.3 225.3 L837.3 225.3 L846.5 220.8 L846.5 220.8 L856 216.9 L856 216.9 L865.7 213.5 L864.4 209.7 L874.5 206.7 L874.5 206.7 L884.7 204.3 L883 196.4 L893.7 194.5 L893.7 194.5 L904.5 193 L904.5 192.9 L915.4 192 L915.4 192 L926.2 191.7 L926.2 191.7 L937.1 192 L937.1 192 L948 192.9 L948 192.9 L958.8 194.3 L958.8 194.5 L969.5 196.4 L969.5 196.4 L980.1 199 L980.1 199 L990.5 202.1 L990.5 202.1 L1000.8 205.7 L1000.8 205.7 L1010.9 209.9 L1010.9 209.9 L1020.7 214.6 L1017 221.7 L1026.2 226.7 L1024.2 230.2 L1033 235.5 L1033 235.5 L1041.5 241.3 L1041.5 241.3 L1049.6 247.6 L1049.6 247.6 L1057.4 254.2 L1054.7 257.2 L1062 264.1 L1062 264.1 L1068.9 271.4 L1068.9 271.4 L1075.5 279.1 L1075.5 279.1 L1081.6 287 L1081.6 287 L1087.3 295.3 L1087.3 295.3 L1092.5 303.9 L1096 301.9 L1100.9 310.9 L1100.9 310.9 L1105.3 320.2 L1105.3 320.2 L1109.2 329.7 L1109.2 329.7 L1112.7 339.3 L1112.7 339.3 L1115.6 349.2 L1119.4 348.1 L1121.9 358.3 L1125.8 357.5 L1127.7 368 L1123.8 368.6 L1125.2 379 L1121.2 379.4 L1122 389.6 L1122 389.6 L1122.2 399.9 L1118.2 399.9 L1118 409.9 L1118 409.9 L1117.2 420 L1113.2 419.6 L1111.9 429.3 L1111.9 429.3 L1110.1 439 L1106.2 438.2 L1104 447.5 L1104 447.5 L1101.2 456.8 L1101.2 456.8 L1098 465.8 L1098 465.8 L1094.3 474.7 L1094.3 474.7 L1090.2 483.4 L1090.2 483.4 L1085.6 491.9 L1082.1 489.9 L1077.2 497.9 L1073.9 495.8 L1068.6 503.4 L1065.4 501 L1059.9 508.1 L1059.9 508.1 L1054.1 515 L1054.1 515 L1047.9 521.5 L1047.9 521.5 L1041.3 527.7 L1041.3 527.7 L1034.5 533.6 L1034.5 533.6 L1027.3 539.1 L1027.3 539.1 L1019.9 544.2 L1019.9 544.2 L1012.2 548.9 L1012.2 548.9 L1004.3 553.2 L1004.3 553.2 L996.2 557 L996.2 557 L987.9 560.5 L987.9 560.5 L979.4 563.5 L978.2 559.7 L969.7 562.2 L969.7 562.2 L961.2 564.2 L960.3 560.3 L951.9 561.9 L951.3 557.9 L943 559 L943 559 L934.6 559.7 L934.6 559.7 L926.2 559.9 L926.2 559.9 L917.9 559.7 L917.9 559.7 L909.5 559 L909.5 559 L901.2 557.9 L900.6 561.9 L892.2 560.3 L892.2 560.3 L883.8 558.3 L882.8 562.2 L874.3 559.7 L874.3 559.7 L866 556.7 L866 556.7 L857.9 553.4 L856.3 557 L848.2 553.2 L848.2 553.2 L840.2 548.9 L840.2 548.9 L832.6 544.2 L832.6 544.2 L825.2 539.1 L825.2 539.1 L818 533.6 L818 533.6 L811.2 527.7 L811.2 527.7 L804.6 521.5 L807.5 518.7 L801.4 512.3 L801.4 512.3 L795.7 505.6 L795.7 505.6 L790.3 498.6 L787.1 501 L782 493.6 L785.4 491.4 L780.8 483.9 L780.8 483.9 L776.6 476.2 L773 478 L769.1 469.9 L769.1 469.9 L765.7 461.5 L765.7 461.5 L762.7 453.1 L762.7 453.1 L760.1 444.4 L760.1 444.4 L758 435.7 L758 435.7 L756.4 426.8 L756.4 426.8 L755.2 417.9 L755.2 417.9 L754.5 408.9 L750.5 409.1 L750.2 399.9Z" fill="#afcdff"/>
<path d="M754.2 399.9 L754.5 390.9 L754.5 390.9 L755.2 381.9 L755.2 381.9 L756.4 373 L756.4 373 L758 364.1 L754.1 363.3 L756.2 354.3 L756.2 354.3 L758.9 345.5 L758.9 345.5 L761.9 336.8 L761.9 336.8 L765.5 328.3 L765.5 328.3 L769.4 320 L769.4 320 L773.8 311.9 L773.8 311.9 L778.6 304 L775.3 301.9 L780.6 294.1 L780.6 294.1 L786.4 286.6 L786.4 286.6 L792.5 279.5 L792.5 279.5 L799 272.6 L796.1 269.8 L803.1 263.2 L803.1 263.2 L810.5 256.9 L807.9 253.8 L815.7 247.8 L813.4 244.6 L821.7 238.9 L821.7 238.9 L830.2 233.6 L830.2 233.6 L839.1 228.8 L837.3 225.3 L846.5 220.8 L846.5 220.8 L856 216.9 L856 216.9 L865.7 213.5 L865.7 213.5 L875.5 210.6 L874.5 206.7 L884.7 204.3 L883.8 200.4 L894.3 198.4 L893.7 194.5 L904.5 193 L904.5 192.9 L915.4 192 L915.4 192 L926.2 191.7 L926.2 191.7 L937.1 192 L937.1 192 L948 192.9 L948 192.9 L958.8 194.3 L958.2 198.4 L968.7 200.4 L968.7 200.4 L979 202.9 L978 206.7 L988.1 209.7 L988.1 209.7 L997.9 213.2 L997.9 213.2 L1007.6 217.2 L1007.6 217.2 L1017 221.7 L1017 221.7 L1026.2 226.7 L1024.2 230.2 L1033 235.5 L1033 235.5 L1041.5 241.3 L1039.1 244.6 L1047.1 250.7 L1047.1 250.7 L1054.7 257.2 L1052 260.2 L1059.2 267 L1059.2 267 L1066 274.1 L1066 274.1 L1072.4 281.6 L1072.4 281.6 L1078.3 289.4 L1078.3 289.4 L1083.9 297.5 L1083.9 297.5 L1089.1 305.9 L1092.5 303.9 L1097.3 312.7 L1097.3 312.7 L1101.7 321.8 L1101.7 321.8 L1105.5 331.1 L1105.5 331.1 L1108.9 340.6 L1112.7 339.3 L1115.6 349.2 L1119.4 348.1 L1121.9 358.3 L1125.8 357.5 L1127.7 368 L1123.8 368.6 L1125.2 379 L1117.2 379.8 L1118 389.9 L1118 389.9 L1118.2 399.9 L1114.2 399.9 L1114 409.7 L1114 409.7 L1113.2 419.6 L1113.2 419.6 L1111.9 429.3 L1108 428.7 L1106.2 438.2 L1106.2 438.2 L1104 447.5 L1104 447.5 L1101.2 456.8 L1097.4 455.5 L1094.3 464.4 L1094.3 464.4 L1090.7 473.1 L1090.7 473.1 L1086.6 481.6 L1086.6 481.6 L1082.1 489.9 L1078.7 487.9 L1073.9 495.8 L1073.9 495.8 L1068.6 503.4 L1065.4 501 L1059.9 508.1 L1059.9 508.1 L1054.1 515 L1054.1 515 L1047.9 521.5 L1047.9 521.5 L1041.3 527.7 L1041.3 527.7 L1034.5 533.6 L1034.5 533.6 L1027.3 539.1 L1027.3 539.1 L1019.9 544.2 L1019.9 544.2 L1012.2 548.9 L1012.2 548.9 L1004.3 553.2 L1004.3 553.2 L996.2 557 L996.2 557 L987.9 560.5 L987.9 560.5 L979.4 563.5 L978.2 559.7 L969.7 562.2 L968.7 558.3 L960.3 560.3 L959.5 556.4 L951.3 557.9 L951.3 557.9 L943 559 L942.6 555 L934.4 555.7 L934.4 555.7 L926.2 555.9 L926.2 555.9 L918.1 555.7 L918.1 555.7 L909.9 555 L909.5 559 L901.2 557.9 L901.2 557.9 L893 556.4 L892.2 560.3 L883.8 558.3 L883.8 558.3 L875.6 555.9 L875.6 555.9 L867.5 553 L866 556.7 L857.9 553.4 L857.9 553.4 L850 549.6 L850 549.6 L842.2 545.4 L842.2 545.4 L834.8 540.8 L834.8 540.8 L827.5 535.8 L827.5 535.8 L820.5 530.5 L820.5 530.5 L813.8 524.7 L813.8 524.7 L807.5 518.7 L810.3 515.9 L804.4 509.6 L804.4 509.6 L798.8 503.1 L795.7 505.6 L790.3 498.6 L790.3 498.6 L785.4 491.4 L785.4 491.4 L780.8 483.9 L780.8 483.9 L776.6 476.2 L776.6 476.2 L772.8 468.2 L772.8 468.2 L769.4 460.1 L769.4 460.1 L766.5 451.8 L766.5 451.8 L764 443.4 L764 443.4 L761.9 434.8 L758 435.7 L756.4 426.8 L756.4 426.8 L755.2 417.9 L755.2 417.9 L754.5 408.9 L754.5 408.9 L754.2 399.9Z" fill="#d7ebff"/>
<path d="M758.2 399.9 L758.5 391.1 L758.5 391.1 L759.2 382.3 L759.2 382.3 L760.3 373.6 L756.4 373 L758 364.1 L758 364.1 L760.1 355.4 L760.1 355.4 L762.7 346.7 L762.7 346.7 L765.7 338.3 L765.7 338.3 L769.1 329.9 L769.1 329.9 L773 321.8 L773 321.8 L777.3 313.9 L773.8 311.9 L778.6 304 L778.6 304 L783.9 296.4 L783.9 296.4 L789.5 289.1 L789.5 289.1 L795.5 282.1 L795.5 282.1 L801.8 275.4 L799 272.6 L805.8 266.1 L803.1 263.2 L810.5 256.9 L810.5 256.9 L818.1 251 L815.7 247.8 L823.9 242.2 L821.7 238.9 L830.2 233.6 L830.2 233.6 L839.1 228.8 L837.3 225.3 L846.5 220.8 L846.5 220.8 L856 216.9 L856 216.9 L865.7 213.5 L865.7 213.5 L875.5 210.6 L875.5 210.6 L885.5 208.2 L885.5 208.2 L895.6 206.3 L894.3 198.4 L904.9 197 L904.5 192.9 L915.4 192 L915.4 192 L926.2 191.7 L926.2 191.7 L937.1 192 L937.1 192 L948 192.9 L948 192.9 L958.8 194.3 L958.2 198.4 L968.7 200.4 L967.8 204.3 L978 206.7 L977 210.6 L986.8 213.5 L986.8 213.5 L996.5 216.9 L996.5 216.9 L1006 220.8 L1006 220.8 L1015.2 225.3 L1015.2 225.3 L1024.2 230.2 L1024.2 230.2 L1033 235.5 L1033 235.5 L1041.5 241.3 L1039.1 244.6 L1047.1 250.7 L1044.6 253.8 L1052 260.2 L1049.4 263.2 L1056.4 269.8 L1056.4 269.8 L1063 276.8 L1060 279.5 L1066.1 286.6 L1069.2 284.1 L1075.1 291.7 L1075.1 291.7 L1080.6 299.7 L1080.6 299.7 L1085.6 307.9 L1089.1 305.9 L1093.8 314.5 L1093.8 314.5 L1098 323.4 L1101.7 321.8 L1105.5 331.1 L1105.5 331.1 L1108.9 340.6 L1112.7 339.3 L1115.6 349.2 L1119.4 348.1 L1121.9 358.3 L1125.8 357.5 L1127.7 368 L1123.8 368.6 L1125.2 379 L1117.2 379.8 L1118 389.9 L1114 390.1 L1114.2 399.9 L1110.2 399.9 L1110 409.5 L1110 409.5 L1109.2 419.1 L1109.2 419.1 L1108 428.7 L1108 428.7 L1106.2 438.2 L1106.2 438.2 L1104 447.5 L1104 447.5 L1101.2 456.8 L1097.4 455.5 L1094.3 464.4 L1090.6 463 L1087 471.5 L1087 471.5 L1083.1 479.8 L1083.1 479.8 L1078.7 487.9 L1078.7 487.9 L1073.9 495.8 L1070.5 493.6 L1065.4 501 L1065.4 501 L1059.9 508.1 L1059.9 508.1 L1054.1 515 L1054.1 515 L1047.9 521.5 L1047.9 521.5 L1041.3 527.7 L1041.3 527.7 L1034.5 533.6 L1034.5 533.6 L1027.3 539.1 L1027.3 539.1 L1019.9 544.2 L1019.9 544.2 L1012.2 548.9 L1012.2 548.9 L1004.3 553.2 L1004.3 553.2 L996.2 557 L996.2 557 L987.9 560.5 L986.5 556.7 L978.2 559.7 L976.9 555.9 L968.7 558.3 L968.7 558.3 L960.3 560.3 L959.5 556.4 L951.3 557.9 L950.7 554 L942.6 555 L942.1 551.1 L934.2 551.7 L934.2 551.7 L926.2 551.9 L926.2 551.9 L918.3 551.7 L918.3 551.7 L910.4 551.1 L910.4 551.1 L902.5 550 L901.8 554 L893.8 552.5 L893 556.4 L884.8 554.4 L883.8 558.3 L875.6 555.9 L875.6 555.9 L867.5 553 L867.5 553 L859.5 549.7 L859.5 549.7 L851.8 546 L851.8 546 L844.2 541.9 L844.2 541.9 L836.9 537.4 L836.9 537.4 L829.9 532.6 L832.2 529.3 L825.6 524.2 L825.6 524.2 L819.2 518.8 L819.2 518.8 L813.1 513 L813.1 513 L807.3 507 L807.3 507 L801.9 500.6 L801.9 500.6 L796.8 493.9 L793.6 496.3 L788.7 489.2 L788.7 489.2 L784.2 481.9 L784.2 481.9 L780.1 474.4 L780.1 474.4 L776.4 466.6 L776.4 466.6 L773.1 458.7 L773.1 458.7 L770.3 450.6 L770.3 450.6 L767.8 442.3 L767.8 442.3 L765.8 434 L761.9 434.8 L760.3 426.2 L760.3 426.2 L759.2 417.5 L759.2 417.5 L758.5 408.7 L758.5 408.7 L758.2 399.9Z" fill="#ffe8d7"/>
<path d="M758.2 399.9 L758.5 391.1 L758.5 391.1 L759.2 382.3 L759.2 382.3 L760.3 373.6 L760.3 373.6 L761.9 365 L761.9 365 L764 356.4 L764 356.4 L766.5 348 L766.5 348 L769.4 339.7 L769.4 339.7 L772.8 331.6 L769.1 329.9 L773 321.8 L773 321.8 L777.3 313.9 L777.3 313.9 L782 306.2 L782 306.2 L787.1 298.8 L787.1 298.8 L792.6 291.7 L792.6 291.7 L798.4 284.8 L795.5 282.1 L801.8 275.4 L801.8 275.4 L808.5 269.1 L805.8 266.1 L813 260 L813 260 L820.4 254.3 L818.1 251 L826 245.6 L823.9 242.2 L832.2 237.1 L832.2 237.1 L840.9 232.4 L839.1 228.8 L848.2 224.5 L848.2 224.5 L857.4 220.7 L857.4 220.7 L866.9 217.3 L866.9 217.3 L876.6 214.4 L876.6 214.4 L886.3 212.1 L885.5 208.2 L895.6 206.3 L895 202.4 L905.3 201 L905.3 201 L915.8 200.2 L915.8 200.2 L926.2 199.9 L926.2 199.9 L936.7 200.2 L936.5 204.2 L946.7 205 L946.7 205 L956.9 206.3 L956.9 206.3 L967 208.2 L966.2 212.1 L975.9 214.4 L975.9 214.4 L985.6 217.3 L984.3 221.1 L993.6 224.4 L993.6 224.4 L1002.7 228.2 L1002.7 228.2 L1011.6 232.4 L1011.6 232.4 L1020.2 237.1 L1020.2 237.1 L1028.6 242.2 L1026.5 245.6 L1034.4 251 L1032.1 254.3 L1039.5 260 L1039.5 260 L1046.7 266.1 L1044 269.1 L1050.7 275.4 L1050.7 275.4 L1057 282.1 L1057 282.1 L1063 289.1 L1063 289.1 L1068.6 296.4 L1068.6 296.4 L1073.9 304 L1073.9 304 L1078.7 311.9 L1082.1 309.9 L1086.6 318.2 L1086.6 318.2 L1090.7 326.7 L1094.3 325.1 L1098 334 L1101.8 332.5 L1105 341.8 L1108.9 340.6 L1111.7 350.2 L1111.7 350.2 L1114.1 360 L1114.1 360 L1115.9 369.9 L1115.9 369.9 L1117.2 379.8 L1113.2 380.2 L1114 390.1 L1110 390.3 L1110.2 399.9 L1110.2 399.9 L1110 409.5 L1110 409.5 L1109.2 419.1 L1109.2 419.1 L1108 428.7 L1108 428.7 L1106.2 438.2 L1106.2 438.2 L1104 447.5 L1100.1 446.5 L1097.4 455.5 L1093.6 454.3 L1090.6 463 L1090.6 463 L1087 471.5 L1087 471.5 L1083.1 479.8 L1083.1 479.8 L1078.7 487.9 L1078.7 487.9 L1073.9 495.8 L1070.5 493.6 L1065.4 501 L1065.4 501 L1059.9 508.1 L1059.9 508.1 L1054.1 515 L1054.1 515 L1047.9 521.5 L1047.9 521.5 L1041.3 527.7 L1041.3 527.7 L1034.5 533.6 L1034.5 533.6 L1027.3 539.1 L1027.3 539.1 L1019.9 544.2 L1019.9 544.2 L1012.2 548.9 L1012.2 548.9 L1004.3 553.2 L1004.3 553.2 L996.2 557 L994.6 553.4 L986.5 556.7 L986.5 556.7 L978.2 559.7 L976.9 555.9 L968.7 558.3 L968.7 558.3 L960.3 560.3 L958.7 552.5 L950.7 554 L950.7 554 L942.6 555 L942.1 551.1 L934.2 551.7 L934.2 551.7 L926.2 551.9 L926.2 551.9 L918.3 551.7 L918.3 551.7 L910.4 551.1 L910.4 551.1 L902.5 550 L901.8 554 L893.8 552.5 L893 556.4 L884.8 554.4 L884.8 554.4 L876.8 552.1 L875.6 555.9 L867.5 553 L867.5 553 L859.5 549.7 L859.5 549.7 L851.8 546 L851.8 546 L844.2 541.9 L844.2 541.9 L836.9 537.4 L836.9 537.4 L829.9 532.6 L832.2 529.3 L825.6 524.2 L825.6 524.2 L819.2 518.8 L819.2 518.8 L813.1 513 L813.1 513 L807.3 507 L807.3 507 L801.9 500.6 L801.9 500.6 L796.8 493.9 L793.6 496.3 L788.7 489.2 L788.7 489.2 L784.2 481.9 L784.2 481.9 L780.1 474.4 L780.1 474.4 L776.4 466.6 L776.4 466.6 L773.1 458.7 L773.1 458.7 L770.3 450.6 L770.3 450.6 L767.8 442.3 L767.8 442.3 L765.8 434 L765.8 434 L764.3 425.6 L764.3 425.6 L763.1 417 L759.2 417.5 L758.5 408.7 L758.5 408.7 L758.2 399.9Z" fill="#ffcdb4"/>
<path d="M762.2 399.9 L762.5 391.3 L762.5 391.3 L763.1 382.8 L763.1 382.8 L764.3 374.2 L760.3 373.6 L761.9 365 L761.9 365 L764 356.4 L764 356.4 L766.5 348 L766.5 348 L769.4 339.7 L769.4 339.7 L772.8 331.6 L772.8 331.6 L776.6 323.6 L776.6 323.6 L780.8 315.9 L780.8 315.9 L785.4 308.4 L785.4 308.4 L790.3 301.2 L790.3 301.2 L795.7 294.2 L795.7 294.2 L801.4 287.5 L798.4 284.8 L804.6 278.3 L804.6 278.3 L811.2 272.1 L808.5 269.1 L815.5 263.1 L815.5 263.1 L822.8 257.5 L820.4 254.3 L828.2 248.9 L826 245.6 L834.2 240.6 L834.2 240.6 L842.7 236 L842.7 236 L851.4 231.8 L851.4 231.8 L860.3 228.1 L858.9 224.4 L868.2 221.1 L868.2 221.1 L877.6 218.3 L876.6 214.4 L886.3 212.1 L886.3 212.1 L896.2 210.3 L896.2 210.3 L906.2 209 L905.8 205 L916 204.2 L916 204.2 L926.2 203.9 L926.2 211.9 L936.1 212.2 L935.9 216.2 L945.5 216.9 L945.5 216.9 L955 218.2 L955.7 214.2 L965.3 216 L965.3 216 L974.9 218.3 L974.9 218.3 L984.3 221.1 L983.1 224.9 L992.2 228.1 L990.8 231.9 L999.5 235.5 L999.5 235.5 L1008 239.5 L1008 239.5 L1016.2 244 L1016.2 244 L1024.3 248.9 L1022.1 252.3 L1029.7 257.5 L1027.3 260.7 L1034.5 266.2 L1034.5 266.2 L1041.3 272.1 L1038.7 275.1 L1045 281.1 L1045 281.1 L1051.1 287.5 L1051.1 287.5 L1056.8 294.2 L1056.8 294.2 L1062.2 301.2 L1062.2 301.2 L1067.1 308.4 L1070.5 306.2 L1075.2 313.9 L1075.2 313.9 L1079.5 321.8 L1079.5 321.8 L1083.4 329.9 L1090.7 326.7 L1094.3 335.4 L1098 334 L1101.2 343 L1101.2 343 L1104 352.3 L1104 352.3 L1106.2 361.6 L1106.2 361.6 L1108 371.1 L1108 371.1 L1109.2 380.7 L1109.2 380.7 L1110 390.3 L1110 390.3 L1110.2 399.9 L1110.2 399.9 L1110 409.5 L1110 409.5 L1109.2 419.1 L1109.2 419.1 L1108 428.7 L1108 428.7 L1106.2 438.2 L1102.3 437.3 L1100.1 446.5 L1096.3 445.5 L1093.6 454.3 L1089.8 453.1 L1086.8 461.5 L1086.8 461.5 L1083.4 469.9 L1087 471.5 L1083.1 479.8 L1083.1 479.8 L1078.7 487.9 L1078.7 487.9 L1073.9 495.8 L1070.5 493.6 L1065.4 501 L1065.4 501 L1059.9 508.1 L1059.9 508.1 L1054.1 515 L1054.1 515 L1047.9 521.5 L1047.9 521.5 L1041.3 527.7 L1041.3 527.7 L1034.5 533.6 L1034.5 533.6 L1027.3 539.1 L1027.3 539.1 L1019.9 544.2 L1019.9 544.2 L1012.2 548.9 L1012.2 548.9 L1004.3 553.2 L1004.3 553.2 L996.2 557 L994.6 553.4 L986.5 556.7 L985 553 L976.9 555.9 L975.7 552.1 L967.7 554.4 L968.7 558.3 L960.3 560.3 L958.7 552.5 L950.7 554 L950 550 L942.1 551.1 L942.1 551.1 L934.2 551.7 L934.2 551.7 L926.2 551.9 L926.2 551.9 L918.3 551.7 L918.3 551.7 L910.4 551.1 L910.4 551.1 L902.5 550 L902.5 550 L894.6 548.6 L893.8 552.5 L885.9 550.6 L884.8 554.4 L876.8 552.1 L876.8 552.1 L868.9 549.3 L867.5 553 L859.5 549.7 L859.5 549.7 L851.8 546 L851.8 546 L844.2 541.9 L844.2 541.9 L836.9 537.4 L836.9 537.4 L829.9 532.6 L832.2 529.3 L825.6 524.2 L825.6 524.2 L819.2 518.8 L819.2 518.8 L813.1 513 L813.1 513 L807.3 507 L807.3 507 L801.9 500.6 L801.9 500.6 L796.8 493.9 L793.6 496.3 L788.7 489.2 L788.7 489.2 L784.2 481.9 L784.2 481.9 L780.1 474.4 L780.1 474.4 L776.4 466.6 L776.4 466.6 L773.1 458.7 L773.1 458.7 L770.3 450.6 L770.3 450.6 L767.8 442.3 L767.8 442.3 L765.8 434 L765.8 434 L764.3 425.6 L764.3 425.6 L763.1 417 L763.1 417 L762.5 408.5 L762.5 408.5 L762.2 399.9Z" fill="#ffaa87"/>
<path d="M762.2 399.9 L762.5 391.3 L762.5 391.3 L763.1 382.8 L763.1 382.8 L764.3 374.2 L764.3 374.2 L765.8 365.8 L765.8 365.8 L767.8 357.5 L767.8 357.5 L770.3 349.2 L766.5 348 L769.4 339.7 L769.4 339.7 L772.8 331.6 L772.8 331.6 L776.6 323.6 L776.6 323.6 L780.8 315.9 L780.8 315.9 L785.4 308.4 L785.4 308.4 L790.3 301.2 L790.3 301.2 L795.7 294.2 L795.7 294.2 L801.4 287.5 L801.4 287.5 L807.5 281.1 L804.6 278.3 L811.2 272.1 L811.2 272.1 L818 266.2 L815.5 263.1 L822.8 257.5 L820.4 254.3 L828.2 248.9 L828.2 248.9 L836.2 244 L836.2 244 L844.5 239.5 L842.7 236 L851.4 231.8 L851.4 231.8 L860.3 228.1 L860.3 228.1 L869.4 224.9 L869.4 224.9 L878.6 222.2 L878.6 222.2 L888 219.9 L888 219.9 L897.5 218.2 L897.5 218.2 L907 216.9 L906.6 212.9 L916.4 212.2 L916.4 212.2 L926.2 211.9 L926.2 215.9 L935.9 216.2 L935.7 220.1 L945.1 220.9 L944.6 224.9 L953.8 226.1 L953.2 230 L962 231.7 L961.2 235.6 L969.7 237.6 L969.7 237.6 L978.2 240.1 L979.4 236.3 L987.9 239.3 L987.9 239.3 L996.2 242.8 L997.8 239.1 L1006.2 243.1 L1006.2 243.1 L1014.2 247.5 L1016.2 244 L1024.3 248.9 L1022.1 252.3 L1029.7 257.5 L1027.3 260.7 L1034.5 266.2 L1034.5 266.2 L1041.3 272.1 L1038.7 275.1 L1045 281.1 L1045 281.1 L1051.1 287.5 L1048.1 290.2 L1053.7 296.7 L1053.7 296.7 L1058.9 303.5 L1062.2 301.2 L1067.1 308.4 L1067.1 308.4 L1071.7 315.9 L1071.7 315.9 L1075.9 323.6 L1079.5 321.8 L1083.4 329.9 L1087 328.3 L1090.6 336.8 L1098 334 L1101.2 343 L1101.2 343 L1104 352.3 L1104 352.3 L1106.2 361.6 L1106.2 361.6 L1108 371.1 L1108 371.1 L1109.2 380.7 L1101.3 381.5 L1102 390.7 L1102 390.7 L1102.2 399.9 L1098.2 399.9 L1098 408.9 L1098 408.9 L1097.3 417.9 L1097.3 417.9 L1096.1 426.8 L1096.1 426.8 L1094.5 435.7 L1094.5 435.7 L1092.4 444.4 L1092.4 444.4 L1089.8 453.1 L1089.8 453.1 L1086.8 461.5 L1086.8 461.5 L1083.4 469.9 L1079.7 468.2 L1075.9 476.2 L1075.9 476.2 L1071.7 483.9 L1068.3 481.9 L1063.8 489.2 L1063.8 489.2 L1058.9 496.3 L1058.9 496.3 L1053.7 503.1 L1053.7 503.1 L1048.1 509.6 L1048.1 509.6 L1042.2 515.9 L1042.2 515.9 L1036 521.8 L1036 521.8 L1029.5 527.4 L1029.5 527.4 L1022.6 532.6 L1022.6 532.6 L1015.6 537.4 L1015.6 537.4 L1008.2 541.9 L1008.2 541.9 L1000.7 546 L1000.7 546 L993 549.7 L993 549.7 L985 553 L985 553 L976.9 555.9 L975.7 552.1 L967.7 554.4 L966.6 550.6 L958.7 552.5 L957.9 548.6 L950 550 L950 550 L942.1 551.1 L942.1 551.1 L934.2 551.7 L934.2 551.7 L926.2 551.9 L926.2 551.9 L918.3 551.7 L918.3 551.7 L910.4 551.1 L910.4 551.1 L902.5 550 L902.5 550 L894.6 548.6 L894.6 548.6 L886.9 546.7 L886.9 546.7 L879.3 544.5 L880.5 540.7 L873.2 538.1 L871.8 541.8 L864.4 538.8 L861.2 546.1 L853.6 542.5 L853.6 542.5 L846.2 538.5 L844.2 541.9 L836.9 537.4 L836.9 537.4 L829.9 532.6 L832.2 529.3 L825.6 524.2 L825.6 524.2 L819.2 518.8 L819.2 518.8 L813.1 513 L815.9 510.2 L810.3 504.3 L810.3 504.3 L805 498.1 L805 498.1 L800 491.6 L796.8 493.9 L792.1 487 L792.1 487 L787.7 479.9 L787.7 479.9 L783.7 472.5 L783.7 472.5 L780.1 465 L780.1 465 L776.9 457.2 L776.9 457.2 L774.1 449.3 L774.1 449.3 L771.7 441.3 L771.7 441.3 L769.7 433.2 L769.7 433.2 L768.2 424.9 L768.2 424.9 L767.1 416.6 L763.1 417 L762.5 408.5 L762.5 408.5 L762.2 399.9Z" fill="#ff7846"/>
<path d="M766.2 399.9 L766.5 391.5 L766.5 391.5 L767.1 383.2 L767.1 383.2 L768.2 374.9 L768.2 374.9 L769.7 366.6 L769.7 366.6 L771.7 358.5 L771.7 358.5 L774.1 350.5 L774.1 350.5 L776.9 342.6 L773.1 341.1 L776.4 333.2 L776.4 333.2 L780.1 325.4 L780.1 325.4 L784.2 317.9 L784.2 317.9 L788.7 310.6 L788.7 310.6 L793.6 303.5 L793.6 303.5 L798.8 296.7 L798.8 296.7 L804.4 290.2 L801.4 287.5 L807.5 281.1 L807.5 281.1 L813.8 275.1 L813.8 275.1 L820.5 269.3 L818 266.2 L825.2 260.7 L825.2 260.7 L832.6 255.6 L832.6 255.6 L840.2 250.9 L840.2 250.9 L848.2 246.6 L848.2 246.6 L856.3 242.8 L856.3 242.8 L864.6 239.3 L864.6 239.3 L873.1 236.3 L873.1 236.3 L881.7 233.8 L881.7 233.8 L890.5 231.7 L890.5 231.7 L899.3 230 L900 234 L908.7 232.8 L909.5 240.8 L917.9 240.1 L918.1 244.1 L926.2 243.9 L926.2 247.9 L934.2 248.1 L934.2 248.1 L942.1 248.7 L942.6 244.8 L950.7 245.8 L951.9 237.9 L960.3 239.5 L961.2 235.6 L969.7 237.6 L969.7 237.6 L978.2 240.1 L979.4 236.3 L987.9 239.3 L987.9 239.3 L996.2 242.8 L996.2 242.8 L1004.3 246.6 L1004.3 246.6 L1012.2 250.9 L1012.2 250.9 L1019.9 255.6 L1019.9 255.6 L1027.3 260.7 L1025 264 L1032 269.3 L1032 269.3 L1038.7 275.1 L1036 278 L1042.2 283.9 L1042.2 283.9 L1048.1 290.2 L1045.2 292.8 L1050.6 299.2 L1050.6 299.2 L1055.7 305.9 L1058.9 303.5 L1063.8 310.6 L1063.8 310.6 L1068.3 317.9 L1068.3 317.9 L1072.4 325.4 L1072.4 325.4 L1076.1 333.2 L1079.7 331.6 L1083.1 339.7 L1086.8 338.3 L1089.8 346.7 L1089.8 346.7 L1092.4 355.4 L1092.4 355.4 L1094.5 364.1 L1094.5 364.1 L1096.1 373 L1096.1 373 L1097.3 381.9 L1097.3 381.9 L1098 390.9 L1098 390.9 L1098.2 399.9 L1098.2 399.9 L1098 408.9 L1098 408.9 L1097.3 417.9 L1097.3 417.9 L1096.1 426.8 L1096.1 426.8 L1094.5 435.7 L1094.5 435.7 L1092.4 444.4 L1092.4 444.4 L1089.8 453.1 L1089.8 453.1 L1086.8 461.5 L1086.8 461.5 L1083.4 469.9 L1079.7 468.2 L1075.9 476.2 L1072.4 474.4 L1068.3 481.9 L1064.8 479.9 L1060.4 487 L1060.4 487 L1055.7 493.9 L1055.7 493.9 L1050.6 500.6 L1050.6 500.6 L1045.2 507 L1045.2 507 L1039.4 513 L1039.4 513 L1033.3 518.8 L1033.3 518.8 L1026.9 524.2 L1026.9 524.2 L1020.3 529.3 L1022.6 532.6 L1015.6 537.4 L1015.6 537.4 L1008.2 541.9 L1008.2 541.9 L1000.7 546 L1000.7 546 L993 549.7 L993 549.7 L985 553 L983.6 549.3 L975.7 552.1 L975.7 552.1 L967.7 554.4 L966.6 550.6 L958.7 552.5 L957.9 548.6 L950 550 L950 550 L942.1 551.1 L942.1 551.1 L934.2 551.7 L934.2 551.7 L926.2 551.9 L926.2 551.9 L918.3 551.7 L918.3 551.7 L910.4 551.1 L910.4 551.1 L902.5 550 L903.1 546.1 L895.5 544.7 L895.5 544.7 L887.9 542.9 L887.9 542.9 L880.5 540.7 L880.5 540.7 L873.2 538.1 L873.2 538.1 L866.1 535.1 L864.4 538.8 L857.2 535.3 L857.2 535.3 L850.2 531.5 L850.2 531.5 L843.5 527.4 L845.6 524 L839.3 519.6 L839.3 519.6 L833.1 514.9 L833.1 514.9 L827.2 509.9 L827.2 509.9 L821.6 504.6 L821.6 504.6 L816.3 498.9 L816.3 498.9 L811.2 493 L808.1 495.6 L803.3 489.2 L803.3 489.2 L798.8 482.7 L798.8 482.7 L794.6 475.9 L794.6 475.9 L790.8 468.9 L790.8 468.9 L787.4 461.7 L787.4 461.7 L784.3 454.4 L784.3 454.4 L781.7 446.9 L777.9 448.1 L775.6 440.3 L775.6 440.3 L773.7 432.3 L773.7 432.3 L772.2 424.3 L772.2 424.3 L771.1 416.2 L771.1 416.2 L770.5 408.1 L770.5 408.1 L770.2 399.9Z" fill="#ff5019"/>
<path d="M774.2 399.9 L774.5 391.9 L774.5 391.9 L775.1 384 L775.1 384 L776.1 376.1 L776.1 376.1 L777.6 368.3 L777.6 368.3 L779.4 360.6 L779.4 360.6 L781.7 352.9 L777.9 351.7 L780.6 344 L780.6 344 L783.7 336.4 L783.7 336.4 L787.3 329.1 L787.3 329.1 L791.2 321.9 L791.2 321.9 L795.4 314.9 L795.4 314.9 L800 308.2 L800 308.2 L805 301.7 L805 301.7 L810.3 295.5 L810.3 295.5 L815.9 289.6 L815.9 289.6 L821.9 284 L821.9 284 L828.1 278.7 L825.6 275.6 L832.2 270.5 L832.2 270.5 L839.1 265.7 L839.1 265.7 L846.2 261.3 L848.2 264.8 L855.4 260.9 L857.2 264.5 L864.4 261 L866.1 264.7 L873.2 261.7 L873.2 261.7 L880.5 259.1 L879.3 255.3 L886.9 253.1 L885.9 249.2 L893.8 247.3 L893 243.4 L901.2 241.9 L901.2 241.9 L909.5 240.8 L909.9 244.8 L918.1 244.1 L918.1 244.1 L926.2 243.9 L926.2 247.9 L934.2 248.1 L934.2 248.1 L942.1 248.7 L941.7 252.7 L949.4 253.7 L949.4 253.7 L957 255.1 L957 255.1 L964.6 256.9 L966.6 249.2 L974.5 251.5 L975.7 247.7 L983.6 250.5 L983.6 250.5 L991.3 253.7 L989.7 257.4 L997.1 260.9 L995.3 264.5 L1002.2 268.3 L1000.2 271.7 L1006.9 275.8 L1006.9 275.8 L1013.2 280.2 L1013.2 280.2 L1019.4 284.9 L1021.9 281.8 L1028 286.9 L1028 286.9 L1033.7 292.4 L1033.7 292.4 L1039.2 298.2 L1039.2 298.2 L1044.4 304.2 L1044.4 304.2 L1049.2 310.6 L1049.2 310.6 L1053.7 317.1 L1057.1 314.9 L1061.3 321.9 L1061.3 321.9 L1065.2 329.1 L1065.2 329.1 L1068.8 336.4 L1072.4 334.8 L1075.6 342.6 L1075.6 342.6 L1078.4 350.5 L1078.4 350.5 L1080.8 358.5 L1080.8 358.5 L1082.8 366.6 L1082.8 366.6 L1084.3 374.9 L1084.3 374.9 L1085.4 383.2 L1093.3 382.3 L1094 391.1 L1094 391.1 L1094.2 399.9 L1098.2 399.9 L1098 408.9 L1098 408.9 L1097.3 417.9 L1097.3 417.9 L1096.1 426.8 L1096.1 426.8 L1094.5 435.7 L1094.5 435.7 L1092.4 444.4 L1092.4 444.4 L1089.8 453.1 L1086 451.8 L1083.1 460.1 L1083.1 460.1 L1079.7 468.2 L1076.1 466.6 L1072.4 474.4 L1068.8 472.5 L1064.8 479.9 L1061.3 477.9 L1057.1 484.9 L1057.1 484.9 L1052.5 491.6 L1052.5 491.6 L1047.5 498.1 L1047.5 498.1 L1042.2 504.3 L1045.2 507 L1039.4 513 L1039.4 513 L1033.3 518.8 L1033.3 518.8 L1026.9 524.2 L1026.9 524.2 L1020.3 529.3 L1022.6 532.6 L1015.6 537.4 L1015.6 537.4 L1008.2 541.9 L1008.2 541.9 L1000.7 546 L1000.7 546 L993 549.7 L991.3 546.1 L983.6 549.3 L983.6 549.3 L975.7 552.1 L973.2 544.5 L965.6 546.7 L964.6 542.9 L957 544.7 L955.4 536.8 L948.2 538.2 L948.2 538.2 L940.9 539.1 L940.9 539.1 L933.6 539.7 L933.6 539.7 L926.2 539.9 L926.2 539.9 L918.9 539.7 L918.9 539.7 L911.6 539.1 L911.6 539.1 L904.3 538.2 L904.3 538.2 L897.1 536.8 L896.3 540.8 L889 539 L889 539 L881.8 536.9 L880.5 540.7 L873.2 538.1 L873.2 538.1 L866.1 535.1 L864.4 538.8 L857.2 535.3 L857.2 535.3 L850.2 531.5 L850.2 531.5 L843.5 527.4 L845.6 524 L839.3 519.6 L839.3 519.6 L833.1 514.9 L833.1 514.9 L827.2 509.9 L827.2 509.9 L821.6 504.6 L821.6 504.6 L816.3 498.9 L816.3 498.9 L811.2 493 L808.1 495.6 L803.3 489.2 L806.5 486.9 L802.1 480.5 L802.1 480.5 L798.1 473.9 L798.1 473.9 L794.4 467.1 L794.4 467.1 L791 460.1 L787.4 461.7 L784.3 454.4 L784.3 454.4 L781.7 446.9 L781.7 446.9 L779.4 439.2 L779.4 439.2 L777.6 431.5 L777.6 431.5 L776.1 423.7 L776.1 423.7 L775.1 415.8 L775.1 415.8 L774.5 407.9 L774.5 407.9 L774.2 399.9Z" fill="#e63200"/>
<path d="M778.2 399.9 L778.5 392.2 L778.5 392.2 L779.1 384.4 L779.1 384.4 L780.1 376.7 L780.1 376.7 L781.5 369.1 L781.5 369.1 L783.3 361.6 L783.3 361.6 L785.5 354.2 L785.5 354.2 L788.1 346.9 L788.1 346.9 L791 339.7 L791 339.7 L794.4 332.7 L794.4 332.7 L798.1 325.9 L798.1 325.9 L802.1 319.3 L802.1 319.3 L806.5 312.9 L803.3 310.6 L808.1 304.2 L808.1 304.2 L813.3 298.2 L813.3 298.2 L818.8 292.4 L818.8 292.4 L824.5 286.9 L824.5 286.9 L830.6 281.8 L830.6 281.8 L836.9 276.9 L836.9 276.9 L843.5 272.4 L843.5 272.4 L850.2 268.3 L852.2 271.7 L859.1 268 L859.1 268 L866.1 264.7 L866.1 264.7 L873.2 261.7 L874.6 265.5 L881.8 262.9 L883 266.8 L890 264.7 L890 264.7 L897.1 263 L897.1 263 L904.3 261.6 L904.3 261.6 L911.6 260.7 L911.6 260.7 L918.9 260.1 L918.9 260.1 L926.2 259.9 L926.2 259.9 L933.6 260.1 L933.6 260.1 L940.9 260.7 L940.9 260.7 L948.2 261.6 L948.2 261.6 L955.4 263 L955.4 263 L962.5 264.7 L961.4 268.5 L968.3 270.6 L968.3 270.6 L975 272.9 L975 272.9 L981.6 275.7 L981.6 275.7 L988 278.7 L988 278.7 L994.2 282.1 L994.2 282.1 L1000.3 285.8 L1000.3 285.8 L1006.2 289.9 L1008.5 286.6 L1014.4 291.1 L1014.4 291.1 L1019.9 295.9 L1019.9 295.9 L1025.2 300.9 L1028.1 298.1 L1033.3 303.5 L1036.2 300.9 L1041.3 306.8 L1044.4 304.2 L1049.2 310.6 L1049.2 310.6 L1053.7 317.1 L1053.7 317.1 L1057.9 323.9 L1057.9 323.9 L1061.7 330.9 L1065.2 329.1 L1068.8 336.4 L1072.4 334.8 L1075.6 342.6 L1075.6 342.6 L1078.4 350.5 L1078.4 350.5 L1080.8 358.5 L1080.8 358.5 L1082.8 366.6 L1082.8 366.6 L1084.3 374.9 L1084.3 374.9 L1085.4 383.2 L1085.4 383.2 L1086 391.5 L1086 391.5 L1086.2 399.9 L1086.2 399.9 L1086 408.3 L1086 408.3 L1085.4 416.6 L1085.4 416.6 L1084.3 424.9 L1084.3 424.9 L1082.8 433.2 L1082.8 433.2 L1080.8 441.3 L1080.8 441.3 L1078.4 449.3 L1078.4 449.3 L1075.6 457.2 L1075.6 457.2 L1072.4 465 L1072.4 465 L1068.8 472.5 L1065.2 470.7 L1061.3 477.9 L1057.9 475.9 L1053.7 482.7 L1053.7 482.7 L1049.2 489.2 L1046 486.9 L1041.3 493 L1041.3 493 L1036.2 498.9 L1036.2 498.9 L1030.9 504.6 L1030.9 504.6 L1025.3 509.9 L1028 512.9 L1021.9 518 L1021.9 518 L1015.6 522.9 L1015.6 522.9 L1009 527.4 L1011.2 530.7 L1004.2 535 L1004.2 535 L997.1 538.9 L997.1 538.9 L989.7 542.4 L989.7 542.4 L982.2 545.5 L982.2 545.5 L974.5 548.3 L972 540.7 L964.6 542.9 L963.5 539 L956.2 540.8 L954.5 532.9 L947.5 534.2 L947.5 534.2 L940.5 535.2 L940.5 535.2 L933.4 535.7 L933.6 539.7 L926.2 539.9 L926.2 539.9 L918.9 539.7 L918.9 539.7 L911.6 539.1 L911.6 539.1 L904.3 538.2 L904.3 538.2 L897.1 536.8 L897.1 536.8 L890 535.1 L890 535.1 L883 533 L883 533 L876.1 530.6 L876.1 530.6 L869.3 527.8 L867.7 531.5 L860.9 528.2 L859.1 531.8 L852.2 528.1 L850.2 531.5 L843.5 527.4 L845.6 524 L839.3 519.6 L841.6 516.4 L835.6 511.8 L835.6 511.8 L829.9 506.9 L829.9 506.9 L824.4 501.7 L824.4 501.7 L819.2 496.3 L819.2 496.3 L814.3 490.5 L814.3 490.5 L809.8 484.5 L809.8 484.5 L805.5 478.3 L805.5 478.3 L801.5 471.9 L801.5 471.9 L797.9 465.3 L797.9 465.3 L794.7 458.5 L794.7 458.5 L791.8 451.5 L791.8 451.5 L789.3 444.4 L789.3 444.4 L787.2 437.2 L787.2 437.2 L785.4 429.8 L785.4 429.8 L784 422.4 L784 422.4 L783 415 L779.1 415.4 L778.5 407.6 L778.5 407.6 L778.2 399.9Z" fill="#b92300"/>
<path d="M790.2 399.9 L790.4 392.8 L790.4 392.8 L791 385.7 L791 385.7 L791.9 378.6 L791.9 378.6 L793.2 371.6 L793.2 371.6 L794.9 364.7 L794.9 364.7 L796.9 357.9 L796.9 357.9 L799.3 351.2 L799.3 351.2 L802 344.6 L802 344.6 L805.1 338.2 L805.1 338.2 L808.5 331.9 L808.5 331.9 L812.2 325.8 L812.2 325.8 L816.2 320 L816.2 320 L820.6 314.3 L820.6 314.3 L825.2 308.9 L825.2 308.9 L830.1 303.7 L830.1 303.7 L835.2 298.8 L835.2 298.8 L840.7 294.2 L840.7 294.2 L846.3 289.9 L846.3 289.9 L852.2 285.8 L852.2 285.8 L858.2 282.1 L858.2 282.1 L864.5 278.7 L864.5 278.7 L870.9 275.7 L874.2 283 L880.4 280.4 L880.4 280.4 L886.7 278.2 L886.7 278.2 L893.1 276.3 L893.1 276.3 L899.6 274.7 L898 266.9 L905 265.6 L904.3 261.6 L911.6 260.7 L911.6 260.7 L918.9 260.1 L918.9 260.1 L926.2 259.9 L926.2 259.9 L933.6 260.1 L933.6 260.1 L940.9 260.7 L940.9 260.7 L948.2 261.6 L948.2 261.6 L955.4 263 L955.4 263 L962.5 264.7 L961.4 268.5 L968.3 270.6 L968.3 270.6 L975 272.9 L975 272.9 L981.6 275.7 L981.6 275.7 L988 278.7 L988 278.7 L994.2 282.1 L994.2 282.1 L1000.3 285.8 L1000.3 285.8 L1006.2 289.9 L1006.2 289.9 L1011.8 294.2 L1011.8 294.2 L1017.3 298.8 L1019.9 295.9 L1025.2 300.9 L1025.2 300.9 L1030.3 306.2 L1033.3 303.5 L1038.2 309.3 L1041.3 306.8 L1046 312.9 L1046 312.9 L1050.4 319.3 L1053.7 317.1 L1057.9 323.9 L1057.9 323.9 L1061.7 330.9 L1061.7 330.9 L1065.1 338.1 L1061.5 339.7 L1064.4 346.9 L1068.2 345.4 L1070.8 352.9 L1074.6 351.7 L1076.9 359.5 L1080.8 358.5 L1082.8 366.6 L1082.8 366.6 L1084.3 374.9 L1084.3 374.9 L1085.4 383.2 L1085.4 383.2 L1086 391.5 L1086 391.5 L1086.2 399.9 L1086.2 399.9 L1086 408.3 L1086 408.3 L1085.4 416.6 L1085.4 416.6 L1084.3 424.9 L1084.3 424.9 L1082.8 433.2 L1082.8 433.2 L1080.8 441.3 L1080.8 441.3 L1078.4 449.3 L1078.4 449.3 L1075.6 457.2 L1075.6 457.2 L1072.4 465 L1068.8 463.4 L1065.2 470.7 L1061.7 468.9 L1057.9 475.9 L1054.4 473.9 L1050.4 480.5 L1047 478.3 L1042.7 484.5 L1039.5 482.2 L1035.1 488 L1035.1 488 L1030.3 493.6 L1030.3 493.6 L1025.2 498.9 L1025.2 498.9 L1019.9 503.9 L1022.6 506.9 L1016.9 511.8 L1016.9 511.8 L1010.9 516.4 L1013.2 519.6 L1006.9 524 L1006.9 524 L1000.2 528.1 L1000.2 528.1 L993.4 531.8 L993.4 531.8 L986.4 535.1 L986.4 535.1 L979.3 538.1 L979.3 538.1 L972 540.7 L972 540.7 L964.6 542.9 L963.5 539 L956.2 540.8 L954.5 532.9 L947.5 534.2 L947.5 534.2 L940.5 535.2 L940.5 535.2 L933.4 535.7 L933.4 535.7 L926.2 535.9 L926.2 527.9 L919.6 527.7 L919.6 527.7 L912.9 527.2 L912.9 527.2 L906.2 526.3 L905.6 530.3 L898.8 529 L898 532.9 L891.1 531.3 L890 535.1 L883 533 L883 533 L876.1 530.6 L876.1 530.6 L869.3 527.8 L869.3 527.8 L862.7 524.6 L864.5 521.1 L858.2 517.7 L858.2 517.7 L852.2 514 L852.2 514 L846.3 509.9 L846.3 509.9 L840.7 505.6 L840.7 505.6 L835.2 501 L835.2 501 L830.1 496.1 L830.1 496.1 L825.2 490.9 L825.2 490.9 L820.6 485.5 L820.6 485.5 L816.2 479.8 L816.2 479.8 L812.2 474 L812.2 474 L808.5 467.9 L808.5 467.9 L805.1 461.6 L805.1 461.6 L802 455.2 L802 455.2 L799.3 448.6 L799.3 448.6 L796.9 441.9 L796.9 441.9 L794.9 435.1 L794.9 435.1 L793.2 428.2 L793.2 428.2 L791.9 421.2 L791.9 421.2 L791 414.1 L791 414.1 L790.4 407 L790.4 407 L790.2 399.9Z" fill="#8b0000"/>
<rect x="717.1" y="284.7" width="226.2" height="225.1" fill="#fff"/>
<rect x="717.1" y="515.9" width="418.3" height="4" fill="#fff"/>
<path d="M883.7 352.3 L885.9 347.9 L886.7 340.9 L888.2 333.9 L889.7 326.9 L891.5 321.9 L890.5 318.9 L892.7 314 L895.7 309 L898.7 305 L902.6 302.5 L905.1 300 L905.1 297 L903.1 294.5 L906.1 292.5 L910.1 296 L912.1 294.5 L911.4 290.5 L915.1 291.5 L919.1 290.8 L920.8 287 L923.1 287 L923.6 290.5 L926.1 293 L929.6 291 L933.5 287.5 L937.5 286 L941.5 285.1 L947.5 286.5 L953.5 288.5 L959.5 290.5 L964.4 293 L969.4 296 L975.4 297 L982.4 298.5 L988.4 299 L992.4 300 L993.7 297.5 L995.7 297 L996.7 300.5 L997.7 306 L998.7 309 L1003.1 306.5 L1007.6 305.5 L1012.6 306.2 L1016.6 308.5 L1020.6 311 L1024.6 314 L1025.1 317 L1027.6 316.5 L1030.6 314 L1034.5 313.5 L1038 315 L1040.5 319 L1041.3 323 L1040.5 325.5 L1038.3 325 L1039 329.9 L1040.5 334.9 L1042.5 339.9 L1044.5 344.9 L1045.7 349.9 L1047 353.9 L1044.5 355.9 L1041.5 356.4 L1040.5 358.4 L1037 358.9 L1034.5 360.3 L1032.5 362.3 L1033.5 364.3 L1036.5 363.8 L1038.3 366.8 L1039 369.8 L1042.5 372.3 L1045.5 374.3 L1049.5 374.8 L1051.5 377.8 L1054.5 381.8 L1057.5 383.8 L1059.5 388.8 L1061 393.7 L1062 399.7 L1061.4 399.1 L1062.9 405.1 L1061.9 412.1 L1060.4 419 L1061.4 425 L1063.4 430 L1061.4 435 L1057.4 439 L1053.5 443 L1054.4 447 L1055.9 450.9 L1055.4 455.9 L1052.5 458.4 L1047.5 460.9 L1043.5 464.9 L1042 468.9 L1042 472.9 L1038 474.9 L1037.5 478.9 L1036 482.3 L1031.5 482.8 L1028.3 484.8 L1030 487.8 L1031 490.8 L1027.5 494.8 L1023.5 498.8 L1018.6 501.8 L1013.6 503.8 L1009.6 506.3 L1006.6 507.8 L1002.6 506.8 L1000.1 508.3 L994.6 506.3 L991.6 507.3 L985.7 509.3 L980.7 511.7 L976.7 509.8 L977.3 509.8 L974.3 512.2 L968.3 512.2 L963.4 510.8 L961.9 506.3 L960.4 506.3 L959.4 508.8 L953.4 509.3 L949.4 507.3 L944.9 506.3 L942.9 503.8 L943.4 498.8 L945.4 495.3 L947.9 493.3 L947.4 488.8 L949.4 484.8 L951.2 480.8 L950.4 476.9 L948.4 471.9 L945.9 466.9 L942.7 464.9 L946.4 461.9 L947.7 458.9 L945.9 453.9 L943.4 447.9 L939.4 443 L934.4 438.5 L931.5 437 L927.5 436.8 L925 434 L922.5 431 L919.5 429 L917.5 424.5 L913.5 422.5 L911 422.2 L909.7 425 L911 431 L909 436 L906.5 442 L904.5 445 L901.6 445.2 L897.6 443.8 L895.6 444.5 L896.6 448.9 L898.6 454.9 L900.6 460.9 L898.6 461.4 L899.6 464.9 L899.1 467.9 L897.1 468.4 L894.6 466.9 L893.1 462.9 L891.7 460.3 L888.3 459.8 L884.8 460.8 L882.8 463.8 L881.3 467.8 L877.3 465.8 L874.4 463.8 L871.4 463.3 L866.4 462.3 L862.9 461.8 L862.4 457.8 L862.9 452.8 L862.4 448.9 L859.4 448.9 L855.4 450.3 L849.4 451.3 L846.4 453.3 L844.4 452.3 L845.9 449.8 L846.4 446.4 L843.5 445.9 L842 442.4 L844.4 441.9 L847.9 440.9 L849.6 437.9 L848.9 433.9 L846.4 430.9 L843.5 431.4 L841 432.9 L838.5 430.9 L840.5 428.9 L843.5 427.9 L844.4 424.9 L842.5 421.9 L841 418.9 L840 415 L837.5 416 L832.5 417.9 L829.5 417 L830 414 L832.5 413 L833 410.2 L829.5 410 L827.5 412 L825.5 416 L823.5 419.9 L822.5 416 L821.5 413 L822.5 410.5 L825 410 L825.5 407.1 L827 400.7 L828 394.7 L828.7 389.8 L829 384.8 L831.3 380.8 L827 378.8 L829.5 375.3 L832.5 374.3 L834.7 372.8 L835.3 364.8 L833.5 361.3 L829.5 358.9 L823.5 357.4 L818.6 356.9 L815.6 355.9 L814.6 352.4 L811.6 350.4 L808.1 349.4 L805.6 350.4 L804.6 353.7 L801.6 352.4 L800.6 348.9 L803.6 348.9 L805.6 347.9 L802.6 346.9 L800.6 343.9 L799.1 340.9 L797.6 336.9 L795.1 332.9 L794.1 328.9 L793.6 324 L794.1 319 L794.8 315 L795.6 311 L799.1 311 L797.4 316 L798.6 317.5 L800.4 319.5 L797.6 322 L798.1 326 L799.1 330.4 L801.1 333.4 L803.6 336.4 L804.6 338.9 L806.6 342.9 L808.6 345.4 L812.6 346.9 L815.1 346.1 L817.6 344.9 L823.5 345.4 L829.5 346.9 L833.5 348.4 L837.5 350.4 L842.5 351.4 L843.5 353.4 L847.5 356.4 L850.5 360.3 L853.5 363.8 L855.4 367.8 L856.9 371.3 L858.4 369.3 L860.4 364.8 L863.4 361.3 L867.4 359.8 L873.4 357.9 L879.4 355.4 L884.4 350.9 L885.8 347.9Z" fill="#fff"/>
<path d="M893.6 444.5 L909.5 419 L933.5 429 L949.4 448.9 L953.4 480.8 L949.4 493.3 L942.9 503.8 L923.5 498.8 L899.1 467.9Z" fill="#fff"/>
<rect x="1032.2" y="324.2" width="9.1" height="14" fill="#8b0000"/>
<rect x="1032.9" y="357.9" width="7" height="4.2" fill="#8b0000"/>
<rect x="1039.9" y="373.3" width="11.2" height="8.4" fill="#8b0000"/>
<rect x="1051.1" y="381.7" width="9.8" height="9.1" fill="#8b0000"/>
<rect x="1051.1" y="396.4" width="11.2" height="18.9" fill="#8b0000"/>
<rect x="1044.1" y="437.8" width="12.6" height="8.4" fill="#8b0000"/>
<rect x="1035.7" y="458.8" width="11.2" height="2.8" fill="#8b0000"/>
<rect x="1028.7" y="468.6" width="11.2" height="8.4" fill="#8b0000"/>
<rect x="1023.1" y="478.4" width="9.8" height="8.4" fill="#8b0000"/>
<rect x="1009.1" y="493.8" width="11.2" height="6.2" fill="#8b0000"/>
<rect x="979.8" y="499.6" width="7" height="7" fill="#8b0000"/>
<rect x="1005.1" y="494" width="12.6" height="12.6" fill="#8b0000"/>
<rect x="1002.3" y="499.6" width="18.2" height="7" fill="#8b0000"/>
<rect x="1023.3" y="480" width="9.8" height="8.4" fill="#8b0000"/>
<rect x="996.6" y="503.8" width="8.4" height="4.2" fill="#8b0000"/>
<path d="M807.7 335 L892.5 335 L892.5 338.6 L889 338.6 L889 347 L892.5 347 L892.5 354 L889 354 L889 356.1 L882 356.1 L882 361 L879.1 361 L878.4 357.5 L873.5 357.5 L873.5 354 L870.7 354 L870.7 356.8 L866.5 356.8 L866.5 358.9 L863.7 358.9 L863.7 354 L858.1 354 L858.1 357.5 L855.3 357.5 L855.3 361.7 L851.1 360.3 L845.5 356.1 L839.9 352.6 L835.7 349.8 L832.2 349.8 L832.2 352.6 L825.9 352.6 L825.9 349.8 L823.1 349.8 L823.1 347 L816.1 346.3 L816.1 339.3 L811.9 339.3 L811.9 337.1 L807.7 337.1Z" fill="#8b0000"/>
<path d="M884.1 469.9 L884.1 466.8 L889 466.8 L889 462.6 L901.6 462.6 L901.6 457 L911.4 457 L911.4 459.8 L919.8 459.8 L919.8 462.3 L929.6 462.3 L929.6 469.9Z" fill="#8b0000"/>
<rect x="855.4" y="450.7" width="5.3" height="2.8" fill="#8b0000"/>
<rect x="842.8" y="416.1" width="4.2" height="1.2" fill="#8b0000"/>
</g>
<path d="M883.7 352.3 L885.9 347.9 L886.7 340.9 L888.2 333.9 L889.7 326.9 L891.5 321.9 L890.5 318.9 L892.7 314 L895.7 309 L898.7 305 L902.6 302.5 L905.1 300 L905.1 297 L903.1 294.5 L906.1 292.5 L910.1 296 L912.1 294.5 L911.4 290.5 L915.1 291.5 L919.1 290.8 L920.8 287 L923.1 287 L923.6 290.5 L926.1 293 L929.6 291 L933.5 287.5 L937.5 286 L941.5 285.1 L947.5 286.5 L953.5 288.5 L959.5 290.5 L964.4 293 L969.4 296 L975.4 297 L982.4 298.5 L988.4 299 L992.4 300 L993.7 297.5 L995.7 297 L996.7 300.5 L997.7 306 L998.7 309 L1003.1 306.5 L1007.6 305.5 L1012.6 306.2 L1016.6 308.5 L1020.6 311 L1024.6 314 L1025.1 317 L1027.6 316.5 L1030.6 314 L1034.5 313.5 L1038 315 L1040.5 319 L1041.3 323 L1040.5 325.5 L1038.3 325 L1039 329.9 L1040.5 334.9 L1042.5 339.9 L1044.5 344.9 L1045.7 349.9 L1047 353.9 L1044.5 355.9 L1041.5 356.4 L1040.5 358.4 L1037 358.9 L1034.5 360.3 L1032.5 362.3 L1033.5 364.3 L1036.5 363.8 L1038.3 366.8 L1039 369.8 L1042.5 372.3 L1045.5 374.3 L1049.5 374.8 L1051.5 377.8 L1054.5 381.8 L1057.5 383.8 L1059.5 388.8 L1061 393.7 L1062 399.7 L1061.4 399.1 L1062.9 405.1 L1061.9 412.1 L1060.4 419 L1061.4 425 L1063.4 430 L1061.4 435 L1057.4 439 L1053.5 443 L1054.4 447 L1055.9 450.9 L1055.4 455.9 L1052.5 458.4 L1047.5 460.9 L1043.5 464.9 L1042 468.9 L1042 472.9 L1038 474.9 L1037.5 478.9 L1036 482.3 L1031.5 482.8 L1028.3 484.8 L1030 487.8 L1031 490.8 L1027.5 494.8 L1023.5 498.8 L1018.6 501.8 L1013.6 503.8 L1009.6 506.3 L1006.6 507.8 L1002.6 506.8 L1000.1 508.3 L994.6 506.3 L991.6 507.3 L985.7 509.3 L980.7 511.7 L976.7 509.8 L977.3 509.8 L974.3 512.2 L968.3 512.2 L963.4 510.8 L961.9 506.3 L960.4 506.3 L959.4 508.8 L953.4 509.3 L949.4 507.3 L944.9 506.3 L942.9 503.8 L943.4 498.8 L945.4 495.3 L947.9 493.3 L947.4 488.8 L949.4 484.8 L951.2 480.8 L950.4 476.9 L948.4 471.9 L945.9 466.9 L942.7 464.9 L946.4 461.9 L947.7 458.9 L945.9 453.9 L943.4 447.9 L939.4 443 L934.4 438.5 L931.5 437 L927.5 436.8 L925 434 L922.5 431 L919.5 429 L917.5 424.5 L913.5 422.5 L911 422.2 L909.7 425 L911 431 L909 436 L906.5 442 L904.5 445 L901.6 445.2 L897.6 443.8 L895.6 444.5 L896.6 448.9 L898.6 454.9 L900.6 460.9 L898.6 461.4 L899.6 464.9 L899.1 467.9 L897.1 468.4 L894.6 466.9 L893.1 462.9 L891.7 460.3 L888.3 459.8 L884.8 460.8 L882.8 463.8 L881.3 467.8 L877.3 465.8 L874.4 463.8 L871.4 463.3 L866.4 462.3 L862.9 461.8 L862.4 457.8 L862.9 452.8 L862.4 448.9 L859.4 448.9 L855.4 450.3 L849.4 451.3 L846.4 453.3 L844.4 452.3 L845.9 449.8 L846.4 446.4 L843.5 445.9 L842 442.4 L844.4 441.9 L847.9 440.9 L849.6 437.9 L848.9 433.9 L846.4 430.9 L843.5 431.4 L841 432.9 L838.5 430.9 L840.5 428.9 L843.5 427.9 L844.4 424.9 L842.5 421.9 L841 418.9 L840 415 L837.5 416 L832.5 417.9 L829.5 417 L830 414 L832.5 413 L833 410.2 L829.5 410 L827.5 412 L825.5 416 L823.5 419.9 L822.5 416 L821.5 413 L822.5 410.5 L825 410 L825.5 407.1 L827 400.7 L828 394.7 L828.7 389.8 L829 384.8 L831.3 380.8 L827 378.8 L829.5 375.3 L832.5 374.3 L834.7 372.8 L835.3 364.8 L833.5 361.3 L829.5 358.9 L823.5 357.4 L818.6 356.9 L815.6 355.9 L814.6 352.4 L811.6 350.4 L808.1 349.4 L805.6 350.4 L804.6 353.7 L801.6 352.4 L800.6 348.9 L803.6 348.9 L805.6 347.9 L802.6 346.9 L800.6 343.9 L799.1 340.9 L797.6 336.9 L795.1 332.9 L794.1 328.9 L793.6 324 L794.1 319 L794.8 315 L795.6 311 L799.1 311 L797.4 316 L798.6 317.5 L800.4 319.5 L797.6 322 L798.1 326 L799.1 330.4 L801.1 333.4 L803.6 336.4 L804.6 338.9 L806.6 342.9 L808.6 345.4 L812.6 346.9 L815.1 346.1 L817.6 344.9 L823.5 345.4 L829.5 346.9 L833.5 348.4 L837.5 350.4 L842.5 351.4 L843.5 353.4 L847.5 356.4 L850.5 360.3 L853.5 363.8 L855.4 367.8 L856.9 371.3 L858.4 369.3 L860.4 364.8 L863.4 361.3 L867.4 359.8 L873.4 357.9 L879.4 355.4 L884.4 350.9 L885.8 347.9Z" fill="none" stroke="#000" stroke-width="1.75" stroke-linejoin="round"/>
<path d="M810.6 358.9 L821.6 358.9 L829.5 360.8 L832.5 363.8 L831.5 368.8 L827.5 370.8 L821.6 375.3 L819.1 373.3 L820.6 365.8 L819.6 363.3 L811.6 361.3 L810.6 358.9Z" fill="none" stroke="#000" stroke-width="1.75" stroke-linejoin="round"/>
<path d="M905.3 457.4 L906 454.4 L908 453.4 L909.5 455.4 L909.3 459.9 L907.5 461.9 L905.7 460.9 L905.3 457.4Z" fill="none" stroke="#000" stroke-width="1.75" stroke-linejoin="round"/>
<circle cx="815" cy="369.8" r="1.6" fill="none" stroke="#000" stroke-width="1.2"/>
<path d="M787 312.1 l-0.7 10" stroke="#000" stroke-width="2" fill="none"/>
<path d="M791.8 333.9 l2 -3 l1.5 2 l-2 4z" stroke="#000" stroke-width="1" fill="none"/>
<path d="M736.1 314 L736.7 318.7 L737 321.2 L738.6 324 L736.1 324.9 L735.8 328 L733 329.3 L730.8 333.6" fill="none" stroke="#000" stroke-width="1.5"/>
<path d="M801 279.7 l4 -1.6 l-1.6 3.2z" fill="#000"/>
<path d="M940.5 470.2 l3 -1 l0.3 2 l-3 0.3z" fill="#000"/>
<path d="M884.8 466.4 l2.5 -0.8 l-0.5 1.8z" fill="#000"/>
<path d="M827.8 414.4 q1.5 -2 3 -0.5 q1 1.5 -0.5 2.5" fill="none" stroke="#000" stroke-width="1.3"/>
<circle cx="926.2" cy="399.9" r="207.15" fill="none" stroke="#000" stroke-width="1.3"/>
<g clip-path="url(#cc3)">
<path d="M486.1 955.7 L486.1 952.7 L491 952.7 L491 945.6 L494.5 945.6 L494.5 940 L490.3 936.5 L486.8 936.5 L464.3 950.6 L473.1 938.4 L482.8 926.9 L493.2 916.1 L504.4 906.1 L516.2 896.9 L528.6 888.5 L541.6 881 L555.1 874.4 L569 868.8 L583.3 864.1 L597.8 860.5 L612.6 857.9 L627.6 856.3 L642.5 855.8 L657.5 856.3 L672.5 857.9 L687.3 860.5 L701.8 864.1 L716.1 868.8 L730 874.4 L743.5 881 L740.3 889.6 L736.1 898 L747.3 906.4 L758.5 913.4 L769.7 923.2 L778.1 933 L789.3 941.4 L797.7 951.3 L804.7 962.5 L811.7 973.7 L818 984.9 L820.4 991 L812 995.2 L812 1002.2 L826 1002.2 L828.8 1023.2 L845.6 1024.6 L846.3 1040.1 L835.1 1040.8 L835.8 1059.7 L826 1061.1 L826 1083.5 L835.8 1084.9 L835.1 1100.3 L833.7 1114.4 L829.5 1115.8 L829.5 1124.2 L817.6 1125.6 L814.8 1136.8 L809.2 1139.6 L807.8 1149.4 L799.4 1150.8 L795.1 1156.4 L802.2 1159.2 L802.2 1164.8 L795.1 1164.8 L786.7 1163.4 L781.1 1171 L785.5 1168 L777.1 1179.2 L771.5 1184.8 L763.1 1193.2 L753.3 1203 L743.5 1210 L732.3 1218.4 L735.1 1222.6 L735.1 1229.6 L726.7 1236.7 L721.1 1236.7 L721.1 1226.8 L707 1231.1 L693 1235.3 L679 1238.1 L667.8 1240.9 L667.8 1232.5 L623.8 1231.6 L623.1 1238.6 L600.7 1238.6 L589.5 1235.8 L578.3 1231.6 L571.2 1228.8 L569.8 1235.8 L558.6 1236.5 L550.2 1231.6 L544.6 1227.4 L527.8 1227.4 L532 1224.6 L532 1217.6 L527.8 1213.4 L519.4 1207.8 L511 1200.8 L505.4 1192.4 L509.6 1187.1Z" fill="#d7ebff"/>
<clipPath id="c3b"><path d="M486.1 955.7 L486.1 952.7 L491 952.7 L491 945.6 L494.5 945.6 L494.5 940 L490.3 936.5 L486.8 936.5 L464.3 950.6 L473.1 938.4 L482.8 926.9 L493.2 916.1 L504.4 906.1 L516.2 896.9 L528.6 888.5 L541.6 881 L555.1 874.4 L569 868.8 L583.3 864.1 L597.8 860.5 L612.6 857.9 L627.6 856.3 L642.5 855.8 L657.5 856.3 L672.5 857.9 L687.3 860.5 L701.8 864.1 L716.1 868.8 L730 874.4 L743.5 881 L740.3 889.6 L736.1 898 L747.3 906.4 L758.5 913.4 L769.7 923.2 L778.1 933 L789.3 941.4 L797.7 951.3 L804.7 962.5 L811.7 973.7 L818 984.9 L820.4 991 L812 995.2 L812 1002.2 L826 1002.2 L828.8 1023.2 L845.6 1024.6 L846.3 1040.1 L835.1 1040.8 L835.8 1059.7 L826 1061.1 L826 1083.5 L835.8 1084.9 L835.1 1100.3 L833.7 1114.4 L829.5 1115.8 L829.5 1124.2 L817.6 1125.6 L814.8 1136.8 L809.2 1139.6 L807.8 1149.4 L799.4 1150.8 L795.1 1156.4 L802.2 1159.2 L802.2 1164.8 L795.1 1164.8 L786.7 1163.4 L781.1 1171 L785.5 1168 L777.1 1179.2 L771.5 1184.8 L763.1 1193.2 L753.3 1203 L743.5 1210 L732.3 1218.4 L735.1 1222.6 L735.1 1229.6 L726.7 1236.7 L721.1 1236.7 L721.1 1226.8 L707 1231.1 L693 1235.3 L679 1238.1 L667.8 1240.9 L667.8 1232.5 L623.8 1231.6 L623.1 1238.6 L600.7 1238.6 L589.5 1235.8 L578.3 1231.6 L571.2 1228.8 L569.8 1235.8 L558.6 1236.5 L550.2 1231.6 L544.6 1227.4 L527.8 1227.4 L532 1224.6 L532 1217.6 L527.8 1213.4 L519.4 1207.8 L511 1200.8 L505.4 1192.4 L509.6 1187.1Z"/></clipPath>
<g clip-path="url(#c3b)">
<path d="M509.6 1187.1 L515.2 1187.1 L522.2 1196.6 L519.4 1202.2 L511 1200.8 L505.4 1192.4Z" fill="#ffe8d7"/>
<path d="M515.2 1187.1 L530.6 1187.1 L527.8 1193.8 L522.2 1196.6Z" fill="#82aaff"/>
<path d="M525 1196.6 L532 1191 L537.6 1198 L530.6 1202.2Z" fill="#afcdff"/>
<path d="M537.6 1187.1 L547.4 1187.1 L544.6 1195.2 L539 1198 L541.8 1202.2 L550.2 1205 L548.8 1213.4 L536.2 1212 L530.6 1210.6 L532 1205 L539 1202.2Z" fill="#ffe8d7"/>
<path d="M529.2 1212 L536.2 1212 L534.8 1224.6 L532 1226Z" fill="#ffe8d7"/>
<path d="M548.8 1187.1 L561.4 1187.1 L561.4 1191 L553 1191Z" fill="#82aaff"/>
<path d="M548.8 1198 L555.8 1192.4 L561.4 1198 L558.6 1206.4 L551.6 1205Z" fill="#afcdff"/>
<path d="M561.4 1187.1 L569.8 1187.1 L581.1 1196.6 L575.5 1205 L569.8 1202.2 L567 1212 L561.4 1217.6 L554.4 1219 L558.6 1209.2 L562.8 1198 L559.3 1193.8Z" fill="#82aaff"/>
<path d="M558.6 1217.6 L564.2 1213.4 L571.2 1214.8 L569.8 1223.2 L564.2 1226Z" fill="#4178ff"/>
<path d="M567 1212 L571.2 1205 L581.1 1209.2 L595.1 1212 L599.3 1220.4 L592.3 1224.6 L585.3 1221.8 L581.1 1220.4 L572.6 1216.2Z" fill="#afcdff"/>
<path d="M564.2 1226 L569.8 1223.2 L572.6 1217.6 L583.9 1221.8 L582.5 1230.2 L574.1 1230.2Z" fill="#82aaff"/>
<path d="M582.5 1221.8 L592.3 1224.6 L589.5 1231.6 L582.5 1230.2Z" fill="#afcdff"/>
<path d="M588.1 1228.8 L593.7 1224.6 L603.5 1230.2 L602.1 1238.6 L590.9 1235.8Z" fill="#82aaff"/>
<path d="M603.5 1230.2 L610.5 1228.8 L610.5 1238.6 L602.1 1238.6Z" fill="#afcdff"/>
<path d="M569.8 1187.1 L589.5 1187.1 L589.5 1198 L581.1 1196.6Z" fill="#ffe8d7"/>
<path d="M589.5 1187.1 L599.3 1187.1 L600.7 1198 L595.1 1200.8 L589.5 1198Z" fill="#ffcdb4"/>
<path d="M599.3 1187.1 L609.1 1187.1 L606.3 1198 L607.7 1206.4 L606.3 1216.2 L600.7 1223.2 L595.1 1212 L596.5 1203.6 L600.7 1198Z" fill="#ffe8d7"/>
<path d="M609.1 1187.1 L623.8 1187.1 L623.8 1196.6 L616.1 1198 L613.3 1205 L607.7 1206.4 L606.3 1198Z" fill="#ffcdb4"/>
<path d="M623.8 1187.1 L640.6 1187.1 L640.6 1196.6 L623.8 1196.6Z" fill="#ffaa87"/>
<path d="M640.6 1187.1 L649 1187.1 L649 1196.6 L640.6 1196.6Z" fill="#ffe8d7"/>
<path d="M655.3 1187.1 L663 1187.1 L663 1196.6 L655.3 1196.6Z" fill="#afcdff"/>
<path d="M621.7 1198 L627.3 1198 L627.3 1206.4 L621.7 1206.4Z" fill="#afcdff"/>
<path d="M645.5 1198 L656.7 1198 L656.7 1209.2 L645.5 1209.2Z" fill="#afcdff"/>
<path d="M609.1 1206.4 L631.5 1209.2 L632.2 1219 L625.9 1220.4 L609.1 1216.2Z" fill="#ffcdb4"/>
<path d="M632.2 1210.6 L640.6 1210.6 L640.6 1220.4 L632.2 1220.4Z" fill="#82aaff"/>
<path d="M645.5 1209.9 L663 1209.9 L663 1220.4 L645.5 1220.4Z" fill="#ffcdb4"/>
<path d="M611.9 1220.4 L625.9 1220.4 L625.9 1231.6 L613.3 1228.8Z" fill="#ffe8d7"/>
<path d="M625.9 1220.4 L638.5 1220.4 L638.5 1231.6 L625.9 1231.6Z" fill="#ffcdb4"/>
<path d="M638.5 1220.4 L653.2 1220.4 L653.2 1231.6 L638.5 1231.6Z" fill="#ffaa87"/>
<path d="M653.2 1220.4 L658.8 1220.4 L658.8 1231.6 L653.2 1231.6Z" fill="#ff7846"/>
<path d="M658.8 1220.4 L663 1220.4 L663 1231.6 L658.8 1231.6Z" fill="#ffaa87"/>
<path d="M757.5 1140 L771.5 1140 L763.1 1156.8 L771.5 1168 L763.1 1175 L754.7 1170.8 L740.7 1183.4 L730.9 1179.2 L746.3 1166.6 L754.7 1154Z" fill="#4178ff"/>
<path d="M730.9 1179.2 L735.1 1176.4 L740.7 1183.4 L736.5 1186.9Z" fill="#1950ff"/>
<path d="M771.5 1140 L779.9 1140 L782.7 1148.4 L774.3 1158.2 L763.1 1156.8Z" fill="#82aaff"/>
<path d="M763.1 1156.8 L771.5 1161 L770.1 1166.6 L764.5 1162.4Z" fill="#afcdff"/>
<path d="M740.7 1183.4 L754.7 1170.8 L763.1 1175 L771.5 1168 L777.1 1179.2 L763.1 1193.2 L754.7 1186.2 L746.3 1196 L735.1 1196 L729.5 1189Z" fill="#82aaff"/>
<path d="M771.5 1168 L779.9 1159.6 L784.1 1170.8 L777.1 1179.2Z" fill="#afcdff"/>
<path d="M771.5 1165.2 L778.5 1162.4 L782.7 1169.4 L777.1 1172.2Z" fill="#ffe8d7"/>
<path d="M781.3 1151.2 L788.3 1148.4 L803 1158.2 L803 1163.1 L795.3 1163.8Z" fill="#ffe8d7"/>
<path d="M749.1 1191.8 L754.7 1189 L760.3 1196 L754.7 1200.2Z" fill="#ffe8d7"/>
<path d="M726.7 1194.6 L735.1 1191.8 L736.5 1201.6 L729.5 1203Z" fill="#4178ff"/>
<path d="M735.1 1201.6 L746.3 1196 L753.3 1203 L743.5 1210 L737.9 1208.6Z" fill="#afcdff"/>
<path d="M707 1196 L718.3 1189 L729.5 1189 L726.7 1196 L721.1 1201.6 L709.8 1205.8Z" fill="#82aaff"/>
<path d="M690.2 1189 L707 1187.6 L709.8 1193.2 L695.8 1198.8 L690.2 1196Z" fill="#4178ff"/>
<path d="M677.6 1191.8 L690.2 1190.4 L690.2 1200.2 L680.4 1203Z" fill="#82aaff"/>
<path d="M665 1187.6 L677.6 1187.6 L679 1201.6 L670.6 1196Z" fill="#afcdff"/>
<path d="M687.4 1201.6 L698.6 1198.8 L707 1203 L721.1 1201.6 L729.5 1205.8 L721.1 1212.8 L709.8 1215.6 L701.4 1207.2 L693 1211.4Z" fill="#afcdff"/>
<path d="M721.1 1212.8 L732.3 1207.2 L735.1 1218.4 L732.3 1222.6 L735.1 1229.6 L726.7 1236.7 L721.1 1236.7 L721.1 1226.8 L723.9 1221.2Z" fill="#82aaff"/>
<path d="M701.4 1222.6 L718.3 1212.8 L723.9 1221.2 L721.1 1226.8 L707 1231.1Z" fill="#4178ff"/>
<path d="M686 1228.2 L701.4 1222.6 L707 1231.1 L693 1235.3 L687.4 1235.3Z" fill="#82aaff"/>
<path d="M667.8 1229.6 L676.2 1229.6 L679 1238.1 L667.8 1240.9Z" fill="#afcdff"/>
<path d="M674.8 1229.6 L680.4 1229.6 L683.2 1236.7 L678.3 1238.1Z" fill="#82aaff"/>
<path d="M690.2 1212.8 L698.6 1211.4 L699.3 1221.2 L693 1222.6Z" fill="#ffe8d7"/>
<path d="M677.6 1215.6 L684.6 1215.6 L686 1225.4 L679 1226.8Z" fill="#ffe8d7"/>
<path d="M623 1187.6 L639.8 1187.6 L640.5 1196 L623 1196.7Z" fill="#ffaa87"/>
<path d="M640.5 1187.6 L648.9 1187.6 L648.9 1196 L640.5 1196Z" fill="#ffe8d7"/>
<path d="M655.2 1187.6 L662.2 1187.6 L662.2 1196 L655.2 1196Z" fill="#afcdff"/>
<path d="M645.4 1197.4 L656.6 1197.4 L656.6 1208.6 L645.4 1208.6Z" fill="#afcdff"/>
<path d="M623 1210 L632.8 1210 L632.8 1219.8 L640.5 1219.8 L639.8 1210 L645.4 1209.3 L663.6 1208.6 L665 1221.2 L638.4 1221.2 L623 1221.2Z" fill="#ffcdb4"/>
<path d="M632.8 1210 L639.8 1210 L640.5 1219.8 L632.8 1219.8Z" fill="#82aaff"/>
<path d="M663.6 1200.2 L670.6 1198.8 L674.8 1207.2 L676.2 1221.2 L679 1226.8 L665 1229.6 L663.6 1221.2 L665 1210Z" fill="#ffaa87"/>
<path d="M656.6 1197.4 L663.6 1197.4 L663.6 1207.2 L657.3 1208.6Z" fill="#ffcdb4"/>
<path d="M667.8 1196 L673.4 1196 L673.4 1205.8 L669.2 1204.4Z" fill="#ffe8d7"/>
<path d="M638.4 1221.2 L653.1 1221.2 L653.1 1232.5 L638.4 1232.5Z" fill="#ffaa87"/>
<path d="M653.1 1220.5 L658.7 1220.5 L658.7 1232.5 L653.1 1232.5Z" fill="#ff7846"/>
<path d="M658.7 1221.2 L665 1221.2 L665 1229.6 L658.7 1231.8Z" fill="#ffaa87"/>
<path d="M623 1221.2 L638.4 1221.2 L638.4 1232.5 L623 1232.5Z" fill="#ffcdb4"/>
<path d="M761.5 998 L768.5 995.2 L772 1000.8 L765 1004.3Z" fill="#1950ff"/>
<path d="M769.9 991 L795.1 991 L793.7 998 L785.3 1000.8 L772.7 998Z" fill="#ffe8d7"/>
<path d="M775.5 1005 L783.9 1000.8 L795.1 996.6 L798 1002.2 L789.5 1006.4 L779.7 1010.6Z" fill="#82aaff"/>
<path d="M790.9 1007.8 L798 1003.6 L803.6 1010.6 L807.1 1019 L806.4 1024.6 L798 1024.6 L793.7 1019Z" fill="#ffe8d7"/>
<path d="M815.5 1003.6 L826 1002.2 L826 1010.6 L817.6 1010.6Z" fill="#1950ff"/>
<path d="M817.6 1010.6 L827.4 1010.6 L829.5 1023.2 L819 1019Z" fill="#82aaff"/>
<path d="M833 1025.3 L845.6 1025.3 L845.6 1040.1 L835.1 1040.1Z" fill="#82aaff"/>
<path d="M782.5 1016.2 L790.9 1014.8 L793.7 1020.4 L786.7 1023.2 L783.2 1021.8Z" fill="#82aaff"/>
<path d="M784.6 1024.6 L793.7 1020.4 L798 1031.7 L800.8 1044.3 L790.9 1047.1 L788.1 1035.9Z" fill="#4178ff"/>
<path d="M789.5 1041.5 L799.4 1040.1 L800.8 1045.7 L791.6 1048.5Z" fill="#1950ff"/>
<path d="M761.5 1026 L769.9 1022.5 L773.4 1030.3 L767.1 1034.5 L764.3 1033.1Z" fill="#ffaa87"/>
<path d="M772.7 1027.4 L781.1 1024.6 L783.9 1031.7 L774.1 1035.9Z" fill="#ffe8d7"/>
<path d="M767.1 1034.5 L774.1 1035.9 L772.7 1040.1 L767.1 1040.1Z" fill="#ffe8d7"/>
<path d="M755.9 1033.1 L762.9 1033.1 L763.6 1038 L757.3 1038Z" fill="#4178ff"/>
<path d="M755.9 1038 L775.5 1040.1 L776.2 1049.9 L767.1 1047.1 L757.3 1044.3Z" fill="#82aaff"/>
<path d="M778.3 1045.7 L789.5 1044.3 L790.9 1052.7 L779.7 1055.5Z" fill="#82aaff"/>
<path d="M811.3 1037.3 L821.8 1037.3 L823.2 1044.3 L812.7 1045Z" fill="#ffe8d7"/>
<path d="M800.8 1031.7 L810.6 1031.7 L810.6 1038.7 L802.2 1038.7Z" fill="#afcdff"/>
<path d="M813.4 1045.7 L824.6 1045 L825.3 1051.3 L814.1 1052.7Z" fill="#afcdff"/>
<path d="M779.7 1052.7 L790.9 1052.7 L790.2 1068.1 L781.1 1069.5Z" fill="#82aaff"/>
<path d="M779.7 1049.9 L790.9 1048.5 L790.9 1052.7 L779.7 1054.1Z" fill="#4178ff"/>
<path d="M790.9 1047.1 L802.2 1047.1 L802.9 1075.1 L790.9 1075.1Z" fill="#afcdff"/>
<path d="M813.4 1060.4 L825.3 1060.4 L825.3 1068.1 L813.4 1068.1Z" fill="#4178ff"/>
<path d="M781.1 1068.1 L790.2 1068.1 L790.2 1097.5 L786.7 1101.7 L779.7 1098.9 L779 1082.1Z" fill="#4178ff"/>
<path d="M790.9 1075.1 L802.9 1075.1 L802.9 1082.1 L790.9 1082.1Z" fill="#82aaff"/>
<path d="M813.4 1082.8 L826 1082.8 L826 1091.2 L813.4 1091.2Z" fill="#afcdff"/>
<path d="M826 1083.5 L835.8 1084.2 L835.1 1100.3 L824.6 1099.6Z" fill="#ffcdb4"/>
<path d="M813.4 1091.9 L824.6 1091.9 L824.6 1099.6 L835.1 1100.3 L833.7 1114.4 L823.2 1114.4 L821.8 1100.3 L813.4 1098.9Z" fill="#ffe8d7"/>
<path d="M789.5 1096.1 L800.8 1095.4 L800.8 1101.7 L789.5 1102.4Z" fill="#ffe8d7"/>
<path d="M779.7 1098.9 L786.7 1101.7 L798 1103.1 L798 1111.6 L786.7 1111.6 L778.3 1108.8Z" fill="#82aaff"/>
<path d="M809.2 1107.4 L820.4 1106 L821.8 1114.4 L810.6 1115.1Z" fill="#82aaff"/>
<path d="M772.7 1111.6 L781.1 1111.6 L783.9 1117.2 L781.1 1124.2 L772.7 1124.2 L769.9 1117.2Z" fill="#4178ff"/>
<path d="M795.1 1114.4 L819 1115.1 L817.6 1125.6 L814.8 1131.2 L803.6 1132.6 L795.1 1125.6Z" fill="#afcdff"/>
<path d="M778.3 1129.8 L793.7 1128.4 L795.1 1136.8 L781.1 1139.6Z" fill="#afcdff"/>
<path d="M769.9 1125.6 L778.3 1129.8 L781.1 1139.6 L772.7 1142.4 L767.1 1136.8Z" fill="#82aaff"/>
<path d="M761.5 1136.8 L769.9 1134 L775.5 1139.6 L769.9 1146.6 L764.3 1156.4 L769.9 1164.8 L767.1 1171 L736.3 1171 L744.7 1156.4 L753.1 1145.2Z" fill="#4178ff"/>
<path d="M769.9 1146.6 L778.3 1143.8 L781.1 1152.2 L778.3 1159.2 L769.9 1164.8 L764.3 1156.4Z" fill="#82aaff"/>
<path d="M788.1 1138.2 L795.1 1136.8 L799.4 1145.2 L792.3 1148 L786.7 1143.8Z" fill="#ffe8d7"/>
<path d="M799.4 1142.4 L809.2 1139.6 L807.8 1149.4 L799.4 1150.8Z" fill="#afcdff"/>
<path d="M781.1 1152.2 L789.5 1150.8 L795.1 1156.4 L802.2 1159.2 L802.2 1164.8 L795.1 1164.8 L786.7 1160.6 L781.1 1157.8Z" fill="#ffe8d7"/>
<path d="M764.3 1156.4 L772.7 1163.4 L781.1 1162 L783.9 1169 L781.1 1171 L767.1 1171Z" fill="#afcdff"/>
<path d="M772.7 1163.4 L781.1 1164.8 L779.7 1171 L772.7 1171Z" fill="#ffe8d7"/>
<path d="M638 864.4 L654.8 865.1 L654.8 875.6 L638 877Z" fill="#ffcdb4"/>
<path d="M680 882.6 L701 884 L702.4 902.2 L691.2 907.8 L685.6 917.6 L699.6 921.8 L703.8 909.2 L713.6 902.2 L716.4 912 L727.6 921.8 L736.1 928.8 L733.3 940 L724.8 945.6 L738.9 942.8 L741.7 947.1 L730.5 956.9 L716.4 962.5 L708 959.7 L705.2 951.3 L713.6 945.6 L699.6 940 L694 934.4 L680 928.8 L670.2 926 L650.6 923.2 L645 921.8 L645 902.2 L653.4 902.2 L653.4 911.3 L666.7 912 L667.4 902.2 L684.2 902.2 L685.6 892.4 L678.6 891Z" fill="#ffe8d7"/>
<path d="M654.8 865.1 L673 866.5 L671.6 888.2 L667.4 898 L653.4 902.2 L645 902.2 L646.4 877 L654.8 875.6Z" fill="#ffe8d7"/>
<path d="M673 866.5 L689.8 870 L689.8 881.2 L680 882.6 L678.6 891 L685.6 892.4 L684.2 902.2 L668.8 902.2 L667.4 898 L671.6 888.2Z" fill="#ffcdb4"/>
<path d="M638 899.4 L644.3 899.4 L644.3 909.2 L638 909.2Z" fill="#ffcdb4"/>
<path d="M653.4 902.2 L667.4 902.2 L666.7 912 L653.4 911.3Z" fill="#ffcdb4"/>
<path d="M713.6 884 L722 882.6 L723.4 891 L714.3 891Z" fill="#afcdff"/>
<path d="M722 884 L731.9 885.4 L730.5 893.8 L723.4 894.5Z" fill="#4178ff"/>
<path d="M717.8 896.6 L724.8 895.2 L727.6 903.6 L719.2 905Z" fill="#afcdff"/>
<path d="M724.8 900.8 L733.3 898 L736.1 906.4 L729.1 909.2Z" fill="#82aaff"/>
<path d="M727.6 912 L738.9 909.2 L744.5 923.2 L736.1 926 L727.6 920.4Z" fill="#afcdff"/>
<path d="M738.9 909.2 L748.7 906.4 L762.7 917.6 L758.5 927.4 L750.1 923.2 L744.5 914.8Z" fill="#82aaff"/>
<path d="M758.5 927.4 L762.7 917.6 L778.1 933 L789.3 942.8 L783.7 948.5 L772.5 940Z" fill="#afcdff"/>
<path d="M775.3 941.4 L780.9 937.2 L786.5 945.6 L782.3 949.2Z" fill="#82aaff"/>
<path d="M744.5 931.6 L752.9 927.4 L755.7 934.4 L748.7 938.6Z" fill="#afcdff"/>
<path d="M748.7 948.5 L757.1 941.4 L761.3 947.1 L752.9 954.1Z" fill="#afcdff"/>
<path d="M766.9 951.3 L775.3 945.6 L783.7 954.1 L778.1 963.9 L771.1 959.7Z" fill="#ffe8d7"/>
<path d="M741.7 956.9 L748.7 952.7 L752.9 959.7 L745.9 963.9Z" fill="#ffe8d7"/>
<path d="M650.6 923.2 L670.2 926 L670.2 934.4 L663.2 937.2 L652 934.4Z" fill="#82aaff"/>
<path d="M670.2 926 L680 928.8 L684.2 937.2 L674.4 940 L670.2 934.4Z" fill="#afcdff"/>
<path d="M645 934.4 L663.2 937.2 L663.2 945.6 L645 945.6Z" fill="#afcdff"/>
<path d="M640.8 933 L644.3 933 L644.3 945.6 L640.8 945.6Z" fill="#4178ff"/>
<path d="M668.1 937.2 L675.1 937.2 L674.4 947.1 L668.1 946.4Z" fill="#ffcdb4"/>
<path d="M638 945.6 L671.6 947.1 L671.6 954.1 L663.2 959.7 L652 956.2 L638 956.2Z" fill="#82aaff"/>
<path d="M671.6 940 L685.6 940 L686.3 948.5 L702.4 956.9 L710.8 966.7 L699.6 969.5 L684.2 963.9 L671.6 958.3Z" fill="#4178ff"/>
<path d="M685.6 942.8 L702.4 947.1 L706.6 954.1 L702.4 956.9 L686.3 948.5Z" fill="#82aaff"/>
<path d="M684.2 945.6 L691.2 947.1 L691.2 952.7 L685.6 951.3Z" fill="#afcdff"/>
<path d="M699.6 951.3 L706.6 952.7 L705.2 958.3 L701 956.9Z" fill="#afcdff"/>
<path d="M716.4 968.1 L722 959.7 L730.5 966.7 L738.9 962.5 L744.5 968.1 L736.1 979.3 L724.8 976.5Z" fill="#82aaff"/>
<path d="M722 965.3 L729.1 965.3 L729.1 973.7 L722 973.7Z" fill="#4178ff"/>
<path d="M738.9 969.5 L745.9 963.9 L752.9 970.9 L745.9 977.9Z" fill="#1950ff"/>
<path d="M745.9 977.9 L752.9 970.9 L759.9 966.7 L766.9 968.1 L768.3 976.5 L759.9 982.1 L752.9 982.1Z" fill="#4178ff"/>
<path d="M736.1 979.3 L745.9 977.9 L752.9 982.1 L759.9 982.1 L764.1 990.5 L766.9 997.5 L759.9 1001.7 L757.1 990.5 L748.7 983.5Z" fill="#82aaff"/>
<path d="M761.3 1000.3 L768.3 994.7 L771.8 1000.3 L765.5 1005.2Z" fill="#1950ff"/>
<path d="M759.9 1001.7 L771.8 1000.3 L778.1 1006 L758.5 1006Z" fill="#82aaff"/>
<path d="M764.1 982.1 L771.1 977.9 L776.7 986.3 L768.3 989.1Z" fill="#afcdff"/>
<path d="M771.1 975.1 L778.1 972.3 L786.5 965.3 L794.9 968.1 L799.1 977.9 L792.1 990.5 L794.9 997.5 L786.5 1001.7 L778.1 996.1 L772.5 990.5 L768.3 989.1 L776.7 986.3Z" fill="#ffe8d7"/>
<path d="M780.9 986.3 L786.5 982.1 L790.7 989.1 L785.1 993.3Z" fill="#ffcdb4"/>
<path d="M790.7 961.1 L797.7 955.5 L803.3 963.9 L796.3 968.1Z" fill="#82aaff"/>
<path d="M792.1 960.4 L799.1 956.9 L801.2 962.5 L794.9 965.3Z" fill="#4178ff"/>
<path d="M797.7 968.1 L806.1 966.7 L813.1 979.3 L806.1 982.1Z" fill="#82aaff"/>
<path d="M789.3 952.7 L796.3 951.3 L800.5 956.9 L792.1 959.7Z" fill="#afcdff"/>
<path d="M803.3 982.1 L813.1 979.3 L818 986.3 L818 996.1 L810.3 990.5Z" fill="#afcdff"/>
<path d="M804.7 982.1 L811.7 980.7 L814.5 987.7 L808.9 989.1Z" fill="#82aaff"/>
<path d="M789.3 996.1 L797.7 994.7 L800.5 1006 L786.5 1006Z" fill="#82aaff"/>
<path d="M710.8 968.1 L716.4 966.7 L719.2 973.7 L713.6 979.3 L708 972.3Z" fill="#afcdff"/>
<path d="M521.8 902.2 L535.8 893.8 L552.6 884 L569.5 877 L586.3 871.4 L603.1 868.6 L604.5 877 L597.5 881.2 L586.3 884 L577.9 885.4 L561.1 893.8 L541.4 903.6 L526 912Z" fill="#ffaa87"/>
<path d="M603.1 867.2 L621.3 863.7 L643 861.6 L643 877 L622.7 877.7 L604.5 878.4Z" fill="#ffcdb4"/>
<path d="M619.9 864.4 L629.7 863.7 L630.4 875.6 L622 877Z" fill="#ffaa87"/>
<path d="M491 931.6 L505 917.6 L521.8 902.2 L526 912 L513.4 923.2 L500.8 934.4Z" fill="#ffe8d7"/>
<path d="M513.4 923.2 L526 912 L541.4 903.6 L544.2 912 L533 921.8 L519 933Z" fill="#afcdff"/>
<path d="M500.8 955.7 L509.2 945.6 L519 933 L533 921.8 L544.2 912 L541.4 903.6 L561.1 893.8 L577.9 885.4 L586.3 884 L591.9 893.8 L584.9 898 L586.3 909.2 L575.1 916.2 L561.1 921.8 L549.8 928.8 L538.6 934.4 L527.4 945.6 L517.6 955.7Z" fill="#82aaff"/>
<path d="M516.2 940 L533 923.2 L538.6 931.6 L523.2 947.1Z" fill="#4178ff"/>
<path d="M561.1 907.8 L572.3 902.2 L579.3 909.2 L568.1 916.2Z" fill="#4178ff"/>
<path d="M586.3 884 L597.5 881.2 L604.5 878.4 L604.5 889.6 L591.9 893.8Z" fill="#afcdff"/>
<path d="M607.3 891 L614.3 892.4 L615 900.8 L608.7 899.4Z" fill="#afcdff"/>
<path d="M568.1 917.6 L586.3 909.2 L589.1 921.8 L591.9 928.8 L586.3 931.6 L572.3 926Z" fill="#afcdff"/>
<path d="M538.6 934.4 L549.8 928.8 L561.1 923.2 L563.9 931.6 L552.6 940 L541.4 942.8Z" fill="#ffe8d7"/>
<path d="M533 940 L541.4 934.4 L547 945.6 L538.6 951.3Z" fill="#ffcdb4"/>
<path d="M531.6 955.7 L541.4 945.6 L552.6 940 L561.1 934.4 L566.7 942.8 L575.1 948.5 L573.7 955.7Z" fill="#ffaa87"/>
<path d="M547 954.1 L554.1 952.7 L555.5 955.7 L547 955.7Z" fill="#ff7846"/>
<path d="M561.1 934.4 L566.7 931.6 L569.5 940 L566.7 942.8Z" fill="#ffcdb4"/>
<path d="M572.3 940 L586.3 934.4 L589.1 945.6 L597.5 951.3 L597.5 955.7 L575.1 955.7 L575.1 948.5Z" fill="#ffcdb4"/>
<path d="M586.3 945.6 L594.7 942.8 L598.9 955.7 L589.1 955.7Z" fill="#ffaa87"/>
<path d="M519 955.7 L521.8 949.9 L530.2 954.1 L531.6 955.7Z" fill="#ffe8d7"/>
<path d="M589.1 934.4 L593.3 930.2 L596.1 940 L593.3 942.8Z" fill="#1950ff"/>
<path d="M587.7 907.8 L594.7 906.4 L596.1 916.2 L590.5 917.6Z" fill="#ffe8d7"/>
<path d="M598.9 916.2 L610.1 914.8 L614.3 923.2 L611.5 928.8 L600.3 928.8Z" fill="#ffe8d7"/>
<path d="M596.1 928.8 L611.5 927.4 L614.3 935.8 L603.1 940 L597.5 940Z" fill="#ffcdb4"/>
<path d="M618.5 912 L624.1 902.2 L631.1 902.2 L631.1 921.8 L618.5 923.2Z" fill="#ffe8d7"/>
<path d="M632.5 899.4 L643 899.4 L643 909.2 L632.5 910.6Z" fill="#ffcdb4"/>
<path d="M632.5 910.6 L643 909.2 L643 921.8 L632.5 921.8Z" fill="#ffe8d7"/>
<path d="M610.1 948.5 L614.3 940 L625.5 935.8 L643 934.4 L643 955.7 L608.7 955.7Z" fill="#82aaff"/>
<path d="M626.9 935.8 L633.9 935.1 L633.9 945.6 L626.9 945.6Z" fill="#4178ff"/>
<path d="M612.9 948.5 L617.1 947.8 L617.1 955.7 L612.9 955.7Z" fill="#4178ff"/>
<path d="M617.1 937.2 L625.5 936.5 L625.5 945.6 L617.1 947.1Z" fill="#afcdff"/>
</g>
<rect x="433.4" y="956" width="226.2" height="231.2" fill="#fff"/>
<path d="M600 1023.2 L602.2 1018.8 L603 1011.8 L604.5 1004.8 L606 997.8 L607.8 992.8 L606.8 989.8 L609 984.9 L612 979.9 L615 975.9 L618.9 973.4 L621.4 970.9 L621.4 967.9 L619.4 965.4 L622.4 963.4 L626.4 966.9 L628.4 965.4 L627.7 961.4 L631.4 962.4 L635.4 961.7 L637.1 957.9 L639.4 957.9 L639.9 961.4 L642.4 963.9 L645.9 961.9 L649.8 958.4 L653.8 956.9 L657.8 956 L663.8 957.4 L669.8 959.4 L675.8 961.4 L680.7 963.9 L685.7 966.9 L691.7 967.9 L698.7 969.4 L704.7 969.9 L708.7 970.9 L710 968.4 L712 967.9 L713 971.4 L714 976.9 L715 979.9 L719.4 977.4 L723.9 976.4 L728.9 977.1 L732.9 979.4 L736.9 981.9 L740.9 984.9 L741.4 987.9 L743.9 987.4 L746.9 984.9 L750.8 984.4 L754.3 985.9 L756.8 989.9 L757.6 993.9 L756.8 996.4 L754.6 995.9 L755.3 1000.8 L756.8 1005.8 L758.8 1010.8 L760.8 1015.8 L762 1020.8 L763.3 1024.8 L760.8 1026.8 L757.8 1027.3 L756.8 1029.3 L753.3 1029.8 L750.8 1031.2 L748.8 1033.2 L749.8 1035.2 L752.8 1034.7 L754.6 1037.7 L755.3 1040.7 L758.8 1043.2 L761.8 1045.2 L765.8 1045.7 L767.8 1048.7 L770.8 1052.7 L773.8 1054.7 L775.8 1059.7 L777.3 1064.6 L778.3 1070.6 L777.7 1070 L779.2 1076 L778.2 1083 L776.7 1089.9 L777.7 1095.9 L779.7 1100.9 L777.7 1105.9 L773.7 1109.9 L769.8 1113.9 L770.7 1117.9 L772.2 1121.8 L771.7 1126.8 L768.8 1129.3 L763.8 1131.8 L759.8 1135.8 L758.3 1139.8 L758.3 1143.8 L754.3 1145.8 L753.8 1149.8 L752.3 1153.2 L747.8 1153.7 L744.6 1155.7 L746.3 1158.7 L747.3 1161.7 L743.8 1165.7 L739.8 1169.7 L734.9 1172.7 L729.9 1174.7 L725.9 1177.2 L722.9 1178.7 L718.9 1177.7 L716.4 1179.2 L710.9 1177.2 L707.9 1178.2 L702 1180.2 L697 1182.6 L693 1180.7 L693.6 1180.7 L690.6 1183.1 L684.6 1183.1 L679.7 1181.7 L678.2 1177.2 L676.7 1177.2 L675.7 1179.7 L669.7 1180.2 L665.7 1178.2 L661.2 1177.2 L659.2 1174.7 L659.7 1169.7 L661.7 1166.2 L664.2 1164.2 L663.7 1159.7 L665.7 1155.7 L667.5 1151.7 L666.7 1147.8 L664.7 1142.8 L662.2 1137.8 L659 1135.8 L662.7 1132.8 L664 1129.8 L662.2 1124.8 L659.7 1118.8 L655.7 1113.9 L650.7 1109.4 L647.8 1107.9 L643.8 1107.7 L641.3 1104.9 L638.8 1101.9 L635.8 1099.9 L633.8 1095.4 L629.8 1093.4 L627.3 1093.1 L626 1095.9 L627.3 1101.9 L625.3 1106.9 L622.8 1112.9 L620.8 1115.9 L617.9 1116.1 L613.9 1114.7 L611.9 1115.4 L612.9 1119.8 L614.9 1125.8 L616.9 1131.8 L614.9 1132.3 L615.9 1135.8 L615.4 1138.8 L613.4 1139.3 L610.9 1137.8 L609.4 1133.8 L608 1131.2 L604.6 1130.7 L601.1 1131.7 L599.1 1134.7 L597.6 1138.7 L593.6 1136.7 L590.7 1134.7 L587.7 1134.2 L582.7 1133.2 L579.2 1132.7 L578.7 1128.7 L579.2 1123.7 L578.7 1119.8 L575.7 1119.8 L571.7 1121.2 L565.7 1122.2 L562.7 1124.2 L560.7 1123.2 L562.2 1120.7 L562.7 1117.3 L559.8 1116.8 L558.3 1113.3 L560.7 1112.8 L564.2 1111.8 L565.9 1108.8 L565.2 1104.8 L562.7 1101.8 L559.8 1102.3 L557.3 1103.8 L554.8 1101.8 L556.8 1099.8 L559.8 1098.8 L560.7 1095.8 L558.8 1092.8 L557.3 1089.8 L556.3 1085.9 L553.8 1086.9 L548.8 1088.8 L545.8 1087.9 L546.3 1084.9 L548.8 1083.9 L549.3 1081.1 L545.8 1080.9 L543.8 1082.9 L541.8 1086.9 L539.8 1090.8 L538.8 1086.9 L537.8 1083.9 L538.8 1081.4 L541.3 1080.9 L541.8 1078 L543.3 1071.6 L544.3 1065.6 L545 1060.7 L545.3 1055.7 L547.6 1051.7 L543.3 1049.7 L545.8 1046.2 L548.8 1045.2 L551 1043.7 L551.6 1035.7 L549.8 1032.2 L545.8 1029.8 L539.8 1028.3 L534.9 1027.8 L531.9 1026.8 L530.9 1023.3 L527.9 1021.3 L524.4 1020.3 L521.9 1021.3 L520.9 1024.6 L517.9 1023.3 L516.9 1019.8 L519.9 1019.8 L521.9 1018.8 L518.9 1017.8 L516.9 1014.8 L515.4 1011.8 L513.9 1007.8 L511.4 1003.8 L510.4 999.8 L509.9 994.9 L510.4 989.9 L511.1 985.9 L511.9 981.9 L515.4 981.9 L513.7 986.9 L514.9 988.4 L516.7 990.4 L513.9 992.9 L514.4 996.9 L515.4 1001.3 L517.4 1004.3 L519.9 1007.3 L520.9 1009.8 L522.9 1013.8 L524.9 1016.3 L528.9 1017.8 L531.4 1017 L533.9 1015.8 L539.8 1016.3 L545.8 1017.8 L549.8 1019.3 L553.8 1021.3 L558.8 1022.3 L559.8 1024.3 L563.8 1027.3 L566.8 1031.2 L569.8 1034.7 L571.7 1038.7 L573.2 1042.2 L574.7 1040.2 L576.7 1035.7 L579.7 1032.2 L583.7 1030.7 L589.7 1028.8 L595.7 1026.3 L600.7 1021.8 L602.1 1018.8Z" fill="#fff"/>
<path d="M609.9 1115.4 L625.8 1089.9 L649.8 1099.9 L665.7 1119.8 L669.7 1151.7 L665.7 1164.2 L659.2 1174.7 L639.8 1169.7 L615.4 1138.8Z" fill="#fff"/>
<clipPath id="c3w"><path d="M516.9 1001.1 L604.6 1001.1 L606.1 1005.8 L605.6 1009.8 L603.6 1014.8 L606.6 1018.8 L605.6 1023.8 L601.7 1024.8 L600.7 1021.8 L595.7 1018.8 L593.7 1021.8 L588.7 1024.8 L585.7 1024.3 L579.7 1019.8 L576.7 1023.8 L573.7 1026.8 L572.7 1032.7 L568.8 1031.7 L563.8 1026.8 L559.8 1024.3 L553.8 1021.3 L549.8 1018.8 L543.8 1014.8 L535.9 1010.8 L529.9 1007.8 L522.9 1005.3 L519.9 1001.8Z"/></clipPath>
<g clip-path="url(#c3w)"><path d="M516.9 1001.1 L604.6 1001.1 L606.1 1005.8 L605.6 1009.8 L603.6 1014.8 L606.6 1018.8 L605.6 1023.8 L601.7 1024.8 L600.7 1021.8 L595.7 1018.8 L593.7 1021.8 L588.7 1024.8 L585.7 1024.3 L579.7 1019.8 L576.7 1023.8 L573.7 1026.8 L572.7 1032.7 L568.8 1031.7 L563.8 1026.8 L559.8 1024.3 L553.8 1021.3 L549.8 1018.8 L543.8 1014.8 L535.9 1010.8 L529.9 1007.8 L522.9 1005.3 L519.9 1001.8Z" fill="#d7ebff"/>
<path d="M516.9 1001.1 L521.9 1001.1 L520.9 1004.8Z" fill="#ff7846"/>
<path d="M526.9 1001.1 L535.9 1001.1 L535.9 1005.3 L531.9 1004.3Z" fill="#ffaa87"/>
<path d="M521.9 1004.8 L531.9 1004.3 L535.9 1005.8 L543.8 1010.8 L553.8 1013.8 L559.8 1018.8 L567.8 1021.8 L572.7 1026.8 L577.7 1019.8 L585.7 1023.8 L589.7 1019.8 L585.7 1013.8 L579.7 1009.8 L569.8 1005.8 L563.8 1006.8 L559.8 1009.8 L555.8 1009.8 L553.8 1006.8 L545.8 1008.8 L539.8 1001.8 L536.9 1001.8 L535.9 1005.3Z" fill="#82aaff"/>
<path d="M536.9 1001.8 L539.8 1001.8 L544.8 1008.8 L543.8 1010.8 L537.9 1006.8Z" fill="#4178ff"/>
<path d="M548.8 1002.8 L553.8 1001.8 L559.8 1007.8 L555.8 1009.8 L553.8 1005.8Z" fill="#ffe8d7"/>
<path d="M553.8 1001.1 L563.8 1001.1 L561.8 1005.8 L559.8 1006.8Z" fill="#ffcdb4"/>
<path d="M579.7 1001.8 L589.7 1001.1 L593.7 1005.8 L589.7 1009.8 L585.7 1010.8 L579.7 1005.8Z" fill="#ffcdb4"/>
<path d="M563.8 1005.8 L569.8 1003.8 L579.7 1009.8 L585.7 1013.8 L589.7 1018.8 L595.7 1013.8 L589.7 1009.8 L585.7 1010.8Z" fill="#afcdff"/>
</g>
<linearGradient id="gl3" x1="0" x2="1" y1="0" y2="0"><stop offset="0" stop-color="#ffcdb4"/><stop offset="0.35" stop-color="#ff7846"/><stop offset="0.66" stop-color="#ff5019"/><stop offset="0.67" stop-color="#4178ff"/><stop offset="0.85" stop-color="#82aaff"/><stop offset="1" stop-color="#d7ebff"/></linearGradient>
<rect x="494.5" y="1094.9" width="68.1" height="1.9" fill="url(#gl3)"/>
<rect x="600.9" y="1135.3" width="17" height="5" fill="#ffe8d7"/>
<rect x="618.9" y="1129.8" width="6.5" height="11" fill="#afcdff"/>
</g>
<path d="M600 1023.2 L602.2 1018.8 L603 1011.8 L604.5 1004.8 L606 997.8 L607.8 992.8 L606.8 989.8 L609 984.9 L612 979.9 L615 975.9 L618.9 973.4 L621.4 970.9 L621.4 967.9 L619.4 965.4 L622.4 963.4 L626.4 966.9 L628.4 965.4 L627.7 961.4 L631.4 962.4 L635.4 961.7 L637.1 957.9 L639.4 957.9 L639.9 961.4 L642.4 963.9 L645.9 961.9 L649.8 958.4 L653.8 956.9 L657.8 956 L663.8 957.4 L669.8 959.4 L675.8 961.4 L680.7 963.9 L685.7 966.9 L691.7 967.9 L698.7 969.4 L704.7 969.9 L708.7 970.9 L710 968.4 L712 967.9 L713 971.4 L714 976.9 L715 979.9 L719.4 977.4 L723.9 976.4 L728.9 977.1 L732.9 979.4 L736.9 981.9 L740.9 984.9 L741.4 987.9 L743.9 987.4 L746.9 984.9 L750.8 984.4 L754.3 985.9 L756.8 989.9 L757.6 993.9 L756.8 996.4 L754.6 995.9 L755.3 1000.8 L756.8 1005.8 L758.8 1010.8 L760.8 1015.8 L762 1020.8 L763.3 1024.8 L760.8 1026.8 L757.8 1027.3 L756.8 1029.3 L753.3 1029.8 L750.8 1031.2 L748.8 1033.2 L749.8 1035.2 L752.8 1034.7 L754.6 1037.7 L755.3 1040.7 L758.8 1043.2 L761.8 1045.2 L765.8 1045.7 L767.8 1048.7 L770.8 1052.7 L773.8 1054.7 L775.8 1059.7 L777.3 1064.6 L778.3 1070.6 L777.7 1070 L779.2 1076 L778.2 1083 L776.7 1089.9 L777.7 1095.9 L779.7 1100.9 L777.7 1105.9 L773.7 1109.9 L769.8 1113.9 L770.7 1117.9 L772.2 1121.8 L771.7 1126.8 L768.8 1129.3 L763.8 1131.8 L759.8 1135.8 L758.3 1139.8 L758.3 1143.8 L754.3 1145.8 L753.8 1149.8 L752.3 1153.2 L747.8 1153.7 L744.6 1155.7 L746.3 1158.7 L747.3 1161.7 L743.8 1165.7 L739.8 1169.7 L734.9 1172.7 L729.9 1174.7 L725.9 1177.2 L722.9 1178.7 L718.9 1177.7 L716.4 1179.2 L710.9 1177.2 L707.9 1178.2 L702 1180.2 L697 1182.6 L693 1180.7 L693.6 1180.7 L690.6 1183.1 L684.6 1183.1 L679.7 1181.7 L678.2 1177.2 L676.7 1177.2 L675.7 1179.7 L669.7 1180.2 L665.7 1178.2 L661.2 1177.2 L659.2 1174.7 L659.7 1169.7 L661.7 1166.2 L664.2 1164.2 L663.7 1159.7 L665.7 1155.7 L667.5 1151.7 L666.7 1147.8 L664.7 1142.8 L662.2 1137.8 L659 1135.8 L662.7 1132.8 L664 1129.8 L662.2 1124.8 L659.7 1118.8 L655.7 1113.9 L650.7 1109.4 L647.8 1107.9 L643.8 1107.7 L641.3 1104.9 L638.8 1101.9 L635.8 1099.9 L633.8 1095.4 L629.8 1093.4 L627.3 1093.1 L626 1095.9 L627.3 1101.9 L625.3 1106.9 L622.8 1112.9 L620.8 1115.9 L617.9 1116.1 L613.9 1114.7 L611.9 1115.4 L612.9 1119.8 L614.9 1125.8 L616.9 1131.8 L614.9 1132.3 L615.9 1135.8 L615.4 1138.8 L613.4 1139.3 L610.9 1137.8 L609.4 1133.8 L608 1131.2 L604.6 1130.7 L601.1 1131.7 L599.1 1134.7 L597.6 1138.7 L593.6 1136.7 L590.7 1134.7 L587.7 1134.2 L582.7 1133.2 L579.2 1132.7 L578.7 1128.7 L579.2 1123.7 L578.7 1119.8 L575.7 1119.8 L571.7 1121.2 L565.7 1122.2 L562.7 1124.2 L560.7 1123.2 L562.2 1120.7 L562.7 1117.3 L559.8 1116.8 L558.3 1113.3 L560.7 1112.8 L564.2 1111.8 L565.9 1108.8 L565.2 1104.8 L562.7 1101.8 L559.8 1102.3 L557.3 1103.8 L554.8 1101.8 L556.8 1099.8 L559.8 1098.8 L560.7 1095.8 L558.8 1092.8 L557.3 1089.8 L556.3 1085.9 L553.8 1086.9 L548.8 1088.8 L545.8 1087.9 L546.3 1084.9 L548.8 1083.9 L549.3 1081.1 L545.8 1080.9 L543.8 1082.9 L541.8 1086.9 L539.8 1090.8 L538.8 1086.9 L537.8 1083.9 L538.8 1081.4 L541.3 1080.9 L541.8 1078 L543.3 1071.6 L544.3 1065.6 L545 1060.7 L545.3 1055.7 L547.6 1051.7 L543.3 1049.7 L545.8 1046.2 L548.8 1045.2 L551 1043.7 L551.6 1035.7 L549.8 1032.2 L545.8 1029.8 L539.8 1028.3 L534.9 1027.8 L531.9 1026.8 L530.9 1023.3 L527.9 1021.3 L524.4 1020.3 L521.9 1021.3 L520.9 1024.6 L517.9 1023.3 L516.9 1019.8 L519.9 1019.8 L521.9 1018.8 L518.9 1017.8 L516.9 1014.8 L515.4 1011.8 L513.9 1007.8 L511.4 1003.8 L510.4 999.8 L509.9 994.9 L510.4 989.9 L511.1 985.9 L511.9 981.9 L515.4 981.9 L513.7 986.9 L514.9 988.4 L516.7 990.4 L513.9 992.9 L514.4 996.9 L515.4 1001.3 L517.4 1004.3 L519.9 1007.3 L520.9 1009.8 L522.9 1013.8 L524.9 1016.3 L528.9 1017.8 L531.4 1017 L533.9 1015.8 L539.8 1016.3 L545.8 1017.8 L549.8 1019.3 L553.8 1021.3 L558.8 1022.3 L559.8 1024.3 L563.8 1027.3 L566.8 1031.2 L569.8 1034.7 L571.7 1038.7 L573.2 1042.2 L574.7 1040.2 L576.7 1035.7 L579.7 1032.2 L583.7 1030.7 L589.7 1028.8 L595.7 1026.3 L600.7 1021.8 L602.1 1018.8Z" fill="none" stroke="#000" stroke-width="1.75" stroke-linejoin="round"/>
<path d="M526.9 1029.8 L537.9 1029.8 L545.8 1031.7 L548.8 1034.7 L547.8 1039.7 L543.8 1041.7 L537.9 1046.2 L535.4 1044.2 L536.9 1036.7 L535.9 1034.2 L527.9 1032.2 L526.9 1029.8Z" fill="none" stroke="#000" stroke-width="1.75" stroke-linejoin="round"/>
<path d="M621.6 1128.3 L622.3 1125.3 L624.3 1124.3 L625.8 1126.3 L625.6 1130.8 L623.8 1132.8 L622 1131.8 L621.6 1128.3Z" fill="none" stroke="#000" stroke-width="1.75" stroke-linejoin="round"/>
<circle cx="531.3" cy="1040.7" r="1.6" fill="none" stroke="#000" stroke-width="1.2"/>
<path d="M503.3 983 l-0.7 10" stroke="#000" stroke-width="2" fill="none"/>
<path d="M508 1004.8 l2 -3 l1.5 2 l-2 4z" stroke="#000" stroke-width="1" fill="none"/>
<path d="M452.4 984.9 L453 989.6 L453.3 992.1 L454.9 994.9 L452.4 995.8 L452.1 998.9 L449.3 1000.2 L447.1 1004.5" fill="none" stroke="#000" stroke-width="1.5"/>
<path d="M517.2 950.6 l4 -1.6 l-1.6 3.2z" fill="#000"/>
<path d="M656.8 1141.1 l3 -1 l0.3 2 l-3 0.3z" fill="#000"/>
<path d="M601 1137.3 l2.5 -0.8 l-0.5 1.8z" fill="#000"/>
<path d="M544 1085.3 q1.5 -2 3 -0.5 q1 1.5 -0.5 2.5" fill="none" stroke="#000" stroke-width="1.3"/>
<circle cx="642.5" cy="1070.8" r="207.15" fill="none" stroke="#000" stroke-width="1.3"/>
</svg></body></html>
